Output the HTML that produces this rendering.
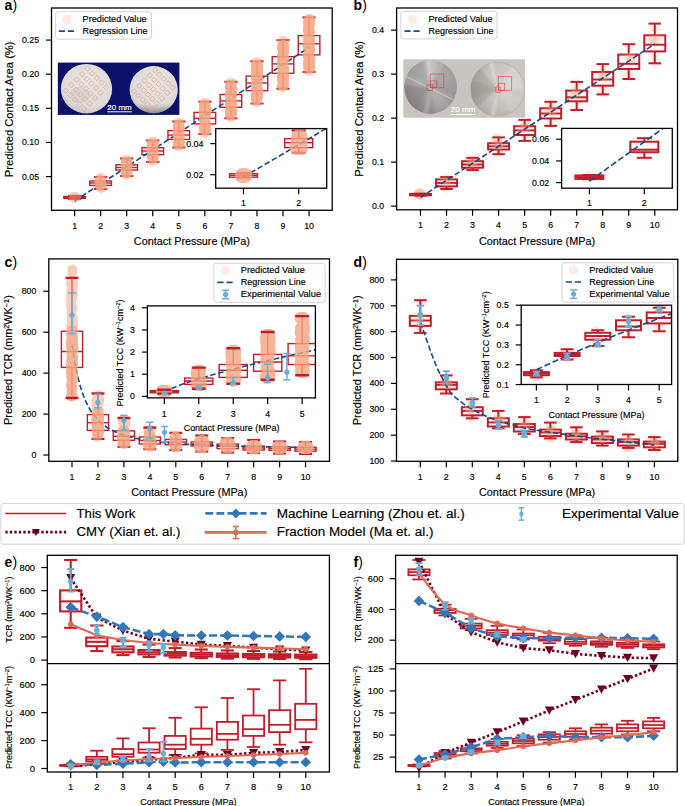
<!DOCTYPE html>
<html><head><meta charset="utf-8"><style>
html,body{margin:0;padding:0;background:#fff;}
svg{display:block;font-family:"Liberation Sans",sans-serif;}
</style></head><body>
<svg width="685" height="806" viewBox="0 0 685 806">
<rect width="685" height="806" fill="#fff"/>
<defs><filter id="soft" x="-20%" y="-20%" width="140%" height="140%"><feGaussianBlur stdDeviation="0.6"/></filter></defs>
<text x="4.6" y="9.8" font-size="14" font-weight="bold" fill="#000">a<tspan font-weight="normal">)</tspan></text>
<text x="353.6" y="9.8" font-size="14" font-weight="bold" fill="#000">b<tspan font-weight="normal">)</tspan></text>
<text x="4.6" y="266.6" font-size="14" font-weight="bold" fill="#000">c<tspan font-weight="normal">)</tspan></text>
<text x="353.6" y="266.6" font-size="14" font-weight="bold" fill="#000">d<tspan font-weight="normal">)</tspan></text>
<text x="4.6" y="566.6" font-size="14" font-weight="bold" fill="#000">e<tspan font-weight="normal">)</tspan></text>
<text x="353.6" y="566.6" font-size="14" font-weight="bold" fill="#000">f<tspan font-weight="normal">)</tspan></text>
<rect x="51.5" y="8" width="280.7" height="202.3" fill="#fff"/>
<line x1="74.6" y1="195.9" x2="74.6" y2="196.5" stroke="#c21d2b" stroke-width="1.4" stroke-linecap="butt"/>
<line x1="74.6" y1="198.3" x2="74.6" y2="198.9" stroke="#c21d2b" stroke-width="1.4" stroke-linecap="butt"/>
<rect x="63.8" y="196.5" width="21.6" height="1.8" fill="#fff" stroke="#c21d2b" stroke-width="1.4"/>
<line x1="63.8" y1="197.4" x2="85.4" y2="197.4" stroke="#c21d2b" stroke-width="1.4" stroke-linecap="butt"/>
<line x1="68" y1="195.9" x2="81.2" y2="195.9" stroke="#c21d2b" stroke-width="2" stroke-linecap="butt"/>
<line x1="68" y1="198.9" x2="81.2" y2="198.9" stroke="#c21d2b" stroke-width="2" stroke-linecap="butt"/>
<line x1="100.65" y1="177" x2="100.65" y2="181" stroke="#c21d2b" stroke-width="1.4" stroke-linecap="butt"/>
<line x1="100.65" y1="185.4" x2="100.65" y2="189" stroke="#c21d2b" stroke-width="1.4" stroke-linecap="butt"/>
<rect x="89.85" y="181" width="21.6" height="4.4" fill="#fff" stroke="#c21d2b" stroke-width="1.4"/>
<line x1="89.85" y1="183" x2="111.45" y2="183" stroke="#c21d2b" stroke-width="1.4" stroke-linecap="butt"/>
<line x1="94.05" y1="177" x2="107.25" y2="177" stroke="#c21d2b" stroke-width="2" stroke-linecap="butt"/>
<line x1="94.05" y1="189" x2="107.25" y2="189" stroke="#c21d2b" stroke-width="2" stroke-linecap="butt"/>
<line x1="126.7" y1="158.5" x2="126.7" y2="164.8" stroke="#c21d2b" stroke-width="1.4" stroke-linecap="butt"/>
<line x1="126.7" y1="170" x2="126.7" y2="176" stroke="#c21d2b" stroke-width="1.4" stroke-linecap="butt"/>
<rect x="115.9" y="164.8" width="21.6" height="5.2" fill="#fff" stroke="#c21d2b" stroke-width="1.4"/>
<line x1="115.9" y1="167.5" x2="137.5" y2="167.5" stroke="#c21d2b" stroke-width="1.4" stroke-linecap="butt"/>
<line x1="120.1" y1="158.5" x2="133.3" y2="158.5" stroke="#c21d2b" stroke-width="2" stroke-linecap="butt"/>
<line x1="120.1" y1="176" x2="133.3" y2="176" stroke="#c21d2b" stroke-width="2" stroke-linecap="butt"/>
<line x1="152.75" y1="140.5" x2="152.75" y2="147.7" stroke="#c21d2b" stroke-width="1.4" stroke-linecap="butt"/>
<line x1="152.75" y1="154.7" x2="152.75" y2="162" stroke="#c21d2b" stroke-width="1.4" stroke-linecap="butt"/>
<rect x="141.95" y="147.7" width="21.6" height="7" fill="#fff" stroke="#c21d2b" stroke-width="1.4"/>
<line x1="141.95" y1="151" x2="163.55" y2="151" stroke="#c21d2b" stroke-width="1.4" stroke-linecap="butt"/>
<line x1="146.15" y1="140.5" x2="159.35" y2="140.5" stroke="#c21d2b" stroke-width="2" stroke-linecap="butt"/>
<line x1="146.15" y1="162" x2="159.35" y2="162" stroke="#c21d2b" stroke-width="2" stroke-linecap="butt"/>
<line x1="178.8" y1="121.5" x2="178.8" y2="130.7" stroke="#c21d2b" stroke-width="1.4" stroke-linecap="butt"/>
<line x1="178.8" y1="139.4" x2="178.8" y2="147.5" stroke="#c21d2b" stroke-width="1.4" stroke-linecap="butt"/>
<rect x="168" y="130.7" width="21.6" height="8.7" fill="#fff" stroke="#c21d2b" stroke-width="1.4"/>
<line x1="168" y1="135" x2="189.6" y2="135" stroke="#c21d2b" stroke-width="1.4" stroke-linecap="butt"/>
<line x1="172.2" y1="121.5" x2="185.4" y2="121.5" stroke="#c21d2b" stroke-width="2" stroke-linecap="butt"/>
<line x1="172.2" y1="147.5" x2="185.4" y2="147.5" stroke="#c21d2b" stroke-width="2" stroke-linecap="butt"/>
<line x1="204.85" y1="101.7" x2="204.85" y2="112.4" stroke="#c21d2b" stroke-width="1.4" stroke-linecap="butt"/>
<line x1="204.85" y1="123.9" x2="204.85" y2="134" stroke="#c21d2b" stroke-width="1.4" stroke-linecap="butt"/>
<rect x="194.05" y="112.4" width="21.6" height="11.5" fill="#fff" stroke="#c21d2b" stroke-width="1.4"/>
<line x1="194.05" y1="118.3" x2="215.65" y2="118.3" stroke="#c21d2b" stroke-width="1.4" stroke-linecap="butt"/>
<line x1="198.25" y1="101.7" x2="211.45" y2="101.7" stroke="#c21d2b" stroke-width="2" stroke-linecap="butt"/>
<line x1="198.25" y1="134" x2="211.45" y2="134" stroke="#c21d2b" stroke-width="2" stroke-linecap="butt"/>
<line x1="230.9" y1="81.8" x2="230.9" y2="94.5" stroke="#c21d2b" stroke-width="1.4" stroke-linecap="butt"/>
<line x1="230.9" y1="107.3" x2="230.9" y2="118.3" stroke="#c21d2b" stroke-width="1.4" stroke-linecap="butt"/>
<rect x="220.1" y="94.5" width="21.6" height="12.8" fill="#fff" stroke="#c21d2b" stroke-width="1.4"/>
<line x1="220.1" y1="100.9" x2="241.7" y2="100.9" stroke="#c21d2b" stroke-width="1.4" stroke-linecap="butt"/>
<line x1="224.3" y1="81.8" x2="237.5" y2="81.8" stroke="#c21d2b" stroke-width="2" stroke-linecap="butt"/>
<line x1="224.3" y1="118.3" x2="237.5" y2="118.3" stroke="#c21d2b" stroke-width="2" stroke-linecap="butt"/>
<line x1="256.95" y1="61.3" x2="256.95" y2="76.1" stroke="#c21d2b" stroke-width="1.4" stroke-linecap="butt"/>
<line x1="256.95" y1="90.7" x2="256.95" y2="103.5" stroke="#c21d2b" stroke-width="1.4" stroke-linecap="butt"/>
<rect x="246.15" y="76.1" width="21.6" height="14.6" fill="#fff" stroke="#c21d2b" stroke-width="1.4"/>
<line x1="246.15" y1="83" x2="267.75" y2="83" stroke="#c21d2b" stroke-width="1.4" stroke-linecap="butt"/>
<line x1="250.35" y1="61.3" x2="263.55" y2="61.3" stroke="#c21d2b" stroke-width="2" stroke-linecap="butt"/>
<line x1="250.35" y1="103.5" x2="263.55" y2="103.5" stroke="#c21d2b" stroke-width="2" stroke-linecap="butt"/>
<line x1="283" y1="40.1" x2="283" y2="56.7" stroke="#c21d2b" stroke-width="1.4" stroke-linecap="butt"/>
<line x1="283" y1="73.3" x2="283" y2="88.7" stroke="#c21d2b" stroke-width="1.4" stroke-linecap="butt"/>
<rect x="272.2" y="56.7" width="21.6" height="16.6" fill="#fff" stroke="#c21d2b" stroke-width="1.4"/>
<line x1="272.2" y1="63.9" x2="293.8" y2="63.9" stroke="#c21d2b" stroke-width="1.4" stroke-linecap="butt"/>
<line x1="276.4" y1="40.1" x2="289.6" y2="40.1" stroke="#c21d2b" stroke-width="2" stroke-linecap="butt"/>
<line x1="276.4" y1="88.7" x2="289.6" y2="88.7" stroke="#c21d2b" stroke-width="2" stroke-linecap="butt"/>
<line x1="309.05" y1="17.4" x2="309.05" y2="35.6" stroke="#c21d2b" stroke-width="1.4" stroke-linecap="butt"/>
<line x1="309.05" y1="54.9" x2="309.05" y2="72" stroke="#c21d2b" stroke-width="1.4" stroke-linecap="butt"/>
<rect x="298.25" y="35.6" width="21.6" height="19.3" fill="#fff" stroke="#c21d2b" stroke-width="1.4"/>
<line x1="298.25" y1="43.8" x2="319.85" y2="43.8" stroke="#c21d2b" stroke-width="1.4" stroke-linecap="butt"/>
<line x1="302.45" y1="17.4" x2="315.65" y2="17.4" stroke="#c21d2b" stroke-width="2" stroke-linecap="butt"/>
<line x1="302.45" y1="72" x2="315.65" y2="72" stroke="#c21d2b" stroke-width="2" stroke-linecap="butt"/>
<line x1="74.6" y1="201" x2="309.05" y2="47.5" stroke="#174a8b" stroke-width="1.6" stroke-linecap="butt" stroke-dasharray="5.6,2.6"/>
<g opacity="0.500" filter="url(#soft)">
<circle cx="74.87" cy="197.3" r="5.1" fill="#f4a582"/>
<circle cx="74.36" cy="197.3" r="5.1" fill="#f4a582"/>
<circle cx="73.77" cy="197.3" r="5.1" fill="#f4a582"/>
<circle cx="73.86" cy="197.3" r="5.1" fill="#f4a582"/>
<circle cx="73.92" cy="197.3" r="5.1" fill="#f4a582"/>
<circle cx="75.41" cy="197.3" r="5.1" fill="#f4a582"/>
<circle cx="75.46" cy="197.3" r="5.1" fill="#f4a582"/>
<circle cx="74.22" cy="197.3" r="5.1" fill="#f4a582"/>
<circle cx="74.26" cy="197.3" r="5.1" fill="#f4a582"/>
<circle cx="74.75" cy="197.3" r="5.1" fill="#f4a582"/>
<circle cx="74.69" cy="197.3" r="5.1" fill="#f4a582"/>
<circle cx="74.07" cy="197.3" r="5.1" fill="#f4a582"/>
<circle cx="74.27" cy="197.3" r="5.1" fill="#f4a582"/>
<circle cx="74.24" cy="197.3" r="5.1" fill="#f4a582"/>
<circle cx="74.14" cy="197.3" r="5.1" fill="#f4a582"/>
<circle cx="75.28" cy="197.3" r="5.1" fill="#f4a582"/>
<circle cx="75.46" cy="197.3" r="5.1" fill="#f4a582"/>
<circle cx="75.06" cy="197.3" r="5.1" fill="#f4a582"/>
<circle cx="73.77" cy="197.3" r="5.1" fill="#f4a582"/>
<circle cx="74.73" cy="197.3" r="5.1" fill="#f4a582"/>
<circle cx="74.95" cy="197.3" r="5.1" fill="#f4a582"/>
<circle cx="74.52" cy="197.3" r="5.1" fill="#f4a582"/>
<circle cx="74.55" cy="197.3" r="5.1" fill="#f4a582"/>
<circle cx="74.96" cy="197.3" r="5.1" fill="#f4a582"/>
<circle cx="75.18" cy="197.3" r="5.1" fill="#f4a582"/>
</g>
<g opacity="0.780" filter="url(#soft)">
</g>
<g opacity="0.500" filter="url(#soft)">
<circle cx="100.95" cy="181.63" r="5.1" fill="#f4a582"/>
<circle cx="100.05" cy="182.54" r="5.1" fill="#f4a582"/>
<circle cx="101.13" cy="178.6" r="5.1" fill="#f4a582"/>
<circle cx="100.45" cy="179.97" r="5.1" fill="#f4a582"/>
<circle cx="100.56" cy="178.6" r="5.1" fill="#f4a582"/>
<circle cx="101.22" cy="187.4" r="5.1" fill="#f4a582"/>
<circle cx="100.5" cy="180.34" r="5.1" fill="#f4a582"/>
<circle cx="101.47" cy="187.4" r="5.1" fill="#f4a582"/>
<circle cx="100.17" cy="179.11" r="5.1" fill="#f4a582"/>
<circle cx="100.81" cy="182.82" r="5.1" fill="#f4a582"/>
<circle cx="100.5" cy="178.6" r="5.1" fill="#f4a582"/>
<circle cx="101.47" cy="183.8" r="5.1" fill="#f4a582"/>
<circle cx="100.86" cy="183.19" r="5.1" fill="#f4a582"/>
<circle cx="101.37" cy="178.6" r="5.1" fill="#f4a582"/>
<circle cx="101.19" cy="187.4" r="5.1" fill="#f4a582"/>
<circle cx="99.94" cy="181.79" r="5.1" fill="#f4a582"/>
<circle cx="99.87" cy="178.6" r="5.1" fill="#f4a582"/>
<circle cx="100.36" cy="178.95" r="5.1" fill="#f4a582"/>
<circle cx="100.02" cy="178.6" r="5.1" fill="#f4a582"/>
<circle cx="99.8" cy="181.36" r="5.1" fill="#f4a582"/>
<circle cx="100.02" cy="184.37" r="5.1" fill="#f4a582"/>
<circle cx="100.41" cy="181.17" r="5.1" fill="#f4a582"/>
<circle cx="101.54" cy="187.19" r="5.1" fill="#f4a582"/>
<circle cx="99.9" cy="182.81" r="5.1" fill="#f4a582"/>
<circle cx="100.23" cy="181.11" r="5.1" fill="#f4a582"/>
<circle cx="99.79" cy="178.94" r="5.1" fill="#f4a582"/>
<circle cx="100.01" cy="183.54" r="5.1" fill="#f4a582"/>
<circle cx="100.7" cy="178.6" r="5.1" fill="#f4a582"/>
<circle cx="101" cy="187.4" r="5.1" fill="#f4a582"/>
<circle cx="100.05" cy="181.4" r="5.1" fill="#f4a582"/>
<circle cx="101.15" cy="183.39" r="5.1" fill="#f4a582"/>
<circle cx="101.21" cy="179.68" r="5.1" fill="#f4a582"/>
<circle cx="101.2" cy="187.4" r="5.1" fill="#f4a582"/>
<circle cx="100.16" cy="185.88" r="5.1" fill="#f4a582"/>
</g>
<g opacity="0.780" filter="url(#soft)">
<circle cx="100.95" cy="181.63" r="5.1" fill="#f4a582"/>
<circle cx="100.05" cy="182.54" r="5.1" fill="#f4a582"/>
<circle cx="100.5" cy="180.34" r="5.1" fill="#f4a582"/>
<circle cx="100.81" cy="182.82" r="5.1" fill="#f4a582"/>
<circle cx="101.47" cy="183.8" r="5.1" fill="#f4a582"/>
<circle cx="100.86" cy="183.19" r="5.1" fill="#f4a582"/>
<circle cx="99.94" cy="181.79" r="5.1" fill="#f4a582"/>
<circle cx="99.8" cy="181.36" r="5.1" fill="#f4a582"/>
<circle cx="100.02" cy="184.37" r="5.1" fill="#f4a582"/>
<circle cx="100.41" cy="181.17" r="5.1" fill="#f4a582"/>
<circle cx="99.9" cy="182.81" r="5.1" fill="#f4a582"/>
<circle cx="100.23" cy="181.11" r="5.1" fill="#f4a582"/>
<circle cx="100.01" cy="183.54" r="5.1" fill="#f4a582"/>
<circle cx="100.05" cy="181.4" r="5.1" fill="#f4a582"/>
<circle cx="101.15" cy="183.39" r="5.1" fill="#f4a582"/>
<circle cx="100.16" cy="185.88" r="5.1" fill="#f4a582"/>
</g>
<g opacity="0.500" filter="url(#soft)">
<circle cx="125.85" cy="164.72" r="5.1" fill="#f4a582"/>
<circle cx="126.27" cy="163.39" r="5.1" fill="#f4a582"/>
<circle cx="126.61" cy="174.4" r="5.1" fill="#f4a582"/>
<circle cx="127.52" cy="174.4" r="5.1" fill="#f4a582"/>
<circle cx="126.21" cy="162.36" r="5.1" fill="#f4a582"/>
<circle cx="126.92" cy="162.08" r="5.1" fill="#f4a582"/>
<circle cx="126.66" cy="174.4" r="5.1" fill="#f4a582"/>
<circle cx="125.95" cy="172.49" r="5.1" fill="#f4a582"/>
<circle cx="127.21" cy="174.4" r="5.1" fill="#f4a582"/>
<circle cx="126.12" cy="166.87" r="5.1" fill="#f4a582"/>
<circle cx="127.24" cy="164.32" r="5.1" fill="#f4a582"/>
<circle cx="126.52" cy="164.7" r="5.1" fill="#f4a582"/>
<circle cx="126.11" cy="172.76" r="5.1" fill="#f4a582"/>
<circle cx="127.43" cy="161.15" r="5.1" fill="#f4a582"/>
<circle cx="127.29" cy="161.06" r="5.1" fill="#f4a582"/>
<circle cx="126.43" cy="171.1" r="5.1" fill="#f4a582"/>
<circle cx="125.83" cy="160.79" r="5.1" fill="#f4a582"/>
<circle cx="126.75" cy="170.92" r="5.1" fill="#f4a582"/>
<circle cx="127.37" cy="165.63" r="5.1" fill="#f4a582"/>
<circle cx="126.25" cy="162.19" r="5.1" fill="#f4a582"/>
<circle cx="126.86" cy="162.71" r="5.1" fill="#f4a582"/>
<circle cx="126.04" cy="165.83" r="5.1" fill="#f4a582"/>
<circle cx="126.62" cy="163.67" r="5.1" fill="#f4a582"/>
<circle cx="126.56" cy="174.33" r="5.1" fill="#f4a582"/>
<circle cx="126.76" cy="167.29" r="5.1" fill="#f4a582"/>
<circle cx="126.59" cy="160.1" r="5.1" fill="#f4a582"/>
<circle cx="127.24" cy="160.1" r="5.1" fill="#f4a582"/>
<circle cx="127.11" cy="166.79" r="5.1" fill="#f4a582"/>
<circle cx="126.73" cy="164.2" r="5.1" fill="#f4a582"/>
<circle cx="125.99" cy="172.22" r="5.1" fill="#f4a582"/>
<circle cx="126.3" cy="162.85" r="5.1" fill="#f4a582"/>
<circle cx="126.81" cy="167.38" r="5.1" fill="#f4a582"/>
<circle cx="126.6" cy="174.4" r="5.1" fill="#f4a582"/>
<circle cx="126.72" cy="167.35" r="5.1" fill="#f4a582"/>
<circle cx="126.76" cy="166.42" r="5.1" fill="#f4a582"/>
<circle cx="127.06" cy="174.4" r="5.1" fill="#f4a582"/>
<circle cx="126.27" cy="174.4" r="5.1" fill="#f4a582"/>
<circle cx="127.31" cy="174.4" r="5.1" fill="#f4a582"/>
<circle cx="126.6" cy="160.63" r="5.1" fill="#f4a582"/>
<circle cx="125.93" cy="162.71" r="5.1" fill="#f4a582"/>
<circle cx="127.41" cy="172.22" r="5.1" fill="#f4a582"/>
<circle cx="126.99" cy="171.03" r="5.1" fill="#f4a582"/>
<circle cx="127.54" cy="173.95" r="5.1" fill="#f4a582"/>
</g>
<g opacity="0.780" filter="url(#soft)">
<circle cx="125.85" cy="164.72" r="5.1" fill="#f4a582"/>
<circle cx="126.27" cy="163.39" r="5.1" fill="#f4a582"/>
<circle cx="126.21" cy="162.36" r="5.1" fill="#f4a582"/>
<circle cx="126.92" cy="162.08" r="5.1" fill="#f4a582"/>
<circle cx="125.95" cy="172.49" r="5.1" fill="#f4a582"/>
<circle cx="126.12" cy="166.87" r="5.1" fill="#f4a582"/>
<circle cx="127.24" cy="164.32" r="5.1" fill="#f4a582"/>
<circle cx="126.52" cy="164.7" r="5.1" fill="#f4a582"/>
<circle cx="126.11" cy="172.76" r="5.1" fill="#f4a582"/>
<circle cx="126.43" cy="171.1" r="5.1" fill="#f4a582"/>
<circle cx="126.75" cy="170.92" r="5.1" fill="#f4a582"/>
<circle cx="127.37" cy="165.63" r="5.1" fill="#f4a582"/>
<circle cx="126.25" cy="162.19" r="5.1" fill="#f4a582"/>
<circle cx="126.86" cy="162.71" r="5.1" fill="#f4a582"/>
<circle cx="126.04" cy="165.83" r="5.1" fill="#f4a582"/>
<circle cx="126.62" cy="163.67" r="5.1" fill="#f4a582"/>
<circle cx="126.76" cy="167.29" r="5.1" fill="#f4a582"/>
<circle cx="127.11" cy="166.79" r="5.1" fill="#f4a582"/>
<circle cx="126.73" cy="164.2" r="5.1" fill="#f4a582"/>
<circle cx="125.99" cy="172.22" r="5.1" fill="#f4a582"/>
<circle cx="126.3" cy="162.85" r="5.1" fill="#f4a582"/>
<circle cx="126.81" cy="167.38" r="5.1" fill="#f4a582"/>
<circle cx="126.72" cy="167.35" r="5.1" fill="#f4a582"/>
<circle cx="126.76" cy="166.42" r="5.1" fill="#f4a582"/>
<circle cx="125.93" cy="162.71" r="5.1" fill="#f4a582"/>
<circle cx="127.41" cy="172.22" r="5.1" fill="#f4a582"/>
<circle cx="126.99" cy="171.03" r="5.1" fill="#f4a582"/>
</g>
<g opacity="0.500" filter="url(#soft)">
<circle cx="152.57" cy="160.4" r="5.1" fill="#f4a582"/>
<circle cx="153.35" cy="160.4" r="5.1" fill="#f4a582"/>
<circle cx="152.78" cy="149.78" r="5.1" fill="#f4a582"/>
<circle cx="152.42" cy="144.71" r="5.1" fill="#f4a582"/>
<circle cx="152.85" cy="142.1" r="5.1" fill="#f4a582"/>
<circle cx="152.45" cy="142.1" r="5.1" fill="#f4a582"/>
<circle cx="151.97" cy="151.51" r="5.1" fill="#f4a582"/>
<circle cx="153.6" cy="159.47" r="5.1" fill="#f4a582"/>
<circle cx="151.92" cy="146.21" r="5.1" fill="#f4a582"/>
<circle cx="152.08" cy="146.31" r="5.1" fill="#f4a582"/>
<circle cx="153.32" cy="160.1" r="5.1" fill="#f4a582"/>
<circle cx="153.5" cy="143.71" r="5.1" fill="#f4a582"/>
<circle cx="152.01" cy="155.56" r="5.1" fill="#f4a582"/>
<circle cx="152.62" cy="155.3" r="5.1" fill="#f4a582"/>
<circle cx="152.99" cy="160.4" r="5.1" fill="#f4a582"/>
<circle cx="153.39" cy="142.3" r="5.1" fill="#f4a582"/>
<circle cx="152.67" cy="159.05" r="5.1" fill="#f4a582"/>
<circle cx="153.52" cy="152.39" r="5.1" fill="#f4a582"/>
<circle cx="152.8" cy="143.28" r="5.1" fill="#f4a582"/>
<circle cx="152.14" cy="142.85" r="5.1" fill="#f4a582"/>
<circle cx="152.41" cy="144.84" r="5.1" fill="#f4a582"/>
<circle cx="152.37" cy="156.83" r="5.1" fill="#f4a582"/>
<circle cx="152.47" cy="144.32" r="5.1" fill="#f4a582"/>
<circle cx="151.88" cy="145.88" r="5.1" fill="#f4a582"/>
<circle cx="152.19" cy="152.35" r="5.1" fill="#f4a582"/>
<circle cx="152.04" cy="160.4" r="5.1" fill="#f4a582"/>
<circle cx="152.74" cy="149.79" r="5.1" fill="#f4a582"/>
<circle cx="152.76" cy="148.95" r="5.1" fill="#f4a582"/>
<circle cx="152.47" cy="160.4" r="5.1" fill="#f4a582"/>
<circle cx="152.99" cy="155.69" r="5.1" fill="#f4a582"/>
<circle cx="151.95" cy="147.97" r="5.1" fill="#f4a582"/>
<circle cx="153.18" cy="142.1" r="5.1" fill="#f4a582"/>
<circle cx="152" cy="144.01" r="5.1" fill="#f4a582"/>
<circle cx="153.06" cy="159.22" r="5.1" fill="#f4a582"/>
<circle cx="152.38" cy="145.71" r="5.1" fill="#f4a582"/>
<circle cx="152.65" cy="143.89" r="5.1" fill="#f4a582"/>
<circle cx="153.6" cy="160.4" r="5.1" fill="#f4a582"/>
<circle cx="153.59" cy="145.76" r="5.1" fill="#f4a582"/>
<circle cx="151.85" cy="148.17" r="5.1" fill="#f4a582"/>
<circle cx="152.75" cy="150.7" r="5.1" fill="#f4a582"/>
<circle cx="151.86" cy="151.35" r="5.1" fill="#f4a582"/>
<circle cx="152.57" cy="142.43" r="5.1" fill="#f4a582"/>
<circle cx="152.4" cy="142.1" r="5.1" fill="#f4a582"/>
<circle cx="152.8" cy="153.09" r="5.1" fill="#f4a582"/>
<circle cx="153.14" cy="154.64" r="5.1" fill="#f4a582"/>
<circle cx="152.44" cy="148.87" r="5.1" fill="#f4a582"/>
<circle cx="153.15" cy="142.1" r="5.1" fill="#f4a582"/>
<circle cx="153.35" cy="142.1" r="5.1" fill="#f4a582"/>
<circle cx="153.17" cy="153.99" r="5.1" fill="#f4a582"/>
<circle cx="152.79" cy="143.5" r="5.1" fill="#f4a582"/>
<circle cx="153.3" cy="158.45" r="5.1" fill="#f4a582"/>
<circle cx="153.46" cy="153.06" r="5.1" fill="#f4a582"/>
</g>
<g opacity="0.780" filter="url(#soft)">
<circle cx="152.78" cy="149.78" r="5.1" fill="#f4a582"/>
<circle cx="152.42" cy="144.71" r="5.1" fill="#f4a582"/>
<circle cx="151.97" cy="151.51" r="5.1" fill="#f4a582"/>
<circle cx="151.92" cy="146.21" r="5.1" fill="#f4a582"/>
<circle cx="152.08" cy="146.31" r="5.1" fill="#f4a582"/>
<circle cx="153.5" cy="143.71" r="5.1" fill="#f4a582"/>
<circle cx="152.01" cy="155.56" r="5.1" fill="#f4a582"/>
<circle cx="152.62" cy="155.3" r="5.1" fill="#f4a582"/>
<circle cx="153.52" cy="152.39" r="5.1" fill="#f4a582"/>
<circle cx="152.41" cy="144.84" r="5.1" fill="#f4a582"/>
<circle cx="152.37" cy="156.83" r="5.1" fill="#f4a582"/>
<circle cx="152.47" cy="144.32" r="5.1" fill="#f4a582"/>
<circle cx="151.88" cy="145.88" r="5.1" fill="#f4a582"/>
<circle cx="152.19" cy="152.35" r="5.1" fill="#f4a582"/>
<circle cx="152.74" cy="149.79" r="5.1" fill="#f4a582"/>
<circle cx="152.76" cy="148.95" r="5.1" fill="#f4a582"/>
<circle cx="152.99" cy="155.69" r="5.1" fill="#f4a582"/>
<circle cx="151.95" cy="147.97" r="5.1" fill="#f4a582"/>
<circle cx="152" cy="144.01" r="5.1" fill="#f4a582"/>
<circle cx="152.38" cy="145.71" r="5.1" fill="#f4a582"/>
<circle cx="152.65" cy="143.89" r="5.1" fill="#f4a582"/>
<circle cx="153.59" cy="145.76" r="5.1" fill="#f4a582"/>
<circle cx="151.85" cy="148.17" r="5.1" fill="#f4a582"/>
<circle cx="152.75" cy="150.7" r="5.1" fill="#f4a582"/>
<circle cx="151.86" cy="151.35" r="5.1" fill="#f4a582"/>
<circle cx="152.8" cy="153.09" r="5.1" fill="#f4a582"/>
<circle cx="153.14" cy="154.64" r="5.1" fill="#f4a582"/>
<circle cx="152.44" cy="148.87" r="5.1" fill="#f4a582"/>
<circle cx="153.17" cy="153.99" r="5.1" fill="#f4a582"/>
<circle cx="153.3" cy="158.45" r="5.1" fill="#f4a582"/>
<circle cx="153.46" cy="153.06" r="5.1" fill="#f4a582"/>
</g>
<g opacity="0.500" filter="url(#soft)">
<circle cx="178.31" cy="139.53" r="5.1" fill="#f4a582"/>
<circle cx="178.55" cy="124.96" r="5.1" fill="#f4a582"/>
<circle cx="178.91" cy="143.23" r="5.1" fill="#f4a582"/>
<circle cx="179.13" cy="137.78" r="5.1" fill="#f4a582"/>
<circle cx="179.34" cy="123.1" r="5.1" fill="#f4a582"/>
<circle cx="178.86" cy="134.58" r="5.1" fill="#f4a582"/>
<circle cx="179.23" cy="123.22" r="5.1" fill="#f4a582"/>
<circle cx="178.38" cy="123.44" r="5.1" fill="#f4a582"/>
<circle cx="179.23" cy="126.84" r="5.1" fill="#f4a582"/>
<circle cx="178.59" cy="134.3" r="5.1" fill="#f4a582"/>
<circle cx="179.28" cy="139.28" r="5.1" fill="#f4a582"/>
<circle cx="178.04" cy="138.21" r="5.1" fill="#f4a582"/>
<circle cx="179.24" cy="128.1" r="5.1" fill="#f4a582"/>
<circle cx="177.92" cy="136.26" r="5.1" fill="#f4a582"/>
<circle cx="179.11" cy="128.49" r="5.1" fill="#f4a582"/>
<circle cx="178.42" cy="139.07" r="5.1" fill="#f4a582"/>
<circle cx="178.74" cy="133.58" r="5.1" fill="#f4a582"/>
<circle cx="178.26" cy="144.74" r="5.1" fill="#f4a582"/>
<circle cx="177.93" cy="145.9" r="5.1" fill="#f4a582"/>
<circle cx="179.64" cy="142.82" r="5.1" fill="#f4a582"/>
<circle cx="178.28" cy="128.49" r="5.1" fill="#f4a582"/>
<circle cx="178.95" cy="124.95" r="5.1" fill="#f4a582"/>
<circle cx="179.61" cy="135.13" r="5.1" fill="#f4a582"/>
<circle cx="178.82" cy="142.83" r="5.1" fill="#f4a582"/>
<circle cx="178.32" cy="139.79" r="5.1" fill="#f4a582"/>
<circle cx="177.94" cy="134.14" r="5.1" fill="#f4a582"/>
<circle cx="178.71" cy="134.28" r="5.1" fill="#f4a582"/>
<circle cx="178.52" cy="125.16" r="5.1" fill="#f4a582"/>
<circle cx="177.9" cy="143.35" r="5.1" fill="#f4a582"/>
<circle cx="178.12" cy="143.32" r="5.1" fill="#f4a582"/>
<circle cx="179.52" cy="141.53" r="5.1" fill="#f4a582"/>
<circle cx="178.61" cy="131.18" r="5.1" fill="#f4a582"/>
<circle cx="178.55" cy="137.44" r="5.1" fill="#f4a582"/>
<circle cx="177.99" cy="128.65" r="5.1" fill="#f4a582"/>
<circle cx="178.41" cy="143.2" r="5.1" fill="#f4a582"/>
<circle cx="178.38" cy="126.23" r="5.1" fill="#f4a582"/>
<circle cx="178.57" cy="126.44" r="5.1" fill="#f4a582"/>
<circle cx="179.36" cy="145.9" r="5.1" fill="#f4a582"/>
<circle cx="179.59" cy="145.25" r="5.1" fill="#f4a582"/>
<circle cx="177.99" cy="140.21" r="5.1" fill="#f4a582"/>
<circle cx="179.25" cy="133.22" r="5.1" fill="#f4a582"/>
<circle cx="177.99" cy="128.94" r="5.1" fill="#f4a582"/>
<circle cx="178.75" cy="123.1" r="5.1" fill="#f4a582"/>
<circle cx="179.23" cy="129.24" r="5.1" fill="#f4a582"/>
<circle cx="179.08" cy="126.59" r="5.1" fill="#f4a582"/>
<circle cx="178.61" cy="135.99" r="5.1" fill="#f4a582"/>
<circle cx="178.27" cy="125.7" r="5.1" fill="#f4a582"/>
<circle cx="178.3" cy="134.4" r="5.1" fill="#f4a582"/>
<circle cx="178.71" cy="145.9" r="5.1" fill="#f4a582"/>
<circle cx="178.06" cy="126.5" r="5.1" fill="#f4a582"/>
<circle cx="178.33" cy="123.87" r="5.1" fill="#f4a582"/>
<circle cx="179.5" cy="136.31" r="5.1" fill="#f4a582"/>
<circle cx="178.64" cy="132.23" r="5.1" fill="#f4a582"/>
<circle cx="178.51" cy="131.3" r="5.1" fill="#f4a582"/>
<circle cx="179.64" cy="128.72" r="5.1" fill="#f4a582"/>
<circle cx="179.03" cy="134.59" r="5.1" fill="#f4a582"/>
<circle cx="178.39" cy="127.12" r="5.1" fill="#f4a582"/>
<circle cx="178.7" cy="131.89" r="5.1" fill="#f4a582"/>
<circle cx="179.47" cy="145.9" r="5.1" fill="#f4a582"/>
<circle cx="179.18" cy="123.1" r="5.1" fill="#f4a582"/>
<circle cx="178.96" cy="133.8" r="5.1" fill="#f4a582"/>
</g>
<g opacity="0.780" filter="url(#soft)">
<circle cx="178.31" cy="139.53" r="5.1" fill="#f4a582"/>
<circle cx="178.55" cy="124.96" r="5.1" fill="#f4a582"/>
<circle cx="178.91" cy="143.23" r="5.1" fill="#f4a582"/>
<circle cx="179.13" cy="137.78" r="5.1" fill="#f4a582"/>
<circle cx="178.86" cy="134.58" r="5.1" fill="#f4a582"/>
<circle cx="179.23" cy="126.84" r="5.1" fill="#f4a582"/>
<circle cx="178.59" cy="134.3" r="5.1" fill="#f4a582"/>
<circle cx="179.28" cy="139.28" r="5.1" fill="#f4a582"/>
<circle cx="178.04" cy="138.21" r="5.1" fill="#f4a582"/>
<circle cx="179.24" cy="128.1" r="5.1" fill="#f4a582"/>
<circle cx="177.92" cy="136.26" r="5.1" fill="#f4a582"/>
<circle cx="179.11" cy="128.49" r="5.1" fill="#f4a582"/>
<circle cx="178.42" cy="139.07" r="5.1" fill="#f4a582"/>
<circle cx="178.74" cy="133.58" r="5.1" fill="#f4a582"/>
<circle cx="179.64" cy="142.82" r="5.1" fill="#f4a582"/>
<circle cx="178.28" cy="128.49" r="5.1" fill="#f4a582"/>
<circle cx="178.95" cy="124.95" r="5.1" fill="#f4a582"/>
<circle cx="179.61" cy="135.13" r="5.1" fill="#f4a582"/>
<circle cx="178.82" cy="142.83" r="5.1" fill="#f4a582"/>
<circle cx="178.32" cy="139.79" r="5.1" fill="#f4a582"/>
<circle cx="177.94" cy="134.14" r="5.1" fill="#f4a582"/>
<circle cx="178.71" cy="134.28" r="5.1" fill="#f4a582"/>
<circle cx="178.52" cy="125.16" r="5.1" fill="#f4a582"/>
<circle cx="177.9" cy="143.35" r="5.1" fill="#f4a582"/>
<circle cx="178.12" cy="143.32" r="5.1" fill="#f4a582"/>
<circle cx="179.52" cy="141.53" r="5.1" fill="#f4a582"/>
<circle cx="178.61" cy="131.18" r="5.1" fill="#f4a582"/>
<circle cx="178.55" cy="137.44" r="5.1" fill="#f4a582"/>
<circle cx="177.99" cy="128.65" r="5.1" fill="#f4a582"/>
<circle cx="178.41" cy="143.2" r="5.1" fill="#f4a582"/>
<circle cx="178.38" cy="126.23" r="5.1" fill="#f4a582"/>
<circle cx="178.57" cy="126.44" r="5.1" fill="#f4a582"/>
<circle cx="177.99" cy="140.21" r="5.1" fill="#f4a582"/>
<circle cx="179.25" cy="133.22" r="5.1" fill="#f4a582"/>
<circle cx="177.99" cy="128.94" r="5.1" fill="#f4a582"/>
<circle cx="179.23" cy="129.24" r="5.1" fill="#f4a582"/>
<circle cx="179.08" cy="126.59" r="5.1" fill="#f4a582"/>
<circle cx="178.61" cy="135.99" r="5.1" fill="#f4a582"/>
<circle cx="178.27" cy="125.7" r="5.1" fill="#f4a582"/>
<circle cx="178.3" cy="134.4" r="5.1" fill="#f4a582"/>
<circle cx="178.06" cy="126.5" r="5.1" fill="#f4a582"/>
<circle cx="179.5" cy="136.31" r="5.1" fill="#f4a582"/>
<circle cx="178.64" cy="132.23" r="5.1" fill="#f4a582"/>
<circle cx="178.51" cy="131.3" r="5.1" fill="#f4a582"/>
<circle cx="179.64" cy="128.72" r="5.1" fill="#f4a582"/>
<circle cx="179.03" cy="134.59" r="5.1" fill="#f4a582"/>
<circle cx="178.39" cy="127.12" r="5.1" fill="#f4a582"/>
<circle cx="178.7" cy="131.89" r="5.1" fill="#f4a582"/>
<circle cx="178.96" cy="133.8" r="5.1" fill="#f4a582"/>
</g>
<g opacity="0.500" filter="url(#soft)">
<circle cx="205.62" cy="114.35" r="5.1" fill="#f4a582"/>
<circle cx="205.7" cy="129.33" r="5.1" fill="#f4a582"/>
<circle cx="204.23" cy="105.22" r="5.1" fill="#f4a582"/>
<circle cx="205.64" cy="123.73" r="5.1" fill="#f4a582"/>
<circle cx="205.33" cy="122.61" r="5.1" fill="#f4a582"/>
<circle cx="204.02" cy="119.51" r="5.1" fill="#f4a582"/>
<circle cx="205.61" cy="109.21" r="5.1" fill="#f4a582"/>
<circle cx="204.18" cy="111.51" r="5.1" fill="#f4a582"/>
<circle cx="205.21" cy="122.25" r="5.1" fill="#f4a582"/>
<circle cx="204.89" cy="103.97" r="5.1" fill="#f4a582"/>
<circle cx="204.35" cy="114.24" r="5.1" fill="#f4a582"/>
<circle cx="204.49" cy="103.3" r="5.1" fill="#f4a582"/>
<circle cx="205.11" cy="132.4" r="5.1" fill="#f4a582"/>
<circle cx="204.37" cy="117.05" r="5.1" fill="#f4a582"/>
<circle cx="205.22" cy="132.4" r="5.1" fill="#f4a582"/>
<circle cx="204.85" cy="103.3" r="5.1" fill="#f4a582"/>
<circle cx="204.41" cy="115.27" r="5.1" fill="#f4a582"/>
<circle cx="204.36" cy="131.58" r="5.1" fill="#f4a582"/>
<circle cx="204.71" cy="112.62" r="5.1" fill="#f4a582"/>
<circle cx="205.38" cy="108.1" r="5.1" fill="#f4a582"/>
<circle cx="204.32" cy="118.01" r="5.1" fill="#f4a582"/>
<circle cx="205.43" cy="110.45" r="5.1" fill="#f4a582"/>
<circle cx="205.32" cy="108.85" r="5.1" fill="#f4a582"/>
<circle cx="204.84" cy="132.4" r="5.1" fill="#f4a582"/>
<circle cx="204.7" cy="108.91" r="5.1" fill="#f4a582"/>
<circle cx="204.21" cy="132.34" r="5.1" fill="#f4a582"/>
<circle cx="205.7" cy="108.58" r="5.1" fill="#f4a582"/>
<circle cx="204.06" cy="103.37" r="5.1" fill="#f4a582"/>
<circle cx="205.54" cy="130.71" r="5.1" fill="#f4a582"/>
<circle cx="205.63" cy="132.4" r="5.1" fill="#f4a582"/>
<circle cx="205.63" cy="107.69" r="5.1" fill="#f4a582"/>
<circle cx="205.15" cy="103.3" r="5.1" fill="#f4a582"/>
<circle cx="204.55" cy="113.78" r="5.1" fill="#f4a582"/>
<circle cx="204.45" cy="103.3" r="5.1" fill="#f4a582"/>
<circle cx="204.17" cy="132.4" r="5.1" fill="#f4a582"/>
<circle cx="204.59" cy="106.35" r="5.1" fill="#f4a582"/>
<circle cx="204.73" cy="128.25" r="5.1" fill="#f4a582"/>
<circle cx="204.62" cy="116.99" r="5.1" fill="#f4a582"/>
<circle cx="204.61" cy="105.79" r="5.1" fill="#f4a582"/>
<circle cx="204.69" cy="103.3" r="5.1" fill="#f4a582"/>
<circle cx="204.02" cy="126.46" r="5.1" fill="#f4a582"/>
<circle cx="205.61" cy="103.72" r="5.1" fill="#f4a582"/>
<circle cx="205.57" cy="125.84" r="5.1" fill="#f4a582"/>
<circle cx="205.67" cy="110.5" r="5.1" fill="#f4a582"/>
<circle cx="205.24" cy="110.17" r="5.1" fill="#f4a582"/>
<circle cx="203.96" cy="110.6" r="5.1" fill="#f4a582"/>
<circle cx="205.09" cy="131.3" r="5.1" fill="#f4a582"/>
<circle cx="204.37" cy="103.3" r="5.1" fill="#f4a582"/>
<circle cx="205.67" cy="132.4" r="5.1" fill="#f4a582"/>
<circle cx="204.72" cy="109.81" r="5.1" fill="#f4a582"/>
<circle cx="204.28" cy="131.68" r="5.1" fill="#f4a582"/>
<circle cx="205.43" cy="125.55" r="5.1" fill="#f4a582"/>
<circle cx="204.54" cy="121.31" r="5.1" fill="#f4a582"/>
<circle cx="205.36" cy="113.39" r="5.1" fill="#f4a582"/>
<circle cx="205.31" cy="108.07" r="5.1" fill="#f4a582"/>
<circle cx="204.01" cy="103.79" r="5.1" fill="#f4a582"/>
<circle cx="205.71" cy="112.22" r="5.1" fill="#f4a582"/>
<circle cx="204.43" cy="132.4" r="5.1" fill="#f4a582"/>
<circle cx="204.85" cy="104.81" r="5.1" fill="#f4a582"/>
<circle cx="204.37" cy="116.14" r="5.1" fill="#f4a582"/>
<circle cx="205.16" cy="121.74" r="5.1" fill="#f4a582"/>
<circle cx="205.15" cy="129.06" r="5.1" fill="#f4a582"/>
<circle cx="204.48" cy="128.86" r="5.1" fill="#f4a582"/>
<circle cx="205.28" cy="113.75" r="5.1" fill="#f4a582"/>
<circle cx="204.39" cy="109.69" r="5.1" fill="#f4a582"/>
<circle cx="204.99" cy="130.26" r="5.1" fill="#f4a582"/>
<circle cx="205.74" cy="114.49" r="5.1" fill="#f4a582"/>
<circle cx="205.41" cy="109.17" r="5.1" fill="#f4a582"/>
<circle cx="204.13" cy="132.4" r="5.1" fill="#f4a582"/>
<circle cx="205.46" cy="128.16" r="5.1" fill="#f4a582"/>
</g>
<g opacity="0.780" filter="url(#soft)">
<circle cx="205.62" cy="114.35" r="5.1" fill="#f4a582"/>
<circle cx="205.7" cy="129.33" r="5.1" fill="#f4a582"/>
<circle cx="204.23" cy="105.22" r="5.1" fill="#f4a582"/>
<circle cx="205.64" cy="123.73" r="5.1" fill="#f4a582"/>
<circle cx="205.33" cy="122.61" r="5.1" fill="#f4a582"/>
<circle cx="204.02" cy="119.51" r="5.1" fill="#f4a582"/>
<circle cx="205.61" cy="109.21" r="5.1" fill="#f4a582"/>
<circle cx="204.18" cy="111.51" r="5.1" fill="#f4a582"/>
<circle cx="205.21" cy="122.25" r="5.1" fill="#f4a582"/>
<circle cx="204.35" cy="114.24" r="5.1" fill="#f4a582"/>
<circle cx="204.37" cy="117.05" r="5.1" fill="#f4a582"/>
<circle cx="204.41" cy="115.27" r="5.1" fill="#f4a582"/>
<circle cx="204.71" cy="112.62" r="5.1" fill="#f4a582"/>
<circle cx="205.38" cy="108.1" r="5.1" fill="#f4a582"/>
<circle cx="204.32" cy="118.01" r="5.1" fill="#f4a582"/>
<circle cx="205.43" cy="110.45" r="5.1" fill="#f4a582"/>
<circle cx="205.32" cy="108.85" r="5.1" fill="#f4a582"/>
<circle cx="204.7" cy="108.91" r="5.1" fill="#f4a582"/>
<circle cx="205.7" cy="108.58" r="5.1" fill="#f4a582"/>
<circle cx="205.54" cy="130.71" r="5.1" fill="#f4a582"/>
<circle cx="205.63" cy="107.69" r="5.1" fill="#f4a582"/>
<circle cx="204.55" cy="113.78" r="5.1" fill="#f4a582"/>
<circle cx="204.59" cy="106.35" r="5.1" fill="#f4a582"/>
<circle cx="204.73" cy="128.25" r="5.1" fill="#f4a582"/>
<circle cx="204.62" cy="116.99" r="5.1" fill="#f4a582"/>
<circle cx="204.61" cy="105.79" r="5.1" fill="#f4a582"/>
<circle cx="204.02" cy="126.46" r="5.1" fill="#f4a582"/>
<circle cx="205.57" cy="125.84" r="5.1" fill="#f4a582"/>
<circle cx="205.67" cy="110.5" r="5.1" fill="#f4a582"/>
<circle cx="205.24" cy="110.17" r="5.1" fill="#f4a582"/>
<circle cx="203.96" cy="110.6" r="5.1" fill="#f4a582"/>
<circle cx="204.72" cy="109.81" r="5.1" fill="#f4a582"/>
<circle cx="205.43" cy="125.55" r="5.1" fill="#f4a582"/>
<circle cx="204.54" cy="121.31" r="5.1" fill="#f4a582"/>
<circle cx="205.36" cy="113.39" r="5.1" fill="#f4a582"/>
<circle cx="205.31" cy="108.07" r="5.1" fill="#f4a582"/>
<circle cx="205.71" cy="112.22" r="5.1" fill="#f4a582"/>
<circle cx="204.85" cy="104.81" r="5.1" fill="#f4a582"/>
<circle cx="204.37" cy="116.14" r="5.1" fill="#f4a582"/>
<circle cx="205.16" cy="121.74" r="5.1" fill="#f4a582"/>
<circle cx="205.15" cy="129.06" r="5.1" fill="#f4a582"/>
<circle cx="204.48" cy="128.86" r="5.1" fill="#f4a582"/>
<circle cx="205.28" cy="113.75" r="5.1" fill="#f4a582"/>
<circle cx="204.39" cy="109.69" r="5.1" fill="#f4a582"/>
<circle cx="204.99" cy="130.26" r="5.1" fill="#f4a582"/>
<circle cx="205.74" cy="114.49" r="5.1" fill="#f4a582"/>
<circle cx="205.41" cy="109.17" r="5.1" fill="#f4a582"/>
<circle cx="205.46" cy="128.16" r="5.1" fill="#f4a582"/>
</g>
<g opacity="0.500" filter="url(#soft)">
<circle cx="230.53" cy="83.4" r="5.1" fill="#f4a582"/>
<circle cx="231.75" cy="88.72" r="5.1" fill="#f4a582"/>
<circle cx="230.67" cy="115.75" r="5.1" fill="#f4a582"/>
<circle cx="230.47" cy="98.19" r="5.1" fill="#f4a582"/>
<circle cx="230.19" cy="116.32" r="5.1" fill="#f4a582"/>
<circle cx="230.39" cy="104.43" r="5.1" fill="#f4a582"/>
<circle cx="230.37" cy="86.96" r="5.1" fill="#f4a582"/>
<circle cx="231.17" cy="103.68" r="5.1" fill="#f4a582"/>
<circle cx="230.59" cy="83.4" r="5.1" fill="#f4a582"/>
<circle cx="230.56" cy="88.56" r="5.1" fill="#f4a582"/>
<circle cx="230.99" cy="110.83" r="5.1" fill="#f4a582"/>
<circle cx="230.71" cy="85.5" r="5.1" fill="#f4a582"/>
<circle cx="230.16" cy="105.13" r="5.1" fill="#f4a582"/>
<circle cx="230.74" cy="107.18" r="5.1" fill="#f4a582"/>
<circle cx="231.72" cy="93.03" r="5.1" fill="#f4a582"/>
<circle cx="230.64" cy="102.48" r="5.1" fill="#f4a582"/>
<circle cx="231.79" cy="113.34" r="5.1" fill="#f4a582"/>
<circle cx="231.31" cy="89" r="5.1" fill="#f4a582"/>
<circle cx="231.62" cy="83.4" r="5.1" fill="#f4a582"/>
<circle cx="230.73" cy="111.74" r="5.1" fill="#f4a582"/>
<circle cx="230.29" cy="98.62" r="5.1" fill="#f4a582"/>
<circle cx="231.15" cy="101.93" r="5.1" fill="#f4a582"/>
<circle cx="231.12" cy="83.4" r="5.1" fill="#f4a582"/>
<circle cx="230.26" cy="100.21" r="5.1" fill="#f4a582"/>
<circle cx="231.67" cy="100.82" r="5.1" fill="#f4a582"/>
<circle cx="231.45" cy="99.7" r="5.1" fill="#f4a582"/>
<circle cx="230.23" cy="86.88" r="5.1" fill="#f4a582"/>
<circle cx="230.87" cy="116.7" r="5.1" fill="#f4a582"/>
<circle cx="230.7" cy="115.61" r="5.1" fill="#f4a582"/>
<circle cx="231.48" cy="105.28" r="5.1" fill="#f4a582"/>
<circle cx="230.4" cy="110.48" r="5.1" fill="#f4a582"/>
<circle cx="231.49" cy="112.69" r="5.1" fill="#f4a582"/>
<circle cx="230.72" cy="89.76" r="5.1" fill="#f4a582"/>
<circle cx="230.22" cy="95.8" r="5.1" fill="#f4a582"/>
<circle cx="231.62" cy="108.26" r="5.1" fill="#f4a582"/>
<circle cx="231.36" cy="102.33" r="5.1" fill="#f4a582"/>
<circle cx="230.21" cy="112.39" r="5.1" fill="#f4a582"/>
<circle cx="231.13" cy="101.88" r="5.1" fill="#f4a582"/>
<circle cx="231.05" cy="97.13" r="5.1" fill="#f4a582"/>
<circle cx="230.8" cy="105.85" r="5.1" fill="#f4a582"/>
<circle cx="231.11" cy="83.4" r="5.1" fill="#f4a582"/>
<circle cx="231.37" cy="90.39" r="5.1" fill="#f4a582"/>
<circle cx="230.32" cy="98.53" r="5.1" fill="#f4a582"/>
<circle cx="230.23" cy="85.71" r="5.1" fill="#f4a582"/>
<circle cx="230.8" cy="85.15" r="5.1" fill="#f4a582"/>
<circle cx="231.15" cy="83.4" r="5.1" fill="#f4a582"/>
<circle cx="231.4" cy="108.57" r="5.1" fill="#f4a582"/>
<circle cx="230.91" cy="83.78" r="5.1" fill="#f4a582"/>
<circle cx="230.25" cy="116.51" r="5.1" fill="#f4a582"/>
<circle cx="231.32" cy="116.7" r="5.1" fill="#f4a582"/>
<circle cx="231.77" cy="88.87" r="5.1" fill="#f4a582"/>
<circle cx="231.65" cy="116.7" r="5.1" fill="#f4a582"/>
<circle cx="231.68" cy="110.58" r="5.1" fill="#f4a582"/>
<circle cx="231.36" cy="94.61" r="5.1" fill="#f4a582"/>
<circle cx="230.49" cy="114.52" r="5.1" fill="#f4a582"/>
<circle cx="230.9" cy="87.04" r="5.1" fill="#f4a582"/>
<circle cx="230.47" cy="87.36" r="5.1" fill="#f4a582"/>
<circle cx="230.07" cy="93.45" r="5.1" fill="#f4a582"/>
<circle cx="231.69" cy="87.68" r="5.1" fill="#f4a582"/>
<circle cx="230.3" cy="114.48" r="5.1" fill="#f4a582"/>
<circle cx="230.96" cy="86" r="5.1" fill="#f4a582"/>
<circle cx="231.57" cy="94.93" r="5.1" fill="#f4a582"/>
<circle cx="231.59" cy="102.97" r="5.1" fill="#f4a582"/>
<circle cx="231.13" cy="116.7" r="5.1" fill="#f4a582"/>
<circle cx="230.48" cy="110.91" r="5.1" fill="#f4a582"/>
<circle cx="230.65" cy="103.42" r="5.1" fill="#f4a582"/>
<circle cx="230.32" cy="97.94" r="5.1" fill="#f4a582"/>
<circle cx="231.48" cy="83.56" r="5.1" fill="#f4a582"/>
<circle cx="231.77" cy="105.13" r="5.1" fill="#f4a582"/>
<circle cx="230.56" cy="106.02" r="5.1" fill="#f4a582"/>
<circle cx="230.27" cy="83.4" r="5.1" fill="#f4a582"/>
<circle cx="230.92" cy="97.58" r="5.1" fill="#f4a582"/>
<circle cx="230.41" cy="86.62" r="5.1" fill="#f4a582"/>
<circle cx="230" cy="83.4" r="5.1" fill="#f4a582"/>
<circle cx="230.64" cy="85.68" r="5.1" fill="#f4a582"/>
<circle cx="231.06" cy="103.1" r="5.1" fill="#f4a582"/>
<circle cx="230.85" cy="104.57" r="5.1" fill="#f4a582"/>
<circle cx="230.44" cy="115.99" r="5.1" fill="#f4a582"/>
<circle cx="231.15" cy="85.3" r="5.1" fill="#f4a582"/>
</g>
<g opacity="0.780" filter="url(#soft)">
<circle cx="231.75" cy="88.72" r="5.1" fill="#f4a582"/>
<circle cx="230.47" cy="98.19" r="5.1" fill="#f4a582"/>
<circle cx="230.39" cy="104.43" r="5.1" fill="#f4a582"/>
<circle cx="230.37" cy="86.96" r="5.1" fill="#f4a582"/>
<circle cx="231.17" cy="103.68" r="5.1" fill="#f4a582"/>
<circle cx="230.56" cy="88.56" r="5.1" fill="#f4a582"/>
<circle cx="230.99" cy="110.83" r="5.1" fill="#f4a582"/>
<circle cx="230.71" cy="85.5" r="5.1" fill="#f4a582"/>
<circle cx="230.16" cy="105.13" r="5.1" fill="#f4a582"/>
<circle cx="230.74" cy="107.18" r="5.1" fill="#f4a582"/>
<circle cx="231.72" cy="93.03" r="5.1" fill="#f4a582"/>
<circle cx="230.64" cy="102.48" r="5.1" fill="#f4a582"/>
<circle cx="231.79" cy="113.34" r="5.1" fill="#f4a582"/>
<circle cx="231.31" cy="89" r="5.1" fill="#f4a582"/>
<circle cx="230.73" cy="111.74" r="5.1" fill="#f4a582"/>
<circle cx="230.29" cy="98.62" r="5.1" fill="#f4a582"/>
<circle cx="231.15" cy="101.93" r="5.1" fill="#f4a582"/>
<circle cx="230.26" cy="100.21" r="5.1" fill="#f4a582"/>
<circle cx="231.67" cy="100.82" r="5.1" fill="#f4a582"/>
<circle cx="231.45" cy="99.7" r="5.1" fill="#f4a582"/>
<circle cx="230.23" cy="86.88" r="5.1" fill="#f4a582"/>
<circle cx="231.48" cy="105.28" r="5.1" fill="#f4a582"/>
<circle cx="230.4" cy="110.48" r="5.1" fill="#f4a582"/>
<circle cx="231.49" cy="112.69" r="5.1" fill="#f4a582"/>
<circle cx="230.72" cy="89.76" r="5.1" fill="#f4a582"/>
<circle cx="230.22" cy="95.8" r="5.1" fill="#f4a582"/>
<circle cx="231.62" cy="108.26" r="5.1" fill="#f4a582"/>
<circle cx="231.36" cy="102.33" r="5.1" fill="#f4a582"/>
<circle cx="230.21" cy="112.39" r="5.1" fill="#f4a582"/>
<circle cx="231.13" cy="101.88" r="5.1" fill="#f4a582"/>
<circle cx="231.05" cy="97.13" r="5.1" fill="#f4a582"/>
<circle cx="230.8" cy="105.85" r="5.1" fill="#f4a582"/>
<circle cx="231.37" cy="90.39" r="5.1" fill="#f4a582"/>
<circle cx="230.32" cy="98.53" r="5.1" fill="#f4a582"/>
<circle cx="230.23" cy="85.71" r="5.1" fill="#f4a582"/>
<circle cx="230.8" cy="85.15" r="5.1" fill="#f4a582"/>
<circle cx="231.4" cy="108.57" r="5.1" fill="#f4a582"/>
<circle cx="231.77" cy="88.87" r="5.1" fill="#f4a582"/>
<circle cx="231.68" cy="110.58" r="5.1" fill="#f4a582"/>
<circle cx="231.36" cy="94.61" r="5.1" fill="#f4a582"/>
<circle cx="230.49" cy="114.52" r="5.1" fill="#f4a582"/>
<circle cx="230.9" cy="87.04" r="5.1" fill="#f4a582"/>
<circle cx="230.47" cy="87.36" r="5.1" fill="#f4a582"/>
<circle cx="230.07" cy="93.45" r="5.1" fill="#f4a582"/>
<circle cx="231.69" cy="87.68" r="5.1" fill="#f4a582"/>
<circle cx="230.3" cy="114.48" r="5.1" fill="#f4a582"/>
<circle cx="230.96" cy="86" r="5.1" fill="#f4a582"/>
<circle cx="231.57" cy="94.93" r="5.1" fill="#f4a582"/>
<circle cx="231.59" cy="102.97" r="5.1" fill="#f4a582"/>
<circle cx="230.48" cy="110.91" r="5.1" fill="#f4a582"/>
<circle cx="230.65" cy="103.42" r="5.1" fill="#f4a582"/>
<circle cx="230.32" cy="97.94" r="5.1" fill="#f4a582"/>
<circle cx="231.77" cy="105.13" r="5.1" fill="#f4a582"/>
<circle cx="230.56" cy="106.02" r="5.1" fill="#f4a582"/>
<circle cx="230.92" cy="97.58" r="5.1" fill="#f4a582"/>
<circle cx="230.41" cy="86.62" r="5.1" fill="#f4a582"/>
<circle cx="230.64" cy="85.68" r="5.1" fill="#f4a582"/>
<circle cx="231.06" cy="103.1" r="5.1" fill="#f4a582"/>
<circle cx="230.85" cy="104.57" r="5.1" fill="#f4a582"/>
<circle cx="231.15" cy="85.3" r="5.1" fill="#f4a582"/>
</g>
<g opacity="0.500" filter="url(#soft)">
<circle cx="256.77" cy="94.31" r="5.1" fill="#f4a582"/>
<circle cx="257.21" cy="62.9" r="5.1" fill="#f4a582"/>
<circle cx="257.21" cy="76.08" r="5.1" fill="#f4a582"/>
<circle cx="257.37" cy="100.85" r="5.1" fill="#f4a582"/>
<circle cx="256.13" cy="99.43" r="5.1" fill="#f4a582"/>
<circle cx="256.48" cy="78.43" r="5.1" fill="#f4a582"/>
<circle cx="256.07" cy="94.17" r="5.1" fill="#f4a582"/>
<circle cx="256.31" cy="101.01" r="5.1" fill="#f4a582"/>
<circle cx="256.96" cy="86.96" r="5.1" fill="#f4a582"/>
<circle cx="256.36" cy="95.62" r="5.1" fill="#f4a582"/>
<circle cx="256.14" cy="73.97" r="5.1" fill="#f4a582"/>
<circle cx="257.34" cy="94.34" r="5.1" fill="#f4a582"/>
<circle cx="257.39" cy="96.94" r="5.1" fill="#f4a582"/>
<circle cx="256.86" cy="92.6" r="5.1" fill="#f4a582"/>
<circle cx="256.47" cy="65.74" r="5.1" fill="#f4a582"/>
<circle cx="257.4" cy="75.46" r="5.1" fill="#f4a582"/>
<circle cx="257.33" cy="96.97" r="5.1" fill="#f4a582"/>
<circle cx="256.83" cy="84.67" r="5.1" fill="#f4a582"/>
<circle cx="256.53" cy="83.38" r="5.1" fill="#f4a582"/>
<circle cx="256.44" cy="101.9" r="5.1" fill="#f4a582"/>
<circle cx="256.52" cy="62.9" r="5.1" fill="#f4a582"/>
<circle cx="257.75" cy="92.69" r="5.1" fill="#f4a582"/>
<circle cx="257.63" cy="75.09" r="5.1" fill="#f4a582"/>
<circle cx="257.68" cy="71.39" r="5.1" fill="#f4a582"/>
<circle cx="257.25" cy="90.54" r="5.1" fill="#f4a582"/>
<circle cx="257.56" cy="80.9" r="5.1" fill="#f4a582"/>
<circle cx="256.84" cy="97.49" r="5.1" fill="#f4a582"/>
<circle cx="256.6" cy="85.37" r="5.1" fill="#f4a582"/>
<circle cx="256.19" cy="87.57" r="5.1" fill="#f4a582"/>
<circle cx="256.1" cy="64.91" r="5.1" fill="#f4a582"/>
<circle cx="256.67" cy="100.5" r="5.1" fill="#f4a582"/>
<circle cx="256.12" cy="62.9" r="5.1" fill="#f4a582"/>
<circle cx="257.3" cy="88.05" r="5.1" fill="#f4a582"/>
<circle cx="257.11" cy="64.08" r="5.1" fill="#f4a582"/>
<circle cx="257.53" cy="95.8" r="5.1" fill="#f4a582"/>
<circle cx="257.61" cy="64.08" r="5.1" fill="#f4a582"/>
<circle cx="256.24" cy="101.9" r="5.1" fill="#f4a582"/>
<circle cx="256.11" cy="66.03" r="5.1" fill="#f4a582"/>
<circle cx="257.19" cy="95.57" r="5.1" fill="#f4a582"/>
<circle cx="256.57" cy="87.95" r="5.1" fill="#f4a582"/>
<circle cx="257.41" cy="65.43" r="5.1" fill="#f4a582"/>
<circle cx="256.81" cy="74.77" r="5.1" fill="#f4a582"/>
<circle cx="256.56" cy="72.13" r="5.1" fill="#f4a582"/>
<circle cx="256.63" cy="76.83" r="5.1" fill="#f4a582"/>
<circle cx="257.58" cy="82.58" r="5.1" fill="#f4a582"/>
<circle cx="256.79" cy="62.9" r="5.1" fill="#f4a582"/>
<circle cx="256.67" cy="93.92" r="5.1" fill="#f4a582"/>
<circle cx="256.44" cy="84" r="5.1" fill="#f4a582"/>
<circle cx="257.53" cy="65.14" r="5.1" fill="#f4a582"/>
<circle cx="256.41" cy="62.9" r="5.1" fill="#f4a582"/>
<circle cx="256.06" cy="101.9" r="5.1" fill="#f4a582"/>
<circle cx="257.48" cy="82.04" r="5.1" fill="#f4a582"/>
<circle cx="256.67" cy="82.17" r="5.1" fill="#f4a582"/>
<circle cx="257.75" cy="72.3" r="5.1" fill="#f4a582"/>
<circle cx="257.31" cy="70.36" r="5.1" fill="#f4a582"/>
<circle cx="257.2" cy="65.94" r="5.1" fill="#f4a582"/>
<circle cx="257.3" cy="94.55" r="5.1" fill="#f4a582"/>
<circle cx="256.69" cy="87.8" r="5.1" fill="#f4a582"/>
<circle cx="257.65" cy="77.95" r="5.1" fill="#f4a582"/>
<circle cx="256.1" cy="98.79" r="5.1" fill="#f4a582"/>
<circle cx="257.67" cy="72.41" r="5.1" fill="#f4a582"/>
<circle cx="257.64" cy="77.31" r="5.1" fill="#f4a582"/>
<circle cx="257.01" cy="80.75" r="5.1" fill="#f4a582"/>
<circle cx="257.21" cy="93.08" r="5.1" fill="#f4a582"/>
<circle cx="256.33" cy="75.09" r="5.1" fill="#f4a582"/>
<circle cx="257.39" cy="89.24" r="5.1" fill="#f4a582"/>
<circle cx="257.44" cy="79.82" r="5.1" fill="#f4a582"/>
<circle cx="256.88" cy="66.62" r="5.1" fill="#f4a582"/>
<circle cx="256.39" cy="71.34" r="5.1" fill="#f4a582"/>
<circle cx="257.57" cy="90.97" r="5.1" fill="#f4a582"/>
<circle cx="256.5" cy="67.88" r="5.1" fill="#f4a582"/>
<circle cx="256.34" cy="83.34" r="5.1" fill="#f4a582"/>
<circle cx="257.81" cy="69.29" r="5.1" fill="#f4a582"/>
<circle cx="257.78" cy="65.6" r="5.1" fill="#f4a582"/>
<circle cx="257.82" cy="77.51" r="5.1" fill="#f4a582"/>
<circle cx="256.83" cy="92.24" r="5.1" fill="#f4a582"/>
<circle cx="256.24" cy="88.22" r="5.1" fill="#f4a582"/>
<circle cx="256.11" cy="77.69" r="5.1" fill="#f4a582"/>
<circle cx="257.3" cy="94.68" r="5.1" fill="#f4a582"/>
<circle cx="256.88" cy="87.99" r="5.1" fill="#f4a582"/>
<circle cx="256.78" cy="86.78" r="5.1" fill="#f4a582"/>
<circle cx="256.82" cy="99.62" r="5.1" fill="#f4a582"/>
<circle cx="256.81" cy="92.91" r="5.1" fill="#f4a582"/>
<circle cx="257.63" cy="91.78" r="5.1" fill="#f4a582"/>
<circle cx="257.58" cy="90.84" r="5.1" fill="#f4a582"/>
<circle cx="256.87" cy="88.37" r="5.1" fill="#f4a582"/>
<circle cx="256.23" cy="87.81" r="5.1" fill="#f4a582"/>
<circle cx="257.33" cy="94.32" r="5.1" fill="#f4a582"/>
</g>
<g opacity="0.780" filter="url(#soft)">
<circle cx="256.77" cy="94.31" r="5.1" fill="#f4a582"/>
<circle cx="257.21" cy="76.08" r="5.1" fill="#f4a582"/>
<circle cx="256.13" cy="99.43" r="5.1" fill="#f4a582"/>
<circle cx="256.48" cy="78.43" r="5.1" fill="#f4a582"/>
<circle cx="256.07" cy="94.17" r="5.1" fill="#f4a582"/>
<circle cx="256.96" cy="86.96" r="5.1" fill="#f4a582"/>
<circle cx="256.36" cy="95.62" r="5.1" fill="#f4a582"/>
<circle cx="256.14" cy="73.97" r="5.1" fill="#f4a582"/>
<circle cx="257.34" cy="94.34" r="5.1" fill="#f4a582"/>
<circle cx="257.39" cy="96.94" r="5.1" fill="#f4a582"/>
<circle cx="256.86" cy="92.6" r="5.1" fill="#f4a582"/>
<circle cx="256.47" cy="65.74" r="5.1" fill="#f4a582"/>
<circle cx="257.4" cy="75.46" r="5.1" fill="#f4a582"/>
<circle cx="257.33" cy="96.97" r="5.1" fill="#f4a582"/>
<circle cx="256.83" cy="84.67" r="5.1" fill="#f4a582"/>
<circle cx="256.53" cy="83.38" r="5.1" fill="#f4a582"/>
<circle cx="257.75" cy="92.69" r="5.1" fill="#f4a582"/>
<circle cx="257.63" cy="75.09" r="5.1" fill="#f4a582"/>
<circle cx="257.68" cy="71.39" r="5.1" fill="#f4a582"/>
<circle cx="257.25" cy="90.54" r="5.1" fill="#f4a582"/>
<circle cx="257.56" cy="80.9" r="5.1" fill="#f4a582"/>
<circle cx="256.84" cy="97.49" r="5.1" fill="#f4a582"/>
<circle cx="256.6" cy="85.37" r="5.1" fill="#f4a582"/>
<circle cx="256.19" cy="87.57" r="5.1" fill="#f4a582"/>
<circle cx="256.1" cy="64.91" r="5.1" fill="#f4a582"/>
<circle cx="257.3" cy="88.05" r="5.1" fill="#f4a582"/>
<circle cx="257.53" cy="95.8" r="5.1" fill="#f4a582"/>
<circle cx="256.11" cy="66.03" r="5.1" fill="#f4a582"/>
<circle cx="257.19" cy="95.57" r="5.1" fill="#f4a582"/>
<circle cx="256.57" cy="87.95" r="5.1" fill="#f4a582"/>
<circle cx="257.41" cy="65.43" r="5.1" fill="#f4a582"/>
<circle cx="256.81" cy="74.77" r="5.1" fill="#f4a582"/>
<circle cx="256.56" cy="72.13" r="5.1" fill="#f4a582"/>
<circle cx="256.63" cy="76.83" r="5.1" fill="#f4a582"/>
<circle cx="257.58" cy="82.58" r="5.1" fill="#f4a582"/>
<circle cx="256.67" cy="93.92" r="5.1" fill="#f4a582"/>
<circle cx="256.44" cy="84" r="5.1" fill="#f4a582"/>
<circle cx="257.53" cy="65.14" r="5.1" fill="#f4a582"/>
<circle cx="257.48" cy="82.04" r="5.1" fill="#f4a582"/>
<circle cx="256.67" cy="82.17" r="5.1" fill="#f4a582"/>
<circle cx="257.75" cy="72.3" r="5.1" fill="#f4a582"/>
<circle cx="257.31" cy="70.36" r="5.1" fill="#f4a582"/>
<circle cx="257.2" cy="65.94" r="5.1" fill="#f4a582"/>
<circle cx="257.3" cy="94.55" r="5.1" fill="#f4a582"/>
<circle cx="256.69" cy="87.8" r="5.1" fill="#f4a582"/>
<circle cx="257.65" cy="77.95" r="5.1" fill="#f4a582"/>
<circle cx="256.1" cy="98.79" r="5.1" fill="#f4a582"/>
<circle cx="257.67" cy="72.41" r="5.1" fill="#f4a582"/>
<circle cx="257.64" cy="77.31" r="5.1" fill="#f4a582"/>
<circle cx="257.01" cy="80.75" r="5.1" fill="#f4a582"/>
<circle cx="257.21" cy="93.08" r="5.1" fill="#f4a582"/>
<circle cx="256.33" cy="75.09" r="5.1" fill="#f4a582"/>
<circle cx="257.39" cy="89.24" r="5.1" fill="#f4a582"/>
<circle cx="257.44" cy="79.82" r="5.1" fill="#f4a582"/>
<circle cx="256.88" cy="66.62" r="5.1" fill="#f4a582"/>
<circle cx="256.39" cy="71.34" r="5.1" fill="#f4a582"/>
<circle cx="257.57" cy="90.97" r="5.1" fill="#f4a582"/>
<circle cx="256.5" cy="67.88" r="5.1" fill="#f4a582"/>
<circle cx="256.34" cy="83.34" r="5.1" fill="#f4a582"/>
<circle cx="257.81" cy="69.29" r="5.1" fill="#f4a582"/>
<circle cx="257.78" cy="65.6" r="5.1" fill="#f4a582"/>
<circle cx="257.82" cy="77.51" r="5.1" fill="#f4a582"/>
<circle cx="256.83" cy="92.24" r="5.1" fill="#f4a582"/>
<circle cx="256.24" cy="88.22" r="5.1" fill="#f4a582"/>
<circle cx="256.11" cy="77.69" r="5.1" fill="#f4a582"/>
<circle cx="257.3" cy="94.68" r="5.1" fill="#f4a582"/>
<circle cx="256.88" cy="87.99" r="5.1" fill="#f4a582"/>
<circle cx="256.78" cy="86.78" r="5.1" fill="#f4a582"/>
<circle cx="256.82" cy="99.62" r="5.1" fill="#f4a582"/>
<circle cx="256.81" cy="92.91" r="5.1" fill="#f4a582"/>
<circle cx="257.63" cy="91.78" r="5.1" fill="#f4a582"/>
<circle cx="257.58" cy="90.84" r="5.1" fill="#f4a582"/>
<circle cx="256.87" cy="88.37" r="5.1" fill="#f4a582"/>
<circle cx="256.23" cy="87.81" r="5.1" fill="#f4a582"/>
<circle cx="257.33" cy="94.32" r="5.1" fill="#f4a582"/>
</g>
<g opacity="0.500" filter="url(#soft)">
<circle cx="282.86" cy="52.25" r="5.1" fill="#f4a582"/>
<circle cx="282.84" cy="70.31" r="5.1" fill="#f4a582"/>
<circle cx="282.43" cy="85.31" r="5.1" fill="#f4a582"/>
<circle cx="282.8" cy="77.92" r="5.1" fill="#f4a582"/>
<circle cx="282.17" cy="87.1" r="5.1" fill="#f4a582"/>
<circle cx="283.51" cy="47.92" r="5.1" fill="#f4a582"/>
<circle cx="282.28" cy="65.47" r="5.1" fill="#f4a582"/>
<circle cx="283.39" cy="66.39" r="5.1" fill="#f4a582"/>
<circle cx="283.59" cy="71.17" r="5.1" fill="#f4a582"/>
<circle cx="283.81" cy="60.04" r="5.1" fill="#f4a582"/>
<circle cx="282.81" cy="73.36" r="5.1" fill="#f4a582"/>
<circle cx="283.87" cy="46.05" r="5.1" fill="#f4a582"/>
<circle cx="282.59" cy="42.85" r="5.1" fill="#f4a582"/>
<circle cx="282.85" cy="41.7" r="5.1" fill="#f4a582"/>
<circle cx="282.73" cy="74.04" r="5.1" fill="#f4a582"/>
<circle cx="283.43" cy="51.01" r="5.1" fill="#f4a582"/>
<circle cx="282.49" cy="65.91" r="5.1" fill="#f4a582"/>
<circle cx="282.48" cy="59.15" r="5.1" fill="#f4a582"/>
<circle cx="283.56" cy="77.84" r="5.1" fill="#f4a582"/>
<circle cx="283.11" cy="62.9" r="5.1" fill="#f4a582"/>
<circle cx="282.74" cy="86.94" r="5.1" fill="#f4a582"/>
<circle cx="283.57" cy="79.89" r="5.1" fill="#f4a582"/>
<circle cx="283.09" cy="54.41" r="5.1" fill="#f4a582"/>
<circle cx="282.74" cy="80.62" r="5.1" fill="#f4a582"/>
<circle cx="282.78" cy="53.1" r="5.1" fill="#f4a582"/>
<circle cx="282.43" cy="60.81" r="5.1" fill="#f4a582"/>
<circle cx="282.61" cy="75.18" r="5.1" fill="#f4a582"/>
<circle cx="282.96" cy="54.77" r="5.1" fill="#f4a582"/>
<circle cx="283.29" cy="71.07" r="5.1" fill="#f4a582"/>
<circle cx="283.64" cy="85.24" r="5.1" fill="#f4a582"/>
<circle cx="283.73" cy="80.34" r="5.1" fill="#f4a582"/>
<circle cx="283.6" cy="46.92" r="5.1" fill="#f4a582"/>
<circle cx="282.12" cy="41.7" r="5.1" fill="#f4a582"/>
<circle cx="282.55" cy="73.07" r="5.1" fill="#f4a582"/>
<circle cx="282.52" cy="47.04" r="5.1" fill="#f4a582"/>
<circle cx="282.37" cy="56.94" r="5.1" fill="#f4a582"/>
<circle cx="282.4" cy="80.62" r="5.1" fill="#f4a582"/>
<circle cx="283.51" cy="69.67" r="5.1" fill="#f4a582"/>
<circle cx="283.52" cy="83.54" r="5.1" fill="#f4a582"/>
<circle cx="283.35" cy="49.69" r="5.1" fill="#f4a582"/>
<circle cx="282.89" cy="76.16" r="5.1" fill="#f4a582"/>
<circle cx="282.58" cy="67.08" r="5.1" fill="#f4a582"/>
<circle cx="282.99" cy="46.87" r="5.1" fill="#f4a582"/>
<circle cx="282.36" cy="62.8" r="5.1" fill="#f4a582"/>
<circle cx="283.07" cy="64.31" r="5.1" fill="#f4a582"/>
<circle cx="283.61" cy="41.7" r="5.1" fill="#f4a582"/>
<circle cx="283.3" cy="67.44" r="5.1" fill="#f4a582"/>
<circle cx="282.85" cy="58.32" r="5.1" fill="#f4a582"/>
<circle cx="283.25" cy="41.7" r="5.1" fill="#f4a582"/>
<circle cx="283.2" cy="41.7" r="5.1" fill="#f4a582"/>
<circle cx="282.69" cy="85.37" r="5.1" fill="#f4a582"/>
<circle cx="282.97" cy="64.99" r="5.1" fill="#f4a582"/>
<circle cx="283.39" cy="41.75" r="5.1" fill="#f4a582"/>
<circle cx="283.65" cy="56.56" r="5.1" fill="#f4a582"/>
<circle cx="283.05" cy="63.16" r="5.1" fill="#f4a582"/>
<circle cx="282.88" cy="50.34" r="5.1" fill="#f4a582"/>
<circle cx="283.59" cy="67.03" r="5.1" fill="#f4a582"/>
<circle cx="282.83" cy="80.33" r="5.1" fill="#f4a582"/>
<circle cx="283.01" cy="53.3" r="5.1" fill="#f4a582"/>
<circle cx="283.53" cy="72.99" r="5.1" fill="#f4a582"/>
<circle cx="282.64" cy="55.51" r="5.1" fill="#f4a582"/>
<circle cx="283.51" cy="70.95" r="5.1" fill="#f4a582"/>
<circle cx="283.69" cy="75.22" r="5.1" fill="#f4a582"/>
<circle cx="282.64" cy="42.52" r="5.1" fill="#f4a582"/>
<circle cx="283.76" cy="49.33" r="5.1" fill="#f4a582"/>
<circle cx="283.52" cy="72.08" r="5.1" fill="#f4a582"/>
<circle cx="283.21" cy="70.61" r="5.1" fill="#f4a582"/>
<circle cx="283.17" cy="73.95" r="5.1" fill="#f4a582"/>
<circle cx="283.3" cy="50.43" r="5.1" fill="#f4a582"/>
<circle cx="282.28" cy="77.17" r="5.1" fill="#f4a582"/>
<circle cx="283.49" cy="41.9" r="5.1" fill="#f4a582"/>
<circle cx="282.76" cy="73.06" r="5.1" fill="#f4a582"/>
<circle cx="283.11" cy="78.33" r="5.1" fill="#f4a582"/>
<circle cx="282.86" cy="54.78" r="5.1" fill="#f4a582"/>
<circle cx="283.26" cy="61.03" r="5.1" fill="#f4a582"/>
<circle cx="283.12" cy="41.7" r="5.1" fill="#f4a582"/>
<circle cx="283.56" cy="45.88" r="5.1" fill="#f4a582"/>
<circle cx="282.9" cy="84.75" r="5.1" fill="#f4a582"/>
<circle cx="283.17" cy="58.92" r="5.1" fill="#f4a582"/>
<circle cx="282.96" cy="87.1" r="5.1" fill="#f4a582"/>
<circle cx="283.26" cy="45.06" r="5.1" fill="#f4a582"/>
<circle cx="282.13" cy="47.48" r="5.1" fill="#f4a582"/>
<circle cx="282.32" cy="73.33" r="5.1" fill="#f4a582"/>
<circle cx="283.67" cy="41.7" r="5.1" fill="#f4a582"/>
<circle cx="283.39" cy="41.7" r="5.1" fill="#f4a582"/>
<circle cx="282.44" cy="75.75" r="5.1" fill="#f4a582"/>
<circle cx="283.38" cy="77.72" r="5.1" fill="#f4a582"/>
<circle cx="282.25" cy="75.56" r="5.1" fill="#f4a582"/>
<circle cx="282.93" cy="74.57" r="5.1" fill="#f4a582"/>
<circle cx="283.84" cy="50.73" r="5.1" fill="#f4a582"/>
<circle cx="282.13" cy="41.7" r="5.1" fill="#f4a582"/>
<circle cx="282.24" cy="79.82" r="5.1" fill="#f4a582"/>
<circle cx="282.4" cy="75.55" r="5.1" fill="#f4a582"/>
<circle cx="282.21" cy="63.74" r="5.1" fill="#f4a582"/>
<circle cx="282.89" cy="68.04" r="5.1" fill="#f4a582"/>
<circle cx="283.54" cy="47.14" r="5.1" fill="#f4a582"/>
<circle cx="283.23" cy="71.44" r="5.1" fill="#f4a582"/>
</g>
<g opacity="0.780" filter="url(#soft)">
<circle cx="282.86" cy="52.25" r="5.1" fill="#f4a582"/>
<circle cx="282.84" cy="70.31" r="5.1" fill="#f4a582"/>
<circle cx="282.43" cy="85.31" r="5.1" fill="#f4a582"/>
<circle cx="282.8" cy="77.92" r="5.1" fill="#f4a582"/>
<circle cx="283.51" cy="47.92" r="5.1" fill="#f4a582"/>
<circle cx="282.28" cy="65.47" r="5.1" fill="#f4a582"/>
<circle cx="283.39" cy="66.39" r="5.1" fill="#f4a582"/>
<circle cx="283.59" cy="71.17" r="5.1" fill="#f4a582"/>
<circle cx="283.81" cy="60.04" r="5.1" fill="#f4a582"/>
<circle cx="282.81" cy="73.36" r="5.1" fill="#f4a582"/>
<circle cx="283.87" cy="46.05" r="5.1" fill="#f4a582"/>
<circle cx="282.73" cy="74.04" r="5.1" fill="#f4a582"/>
<circle cx="283.43" cy="51.01" r="5.1" fill="#f4a582"/>
<circle cx="282.49" cy="65.91" r="5.1" fill="#f4a582"/>
<circle cx="282.48" cy="59.15" r="5.1" fill="#f4a582"/>
<circle cx="283.56" cy="77.84" r="5.1" fill="#f4a582"/>
<circle cx="283.11" cy="62.9" r="5.1" fill="#f4a582"/>
<circle cx="283.57" cy="79.89" r="5.1" fill="#f4a582"/>
<circle cx="283.09" cy="54.41" r="5.1" fill="#f4a582"/>
<circle cx="282.74" cy="80.62" r="5.1" fill="#f4a582"/>
<circle cx="282.78" cy="53.1" r="5.1" fill="#f4a582"/>
<circle cx="282.43" cy="60.81" r="5.1" fill="#f4a582"/>
<circle cx="282.61" cy="75.18" r="5.1" fill="#f4a582"/>
<circle cx="282.96" cy="54.77" r="5.1" fill="#f4a582"/>
<circle cx="283.29" cy="71.07" r="5.1" fill="#f4a582"/>
<circle cx="283.64" cy="85.24" r="5.1" fill="#f4a582"/>
<circle cx="283.73" cy="80.34" r="5.1" fill="#f4a582"/>
<circle cx="283.6" cy="46.92" r="5.1" fill="#f4a582"/>
<circle cx="282.55" cy="73.07" r="5.1" fill="#f4a582"/>
<circle cx="282.52" cy="47.04" r="5.1" fill="#f4a582"/>
<circle cx="282.37" cy="56.94" r="5.1" fill="#f4a582"/>
<circle cx="282.4" cy="80.62" r="5.1" fill="#f4a582"/>
<circle cx="283.51" cy="69.67" r="5.1" fill="#f4a582"/>
<circle cx="283.52" cy="83.54" r="5.1" fill="#f4a582"/>
<circle cx="283.35" cy="49.69" r="5.1" fill="#f4a582"/>
<circle cx="282.89" cy="76.16" r="5.1" fill="#f4a582"/>
<circle cx="282.58" cy="67.08" r="5.1" fill="#f4a582"/>
<circle cx="282.99" cy="46.87" r="5.1" fill="#f4a582"/>
<circle cx="282.36" cy="62.8" r="5.1" fill="#f4a582"/>
<circle cx="283.07" cy="64.31" r="5.1" fill="#f4a582"/>
<circle cx="283.3" cy="67.44" r="5.1" fill="#f4a582"/>
<circle cx="282.85" cy="58.32" r="5.1" fill="#f4a582"/>
<circle cx="282.69" cy="85.37" r="5.1" fill="#f4a582"/>
<circle cx="282.97" cy="64.99" r="5.1" fill="#f4a582"/>
<circle cx="283.65" cy="56.56" r="5.1" fill="#f4a582"/>
<circle cx="283.05" cy="63.16" r="5.1" fill="#f4a582"/>
<circle cx="282.88" cy="50.34" r="5.1" fill="#f4a582"/>
<circle cx="283.59" cy="67.03" r="5.1" fill="#f4a582"/>
<circle cx="282.83" cy="80.33" r="5.1" fill="#f4a582"/>
<circle cx="283.01" cy="53.3" r="5.1" fill="#f4a582"/>
<circle cx="283.53" cy="72.99" r="5.1" fill="#f4a582"/>
<circle cx="282.64" cy="55.51" r="5.1" fill="#f4a582"/>
<circle cx="283.51" cy="70.95" r="5.1" fill="#f4a582"/>
<circle cx="283.69" cy="75.22" r="5.1" fill="#f4a582"/>
<circle cx="283.76" cy="49.33" r="5.1" fill="#f4a582"/>
<circle cx="283.52" cy="72.08" r="5.1" fill="#f4a582"/>
<circle cx="283.21" cy="70.61" r="5.1" fill="#f4a582"/>
<circle cx="283.17" cy="73.95" r="5.1" fill="#f4a582"/>
<circle cx="283.3" cy="50.43" r="5.1" fill="#f4a582"/>
<circle cx="282.28" cy="77.17" r="5.1" fill="#f4a582"/>
<circle cx="282.76" cy="73.06" r="5.1" fill="#f4a582"/>
<circle cx="283.11" cy="78.33" r="5.1" fill="#f4a582"/>
<circle cx="282.86" cy="54.78" r="5.1" fill="#f4a582"/>
<circle cx="283.26" cy="61.03" r="5.1" fill="#f4a582"/>
<circle cx="283.56" cy="45.88" r="5.1" fill="#f4a582"/>
<circle cx="282.9" cy="84.75" r="5.1" fill="#f4a582"/>
<circle cx="283.17" cy="58.92" r="5.1" fill="#f4a582"/>
<circle cx="283.26" cy="45.06" r="5.1" fill="#f4a582"/>
<circle cx="282.13" cy="47.48" r="5.1" fill="#f4a582"/>
<circle cx="282.32" cy="73.33" r="5.1" fill="#f4a582"/>
<circle cx="282.44" cy="75.75" r="5.1" fill="#f4a582"/>
<circle cx="283.38" cy="77.72" r="5.1" fill="#f4a582"/>
<circle cx="282.25" cy="75.56" r="5.1" fill="#f4a582"/>
<circle cx="282.93" cy="74.57" r="5.1" fill="#f4a582"/>
<circle cx="283.84" cy="50.73" r="5.1" fill="#f4a582"/>
<circle cx="282.24" cy="79.82" r="5.1" fill="#f4a582"/>
<circle cx="282.4" cy="75.55" r="5.1" fill="#f4a582"/>
<circle cx="282.21" cy="63.74" r="5.1" fill="#f4a582"/>
<circle cx="282.89" cy="68.04" r="5.1" fill="#f4a582"/>
<circle cx="283.54" cy="47.14" r="5.1" fill="#f4a582"/>
<circle cx="283.23" cy="71.44" r="5.1" fill="#f4a582"/>
</g>
<g opacity="0.500" filter="url(#soft)">
<circle cx="309.57" cy="38.46" r="5.1" fill="#f4a582"/>
<circle cx="309.17" cy="62.23" r="5.1" fill="#f4a582"/>
<circle cx="309.9" cy="20.71" r="5.1" fill="#f4a582"/>
<circle cx="308.75" cy="62.58" r="5.1" fill="#f4a582"/>
<circle cx="309.65" cy="70.4" r="5.1" fill="#f4a582"/>
<circle cx="308.92" cy="34.25" r="5.1" fill="#f4a582"/>
<circle cx="309.38" cy="37.97" r="5.1" fill="#f4a582"/>
<circle cx="309.6" cy="66.33" r="5.1" fill="#f4a582"/>
<circle cx="308.62" cy="19" r="5.1" fill="#f4a582"/>
<circle cx="309.62" cy="49.43" r="5.1" fill="#f4a582"/>
<circle cx="309.65" cy="19.71" r="5.1" fill="#f4a582"/>
<circle cx="309.18" cy="64.75" r="5.1" fill="#f4a582"/>
<circle cx="309.6" cy="63.87" r="5.1" fill="#f4a582"/>
<circle cx="308.77" cy="67.29" r="5.1" fill="#f4a582"/>
<circle cx="309.59" cy="47.63" r="5.1" fill="#f4a582"/>
<circle cx="309.83" cy="58.36" r="5.1" fill="#f4a582"/>
<circle cx="309.37" cy="50.54" r="5.1" fill="#f4a582"/>
<circle cx="308.61" cy="28.68" r="5.1" fill="#f4a582"/>
<circle cx="308.98" cy="60.62" r="5.1" fill="#f4a582"/>
<circle cx="309.54" cy="61.44" r="5.1" fill="#f4a582"/>
<circle cx="309.76" cy="49.05" r="5.1" fill="#f4a582"/>
<circle cx="309.01" cy="45.89" r="5.1" fill="#f4a582"/>
<circle cx="308.5" cy="27.73" r="5.1" fill="#f4a582"/>
<circle cx="308.8" cy="55.68" r="5.1" fill="#f4a582"/>
<circle cx="309.08" cy="39.38" r="5.1" fill="#f4a582"/>
<circle cx="309.94" cy="19.83" r="5.1" fill="#f4a582"/>
<circle cx="309.29" cy="23.19" r="5.1" fill="#f4a582"/>
<circle cx="309.22" cy="25.93" r="5.1" fill="#f4a582"/>
<circle cx="308.19" cy="45.76" r="5.1" fill="#f4a582"/>
<circle cx="309.71" cy="70.4" r="5.1" fill="#f4a582"/>
<circle cx="308.62" cy="48.37" r="5.1" fill="#f4a582"/>
<circle cx="309.85" cy="40.66" r="5.1" fill="#f4a582"/>
<circle cx="309.88" cy="62.11" r="5.1" fill="#f4a582"/>
<circle cx="308.51" cy="19.47" r="5.1" fill="#f4a582"/>
<circle cx="308.24" cy="21.97" r="5.1" fill="#f4a582"/>
<circle cx="308.97" cy="64.94" r="5.1" fill="#f4a582"/>
<circle cx="308.27" cy="69.95" r="5.1" fill="#f4a582"/>
<circle cx="308.37" cy="39.1" r="5.1" fill="#f4a582"/>
<circle cx="309.17" cy="29.74" r="5.1" fill="#f4a582"/>
<circle cx="309.36" cy="69.62" r="5.1" fill="#f4a582"/>
<circle cx="308.44" cy="41.88" r="5.1" fill="#f4a582"/>
<circle cx="308.55" cy="70.4" r="5.1" fill="#f4a582"/>
<circle cx="308.78" cy="31.37" r="5.1" fill="#f4a582"/>
<circle cx="309.66" cy="69.62" r="5.1" fill="#f4a582"/>
<circle cx="309.43" cy="60.34" r="5.1" fill="#f4a582"/>
<circle cx="308.25" cy="70.4" r="5.1" fill="#f4a582"/>
<circle cx="309.84" cy="58.62" r="5.1" fill="#f4a582"/>
<circle cx="309.21" cy="33.71" r="5.1" fill="#f4a582"/>
<circle cx="308.73" cy="23.16" r="5.1" fill="#f4a582"/>
<circle cx="309.02" cy="24.18" r="5.1" fill="#f4a582"/>
<circle cx="308.41" cy="30.42" r="5.1" fill="#f4a582"/>
<circle cx="309.44" cy="19" r="5.1" fill="#f4a582"/>
<circle cx="309.82" cy="19.37" r="5.1" fill="#f4a582"/>
<circle cx="309.71" cy="68.4" r="5.1" fill="#f4a582"/>
<circle cx="308.96" cy="25.03" r="5.1" fill="#f4a582"/>
<circle cx="309.67" cy="68.11" r="5.1" fill="#f4a582"/>
<circle cx="308.76" cy="42.1" r="5.1" fill="#f4a582"/>
<circle cx="309.28" cy="43.47" r="5.1" fill="#f4a582"/>
<circle cx="308.25" cy="29.5" r="5.1" fill="#f4a582"/>
<circle cx="308.41" cy="47.61" r="5.1" fill="#f4a582"/>
<circle cx="308.89" cy="31.95" r="5.1" fill="#f4a582"/>
<circle cx="309.66" cy="32.2" r="5.1" fill="#f4a582"/>
<circle cx="309.03" cy="26.56" r="5.1" fill="#f4a582"/>
<circle cx="308.36" cy="66.71" r="5.1" fill="#f4a582"/>
<circle cx="309.76" cy="19" r="5.1" fill="#f4a582"/>
<circle cx="309.01" cy="28.93" r="5.1" fill="#f4a582"/>
<circle cx="308.51" cy="31.48" r="5.1" fill="#f4a582"/>
<circle cx="309.95" cy="70.4" r="5.1" fill="#f4a582"/>
<circle cx="308.67" cy="19.91" r="5.1" fill="#f4a582"/>
<circle cx="309.46" cy="20.54" r="5.1" fill="#f4a582"/>
<circle cx="308.18" cy="70.4" r="5.1" fill="#f4a582"/>
<circle cx="308.4" cy="36.01" r="5.1" fill="#f4a582"/>
<circle cx="309.1" cy="62.84" r="5.1" fill="#f4a582"/>
<circle cx="309.79" cy="41.16" r="5.1" fill="#f4a582"/>
<circle cx="308.4" cy="48.6" r="5.1" fill="#f4a582"/>
<circle cx="309.43" cy="59.47" r="5.1" fill="#f4a582"/>
<circle cx="308.31" cy="21.73" r="5.1" fill="#f4a582"/>
<circle cx="308.64" cy="44.45" r="5.1" fill="#f4a582"/>
<circle cx="309.42" cy="50.84" r="5.1" fill="#f4a582"/>
<circle cx="308.51" cy="49.23" r="5.1" fill="#f4a582"/>
<circle cx="308.88" cy="57.41" r="5.1" fill="#f4a582"/>
<circle cx="309.61" cy="20.42" r="5.1" fill="#f4a582"/>
<circle cx="309.71" cy="63.37" r="5.1" fill="#f4a582"/>
<circle cx="309.79" cy="19" r="5.1" fill="#f4a582"/>
<circle cx="308.63" cy="65.01" r="5.1" fill="#f4a582"/>
<circle cx="308.81" cy="62.81" r="5.1" fill="#f4a582"/>
<circle cx="309.22" cy="37.67" r="5.1" fill="#f4a582"/>
<circle cx="308.95" cy="45.78" r="5.1" fill="#f4a582"/>
<circle cx="309.44" cy="23.99" r="5.1" fill="#f4a582"/>
<circle cx="308.73" cy="64.65" r="5.1" fill="#f4a582"/>
<circle cx="309.5" cy="38.22" r="5.1" fill="#f4a582"/>
<circle cx="309.87" cy="65.06" r="5.1" fill="#f4a582"/>
<circle cx="309.1" cy="45.43" r="5.1" fill="#f4a582"/>
<circle cx="309.89" cy="19" r="5.1" fill="#f4a582"/>
<circle cx="308.33" cy="27.36" r="5.1" fill="#f4a582"/>
<circle cx="308.2" cy="62.02" r="5.1" fill="#f4a582"/>
<circle cx="308.5" cy="55.56" r="5.1" fill="#f4a582"/>
<circle cx="309.19" cy="50.13" r="5.1" fill="#f4a582"/>
<circle cx="308.34" cy="55.76" r="5.1" fill="#f4a582"/>
<circle cx="308.23" cy="56.55" r="5.1" fill="#f4a582"/>
<circle cx="309.05" cy="44.35" r="5.1" fill="#f4a582"/>
<circle cx="308.88" cy="24.06" r="5.1" fill="#f4a582"/>
<circle cx="309.7" cy="49.71" r="5.1" fill="#f4a582"/>
<circle cx="309.49" cy="48.68" r="5.1" fill="#f4a582"/>
<circle cx="309.84" cy="62.5" r="5.1" fill="#f4a582"/>
<circle cx="309.66" cy="40.36" r="5.1" fill="#f4a582"/>
</g>
<g opacity="0.780" filter="url(#soft)">
<circle cx="309.57" cy="38.46" r="5.1" fill="#f4a582"/>
<circle cx="309.17" cy="62.23" r="5.1" fill="#f4a582"/>
<circle cx="309.9" cy="20.71" r="5.1" fill="#f4a582"/>
<circle cx="308.75" cy="62.58" r="5.1" fill="#f4a582"/>
<circle cx="308.92" cy="34.25" r="5.1" fill="#f4a582"/>
<circle cx="309.38" cy="37.97" r="5.1" fill="#f4a582"/>
<circle cx="309.6" cy="66.33" r="5.1" fill="#f4a582"/>
<circle cx="309.62" cy="49.43" r="5.1" fill="#f4a582"/>
<circle cx="309.18" cy="64.75" r="5.1" fill="#f4a582"/>
<circle cx="309.6" cy="63.87" r="5.1" fill="#f4a582"/>
<circle cx="308.77" cy="67.29" r="5.1" fill="#f4a582"/>
<circle cx="309.59" cy="47.63" r="5.1" fill="#f4a582"/>
<circle cx="309.83" cy="58.36" r="5.1" fill="#f4a582"/>
<circle cx="309.37" cy="50.54" r="5.1" fill="#f4a582"/>
<circle cx="308.61" cy="28.68" r="5.1" fill="#f4a582"/>
<circle cx="308.98" cy="60.62" r="5.1" fill="#f4a582"/>
<circle cx="309.54" cy="61.44" r="5.1" fill="#f4a582"/>
<circle cx="309.76" cy="49.05" r="5.1" fill="#f4a582"/>
<circle cx="309.01" cy="45.89" r="5.1" fill="#f4a582"/>
<circle cx="308.5" cy="27.73" r="5.1" fill="#f4a582"/>
<circle cx="308.8" cy="55.68" r="5.1" fill="#f4a582"/>
<circle cx="309.08" cy="39.38" r="5.1" fill="#f4a582"/>
<circle cx="309.29" cy="23.19" r="5.1" fill="#f4a582"/>
<circle cx="309.22" cy="25.93" r="5.1" fill="#f4a582"/>
<circle cx="308.19" cy="45.76" r="5.1" fill="#f4a582"/>
<circle cx="308.62" cy="48.37" r="5.1" fill="#f4a582"/>
<circle cx="309.85" cy="40.66" r="5.1" fill="#f4a582"/>
<circle cx="309.88" cy="62.11" r="5.1" fill="#f4a582"/>
<circle cx="308.24" cy="21.97" r="5.1" fill="#f4a582"/>
<circle cx="308.97" cy="64.94" r="5.1" fill="#f4a582"/>
<circle cx="308.37" cy="39.1" r="5.1" fill="#f4a582"/>
<circle cx="309.17" cy="29.74" r="5.1" fill="#f4a582"/>
<circle cx="308.44" cy="41.88" r="5.1" fill="#f4a582"/>
<circle cx="308.78" cy="31.37" r="5.1" fill="#f4a582"/>
<circle cx="309.43" cy="60.34" r="5.1" fill="#f4a582"/>
<circle cx="309.84" cy="58.62" r="5.1" fill="#f4a582"/>
<circle cx="309.21" cy="33.71" r="5.1" fill="#f4a582"/>
<circle cx="308.73" cy="23.16" r="5.1" fill="#f4a582"/>
<circle cx="309.02" cy="24.18" r="5.1" fill="#f4a582"/>
<circle cx="308.41" cy="30.42" r="5.1" fill="#f4a582"/>
<circle cx="309.71" cy="68.4" r="5.1" fill="#f4a582"/>
<circle cx="308.96" cy="25.03" r="5.1" fill="#f4a582"/>
<circle cx="309.67" cy="68.11" r="5.1" fill="#f4a582"/>
<circle cx="308.76" cy="42.1" r="5.1" fill="#f4a582"/>
<circle cx="309.28" cy="43.47" r="5.1" fill="#f4a582"/>
<circle cx="308.25" cy="29.5" r="5.1" fill="#f4a582"/>
<circle cx="308.41" cy="47.61" r="5.1" fill="#f4a582"/>
<circle cx="308.89" cy="31.95" r="5.1" fill="#f4a582"/>
<circle cx="309.66" cy="32.2" r="5.1" fill="#f4a582"/>
<circle cx="309.03" cy="26.56" r="5.1" fill="#f4a582"/>
<circle cx="308.36" cy="66.71" r="5.1" fill="#f4a582"/>
<circle cx="309.01" cy="28.93" r="5.1" fill="#f4a582"/>
<circle cx="308.51" cy="31.48" r="5.1" fill="#f4a582"/>
<circle cx="309.46" cy="20.54" r="5.1" fill="#f4a582"/>
<circle cx="308.4" cy="36.01" r="5.1" fill="#f4a582"/>
<circle cx="309.1" cy="62.84" r="5.1" fill="#f4a582"/>
<circle cx="309.79" cy="41.16" r="5.1" fill="#f4a582"/>
<circle cx="308.4" cy="48.6" r="5.1" fill="#f4a582"/>
<circle cx="309.43" cy="59.47" r="5.1" fill="#f4a582"/>
<circle cx="308.31" cy="21.73" r="5.1" fill="#f4a582"/>
<circle cx="308.64" cy="44.45" r="5.1" fill="#f4a582"/>
<circle cx="309.42" cy="50.84" r="5.1" fill="#f4a582"/>
<circle cx="308.51" cy="49.23" r="5.1" fill="#f4a582"/>
<circle cx="308.88" cy="57.41" r="5.1" fill="#f4a582"/>
<circle cx="309.61" cy="20.42" r="5.1" fill="#f4a582"/>
<circle cx="309.71" cy="63.37" r="5.1" fill="#f4a582"/>
<circle cx="308.63" cy="65.01" r="5.1" fill="#f4a582"/>
<circle cx="308.81" cy="62.81" r="5.1" fill="#f4a582"/>
<circle cx="309.22" cy="37.67" r="5.1" fill="#f4a582"/>
<circle cx="308.95" cy="45.78" r="5.1" fill="#f4a582"/>
<circle cx="309.44" cy="23.99" r="5.1" fill="#f4a582"/>
<circle cx="308.73" cy="64.65" r="5.1" fill="#f4a582"/>
<circle cx="309.5" cy="38.22" r="5.1" fill="#f4a582"/>
<circle cx="309.87" cy="65.06" r="5.1" fill="#f4a582"/>
<circle cx="309.1" cy="45.43" r="5.1" fill="#f4a582"/>
<circle cx="308.33" cy="27.36" r="5.1" fill="#f4a582"/>
<circle cx="308.2" cy="62.02" r="5.1" fill="#f4a582"/>
<circle cx="308.5" cy="55.56" r="5.1" fill="#f4a582"/>
<circle cx="309.19" cy="50.13" r="5.1" fill="#f4a582"/>
<circle cx="308.34" cy="55.76" r="5.1" fill="#f4a582"/>
<circle cx="308.23" cy="56.55" r="5.1" fill="#f4a582"/>
<circle cx="309.05" cy="44.35" r="5.1" fill="#f4a582"/>
<circle cx="308.88" cy="24.06" r="5.1" fill="#f4a582"/>
<circle cx="309.7" cy="49.71" r="5.1" fill="#f4a582"/>
<circle cx="309.49" cy="48.68" r="5.1" fill="#f4a582"/>
<circle cx="309.84" cy="62.5" r="5.1" fill="#f4a582"/>
<circle cx="309.66" cy="40.36" r="5.1" fill="#f4a582"/>
</g>
<rect x="57.8" y="62.6" width="121.6" height="52.3" fill="#0d1268"/>
<defs><radialGradient id="dk" cx="0.55" cy="0.35" r="0.8"><stop offset="0" stop-color="#e6e5e2"/><stop offset="0.65" stop-color="#dddbd8"/><stop offset="1" stop-color="#b8b6b4"/></radialGradient><linearGradient id="dkb" x1="0" y1="0" x2="0" y2="1"><stop offset="0" stop-color="#000" stop-opacity="0"/><stop offset="0.8" stop-color="#000" stop-opacity="0"/><stop offset="1" stop-color="#223" stop-opacity="0.35"/></linearGradient></defs>
<ellipse cx="86.5" cy="88.7" rx="25.6" ry="24.8" fill="url(#dk)"/>
<ellipse cx="153.7" cy="89.7" rx="24.1" ry="23.6" fill="url(#dk)"/>
<ellipse cx="153.7" cy="89.7" rx="24.1" ry="23.6" fill="url(#dkb)"/>
<ellipse cx="80" cy="95" rx="10" ry="8" fill="#8a8a90" fill-opacity="0.12"/>
<rect x="85.75" y="66.86" width="3.8" height="3.8" fill="none" stroke="#f0a496" stroke-width="0.8" transform="rotate(45 87.65 68.76)"/>
<rect x="80.28" y="72.33" width="3.8" height="3.8" fill="none" stroke="#f0a496" stroke-width="0.8" transform="rotate(45 82.18 74.23)"/>
<rect x="74.81" y="77.8" width="3.8" height="3.8" fill="none" stroke="#f0a496" stroke-width="0.8" transform="rotate(45 76.71 79.7)"/>
<rect x="69.34" y="83.27" width="3.8" height="3.8" fill="none" stroke="#f0a496" stroke-width="0.8" transform="rotate(45 71.24 85.17)"/>
<rect x="63.87" y="88.74" width="3.8" height="3.8" fill="none" stroke="#f0a496" stroke-width="0.8" transform="rotate(45 65.77 90.64)"/>
<rect x="90.35" y="71.46" width="3.8" height="3.8" fill="none" stroke="#f0a496" stroke-width="0.8" transform="rotate(45 92.25 73.36)"/>
<rect x="84.88" y="76.93" width="3.8" height="3.8" fill="none" stroke="#f0a496" stroke-width="0.8" transform="rotate(45 86.78 78.83)"/>
<rect x="79.41" y="82.4" width="3.8" height="3.8" fill="none" stroke="#f0a496" stroke-width="0.8" transform="rotate(45 81.31 84.3)"/>
<rect x="73.94" y="87.87" width="3.8" height="3.8" fill="none" stroke="#f0a496" stroke-width="0.8" transform="rotate(45 75.84 89.77)"/>
<rect x="68.47" y="93.34" width="3.8" height="3.8" fill="none" stroke="#f0a496" stroke-width="0.8" transform="rotate(45 70.37 95.24)"/>
<rect x="94.95" y="76.06" width="3.8" height="3.8" fill="none" stroke="#f0a496" stroke-width="0.8" transform="rotate(45 96.85 77.96)"/>
<rect x="89.48" y="81.53" width="3.8" height="3.8" fill="none" stroke="#f0a496" stroke-width="0.8" transform="rotate(45 91.38 83.43)"/>
<rect x="84.01" y="87" width="3.8" height="3.8" fill="none" stroke="#f0a496" stroke-width="0.8" transform="rotate(45 85.91 88.9)"/>
<rect x="78.54" y="92.47" width="3.8" height="3.8" fill="none" stroke="#f0a496" stroke-width="0.8" transform="rotate(45 80.44 94.37)"/>
<rect x="73.07" y="97.94" width="3.8" height="3.8" fill="none" stroke="#f0a496" stroke-width="0.8" transform="rotate(45 74.97 99.84)"/>
<rect x="99.55" y="80.66" width="3.8" height="3.8" fill="none" stroke="#f0a496" stroke-width="0.8" transform="rotate(45 101.45 82.56)"/>
<rect x="94.08" y="86.13" width="3.8" height="3.8" fill="none" stroke="#f0a496" stroke-width="0.8" transform="rotate(45 95.98 88.03)"/>
<rect x="88.61" y="91.6" width="3.8" height="3.8" fill="none" stroke="#f0a496" stroke-width="0.8" transform="rotate(45 90.51 93.5)"/>
<rect x="83.14" y="97.07" width="3.8" height="3.8" fill="none" stroke="#f0a496" stroke-width="0.8" transform="rotate(45 85.04 98.97)"/>
<rect x="77.67" y="102.54" width="3.8" height="3.8" fill="none" stroke="#f0a496" stroke-width="0.8" transform="rotate(45 79.57 104.44)"/>
<rect x="104.15" y="85.26" width="3.8" height="3.8" fill="none" stroke="#f0a496" stroke-width="0.8" transform="rotate(45 106.05 87.16)"/>
<rect x="98.68" y="90.73" width="3.8" height="3.8" fill="none" stroke="#f0a496" stroke-width="0.8" transform="rotate(45 100.58 92.63)"/>
<rect x="93.21" y="96.2" width="3.8" height="3.8" fill="none" stroke="#f0a496" stroke-width="0.8" transform="rotate(45 95.11 98.1)"/>
<rect x="87.74" y="101.67" width="3.8" height="3.8" fill="none" stroke="#f0a496" stroke-width="0.8" transform="rotate(45 89.64 103.57)"/>
<rect x="82.27" y="107.14" width="3.8" height="3.8" fill="none" stroke="#f0a496" stroke-width="0.8" transform="rotate(45 84.17 109.04)"/>
<rect x="153.1" y="68.2" width="3.8" height="3.8" fill="none" stroke="#f0a496" stroke-width="0.8" transform="rotate(45 155 70.1)"/>
<rect x="147.85" y="73.45" width="3.8" height="3.8" fill="none" stroke="#f0a496" stroke-width="0.8" transform="rotate(45 149.75 75.35)"/>
<rect x="142.6" y="78.7" width="3.8" height="3.8" fill="none" stroke="#f0a496" stroke-width="0.8" transform="rotate(45 144.5 80.6)"/>
<rect x="137.35" y="83.95" width="3.8" height="3.8" fill="none" stroke="#f0a496" stroke-width="0.8" transform="rotate(45 139.25 85.85)"/>
<rect x="132.1" y="89.2" width="3.8" height="3.8" fill="none" stroke="#f0a496" stroke-width="0.8" transform="rotate(45 134 91.1)"/>
<rect x="157.48" y="72.58" width="3.8" height="3.8" fill="none" stroke="#f0a496" stroke-width="0.8" transform="rotate(45 159.38 74.48)"/>
<rect x="152.23" y="77.83" width="3.8" height="3.8" fill="none" stroke="#f0a496" stroke-width="0.8" transform="rotate(45 154.13 79.73)"/>
<rect x="146.98" y="83.08" width="3.8" height="3.8" fill="none" stroke="#f0a496" stroke-width="0.8" transform="rotate(45 148.88 84.98)"/>
<rect x="141.73" y="88.33" width="3.8" height="3.8" fill="none" stroke="#f0a496" stroke-width="0.8" transform="rotate(45 143.63 90.23)"/>
<rect x="136.48" y="93.58" width="3.8" height="3.8" fill="none" stroke="#f0a496" stroke-width="0.8" transform="rotate(45 138.38 95.48)"/>
<rect x="161.86" y="76.96" width="3.8" height="3.8" fill="none" stroke="#f0a496" stroke-width="0.8" transform="rotate(45 163.76 78.86)"/>
<rect x="156.61" y="82.21" width="3.8" height="3.8" fill="none" stroke="#f0a496" stroke-width="0.8" transform="rotate(45 158.51 84.11)"/>
<rect x="151.36" y="87.46" width="3.8" height="3.8" fill="none" stroke="#f0a496" stroke-width="0.8" transform="rotate(45 153.26 89.36)"/>
<rect x="146.11" y="92.71" width="3.8" height="3.8" fill="none" stroke="#f0a496" stroke-width="0.8" transform="rotate(45 148.01 94.61)"/>
<rect x="140.86" y="97.96" width="3.8" height="3.8" fill="none" stroke="#f0a496" stroke-width="0.8" transform="rotate(45 142.76 99.86)"/>
<rect x="166.24" y="81.34" width="3.8" height="3.8" fill="none" stroke="#f0a496" stroke-width="0.8" transform="rotate(45 168.14 83.24)"/>
<rect x="160.99" y="86.59" width="3.8" height="3.8" fill="none" stroke="#f0a496" stroke-width="0.8" transform="rotate(45 162.89 88.49)"/>
<rect x="155.74" y="91.84" width="3.8" height="3.8" fill="none" stroke="#f0a496" stroke-width="0.8" transform="rotate(45 157.64 93.74)"/>
<rect x="150.49" y="97.09" width="3.8" height="3.8" fill="none" stroke="#f0a496" stroke-width="0.8" transform="rotate(45 152.39 98.99)"/>
<rect x="145.24" y="102.34" width="3.8" height="3.8" fill="none" stroke="#f0a496" stroke-width="0.8" transform="rotate(45 147.14 104.24)"/>
<rect x="170.62" y="85.72" width="3.8" height="3.8" fill="none" stroke="#f0a496" stroke-width="0.8" transform="rotate(45 172.52 87.62)"/>
<rect x="165.37" y="90.97" width="3.8" height="3.8" fill="none" stroke="#f0a496" stroke-width="0.8" transform="rotate(45 167.27 92.87)"/>
<rect x="160.12" y="96.22" width="3.8" height="3.8" fill="none" stroke="#f0a496" stroke-width="0.8" transform="rotate(45 162.02 98.12)"/>
<rect x="154.87" y="101.47" width="3.8" height="3.8" fill="none" stroke="#f0a496" stroke-width="0.8" transform="rotate(45 156.77 103.37)"/>
<rect x="149.62" y="106.72" width="3.8" height="3.8" fill="none" stroke="#f0a496" stroke-width="0.8" transform="rotate(45 151.52 108.62)"/>
<text x="119.5" y="110.2" font-size="7.6" text-anchor="middle" fill="#fff" textLength="24.5" lengthAdjust="spacingAndGlyphs" stroke="#fff" stroke-width="0.15">20 mm</text>
<line x1="107.3" y1="111.8" x2="131.8" y2="111.8" stroke="#fff" stroke-width="1" stroke-linecap="butt"/>
<rect x="215.7" y="128.6" width="111" height="59.6" fill="#fff"/>
<line x1="243.5" y1="173.2" x2="243.5" y2="173.7" stroke="#c21d2b" stroke-width="1.4" stroke-linecap="butt"/>
<line x1="243.5" y1="177.2" x2="243.5" y2="177.6" stroke="#c21d2b" stroke-width="1.4" stroke-linecap="butt"/>
<rect x="229.5" y="173.7" width="28" height="3.5" fill="#fff" stroke="#c21d2b" stroke-width="1.4"/>
<line x1="229.5" y1="175.4" x2="257.5" y2="175.4" stroke="#c21d2b" stroke-width="1.4" stroke-linecap="butt"/>
<line x1="298.7" y1="130.5" x2="298.7" y2="138.7" stroke="#c21d2b" stroke-width="1.4" stroke-linecap="butt"/>
<line x1="298.7" y1="147.6" x2="298.7" y2="152.7" stroke="#c21d2b" stroke-width="1.4" stroke-linecap="butt"/>
<rect x="284.7" y="138.7" width="28" height="8.9" fill="#fff" stroke="#c21d2b" stroke-width="1.4"/>
<line x1="284.7" y1="142.7" x2="312.7" y2="142.7" stroke="#c21d2b" stroke-width="1.4" stroke-linecap="butt"/>
<svg x="215.7" y="128.6" width="111" height="59.6" overflow="hidden">
<line x1="27.8" y1="48.4" x2="114.3" y2="-2.3" stroke="#174a8b" stroke-width="1.6" stroke-linecap="butt" stroke-dasharray="5.6,2.6"/>
</svg>
<line x1="236.5" y1="173.2" x2="250.5" y2="173.2" stroke="#c21d2b" stroke-width="2" stroke-linecap="butt"/>
<line x1="236.5" y1="177.6" x2="250.5" y2="177.6" stroke="#c21d2b" stroke-width="2" stroke-linecap="butt"/>
<line x1="291.7" y1="130.5" x2="305.7" y2="130.5" stroke="#c21d2b" stroke-width="2.2" stroke-linecap="butt"/>
<line x1="291.7" y1="152.7" x2="305.7" y2="152.7" stroke="#c21d2b" stroke-width="2.2" stroke-linecap="butt"/>
<g opacity="0.800" filter="url(#soft)">
<circle cx="245.79" cy="175.08" r="6.2" fill="#f4a582"/>
<circle cx="242.15" cy="176.3" r="6.2" fill="#f4a582"/>
<circle cx="246" cy="175.22" r="6.2" fill="#f4a582"/>
<circle cx="245.14" cy="176.3" r="6.2" fill="#f4a582"/>
<circle cx="243.59" cy="176.3" r="6.2" fill="#f4a582"/>
<circle cx="242.2" cy="176.3" r="6.2" fill="#f4a582"/>
<circle cx="242.8" cy="175.91" r="6.2" fill="#f4a582"/>
<circle cx="243.15" cy="174.7" r="6.2" fill="#f4a582"/>
<circle cx="241.62" cy="174.7" r="6.2" fill="#f4a582"/>
<circle cx="245.77" cy="176.3" r="6.2" fill="#f4a582"/>
<circle cx="245.5" cy="174.7" r="6.2" fill="#f4a582"/>
<circle cx="244.24" cy="176.3" r="6.2" fill="#f4a582"/>
<circle cx="242.32" cy="176.07" r="6.2" fill="#f4a582"/>
<circle cx="244.13" cy="176.3" r="6.2" fill="#f4a582"/>
<circle cx="243.16" cy="175.52" r="6.2" fill="#f4a582"/>
<circle cx="242.49" cy="176.3" r="6.2" fill="#f4a582"/>
<circle cx="243.99" cy="174.7" r="6.2" fill="#f4a582"/>
<circle cx="242.3" cy="176.3" r="6.2" fill="#f4a582"/>
<circle cx="241.67" cy="175.57" r="6.2" fill="#f4a582"/>
<circle cx="242.43" cy="174.7" r="6.2" fill="#f4a582"/>
<circle cx="242.17" cy="174.71" r="6.2" fill="#f4a582"/>
<circle cx="245.27" cy="175.61" r="6.2" fill="#f4a582"/>
<circle cx="244.28" cy="174.7" r="6.2" fill="#f4a582"/>
<circle cx="243.3" cy="176.19" r="6.2" fill="#f4a582"/>
<circle cx="243.34" cy="175.84" r="6.2" fill="#f4a582"/>
<circle cx="242.05" cy="174.7" r="6.2" fill="#f4a582"/>
<circle cx="243.95" cy="175.04" r="6.2" fill="#f4a582"/>
<circle cx="245.38" cy="174.93" r="6.2" fill="#f4a582"/>
<circle cx="243.46" cy="175.65" r="6.2" fill="#f4a582"/>
<circle cx="242.44" cy="176.3" r="6.2" fill="#f4a582"/>
<circle cx="241.25" cy="176.3" r="6.2" fill="#f4a582"/>
<circle cx="241.22" cy="176.3" r="6.2" fill="#f4a582"/>
<circle cx="244.72" cy="175.24" r="6.2" fill="#f4a582"/>
<circle cx="245.89" cy="174.7" r="6.2" fill="#f4a582"/>
<circle cx="242.65" cy="174.7" r="6.2" fill="#f4a582"/>
<circle cx="244.1" cy="176.06" r="6.2" fill="#f4a582"/>
<circle cx="243.59" cy="176.3" r="6.2" fill="#f4a582"/>
<circle cx="244.85" cy="174.7" r="6.2" fill="#f4a582"/>
<circle cx="244.58" cy="176.3" r="6.2" fill="#f4a582"/>
<circle cx="245.43" cy="176.3" r="6.2" fill="#f4a582"/>
</g>
<g opacity="0.800" filter="url(#soft)">
<circle cx="299.18" cy="145.51" r="6.2" fill="#f4a582"/>
<circle cx="299.1" cy="147.27" r="6.2" fill="#f4a582"/>
<circle cx="300.79" cy="145.67" r="6.2" fill="#f4a582"/>
<circle cx="298.43" cy="136" r="6.2" fill="#f4a582"/>
<circle cx="297.54" cy="145.14" r="6.2" fill="#f4a582"/>
<circle cx="298.05" cy="143.64" r="6.2" fill="#f4a582"/>
<circle cx="300.66" cy="145.7" r="6.2" fill="#f4a582"/>
<circle cx="296.93" cy="142.65" r="6.2" fill="#f4a582"/>
<circle cx="299.12" cy="139.99" r="6.2" fill="#f4a582"/>
<circle cx="301.05" cy="136" r="6.2" fill="#f4a582"/>
<circle cx="300.59" cy="146.21" r="6.2" fill="#f4a582"/>
<circle cx="298.29" cy="148.64" r="6.2" fill="#f4a582"/>
<circle cx="296.17" cy="147.65" r="6.2" fill="#f4a582"/>
<circle cx="301.05" cy="136" r="6.2" fill="#f4a582"/>
<circle cx="301.49" cy="148.8" r="6.2" fill="#f4a582"/>
<circle cx="299.74" cy="143.3" r="6.2" fill="#f4a582"/>
<circle cx="299.23" cy="141.88" r="6.2" fill="#f4a582"/>
<circle cx="299.69" cy="147.14" r="6.2" fill="#f4a582"/>
<circle cx="298" cy="139.58" r="6.2" fill="#f4a582"/>
<circle cx="299.11" cy="143.7" r="6.2" fill="#f4a582"/>
<circle cx="298.63" cy="148.8" r="6.2" fill="#f4a582"/>
<circle cx="301.48" cy="144.26" r="6.2" fill="#f4a582"/>
<circle cx="300.47" cy="143.42" r="6.2" fill="#f4a582"/>
<circle cx="301.38" cy="141.53" r="6.2" fill="#f4a582"/>
<circle cx="296.52" cy="148.8" r="6.2" fill="#f4a582"/>
<circle cx="300.5" cy="148.8" r="6.2" fill="#f4a582"/>
<circle cx="298.26" cy="148.8" r="6.2" fill="#f4a582"/>
<circle cx="298.76" cy="141.28" r="6.2" fill="#f4a582"/>
<circle cx="296.92" cy="140.37" r="6.2" fill="#f4a582"/>
<circle cx="297.88" cy="136" r="6.2" fill="#f4a582"/>
<circle cx="296.14" cy="145.84" r="6.2" fill="#f4a582"/>
<circle cx="297.62" cy="145.71" r="6.2" fill="#f4a582"/>
<circle cx="297.6" cy="136" r="6.2" fill="#f4a582"/>
<circle cx="299.64" cy="148.8" r="6.2" fill="#f4a582"/>
<circle cx="299" cy="143.13" r="6.2" fill="#f4a582"/>
<circle cx="298.88" cy="144.46" r="6.2" fill="#f4a582"/>
<circle cx="298.2" cy="144.28" r="6.2" fill="#f4a582"/>
<circle cx="300.15" cy="140.1" r="6.2" fill="#f4a582"/>
<circle cx="296.86" cy="139.59" r="6.2" fill="#f4a582"/>
<circle cx="299.33" cy="146.03" r="6.2" fill="#f4a582"/>
<circle cx="295.97" cy="147.92" r="6.2" fill="#f4a582"/>
<circle cx="299.91" cy="148.8" r="6.2" fill="#f4a582"/>
<circle cx="297.39" cy="140.21" r="6.2" fill="#f4a582"/>
<circle cx="299.16" cy="146.74" r="6.2" fill="#f4a582"/>
<circle cx="298.06" cy="142.7" r="6.2" fill="#f4a582"/>
<circle cx="299.16" cy="146.63" r="6.2" fill="#f4a582"/>
<circle cx="299.37" cy="148.8" r="6.2" fill="#f4a582"/>
<circle cx="301.11" cy="139.09" r="6.2" fill="#f4a582"/>
<circle cx="300.93" cy="148.8" r="6.2" fill="#f4a582"/>
<circle cx="299.27" cy="148.8" r="6.2" fill="#f4a582"/>
<circle cx="301.22" cy="148.8" r="6.2" fill="#f4a582"/>
<circle cx="299.92" cy="142.17" r="6.2" fill="#f4a582"/>
<circle cx="300.8" cy="141.45" r="6.2" fill="#f4a582"/>
<circle cx="297.26" cy="145.76" r="6.2" fill="#f4a582"/>
<circle cx="296.94" cy="141.89" r="6.2" fill="#f4a582"/>
</g>
<rect x="215.7" y="128.6" width="111" height="59.6" fill="none" stroke="#000" stroke-width="1.3"/>
<line x1="210.2" y1="174.7" x2="215.7" y2="174.7" stroke="#000" stroke-width="1.2" stroke-linecap="butt"/>
<text x="203.3" y="177.65" font-size="8.2" text-anchor="end" fill="#000" textLength="17.15" lengthAdjust="spacingAndGlyphs" stroke="#000" stroke-width="0.15">0.02</text>
<line x1="210.2" y1="143.6" x2="215.7" y2="143.6" stroke="#000" stroke-width="1.2" stroke-linecap="butt"/>
<text x="203.3" y="146.55" font-size="8.2" text-anchor="end" fill="#000" textLength="17.15" lengthAdjust="spacingAndGlyphs" stroke="#000" stroke-width="0.15">0.04</text>
<line x1="243.5" y1="188.2" x2="243.5" y2="194.2" stroke="#000" stroke-width="1.2" stroke-linecap="butt"/>
<text x="243.5" y="206.1" font-size="8.2" text-anchor="middle" fill="#000" textLength="4.9" lengthAdjust="spacingAndGlyphs" stroke="#000" stroke-width="0.15">1</text>
<line x1="298.7" y1="188.2" x2="298.7" y2="194.2" stroke="#000" stroke-width="1.2" stroke-linecap="butt"/>
<text x="298.7" y="206.1" font-size="8.2" text-anchor="middle" fill="#000" textLength="4.9" lengthAdjust="spacingAndGlyphs" stroke="#000" stroke-width="0.15">2</text>
<rect x="55.6" y="11.7" width="95.9" height="27.5" fill="#fff" stroke="#d3d3d3" stroke-width="1" fill-opacity="0.85" rx="2.5"/>
<circle cx="67.2" cy="19.5" r="4.8" fill="#f4a582" fill-opacity="0.22"/>
<line x1="58.8" y1="31.1" x2="74.1" y2="31.1" stroke="#174a8b" stroke-width="1.7" stroke-linecap="butt" stroke-dasharray="6.2,2.9"/>
<text x="82.6" y="21.9" font-size="8.25" text-anchor="start" fill="#000" textLength="64.01" lengthAdjust="spacingAndGlyphs" stroke="#000" stroke-width="0.15">Predicted Value</text>
<text x="82.6" y="33.9" font-size="8.25" text-anchor="start" fill="#000" textLength="64.94" lengthAdjust="spacingAndGlyphs" stroke="#000" stroke-width="0.15">Regression Line</text>
<rect x="51.5" y="8" width="280.7" height="202.3" fill="none" stroke="#000" stroke-width="1.3"/>
<line x1="46" y1="176.59" x2="51.5" y2="176.59" stroke="#000" stroke-width="1.2" stroke-linecap="butt"/>
<text x="39.1" y="179.54" font-size="8.2" text-anchor="end" fill="#000" textLength="17.15" lengthAdjust="spacingAndGlyphs" stroke="#000" stroke-width="0.15">0.05</text>
<line x1="46" y1="142.46" x2="51.5" y2="142.46" stroke="#000" stroke-width="1.2" stroke-linecap="butt"/>
<text x="39.1" y="145.41" font-size="8.2" text-anchor="end" fill="#000" textLength="17.15" lengthAdjust="spacingAndGlyphs" stroke="#000" stroke-width="0.15">0.10</text>
<line x1="46" y1="108.33" x2="51.5" y2="108.33" stroke="#000" stroke-width="1.2" stroke-linecap="butt"/>
<text x="39.1" y="111.28" font-size="8.2" text-anchor="end" fill="#000" textLength="17.15" lengthAdjust="spacingAndGlyphs" stroke="#000" stroke-width="0.15">0.15</text>
<line x1="46" y1="74.2" x2="51.5" y2="74.2" stroke="#000" stroke-width="1.2" stroke-linecap="butt"/>
<text x="39.1" y="77.15" font-size="8.2" text-anchor="end" fill="#000" textLength="17.15" lengthAdjust="spacingAndGlyphs" stroke="#000" stroke-width="0.15">0.20</text>
<line x1="46" y1="40.07" x2="51.5" y2="40.07" stroke="#000" stroke-width="1.2" stroke-linecap="butt"/>
<text x="39.1" y="43.02" font-size="8.2" text-anchor="end" fill="#000" textLength="17.15" lengthAdjust="spacingAndGlyphs" stroke="#000" stroke-width="0.15">0.25</text>
<line x1="74.6" y1="210.3" x2="74.6" y2="216.3" stroke="#000" stroke-width="1.2" stroke-linecap="butt"/>
<text x="74.6" y="228.5" font-size="8.2" text-anchor="middle" fill="#000" textLength="4.9" lengthAdjust="spacingAndGlyphs" stroke="#000" stroke-width="0.15">1</text>
<line x1="100.65" y1="210.3" x2="100.65" y2="216.3" stroke="#000" stroke-width="1.2" stroke-linecap="butt"/>
<text x="100.65" y="228.5" font-size="8.2" text-anchor="middle" fill="#000" textLength="4.9" lengthAdjust="spacingAndGlyphs" stroke="#000" stroke-width="0.15">2</text>
<line x1="126.7" y1="210.3" x2="126.7" y2="216.3" stroke="#000" stroke-width="1.2" stroke-linecap="butt"/>
<text x="126.7" y="228.5" font-size="8.2" text-anchor="middle" fill="#000" textLength="4.9" lengthAdjust="spacingAndGlyphs" stroke="#000" stroke-width="0.15">3</text>
<line x1="152.75" y1="210.3" x2="152.75" y2="216.3" stroke="#000" stroke-width="1.2" stroke-linecap="butt"/>
<text x="152.75" y="228.5" font-size="8.2" text-anchor="middle" fill="#000" textLength="4.9" lengthAdjust="spacingAndGlyphs" stroke="#000" stroke-width="0.15">4</text>
<line x1="178.8" y1="210.3" x2="178.8" y2="216.3" stroke="#000" stroke-width="1.2" stroke-linecap="butt"/>
<text x="178.8" y="228.5" font-size="8.2" text-anchor="middle" fill="#000" textLength="4.9" lengthAdjust="spacingAndGlyphs" stroke="#000" stroke-width="0.15">5</text>
<line x1="204.85" y1="210.3" x2="204.85" y2="216.3" stroke="#000" stroke-width="1.2" stroke-linecap="butt"/>
<text x="204.85" y="228.5" font-size="8.2" text-anchor="middle" fill="#000" textLength="4.9" lengthAdjust="spacingAndGlyphs" stroke="#000" stroke-width="0.15">6</text>
<line x1="230.9" y1="210.3" x2="230.9" y2="216.3" stroke="#000" stroke-width="1.2" stroke-linecap="butt"/>
<text x="230.9" y="228.5" font-size="8.2" text-anchor="middle" fill="#000" textLength="4.9" lengthAdjust="spacingAndGlyphs" stroke="#000" stroke-width="0.15">7</text>
<line x1="256.95" y1="210.3" x2="256.95" y2="216.3" stroke="#000" stroke-width="1.2" stroke-linecap="butt"/>
<text x="256.95" y="228.5" font-size="8.2" text-anchor="middle" fill="#000" textLength="4.9" lengthAdjust="spacingAndGlyphs" stroke="#000" stroke-width="0.15">8</text>
<line x1="283" y1="210.3" x2="283" y2="216.3" stroke="#000" stroke-width="1.2" stroke-linecap="butt"/>
<text x="283" y="228.5" font-size="8.2" text-anchor="middle" fill="#000" textLength="4.9" lengthAdjust="spacingAndGlyphs" stroke="#000" stroke-width="0.15">9</text>
<line x1="309.05" y1="210.3" x2="309.05" y2="216.3" stroke="#000" stroke-width="1.2" stroke-linecap="butt"/>
<text x="309.05" y="228.5" font-size="8.2" text-anchor="middle" fill="#000" textLength="9.8" lengthAdjust="spacingAndGlyphs" stroke="#000" stroke-width="0.15">10</text>
<text x="13.3" y="109.3" font-size="10" text-anchor="middle" fill="#000" textLength="135.71" lengthAdjust="spacingAndGlyphs" transform="rotate(-90 13.3 109.3)" stroke="#000" stroke-width="0.15">Predicted Contact Area (%)</text>
<text x="191.9" y="244.6" font-size="10" text-anchor="middle" fill="#000" textLength="116.11" lengthAdjust="spacingAndGlyphs" stroke="#000" stroke-width="0.15">Contact Pressure (MPa)</text>
<rect x="396.6" y="8" width="280.9" height="201.8" fill="#fff"/>
<circle cx="420.81" cy="194" r="5.5" fill="#f4a582" fill-opacity="0.100"/>
<circle cx="419.93" cy="194" r="5.5" fill="#f4a582" fill-opacity="0.100"/>
<circle cx="418.62" cy="194" r="5.5" fill="#f4a582" fill-opacity="0.100"/>
<circle cx="419.22" cy="194" r="5.5" fill="#f4a582" fill-opacity="0.100"/>
<circle cx="419.19" cy="194" r="5.5" fill="#f4a582" fill-opacity="0.100"/>
<circle cx="419.71" cy="194" r="5.5" fill="#f4a582" fill-opacity="0.100"/>
<circle cx="418.46" cy="194" r="5.5" fill="#f4a582" fill-opacity="0.100"/>
<circle cx="418.64" cy="194" r="5.5" fill="#f4a582" fill-opacity="0.100"/>
<circle cx="422.02" cy="194" r="5.5" fill="#f4a582" fill-opacity="0.100"/>
<circle cx="421.61" cy="194" r="5.5" fill="#f4a582" fill-opacity="0.100"/>
<circle cx="445.07" cy="186.11" r="5.5" fill="#f4a582" fill-opacity="0.100"/>
<circle cx="445.17" cy="187.5" r="5.5" fill="#f4a582" fill-opacity="0.100"/>
<circle cx="447.56" cy="180.32" r="5.5" fill="#f4a582" fill-opacity="0.100"/>
<circle cx="446.97" cy="185.7" r="5.5" fill="#f4a582" fill-opacity="0.100"/>
<circle cx="447.07" cy="181.12" r="5.5" fill="#f4a582" fill-opacity="0.100"/>
<circle cx="444.64" cy="185.51" r="5.5" fill="#f4a582" fill-opacity="0.100"/>
<circle cx="445.38" cy="183.2" r="5.5" fill="#f4a582" fill-opacity="0.100"/>
<circle cx="447.32" cy="187.4" r="5.5" fill="#f4a582" fill-opacity="0.100"/>
<circle cx="445.98" cy="178.5" r="5.5" fill="#f4a582" fill-opacity="0.100"/>
<circle cx="448.29" cy="180.64" r="5.5" fill="#f4a582" fill-opacity="0.100"/>
<circle cx="470.6" cy="165.51" r="5.5" fill="#f4a582" fill-opacity="0.100"/>
<circle cx="472.56" cy="159.4" r="5.5" fill="#f4a582" fill-opacity="0.100"/>
<circle cx="471.62" cy="161.63" r="5.5" fill="#f4a582" fill-opacity="0.100"/>
<circle cx="473.64" cy="162.02" r="5.5" fill="#f4a582" fill-opacity="0.100"/>
<circle cx="474.6" cy="163.82" r="5.5" fill="#f4a582" fill-opacity="0.100"/>
<circle cx="474.37" cy="168.6" r="5.5" fill="#f4a582" fill-opacity="0.100"/>
<circle cx="470.21" cy="163" r="5.5" fill="#f4a582" fill-opacity="0.100"/>
<circle cx="471.82" cy="160.09" r="5.5" fill="#f4a582" fill-opacity="0.100"/>
<circle cx="473.56" cy="165.48" r="5.5" fill="#f4a582" fill-opacity="0.100"/>
<circle cx="471.82" cy="166.7" r="5.5" fill="#f4a582" fill-opacity="0.100"/>
<circle cx="496.67" cy="138.9" r="5.5" fill="#f4a582" fill-opacity="0.100"/>
<circle cx="499.65" cy="152.7" r="5.5" fill="#f4a582" fill-opacity="0.100"/>
<circle cx="496.9" cy="143.45" r="5.5" fill="#f4a582" fill-opacity="0.100"/>
<circle cx="497.99" cy="145.11" r="5.5" fill="#f4a582" fill-opacity="0.100"/>
<circle cx="499.28" cy="145.16" r="5.5" fill="#f4a582" fill-opacity="0.100"/>
<circle cx="498.94" cy="148.49" r="5.5" fill="#f4a582" fill-opacity="0.100"/>
<circle cx="498.26" cy="138.9" r="5.5" fill="#f4a582" fill-opacity="0.100"/>
<circle cx="496.09" cy="139.42" r="5.5" fill="#f4a582" fill-opacity="0.100"/>
<circle cx="497.52" cy="152.7" r="5.5" fill="#f4a582" fill-opacity="0.100"/>
<circle cx="499.13" cy="148.58" r="5.5" fill="#f4a582" fill-opacity="0.100"/>
<circle cx="522.68" cy="128.35" r="5.5" fill="#f4a582" fill-opacity="0.100"/>
<circle cx="526.69" cy="136.24" r="5.5" fill="#f4a582" fill-opacity="0.100"/>
<circle cx="525.59" cy="121.4" r="5.5" fill="#f4a582" fill-opacity="0.100"/>
<circle cx="526.26" cy="132.78" r="5.5" fill="#f4a582" fill-opacity="0.100"/>
<circle cx="526.85" cy="126.99" r="5.5" fill="#f4a582" fill-opacity="0.100"/>
<circle cx="525.58" cy="134.39" r="5.5" fill="#f4a582" fill-opacity="0.100"/>
<circle cx="525.26" cy="125.13" r="5.5" fill="#f4a582" fill-opacity="0.100"/>
<circle cx="525.61" cy="126.68" r="5.5" fill="#f4a582" fill-opacity="0.100"/>
<circle cx="526.76" cy="130.7" r="5.5" fill="#f4a582" fill-opacity="0.100"/>
<circle cx="522.34" cy="132.9" r="5.5" fill="#f4a582" fill-opacity="0.100"/>
<circle cx="549.46" cy="107.04" r="5.5" fill="#f4a582" fill-opacity="0.100"/>
<circle cx="551.34" cy="118.19" r="5.5" fill="#f4a582" fill-opacity="0.100"/>
<circle cx="548.45" cy="110.85" r="5.5" fill="#f4a582" fill-opacity="0.100"/>
<circle cx="549.16" cy="112.5" r="5.5" fill="#f4a582" fill-opacity="0.100"/>
<circle cx="551.68" cy="109.69" r="5.5" fill="#f4a582" fill-opacity="0.100"/>
<circle cx="549.36" cy="103.35" r="5.5" fill="#f4a582" fill-opacity="0.100"/>
<circle cx="552.83" cy="112.84" r="5.5" fill="#f4a582" fill-opacity="0.100"/>
<circle cx="552.57" cy="111.35" r="5.5" fill="#f4a582" fill-opacity="0.100"/>
<circle cx="549.82" cy="114.05" r="5.5" fill="#f4a582" fill-opacity="0.100"/>
<circle cx="551.95" cy="122.56" r="5.5" fill="#f4a582" fill-opacity="0.100"/>
<circle cx="577.17" cy="97.73" r="5.5" fill="#f4a582" fill-opacity="0.100"/>
<circle cx="578.34" cy="98.8" r="5.5" fill="#f4a582" fill-opacity="0.100"/>
<circle cx="575.98" cy="93.7" r="5.5" fill="#f4a582" fill-opacity="0.100"/>
<circle cx="575.58" cy="91.25" r="5.5" fill="#f4a582" fill-opacity="0.100"/>
<circle cx="576.42" cy="98.11" r="5.5" fill="#f4a582" fill-opacity="0.100"/>
<circle cx="576.52" cy="94.07" r="5.5" fill="#f4a582" fill-opacity="0.100"/>
<circle cx="574.54" cy="92.4" r="5.5" fill="#f4a582" fill-opacity="0.100"/>
<circle cx="577.93" cy="101.22" r="5.5" fill="#f4a582" fill-opacity="0.100"/>
<circle cx="579.08" cy="98.27" r="5.5" fill="#f4a582" fill-opacity="0.100"/>
<circle cx="576.62" cy="83.4" r="5.5" fill="#f4a582" fill-opacity="0.100"/>
<circle cx="602.93" cy="74.6" r="5.5" fill="#f4a582" fill-opacity="0.100"/>
<circle cx="603.43" cy="84.6" r="5.5" fill="#f4a582" fill-opacity="0.100"/>
<circle cx="603.47" cy="71.49" r="5.5" fill="#f4a582" fill-opacity="0.100"/>
<circle cx="600.9" cy="75.37" r="5.5" fill="#f4a582" fill-opacity="0.100"/>
<circle cx="604.41" cy="82.61" r="5.5" fill="#f4a582" fill-opacity="0.100"/>
<circle cx="603.4" cy="74.54" r="5.5" fill="#f4a582" fill-opacity="0.100"/>
<circle cx="601.05" cy="92.9" r="5.5" fill="#f4a582" fill-opacity="0.100"/>
<circle cx="603.92" cy="92.9" r="5.5" fill="#f4a582" fill-opacity="0.100"/>
<circle cx="604.34" cy="74.53" r="5.5" fill="#f4a582" fill-opacity="0.100"/>
<circle cx="602.97" cy="77.05" r="5.5" fill="#f4a582" fill-opacity="0.100"/>
<circle cx="627.44" cy="66.57" r="5.5" fill="#f4a582" fill-opacity="0.100"/>
<circle cx="629.38" cy="62.76" r="5.5" fill="#f4a582" fill-opacity="0.100"/>
<circle cx="630.77" cy="76.06" r="5.5" fill="#f4a582" fill-opacity="0.100"/>
<circle cx="628.74" cy="73.94" r="5.5" fill="#f4a582" fill-opacity="0.100"/>
<circle cx="629.15" cy="58.91" r="5.5" fill="#f4a582" fill-opacity="0.100"/>
<circle cx="627.06" cy="64.51" r="5.5" fill="#f4a582" fill-opacity="0.100"/>
<circle cx="626.69" cy="68.57" r="5.5" fill="#f4a582" fill-opacity="0.100"/>
<circle cx="627.19" cy="60.93" r="5.5" fill="#f4a582" fill-opacity="0.100"/>
<circle cx="630.44" cy="45.7" r="5.5" fill="#f4a582" fill-opacity="0.100"/>
<circle cx="628.37" cy="76.87" r="5.5" fill="#f4a582" fill-opacity="0.100"/>
<circle cx="654.84" cy="45.95" r="5.5" fill="#f4a582" fill-opacity="0.100"/>
<circle cx="654.46" cy="40.75" r="5.5" fill="#f4a582" fill-opacity="0.100"/>
<circle cx="656.79" cy="33.27" r="5.5" fill="#f4a582" fill-opacity="0.100"/>
<circle cx="654.49" cy="40.06" r="5.5" fill="#f4a582" fill-opacity="0.100"/>
<circle cx="653.25" cy="27.67" r="5.5" fill="#f4a582" fill-opacity="0.100"/>
<circle cx="654.57" cy="40.51" r="5.5" fill="#f4a582" fill-opacity="0.100"/>
<circle cx="656.6" cy="61.8" r="5.5" fill="#f4a582" fill-opacity="0.100"/>
<circle cx="655.37" cy="61.8" r="5.5" fill="#f4a582" fill-opacity="0.100"/>
<circle cx="655.65" cy="52.11" r="5.5" fill="#f4a582" fill-opacity="0.100"/>
<circle cx="655.13" cy="27.08" r="5.5" fill="#f4a582" fill-opacity="0.100"/>
<line x1="420.5" y1="193.7" x2="420.5" y2="193.9" stroke="#c21d2b" stroke-width="2" stroke-linecap="butt"/>
<line x1="420.5" y1="195.3" x2="420.5" y2="195.5" stroke="#c21d2b" stroke-width="2" stroke-linecap="butt"/>
<line x1="414.2" y1="193.7" x2="426.8" y2="193.7" stroke="#c21d2b" stroke-width="2" stroke-linecap="butt"/>
<line x1="414.2" y1="195.5" x2="426.8" y2="195.5" stroke="#c21d2b" stroke-width="2" stroke-linecap="butt"/>
<rect x="410" y="193.9" width="21" height="1.4" fill="#fff" stroke="#c21d2b" stroke-width="2" fill-opacity="0.7"/>
<line x1="410" y1="194.6" x2="431" y2="194.6" stroke="#c21d2b" stroke-width="2" stroke-linecap="butt"/>
<line x1="446.53" y1="177" x2="446.53" y2="179.4" stroke="#c21d2b" stroke-width="2" stroke-linecap="butt"/>
<line x1="446.53" y1="186.4" x2="446.53" y2="189" stroke="#c21d2b" stroke-width="2" stroke-linecap="butt"/>
<line x1="440.23" y1="177" x2="452.83" y2="177" stroke="#c21d2b" stroke-width="2" stroke-linecap="butt"/>
<line x1="440.23" y1="189" x2="452.83" y2="189" stroke="#c21d2b" stroke-width="2" stroke-linecap="butt"/>
<rect x="436.03" y="179.4" width="21" height="7" fill="#fff" stroke="#c21d2b" stroke-width="2" fill-opacity="0.7"/>
<line x1="436.03" y1="182.9" x2="457.03" y2="182.9" stroke="#c21d2b" stroke-width="2" stroke-linecap="butt"/>
<line x1="472.56" y1="157.9" x2="472.56" y2="161.2" stroke="#c21d2b" stroke-width="2" stroke-linecap="butt"/>
<line x1="472.56" y1="167.7" x2="472.56" y2="170.1" stroke="#c21d2b" stroke-width="2" stroke-linecap="butt"/>
<line x1="466.26" y1="157.9" x2="478.86" y2="157.9" stroke="#c21d2b" stroke-width="2" stroke-linecap="butt"/>
<line x1="466.26" y1="170.1" x2="478.86" y2="170.1" stroke="#c21d2b" stroke-width="2" stroke-linecap="butt"/>
<rect x="462.06" y="161.2" width="21" height="6.5" fill="#fff" stroke="#c21d2b" stroke-width="2" fill-opacity="0.7"/>
<line x1="462.06" y1="164.5" x2="483.06" y2="164.5" stroke="#c21d2b" stroke-width="2" stroke-linecap="butt"/>
<line x1="498.59" y1="137.4" x2="498.59" y2="143.2" stroke="#c21d2b" stroke-width="2" stroke-linecap="butt"/>
<line x1="498.59" y1="149.5" x2="498.59" y2="154.2" stroke="#c21d2b" stroke-width="2" stroke-linecap="butt"/>
<line x1="492.29" y1="137.4" x2="504.89" y2="137.4" stroke="#c21d2b" stroke-width="2" stroke-linecap="butt"/>
<line x1="492.29" y1="154.2" x2="504.89" y2="154.2" stroke="#c21d2b" stroke-width="2" stroke-linecap="butt"/>
<rect x="488.09" y="143.2" width="21" height="6.3" fill="#fff" stroke="#c21d2b" stroke-width="2" fill-opacity="0.7"/>
<line x1="488.09" y1="146.3" x2="509.09" y2="146.3" stroke="#c21d2b" stroke-width="2" stroke-linecap="butt"/>
<line x1="524.62" y1="119.9" x2="524.62" y2="126.2" stroke="#c21d2b" stroke-width="2" stroke-linecap="butt"/>
<line x1="524.62" y1="135" x2="524.62" y2="140.9" stroke="#c21d2b" stroke-width="2" stroke-linecap="butt"/>
<line x1="518.32" y1="119.9" x2="530.92" y2="119.9" stroke="#c21d2b" stroke-width="2" stroke-linecap="butt"/>
<line x1="518.32" y1="140.9" x2="530.92" y2="140.9" stroke="#c21d2b" stroke-width="2" stroke-linecap="butt"/>
<rect x="514.12" y="126.2" width="21" height="8.8" fill="#fff" stroke="#c21d2b" stroke-width="2" fill-opacity="0.7"/>
<line x1="514.12" y1="130.4" x2="535.12" y2="130.4" stroke="#c21d2b" stroke-width="2" stroke-linecap="butt"/>
<line x1="550.65" y1="101.8" x2="550.65" y2="108.3" stroke="#c21d2b" stroke-width="2" stroke-linecap="butt"/>
<line x1="550.65" y1="118.5" x2="550.65" y2="125.9" stroke="#c21d2b" stroke-width="2" stroke-linecap="butt"/>
<line x1="544.35" y1="101.8" x2="556.95" y2="101.8" stroke="#c21d2b" stroke-width="2" stroke-linecap="butt"/>
<line x1="544.35" y1="125.9" x2="556.95" y2="125.9" stroke="#c21d2b" stroke-width="2" stroke-linecap="butt"/>
<rect x="540.15" y="108.3" width="21" height="10.2" fill="#fff" stroke="#c21d2b" stroke-width="2" fill-opacity="0.7"/>
<line x1="540.15" y1="113.5" x2="561.15" y2="113.5" stroke="#c21d2b" stroke-width="2" stroke-linecap="butt"/>
<line x1="576.68" y1="81.9" x2="576.68" y2="90.6" stroke="#c21d2b" stroke-width="2" stroke-linecap="butt"/>
<line x1="576.68" y1="101.3" x2="576.68" y2="110" stroke="#c21d2b" stroke-width="2" stroke-linecap="butt"/>
<line x1="570.38" y1="81.9" x2="582.98" y2="81.9" stroke="#c21d2b" stroke-width="2" stroke-linecap="butt"/>
<line x1="570.38" y1="110" x2="582.98" y2="110" stroke="#c21d2b" stroke-width="2" stroke-linecap="butt"/>
<rect x="566.18" y="90.6" width="21" height="10.7" fill="#fff" stroke="#c21d2b" stroke-width="2" fill-opacity="0.7"/>
<line x1="566.18" y1="97.3" x2="587.18" y2="97.3" stroke="#c21d2b" stroke-width="2" stroke-linecap="butt"/>
<line x1="602.71" y1="64.1" x2="602.71" y2="72" stroke="#c21d2b" stroke-width="2" stroke-linecap="butt"/>
<line x1="602.71" y1="85.7" x2="602.71" y2="94.4" stroke="#c21d2b" stroke-width="2" stroke-linecap="butt"/>
<line x1="596.41" y1="64.1" x2="609.01" y2="64.1" stroke="#c21d2b" stroke-width="2" stroke-linecap="butt"/>
<line x1="596.41" y1="94.4" x2="609.01" y2="94.4" stroke="#c21d2b" stroke-width="2" stroke-linecap="butt"/>
<rect x="592.21" y="72" width="21" height="13.7" fill="#fff" stroke="#c21d2b" stroke-width="2" fill-opacity="0.7"/>
<line x1="592.21" y1="79.5" x2="613.21" y2="79.5" stroke="#c21d2b" stroke-width="2" stroke-linecap="butt"/>
<line x1="628.74" y1="44.2" x2="628.74" y2="54.6" stroke="#c21d2b" stroke-width="2" stroke-linecap="butt"/>
<line x1="628.74" y1="69" x2="628.74" y2="79" stroke="#c21d2b" stroke-width="2" stroke-linecap="butt"/>
<line x1="622.44" y1="44.2" x2="635.04" y2="44.2" stroke="#c21d2b" stroke-width="2" stroke-linecap="butt"/>
<line x1="622.44" y1="79" x2="635.04" y2="79" stroke="#c21d2b" stroke-width="2" stroke-linecap="butt"/>
<rect x="618.24" y="54.6" width="21" height="14.4" fill="#fff" stroke="#c21d2b" stroke-width="2" fill-opacity="0.7"/>
<line x1="618.24" y1="63.8" x2="639.24" y2="63.8" stroke="#c21d2b" stroke-width="2" stroke-linecap="butt"/>
<line x1="654.77" y1="23.6" x2="654.77" y2="35.3" stroke="#c21d2b" stroke-width="2" stroke-linecap="butt"/>
<line x1="654.77" y1="51.4" x2="654.77" y2="63.3" stroke="#c21d2b" stroke-width="2" stroke-linecap="butt"/>
<line x1="648.47" y1="23.6" x2="661.07" y2="23.6" stroke="#c21d2b" stroke-width="2" stroke-linecap="butt"/>
<line x1="648.47" y1="63.3" x2="661.07" y2="63.3" stroke="#c21d2b" stroke-width="2" stroke-linecap="butt"/>
<rect x="644.27" y="35.3" width="21" height="16.1" fill="#fff" stroke="#c21d2b" stroke-width="2" fill-opacity="0.7"/>
<line x1="644.27" y1="44.7" x2="665.27" y2="44.7" stroke="#c21d2b" stroke-width="2" stroke-linecap="butt"/>
<circle cx="446.38" cy="182.54" r="4.5" fill="#f4a582" fill-opacity="0.16"/>
<circle cx="444.92" cy="181.86" r="4.5" fill="#f4a582" fill-opacity="0.16"/>
<circle cx="449.61" cy="181.17" r="4.5" fill="#f4a582" fill-opacity="0.16"/>
<circle cx="444.04" cy="180.46" r="4.5" fill="#f4a582" fill-opacity="0.16"/>
<circle cx="446.11" cy="181.93" r="4.5" fill="#f4a582" fill-opacity="0.16"/>
<circle cx="473.84" cy="162.38" r="4.5" fill="#f4a582" fill-opacity="0.16"/>
<circle cx="473.21" cy="163" r="4.5" fill="#f4a582" fill-opacity="0.16"/>
<circle cx="472.8" cy="163.1" r="4.5" fill="#f4a582" fill-opacity="0.16"/>
<circle cx="471.73" cy="163.41" r="4.5" fill="#f4a582" fill-opacity="0.16"/>
<circle cx="470" cy="162.45" r="4.5" fill="#f4a582" fill-opacity="0.16"/>
<circle cx="498.97" cy="146.02" r="4.5" fill="#f4a582" fill-opacity="0.16"/>
<circle cx="501.49" cy="144.43" r="4.5" fill="#f4a582" fill-opacity="0.16"/>
<circle cx="495.35" cy="144.72" r="4.5" fill="#f4a582" fill-opacity="0.16"/>
<circle cx="496.6" cy="145.29" r="4.5" fill="#f4a582" fill-opacity="0.16"/>
<circle cx="499.02" cy="145.2" r="4.5" fill="#f4a582" fill-opacity="0.16"/>
<circle cx="525.2" cy="127.79" r="4.5" fill="#f4a582" fill-opacity="0.16"/>
<circle cx="524.73" cy="127.49" r="4.5" fill="#f4a582" fill-opacity="0.16"/>
<circle cx="521.26" cy="128.73" r="4.5" fill="#f4a582" fill-opacity="0.16"/>
<circle cx="521.21" cy="128.26" r="4.5" fill="#f4a582" fill-opacity="0.16"/>
<circle cx="527.53" cy="128.34" r="4.5" fill="#f4a582" fill-opacity="0.16"/>
<circle cx="552.37" cy="111.01" r="4.5" fill="#f4a582" fill-opacity="0.16"/>
<circle cx="547.57" cy="111.65" r="4.5" fill="#f4a582" fill-opacity="0.16"/>
<circle cx="552.42" cy="112.37" r="4.5" fill="#f4a582" fill-opacity="0.16"/>
<circle cx="553.29" cy="109.62" r="4.5" fill="#f4a582" fill-opacity="0.16"/>
<circle cx="548.02" cy="110.52" r="4.5" fill="#f4a582" fill-opacity="0.16"/>
<circle cx="577.18" cy="95.3" r="4.5" fill="#f4a582" fill-opacity="0.16"/>
<circle cx="573.77" cy="94.58" r="4.5" fill="#f4a582" fill-opacity="0.16"/>
<circle cx="573.14" cy="94.59" r="4.5" fill="#f4a582" fill-opacity="0.16"/>
<circle cx="575.66" cy="92.51" r="4.5" fill="#f4a582" fill-opacity="0.16"/>
<circle cx="577.43" cy="91.66" r="4.5" fill="#f4a582" fill-opacity="0.16"/>
<circle cx="601.11" cy="73.91" r="4.5" fill="#f4a582" fill-opacity="0.16"/>
<circle cx="602.12" cy="76.01" r="4.5" fill="#f4a582" fill-opacity="0.16"/>
<circle cx="603.68" cy="76.78" r="4.5" fill="#f4a582" fill-opacity="0.16"/>
<circle cx="603.21" cy="76.71" r="4.5" fill="#f4a582" fill-opacity="0.16"/>
<circle cx="605.68" cy="76.9" r="4.5" fill="#f4a582" fill-opacity="0.16"/>
<circle cx="630.7" cy="56.46" r="4.5" fill="#f4a582" fill-opacity="0.16"/>
<circle cx="630.85" cy="57.34" r="4.5" fill="#f4a582" fill-opacity="0.16"/>
<circle cx="631.35" cy="59.07" r="4.5" fill="#f4a582" fill-opacity="0.16"/>
<circle cx="627.72" cy="56.23" r="4.5" fill="#f4a582" fill-opacity="0.16"/>
<circle cx="632.32" cy="59.36" r="4.5" fill="#f4a582" fill-opacity="0.16"/>
<circle cx="651.12" cy="40.05" r="4.5" fill="#f4a582" fill-opacity="0.16"/>
<circle cx="651.57" cy="39.44" r="4.5" fill="#f4a582" fill-opacity="0.16"/>
<circle cx="657.19" cy="39.15" r="4.5" fill="#f4a582" fill-opacity="0.16"/>
<circle cx="658.17" cy="36.89" r="4.5" fill="#f4a582" fill-opacity="0.16"/>
<circle cx="652.81" cy="39.81" r="4.5" fill="#f4a582" fill-opacity="0.16"/>
<line x1="420.5" y1="197.4" x2="654.77" y2="44" stroke="#174a8b" stroke-width="1.6" stroke-linecap="butt" stroke-dasharray="5.6,2.6"/>
<rect x="403.3" y="59.3" width="121.7" height="58.4" fill="#c8c4c0"/>
<defs><radialGradient id="d1" cx="0.68" cy="0.28" r="0.85"><stop offset="0" stop-color="#bcbabc"/><stop offset="0.55" stop-color="#a3a0a1"/><stop offset="1" stop-color="#857f80"/></radialGradient><radialGradient id="d2" cx="0.72" cy="0.4" r="0.85"><stop offset="0" stop-color="#d6d2ce"/><stop offset="0.55" stop-color="#c4c0bc"/><stop offset="1" stop-color="#a29e9b"/></radialGradient></defs>
<ellipse cx="430.6" cy="86.9" rx="26.3" ry="27" fill="url(#d1)"/>
<ellipse cx="497.5" cy="89.2" rx="26.8" ry="27" fill="url(#d2)" stroke="#aaa6a2" stroke-width="0.6"/>
<defs><filter id="bl1" x="-10%" y="-10%" width="120%" height="120%"><feGaussianBlur stdDeviation="1.0"/></filter><clipPath id="cpd1"><ellipse cx="430.6" cy="86.9" rx="26.3" ry="27"/></clipPath><clipPath id="cpd2"><ellipse cx="497.5" cy="89.2" rx="26.8" ry="27"/></clipPath></defs>
<g clip-path="url(#cpd1)"><g filter="url(#bl1)">
<path d="M430.6 86.9L423.35 59.85A28 28 0 0 1 437.85 59.85Z" fill="#e0dee0" fill-opacity="0.35"/>
<path d="M430.6 86.9L426.7 59.17A28 28 0 0 1 430.6 58.9Z" fill="#f0eef0" fill-opacity="0.4"/>
<path d="M430.6 86.9L444.6 62.65A28 28 0 0 1 456.91 77.32Z" fill="#7a7678" fill-opacity="0.25"/>
<path d="M430.6 86.9L456.91 77.32A28 28 0 0 1 456.91 96.48Z" fill="#6e6a6c" fill-opacity="0.2"/>
<path d="M430.6 86.9L428.16 114.79A28 28 0 0 1 423.35 113.95Z" fill="#e0dcdc" fill-opacity="0.3"/>
<path d="M430.6 86.9L416.6 111.15A28 28 0 0 1 402.71 84.46Z" fill="#6a6466" fill-opacity="0.22"/>
<path d="M430.6 86.9L402.71 84.46A28 28 0 0 1 407.66 70.84Z" fill="#dcdadc" fill-opacity="0.15"/>
<path d="M430.6 86.9L452.05 104.9A28 28 0 0 1 435.46 114.47Z" fill="#d8d4d4" fill-opacity="0.15"/>
</g></g>
<line x1="405.7" y1="76.4" x2="453.1" y2="99.6" stroke="#cfcdcd" stroke-width="0.8" stroke-linecap="butt"/>
<g clip-path="url(#cpd2)"><g filter="url(#bl1)">
<path d="M497.5 89.2L476.05 107.2A28 28 0 0 1 479.5 67.75Z" fill="#7c7874" fill-opacity="0.25"/>
<path d="M497.5 89.2L471.19 98.78A28 28 0 0 1 471.19 79.62Z" fill="#6c6864" fill-opacity="0.15"/>
<path d="M497.5 89.2L487.92 62.89A28 28 0 0 1 493.6 61.47Z" fill="#f4f2f0" fill-opacity="0.35"/>
<path d="M497.5 89.2L495.06 117.09A28 28 0 0 1 490.25 116.25Z" fill="#f4f2f0" fill-opacity="0.35"/>
<path d="M497.5 89.2L511.5 64.95A28 28 0 0 1 525.5 89.2Z" fill="#ece8e4" fill-opacity="0.25"/>
<path d="M497.5 89.2L523.81 98.78A28 28 0 0 1 511.5 113.45Z" fill="#e8e4e0" fill-opacity="0.2"/>
</g></g>
<rect x="430.2" y="74" width="13.6" height="13.8" fill="none" stroke="#d03a3e" stroke-width="0.7" stroke-opacity="0.75"/>
<rect x="430.4" y="80.9" width="6.4" height="6.4" fill="none" stroke="#d03a3e" stroke-width="0.7" stroke-opacity="0.75"/>
<rect x="427" y="84.9" width="5.7" height="5.7" fill="none" stroke="#d03a3e" stroke-width="0.7" stroke-opacity="0.75"/>
<rect x="498.2" y="76.7" width="13.5" height="13.6" fill="none" stroke="#d03a3e" stroke-width="0.7" stroke-opacity="0.75"/>
<rect x="498.4" y="83.2" width="6.3" height="7" fill="none" stroke="#d03a3e" stroke-width="0.7" stroke-opacity="0.75"/>
<rect x="495.8" y="87.1" width="4.8" height="5.4" fill="none" stroke="#d03a3e" stroke-width="0.7" stroke-opacity="0.75"/>
<text x="463.1" y="112.2" font-size="7.6" text-anchor="middle" fill="#fff" textLength="24.6" lengthAdjust="spacingAndGlyphs" stroke="#fff" stroke-width="0.15">20 mm</text>
<line x1="450.8" y1="114.4" x2="475.4" y2="114.4" stroke="#fff" stroke-width="1" stroke-linecap="butt"/>
<rect x="561.6" y="128.4" width="110.7" height="59.8" fill="#fff"/>
<circle cx="590.4" cy="176.5" r="5.5" fill="#f4a582" fill-opacity="0.2"/>
<circle cx="586.4" cy="177.5" r="5.5" fill="#f4a582" fill-opacity="0.2"/>
<circle cx="646.3" cy="147" r="5.5" fill="#f4a582" fill-opacity="0.12"/>
<circle cx="646.3" cy="155" r="5.5" fill="#f4a582" fill-opacity="0.12"/>
<line x1="589.4" y1="175" x2="589.4" y2="175.4" stroke="#c21d2b" stroke-width="2" stroke-linecap="butt"/>
<line x1="589.4" y1="178.9" x2="589.4" y2="179.2" stroke="#c21d2b" stroke-width="2" stroke-linecap="butt"/>
<line x1="582.4" y1="175" x2="596.4" y2="175" stroke="#c21d2b" stroke-width="2" stroke-linecap="butt"/>
<line x1="582.4" y1="179.2" x2="596.4" y2="179.2" stroke="#c21d2b" stroke-width="2" stroke-linecap="butt"/>
<rect x="575.4" y="175.4" width="28" height="3.5" fill="#c21d2b" stroke="#c21d2b" stroke-width="2" fill-opacity="0.55"/>
<line x1="575.4" y1="177.1" x2="603.4" y2="177.1" stroke="#c21d2b" stroke-width="2" stroke-linecap="butt"/>
<line x1="644.3" y1="138.2" x2="644.3" y2="141.7" stroke="#c21d2b" stroke-width="2" stroke-linecap="butt"/>
<line x1="644.3" y1="152.2" x2="644.3" y2="157.8" stroke="#c21d2b" stroke-width="2" stroke-linecap="butt"/>
<line x1="636.8" y1="138.2" x2="651.8" y2="138.2" stroke="#c21d2b" stroke-width="2" stroke-linecap="butt"/>
<line x1="636.8" y1="157.8" x2="651.8" y2="157.8" stroke="#c21d2b" stroke-width="2" stroke-linecap="butt"/>
<rect x="630.3" y="141.7" width="28" height="10.5" fill="#fff" stroke="#c21d2b" stroke-width="2" fill-opacity="0.7"/>
<line x1="630.3" y1="149.7" x2="658.3" y2="149.7" stroke="#c21d2b" stroke-width="2" stroke-linecap="butt"/>
<svg x="561.6" y="128.4" width="110.7" height="59.8" overflow="hidden">
<line x1="27.8" y1="52.8" x2="104.4" y2="-2.2" stroke="#174a8b" stroke-width="1.6" stroke-linecap="butt" stroke-dasharray="6.2,2.7"/>
</svg>
<rect x="561.6" y="128.4" width="110.7" height="59.8" fill="none" stroke="#000" stroke-width="1.3"/>
<line x1="556.1" y1="182.6" x2="561.6" y2="182.6" stroke="#000" stroke-width="1.2" stroke-linecap="butt"/>
<text x="549.2" y="185.55" font-size="8.2" text-anchor="end" fill="#000" textLength="17.15" lengthAdjust="spacingAndGlyphs" stroke="#000" stroke-width="0.15">0.02</text>
<line x1="556.1" y1="160.9" x2="561.6" y2="160.9" stroke="#000" stroke-width="1.2" stroke-linecap="butt"/>
<text x="549.2" y="163.85" font-size="8.2" text-anchor="end" fill="#000" textLength="17.15" lengthAdjust="spacingAndGlyphs" stroke="#000" stroke-width="0.15">0.04</text>
<line x1="556.1" y1="139.2" x2="561.6" y2="139.2" stroke="#000" stroke-width="1.2" stroke-linecap="butt"/>
<text x="549.2" y="142.15" font-size="8.2" text-anchor="end" fill="#000" textLength="17.15" lengthAdjust="spacingAndGlyphs" stroke="#000" stroke-width="0.15">0.06</text>
<line x1="589.4" y1="188.2" x2="589.4" y2="194.2" stroke="#000" stroke-width="1.2" stroke-linecap="butt"/>
<text x="589.4" y="206.1" font-size="8.2" text-anchor="middle" fill="#000" textLength="4.9" lengthAdjust="spacingAndGlyphs" stroke="#000" stroke-width="0.15">1</text>
<line x1="644.3" y1="188.2" x2="644.3" y2="194.2" stroke="#000" stroke-width="1.2" stroke-linecap="butt"/>
<text x="644.3" y="206.1" font-size="8.2" text-anchor="middle" fill="#000" textLength="4.9" lengthAdjust="spacingAndGlyphs" stroke="#000" stroke-width="0.15">2</text>
<rect x="400.8" y="11.4" width="96.2" height="27.5" fill="#fff" stroke="#d3d3d3" stroke-width="1" fill-opacity="0.85" rx="2.5"/>
<circle cx="412.7" cy="19.3" r="4.8" fill="#f4a582" fill-opacity="0.22"/>
<line x1="404.4" y1="31.2" x2="419.7" y2="31.2" stroke="#174a8b" stroke-width="1.7" stroke-linecap="butt" stroke-dasharray="6.2,2.9"/>
<text x="428.5" y="21.7" font-size="8.25" text-anchor="start" fill="#000" textLength="64.01" lengthAdjust="spacingAndGlyphs" stroke="#000" stroke-width="0.15">Predicted Value</text>
<text x="428.5" y="33.7" font-size="8.25" text-anchor="start" fill="#000" textLength="64.94" lengthAdjust="spacingAndGlyphs" stroke="#000" stroke-width="0.15">Regression Line</text>
<rect x="396.6" y="8" width="280.9" height="201.8" fill="none" stroke="#000" stroke-width="1.3"/>
<line x1="391.1" y1="206.1" x2="396.6" y2="206.1" stroke="#000" stroke-width="1.2" stroke-linecap="butt"/>
<text x="384.2" y="209.05" font-size="8.2" text-anchor="end" fill="#000" textLength="12.25" lengthAdjust="spacingAndGlyphs" stroke="#000" stroke-width="0.15">0.0</text>
<line x1="391.1" y1="162.1" x2="396.6" y2="162.1" stroke="#000" stroke-width="1.2" stroke-linecap="butt"/>
<text x="384.2" y="165.05" font-size="8.2" text-anchor="end" fill="#000" textLength="12.25" lengthAdjust="spacingAndGlyphs" stroke="#000" stroke-width="0.15">0.1</text>
<line x1="391.1" y1="118.1" x2="396.6" y2="118.1" stroke="#000" stroke-width="1.2" stroke-linecap="butt"/>
<text x="384.2" y="121.05" font-size="8.2" text-anchor="end" fill="#000" textLength="12.25" lengthAdjust="spacingAndGlyphs" stroke="#000" stroke-width="0.15">0.2</text>
<line x1="391.1" y1="74.1" x2="396.6" y2="74.1" stroke="#000" stroke-width="1.2" stroke-linecap="butt"/>
<text x="384.2" y="77.05" font-size="8.2" text-anchor="end" fill="#000" textLength="12.25" lengthAdjust="spacingAndGlyphs" stroke="#000" stroke-width="0.15">0.3</text>
<line x1="391.1" y1="30.1" x2="396.6" y2="30.1" stroke="#000" stroke-width="1.2" stroke-linecap="butt"/>
<text x="384.2" y="33.05" font-size="8.2" text-anchor="end" fill="#000" textLength="12.25" lengthAdjust="spacingAndGlyphs" stroke="#000" stroke-width="0.15">0.4</text>
<line x1="420.5" y1="209.8" x2="420.5" y2="215.8" stroke="#000" stroke-width="1.2" stroke-linecap="butt"/>
<text x="420.5" y="228" font-size="8.2" text-anchor="middle" fill="#000" textLength="4.9" lengthAdjust="spacingAndGlyphs" stroke="#000" stroke-width="0.15">1</text>
<line x1="446.53" y1="209.8" x2="446.53" y2="215.8" stroke="#000" stroke-width="1.2" stroke-linecap="butt"/>
<text x="446.53" y="228" font-size="8.2" text-anchor="middle" fill="#000" textLength="4.9" lengthAdjust="spacingAndGlyphs" stroke="#000" stroke-width="0.15">2</text>
<line x1="472.56" y1="209.8" x2="472.56" y2="215.8" stroke="#000" stroke-width="1.2" stroke-linecap="butt"/>
<text x="472.56" y="228" font-size="8.2" text-anchor="middle" fill="#000" textLength="4.9" lengthAdjust="spacingAndGlyphs" stroke="#000" stroke-width="0.15">3</text>
<line x1="498.59" y1="209.8" x2="498.59" y2="215.8" stroke="#000" stroke-width="1.2" stroke-linecap="butt"/>
<text x="498.59" y="228" font-size="8.2" text-anchor="middle" fill="#000" textLength="4.9" lengthAdjust="spacingAndGlyphs" stroke="#000" stroke-width="0.15">4</text>
<line x1="524.62" y1="209.8" x2="524.62" y2="215.8" stroke="#000" stroke-width="1.2" stroke-linecap="butt"/>
<text x="524.62" y="228" font-size="8.2" text-anchor="middle" fill="#000" textLength="4.9" lengthAdjust="spacingAndGlyphs" stroke="#000" stroke-width="0.15">5</text>
<line x1="550.65" y1="209.8" x2="550.65" y2="215.8" stroke="#000" stroke-width="1.2" stroke-linecap="butt"/>
<text x="550.65" y="228" font-size="8.2" text-anchor="middle" fill="#000" textLength="4.9" lengthAdjust="spacingAndGlyphs" stroke="#000" stroke-width="0.15">6</text>
<line x1="576.68" y1="209.8" x2="576.68" y2="215.8" stroke="#000" stroke-width="1.2" stroke-linecap="butt"/>
<text x="576.68" y="228" font-size="8.2" text-anchor="middle" fill="#000" textLength="4.9" lengthAdjust="spacingAndGlyphs" stroke="#000" stroke-width="0.15">7</text>
<line x1="602.71" y1="209.8" x2="602.71" y2="215.8" stroke="#000" stroke-width="1.2" stroke-linecap="butt"/>
<text x="602.71" y="228" font-size="8.2" text-anchor="middle" fill="#000" textLength="4.9" lengthAdjust="spacingAndGlyphs" stroke="#000" stroke-width="0.15">8</text>
<line x1="628.74" y1="209.8" x2="628.74" y2="215.8" stroke="#000" stroke-width="1.2" stroke-linecap="butt"/>
<text x="628.74" y="228" font-size="8.2" text-anchor="middle" fill="#000" textLength="4.9" lengthAdjust="spacingAndGlyphs" stroke="#000" stroke-width="0.15">9</text>
<line x1="654.77" y1="209.8" x2="654.77" y2="215.8" stroke="#000" stroke-width="1.2" stroke-linecap="butt"/>
<text x="654.77" y="228" font-size="8.2" text-anchor="middle" fill="#000" textLength="9.8" lengthAdjust="spacingAndGlyphs" stroke="#000" stroke-width="0.15">10</text>
<text x="363" y="108.9" font-size="10" text-anchor="middle" fill="#000" textLength="135.71" lengthAdjust="spacingAndGlyphs" transform="rotate(-90 363 108.9)" stroke="#000" stroke-width="0.15">Predicted Contact Area (%)</text>
<text x="537" y="244.6" font-size="10" text-anchor="middle" fill="#000" textLength="116.11" lengthAdjust="spacingAndGlyphs" stroke="#000" stroke-width="0.15">Contact Pressure (MPa)</text>
<rect x="48.8" y="258.9" width="280.7" height="202.4" fill="#fff"/>
<line x1="72" y1="277.9" x2="72" y2="331.2" stroke="#c21d2b" stroke-width="1.4" stroke-linecap="butt"/>
<line x1="72" y1="367.4" x2="72" y2="398" stroke="#c21d2b" stroke-width="1.4" stroke-linecap="butt"/>
<rect x="61.4" y="331.2" width="21.2" height="36.2" fill="#fff" stroke="#c21d2b" stroke-width="1.4"/>
<line x1="61.4" y1="351.5" x2="82.6" y2="351.5" stroke="#c21d2b" stroke-width="1.4" stroke-linecap="butt"/>
<line x1="97.95" y1="393.5" x2="97.95" y2="414.6" stroke="#c21d2b" stroke-width="1.4" stroke-linecap="butt"/>
<line x1="97.95" y1="430.4" x2="97.95" y2="438.9" stroke="#c21d2b" stroke-width="1.4" stroke-linecap="butt"/>
<rect x="87.35" y="414.6" width="21.2" height="15.8" fill="#fff" stroke="#c21d2b" stroke-width="1.4"/>
<line x1="87.35" y1="422.7" x2="108.55" y2="422.7" stroke="#c21d2b" stroke-width="1.4" stroke-linecap="butt"/>
<line x1="91.45" y1="438.9" x2="104.45" y2="438.9" stroke="#c21d2b" stroke-width="2.2" stroke-linecap="butt"/>
<line x1="123.9" y1="418" x2="123.9" y2="430.9" stroke="#c21d2b" stroke-width="1.4" stroke-linecap="butt"/>
<line x1="123.9" y1="440.3" x2="123.9" y2="446.8" stroke="#c21d2b" stroke-width="1.4" stroke-linecap="butt"/>
<rect x="113.3" y="430.9" width="21.2" height="9.4" fill="#fff" stroke="#c21d2b" stroke-width="1.4"/>
<line x1="113.3" y1="436.3" x2="134.5" y2="436.3" stroke="#c21d2b" stroke-width="1.4" stroke-linecap="butt"/>
<line x1="117.4" y1="446.8" x2="130.4" y2="446.8" stroke="#c21d2b" stroke-width="2.2" stroke-linecap="butt"/>
<line x1="149.85" y1="427.6" x2="149.85" y2="437" stroke="#c21d2b" stroke-width="1.4" stroke-linecap="butt"/>
<line x1="149.85" y1="444" x2="149.85" y2="449.1" stroke="#c21d2b" stroke-width="1.4" stroke-linecap="butt"/>
<rect x="139.25" y="437" width="21.2" height="7" fill="#fff" stroke="#c21d2b" stroke-width="1.4"/>
<line x1="139.25" y1="440.5" x2="160.45" y2="440.5" stroke="#c21d2b" stroke-width="1.4" stroke-linecap="butt"/>
<line x1="143.35" y1="449.1" x2="156.35" y2="449.1" stroke="#c21d2b" stroke-width="2.2" stroke-linecap="butt"/>
<line x1="175.8" y1="432.8" x2="175.8" y2="439.4" stroke="#c21d2b" stroke-width="1.4" stroke-linecap="butt"/>
<line x1="175.8" y1="444.7" x2="175.8" y2="450" stroke="#c21d2b" stroke-width="1.4" stroke-linecap="butt"/>
<rect x="165.2" y="439.4" width="21.2" height="5.3" fill="#fff" stroke="#c21d2b" stroke-width="1.4"/>
<line x1="165.2" y1="442" x2="186.4" y2="442" stroke="#c21d2b" stroke-width="1.4" stroke-linecap="butt"/>
<line x1="169.3" y1="450" x2="182.3" y2="450" stroke="#c21d2b" stroke-width="2.2" stroke-linecap="butt"/>
<line x1="169.3" y1="432.8" x2="182.3" y2="432.8" stroke="#c21d2b" stroke-width="2.2" stroke-linecap="butt"/>
<line x1="201.75" y1="435.5" x2="201.75" y2="442" stroke="#c21d2b" stroke-width="1.4" stroke-linecap="butt"/>
<line x1="201.75" y1="446" x2="201.75" y2="451.5" stroke="#c21d2b" stroke-width="1.4" stroke-linecap="butt"/>
<rect x="191.15" y="442" width="21.2" height="4" fill="#fff" stroke="#c21d2b" stroke-width="1.4"/>
<line x1="191.15" y1="444" x2="212.35" y2="444" stroke="#c21d2b" stroke-width="1.4" stroke-linecap="butt"/>
<line x1="195.25" y1="451.5" x2="208.25" y2="451.5" stroke="#c21d2b" stroke-width="2.2" stroke-linecap="butt"/>
<line x1="195.25" y1="435.5" x2="208.25" y2="435.5" stroke="#c21d2b" stroke-width="2.2" stroke-linecap="butt"/>
<line x1="227.7" y1="438.1" x2="227.7" y2="444.1" stroke="#c21d2b" stroke-width="1.4" stroke-linecap="butt"/>
<line x1="227.7" y1="448.6" x2="227.7" y2="452.5" stroke="#c21d2b" stroke-width="1.4" stroke-linecap="butt"/>
<rect x="217.1" y="444.1" width="21.2" height="4.5" fill="#fff" stroke="#c21d2b" stroke-width="1.4"/>
<line x1="217.1" y1="446.3" x2="238.3" y2="446.3" stroke="#c21d2b" stroke-width="1.4" stroke-linecap="butt"/>
<line x1="221.2" y1="452.5" x2="234.2" y2="452.5" stroke="#c21d2b" stroke-width="2.2" stroke-linecap="butt"/>
<line x1="221.2" y1="438.1" x2="234.2" y2="438.1" stroke="#c21d2b" stroke-width="2.2" stroke-linecap="butt"/>
<line x1="253.65" y1="440" x2="253.65" y2="446" stroke="#c21d2b" stroke-width="1.4" stroke-linecap="butt"/>
<line x1="253.65" y1="450" x2="253.65" y2="453" stroke="#c21d2b" stroke-width="1.4" stroke-linecap="butt"/>
<rect x="243.05" y="446" width="21.2" height="4" fill="#fff" stroke="#c21d2b" stroke-width="1.4"/>
<line x1="243.05" y1="448" x2="264.25" y2="448" stroke="#c21d2b" stroke-width="1.4" stroke-linecap="butt"/>
<line x1="247.15" y1="453" x2="260.15" y2="453" stroke="#c21d2b" stroke-width="2.2" stroke-linecap="butt"/>
<line x1="247.15" y1="440" x2="260.15" y2="440" stroke="#c21d2b" stroke-width="2.2" stroke-linecap="butt"/>
<line x1="279.6" y1="441.5" x2="279.6" y2="446.8" stroke="#c21d2b" stroke-width="1.4" stroke-linecap="butt"/>
<line x1="279.6" y1="450.4" x2="279.6" y2="453.5" stroke="#c21d2b" stroke-width="1.4" stroke-linecap="butt"/>
<rect x="269" y="446.8" width="21.2" height="3.6" fill="#fff" stroke="#c21d2b" stroke-width="1.4"/>
<line x1="269" y1="448.6" x2="290.2" y2="448.6" stroke="#c21d2b" stroke-width="1.4" stroke-linecap="butt"/>
<line x1="273.1" y1="453.5" x2="286.1" y2="453.5" stroke="#c21d2b" stroke-width="2.2" stroke-linecap="butt"/>
<line x1="273.1" y1="441.5" x2="286.1" y2="441.5" stroke="#c21d2b" stroke-width="2.2" stroke-linecap="butt"/>
<line x1="305.55" y1="442" x2="305.55" y2="447.3" stroke="#c21d2b" stroke-width="1.4" stroke-linecap="butt"/>
<line x1="305.55" y1="451.2" x2="305.55" y2="454" stroke="#c21d2b" stroke-width="1.4" stroke-linecap="butt"/>
<rect x="294.95" y="447.3" width="21.2" height="3.9" fill="#fff" stroke="#c21d2b" stroke-width="1.4"/>
<line x1="294.95" y1="449.2" x2="316.15" y2="449.2" stroke="#c21d2b" stroke-width="1.4" stroke-linecap="butt"/>
<line x1="299.05" y1="454" x2="312.05" y2="454" stroke="#c21d2b" stroke-width="2.2" stroke-linecap="butt"/>
<line x1="299.05" y1="442" x2="312.05" y2="442" stroke="#c21d2b" stroke-width="2.2" stroke-linecap="butt"/>
<polyline points="72,344.46 74.59,361.34 77.19,374.35 79.79,384.61 82.38,392.84 84.98,399.55 87.57,405.1 90.17,409.74 92.76,413.67 95.36,417.02 97.95,419.9 100.55,422.4 103.14,424.58 105.74,426.5 108.33,428.19 110.93,429.69 113.52,431.04 116.12,432.24 118.71,433.32 121.31,434.3 123.9,435.18 126.5,435.99 129.09,436.72 131.69,437.39 134.28,438.01 136.88,438.57 139.47,439.1 142.07,439.58 144.66,440.03 147.26,440.44 149.85,440.83 152.45,441.18 155.04,441.52 157.64,441.83 160.23,442.12 162.83,442.4 165.42,442.66 168.01,442.9 170.61,443.13 173.2,443.34 175.8,443.54 178.39,443.73 180.99,443.91 183.58,444.09 186.18,444.25 188.77,444.4 191.37,444.55 193.96,444.69 196.56,444.82 199.15,444.95 201.75,445.06 204.34,445.18 206.94,445.29 209.53,445.39 212.13,445.49 214.72,445.59 217.32,445.68 219.91,445.77 222.51,445.85 225.1,445.93 227.7,446.01 230.29,446.08 232.89,446.15 235.48,446.22 238.08,446.28 240.67,446.35 243.27,446.41 245.86,446.47 248.46,446.52 251.05,446.58 253.65,446.63 256.24,446.68 258.84,446.73 261.43,446.78 264.03,446.82 266.62,446.87 269.22,446.91 271.81,446.95 274.41,446.99 277,447.03 279.6,447.07 282.19,447.1 284.79,447.14 287.38,447.17 289.98,447.21 292.57,447.24 295.17,447.27 297.76,447.3 300.36,447.33 302.95,447.36 305.55,447.38" fill="none" stroke="#174a8b" stroke-width="1.6" stroke-linecap="butt" stroke-linejoin="round" stroke-dasharray="5.6,2.6"/>
<g opacity="0.550" filter="url(#soft)">
<circle cx="72.68" cy="347.37" r="5" fill="#f4a582"/>
<circle cx="71.04" cy="283.95" r="5" fill="#f4a582"/>
<circle cx="71.37" cy="360.19" r="5" fill="#f4a582"/>
<circle cx="72.37" cy="293.36" r="5" fill="#f4a582"/>
<circle cx="72.75" cy="336.42" r="5" fill="#f4a582"/>
<circle cx="72.62" cy="356.16" r="5" fill="#f4a582"/>
<circle cx="71.68" cy="367.82" r="5" fill="#f4a582"/>
<circle cx="72.75" cy="349.36" r="5" fill="#f4a582"/>
<circle cx="71.36" cy="368.49" r="5" fill="#f4a582"/>
<circle cx="71.79" cy="388.19" r="5" fill="#f4a582"/>
<circle cx="72.69" cy="336.93" r="5" fill="#f4a582"/>
<circle cx="72.22" cy="362.8" r="5" fill="#f4a582"/>
<circle cx="71.43" cy="343.12" r="5" fill="#f4a582"/>
<circle cx="71.09" cy="385.43" r="5" fill="#f4a582"/>
<circle cx="71.94" cy="344.27" r="5" fill="#f4a582"/>
<circle cx="71.71" cy="298.57" r="5" fill="#f4a582"/>
<circle cx="71.67" cy="352.17" r="5" fill="#f4a582"/>
<circle cx="72.97" cy="347.83" r="5" fill="#f4a582"/>
<circle cx="72.34" cy="336.48" r="5" fill="#f4a582"/>
<circle cx="72" cy="341.09" r="5" fill="#f4a582"/>
<circle cx="72.06" cy="351.8" r="5" fill="#f4a582"/>
<circle cx="71.07" cy="396.3" r="5" fill="#f4a582"/>
<circle cx="72.74" cy="318.99" r="5" fill="#f4a582"/>
<circle cx="72.27" cy="386.77" r="5" fill="#f4a582"/>
<circle cx="72.59" cy="341.39" r="5" fill="#f4a582"/>
<circle cx="72.36" cy="396.12" r="5" fill="#f4a582"/>
<circle cx="72.48" cy="358.83" r="5" fill="#f4a582"/>
<circle cx="71.7" cy="354.19" r="5" fill="#f4a582"/>
<circle cx="71.12" cy="299.54" r="5" fill="#f4a582"/>
<circle cx="72.98" cy="342.9" r="5" fill="#f4a582"/>
<circle cx="71.49" cy="344.5" r="5" fill="#f4a582"/>
<circle cx="71.27" cy="343.84" r="5" fill="#f4a582"/>
<circle cx="71.91" cy="362.73" r="5" fill="#f4a582"/>
<circle cx="71.6" cy="351.79" r="5" fill="#f4a582"/>
<circle cx="71.6" cy="333.6" r="5" fill="#f4a582"/>
<circle cx="72.1" cy="357.5" r="5" fill="#f4a582"/>
<circle cx="72.84" cy="377.82" r="5" fill="#f4a582"/>
<circle cx="71.36" cy="282.17" r="5" fill="#f4a582"/>
<circle cx="71.71" cy="330.53" r="5" fill="#f4a582"/>
<circle cx="72.74" cy="380.51" r="5" fill="#f4a582"/>
<circle cx="72.8" cy="348.74" r="5" fill="#f4a582"/>
<circle cx="71.05" cy="340.52" r="5" fill="#f4a582"/>
<circle cx="72.41" cy="340.9" r="5" fill="#f4a582"/>
<circle cx="71.4" cy="345.66" r="5" fill="#f4a582"/>
<circle cx="72.3" cy="323.96" r="5" fill="#f4a582"/>
<circle cx="72.93" cy="357.77" r="5" fill="#f4a582"/>
<circle cx="72.62" cy="282.13" r="5" fill="#f4a582"/>
<circle cx="71.27" cy="377.84" r="5" fill="#f4a582"/>
<circle cx="72.75" cy="350.64" r="5" fill="#f4a582"/>
<circle cx="71.42" cy="327.09" r="5" fill="#f4a582"/>
<circle cx="72.3" cy="358.33" r="5" fill="#f4a582"/>
<circle cx="71.68" cy="355.78" r="5" fill="#f4a582"/>
<circle cx="71.09" cy="346.2" r="5" fill="#f4a582"/>
<circle cx="71.99" cy="295.73" r="5" fill="#f4a582"/>
<circle cx="71.93" cy="291.6" r="5" fill="#f4a582"/>
<circle cx="72.13" cy="364.7" r="5" fill="#f4a582"/>
<circle cx="72.23" cy="272.16" r="5" fill="#f4a582"/>
<circle cx="71.19" cy="295.44" r="5" fill="#f4a582"/>
<circle cx="72.53" cy="336.36" r="5" fill="#f4a582"/>
<circle cx="71.85" cy="360.67" r="5" fill="#f4a582"/>
<circle cx="72.11" cy="352.5" r="5" fill="#f4a582"/>
<circle cx="71.66" cy="309.96" r="5" fill="#f4a582"/>
<circle cx="72.42" cy="291.64" r="5" fill="#f4a582"/>
<circle cx="71.62" cy="391.15" r="5" fill="#f4a582"/>
<circle cx="71.91" cy="396.3" r="5" fill="#f4a582"/>
<circle cx="72.88" cy="350.14" r="5" fill="#f4a582"/>
<circle cx="71.95" cy="331.53" r="5" fill="#f4a582"/>
<circle cx="71.72" cy="319.16" r="5" fill="#f4a582"/>
<circle cx="72.51" cy="295.71" r="5" fill="#f4a582"/>
<circle cx="71.27" cy="332.21" r="5" fill="#f4a582"/>
<circle cx="72.11" cy="349.37" r="5" fill="#f4a582"/>
<circle cx="71.73" cy="365.22" r="5" fill="#f4a582"/>
<circle cx="72.48" cy="337.62" r="5" fill="#f4a582"/>
<circle cx="71.06" cy="372.36" r="5" fill="#f4a582"/>
<circle cx="72.96" cy="374.82" r="5" fill="#f4a582"/>
<circle cx="71.69" cy="354.23" r="5" fill="#f4a582"/>
<circle cx="71.65" cy="381.48" r="5" fill="#f4a582"/>
<circle cx="72.47" cy="370.7" r="5" fill="#f4a582"/>
<circle cx="71.8" cy="354.57" r="5" fill="#f4a582"/>
<circle cx="72.13" cy="369.24" r="5" fill="#f4a582"/>
<circle cx="72.89" cy="364.47" r="5" fill="#f4a582"/>
<circle cx="71.5" cy="289.84" r="5" fill="#f4a582"/>
<circle cx="71.46" cy="346.9" r="5" fill="#f4a582"/>
<circle cx="72.29" cy="358.68" r="5" fill="#f4a582"/>
<circle cx="71.43" cy="367.19" r="5" fill="#f4a582"/>
<circle cx="72.73" cy="286.25" r="5" fill="#f4a582"/>
<circle cx="72.5" cy="375.58" r="5" fill="#f4a582"/>
<circle cx="71.66" cy="376.05" r="5" fill="#f4a582"/>
<circle cx="71.32" cy="363.45" r="5" fill="#f4a582"/>
<circle cx="71.91" cy="309.75" r="5" fill="#f4a582"/>
<circle cx="71.42" cy="324.96" r="5" fill="#f4a582"/>
<circle cx="72.56" cy="378.43" r="5" fill="#f4a582"/>
<circle cx="72.73" cy="372.98" r="5" fill="#f4a582"/>
<circle cx="71.05" cy="305.21" r="5" fill="#f4a582"/>
<circle cx="71.02" cy="366.47" r="5" fill="#f4a582"/>
<circle cx="72.47" cy="372.01" r="5" fill="#f4a582"/>
<circle cx="72.37" cy="337.31" r="5" fill="#f4a582"/>
<circle cx="72.84" cy="343.49" r="5" fill="#f4a582"/>
<circle cx="72.96" cy="324.91" r="5" fill="#f4a582"/>
<circle cx="72.58" cy="339.69" r="5" fill="#f4a582"/>
<circle cx="72.01" cy="279.92" r="5" fill="#f4a582"/>
<circle cx="71.21" cy="346.78" r="5" fill="#f4a582"/>
<circle cx="71.63" cy="367.07" r="5" fill="#f4a582"/>
<circle cx="71.97" cy="371.09" r="5" fill="#f4a582"/>
<circle cx="71.36" cy="346.71" r="5" fill="#f4a582"/>
<circle cx="72.48" cy="285.78" r="5" fill="#f4a582"/>
<circle cx="71.71" cy="335.27" r="5" fill="#f4a582"/>
<circle cx="71.7" cy="364.46" r="5" fill="#f4a582"/>
<circle cx="72.77" cy="366.22" r="5" fill="#f4a582"/>
<circle cx="71.35" cy="292.45" r="5" fill="#f4a582"/>
<circle cx="71.09" cy="333.69" r="5" fill="#f4a582"/>
<circle cx="72.11" cy="345.97" r="5" fill="#f4a582"/>
<circle cx="72.38" cy="331.58" r="5" fill="#f4a582"/>
<circle cx="72.1" cy="306.89" r="5" fill="#f4a582"/>
<circle cx="72.75" cy="330.26" r="5" fill="#f4a582"/>
<circle cx="71.64" cy="299.18" r="5" fill="#f4a582"/>
<circle cx="71.77" cy="366.42" r="5" fill="#f4a582"/>
<circle cx="71.29" cy="346.04" r="5" fill="#f4a582"/>
<circle cx="72.22" cy="269.5" r="5" fill="#f4a582"/>
<circle cx="72.22" cy="375.19" r="5" fill="#f4a582"/>
<circle cx="71.4" cy="339.92" r="5" fill="#f4a582"/>
<circle cx="72.57" cy="361.72" r="5" fill="#f4a582"/>
<circle cx="72.39" cy="368.92" r="5" fill="#f4a582"/>
<circle cx="72.1" cy="354.59" r="5" fill="#f4a582"/>
<circle cx="71" cy="366.37" r="5" fill="#f4a582"/>
<circle cx="72.02" cy="323.39" r="5" fill="#f4a582"/>
<circle cx="71.47" cy="330.92" r="5" fill="#f4a582"/>
<circle cx="71.76" cy="317.52" r="5" fill="#f4a582"/>
<circle cx="72.05" cy="298.87" r="5" fill="#f4a582"/>
<circle cx="71.64" cy="313.99" r="5" fill="#f4a582"/>
</g>
<g opacity="0.650" filter="url(#soft)">
<circle cx="72.68" cy="347.37" r="5" fill="#f4a582"/>
<circle cx="71.37" cy="360.19" r="5" fill="#f4a582"/>
<circle cx="72.75" cy="336.42" r="5" fill="#f4a582"/>
<circle cx="72.62" cy="356.16" r="5" fill="#f4a582"/>
<circle cx="71.68" cy="367.82" r="5" fill="#f4a582"/>
<circle cx="72.75" cy="349.36" r="5" fill="#f4a582"/>
<circle cx="71.36" cy="368.49" r="5" fill="#f4a582"/>
<circle cx="71.79" cy="388.19" r="5" fill="#f4a582"/>
<circle cx="72.69" cy="336.93" r="5" fill="#f4a582"/>
<circle cx="72.22" cy="362.8" r="5" fill="#f4a582"/>
<circle cx="71.43" cy="343.12" r="5" fill="#f4a582"/>
<circle cx="71.09" cy="385.43" r="5" fill="#f4a582"/>
<circle cx="71.94" cy="344.27" r="5" fill="#f4a582"/>
<circle cx="71.67" cy="352.17" r="5" fill="#f4a582"/>
<circle cx="72.97" cy="347.83" r="5" fill="#f4a582"/>
<circle cx="72.34" cy="336.48" r="5" fill="#f4a582"/>
<circle cx="72" cy="341.09" r="5" fill="#f4a582"/>
<circle cx="72.06" cy="351.8" r="5" fill="#f4a582"/>
<circle cx="71.07" cy="396.3" r="5" fill="#f4a582"/>
<circle cx="72.27" cy="386.77" r="5" fill="#f4a582"/>
<circle cx="72.59" cy="341.39" r="5" fill="#f4a582"/>
<circle cx="72.36" cy="396.12" r="5" fill="#f4a582"/>
<circle cx="72.48" cy="358.83" r="5" fill="#f4a582"/>
<circle cx="71.7" cy="354.19" r="5" fill="#f4a582"/>
<circle cx="72.98" cy="342.9" r="5" fill="#f4a582"/>
<circle cx="71.49" cy="344.5" r="5" fill="#f4a582"/>
<circle cx="71.27" cy="343.84" r="5" fill="#f4a582"/>
<circle cx="71.91" cy="362.73" r="5" fill="#f4a582"/>
<circle cx="71.6" cy="351.79" r="5" fill="#f4a582"/>
<circle cx="71.6" cy="333.6" r="5" fill="#f4a582"/>
<circle cx="72.1" cy="357.5" r="5" fill="#f4a582"/>
<circle cx="72.84" cy="377.82" r="5" fill="#f4a582"/>
<circle cx="71.71" cy="330.53" r="5" fill="#f4a582"/>
<circle cx="72.74" cy="380.51" r="5" fill="#f4a582"/>
<circle cx="72.8" cy="348.74" r="5" fill="#f4a582"/>
<circle cx="71.05" cy="340.52" r="5" fill="#f4a582"/>
<circle cx="72.41" cy="340.9" r="5" fill="#f4a582"/>
<circle cx="71.4" cy="345.66" r="5" fill="#f4a582"/>
<circle cx="72.93" cy="357.77" r="5" fill="#f4a582"/>
<circle cx="71.27" cy="377.84" r="5" fill="#f4a582"/>
<circle cx="72.75" cy="350.64" r="5" fill="#f4a582"/>
<circle cx="72.3" cy="358.33" r="5" fill="#f4a582"/>
<circle cx="71.68" cy="355.78" r="5" fill="#f4a582"/>
<circle cx="71.09" cy="346.2" r="5" fill="#f4a582"/>
<circle cx="72.13" cy="364.7" r="5" fill="#f4a582"/>
<circle cx="72.53" cy="336.36" r="5" fill="#f4a582"/>
<circle cx="71.85" cy="360.67" r="5" fill="#f4a582"/>
<circle cx="72.11" cy="352.5" r="5" fill="#f4a582"/>
<circle cx="71.62" cy="391.15" r="5" fill="#f4a582"/>
<circle cx="71.91" cy="396.3" r="5" fill="#f4a582"/>
<circle cx="72.88" cy="350.14" r="5" fill="#f4a582"/>
<circle cx="71.95" cy="331.53" r="5" fill="#f4a582"/>
<circle cx="71.27" cy="332.21" r="5" fill="#f4a582"/>
<circle cx="72.11" cy="349.37" r="5" fill="#f4a582"/>
<circle cx="71.73" cy="365.22" r="5" fill="#f4a582"/>
<circle cx="72.48" cy="337.62" r="5" fill="#f4a582"/>
<circle cx="71.06" cy="372.36" r="5" fill="#f4a582"/>
<circle cx="72.96" cy="374.82" r="5" fill="#f4a582"/>
<circle cx="71.69" cy="354.23" r="5" fill="#f4a582"/>
<circle cx="71.65" cy="381.48" r="5" fill="#f4a582"/>
<circle cx="72.47" cy="370.7" r="5" fill="#f4a582"/>
<circle cx="71.8" cy="354.57" r="5" fill="#f4a582"/>
<circle cx="72.13" cy="369.24" r="5" fill="#f4a582"/>
<circle cx="72.89" cy="364.47" r="5" fill="#f4a582"/>
<circle cx="71.46" cy="346.9" r="5" fill="#f4a582"/>
<circle cx="72.29" cy="358.68" r="5" fill="#f4a582"/>
<circle cx="71.43" cy="367.19" r="5" fill="#f4a582"/>
<circle cx="72.5" cy="375.58" r="5" fill="#f4a582"/>
<circle cx="71.66" cy="376.05" r="5" fill="#f4a582"/>
<circle cx="71.32" cy="363.45" r="5" fill="#f4a582"/>
<circle cx="72.56" cy="378.43" r="5" fill="#f4a582"/>
<circle cx="72.73" cy="372.98" r="5" fill="#f4a582"/>
<circle cx="71.02" cy="366.47" r="5" fill="#f4a582"/>
<circle cx="72.47" cy="372.01" r="5" fill="#f4a582"/>
<circle cx="72.37" cy="337.31" r="5" fill="#f4a582"/>
<circle cx="72.84" cy="343.49" r="5" fill="#f4a582"/>
<circle cx="72.58" cy="339.69" r="5" fill="#f4a582"/>
<circle cx="71.21" cy="346.78" r="5" fill="#f4a582"/>
<circle cx="71.63" cy="367.07" r="5" fill="#f4a582"/>
<circle cx="71.97" cy="371.09" r="5" fill="#f4a582"/>
<circle cx="71.36" cy="346.71" r="5" fill="#f4a582"/>
<circle cx="71.71" cy="335.27" r="5" fill="#f4a582"/>
<circle cx="71.7" cy="364.46" r="5" fill="#f4a582"/>
<circle cx="72.77" cy="366.22" r="5" fill="#f4a582"/>
<circle cx="71.09" cy="333.69" r="5" fill="#f4a582"/>
<circle cx="72.11" cy="345.97" r="5" fill="#f4a582"/>
<circle cx="72.38" cy="331.58" r="5" fill="#f4a582"/>
<circle cx="72.75" cy="330.26" r="5" fill="#f4a582"/>
<circle cx="71.77" cy="366.42" r="5" fill="#f4a582"/>
<circle cx="71.29" cy="346.04" r="5" fill="#f4a582"/>
<circle cx="72.22" cy="375.19" r="5" fill="#f4a582"/>
<circle cx="71.4" cy="339.92" r="5" fill="#f4a582"/>
<circle cx="72.57" cy="361.72" r="5" fill="#f4a582"/>
<circle cx="72.39" cy="368.92" r="5" fill="#f4a582"/>
<circle cx="72.1" cy="354.59" r="5" fill="#f4a582"/>
<circle cx="71" cy="366.37" r="5" fill="#f4a582"/>
<circle cx="71.47" cy="330.92" r="5" fill="#f4a582"/>
</g>
<g opacity="0.550" filter="url(#soft)">
<circle cx="97.29" cy="404.96" r="5.4" fill="#f4a582"/>
<circle cx="98.93" cy="399.09" r="5.4" fill="#f4a582"/>
<circle cx="98" cy="426" r="5.4" fill="#f4a582"/>
<circle cx="97.09" cy="418.1" r="5.4" fill="#f4a582"/>
<circle cx="98.01" cy="434.89" r="5.4" fill="#f4a582"/>
<circle cx="97.32" cy="427.45" r="5.4" fill="#f4a582"/>
<circle cx="97.85" cy="427.59" r="5.4" fill="#f4a582"/>
<circle cx="98.9" cy="410.96" r="5.4" fill="#f4a582"/>
<circle cx="97.67" cy="430.77" r="5.4" fill="#f4a582"/>
<circle cx="97.05" cy="435.9" r="5.4" fill="#f4a582"/>
<circle cx="97" cy="418.57" r="5.4" fill="#f4a582"/>
<circle cx="98" cy="427.29" r="5.4" fill="#f4a582"/>
<circle cx="97.7" cy="415.99" r="5.4" fill="#f4a582"/>
<circle cx="97.83" cy="425.81" r="5.4" fill="#f4a582"/>
<circle cx="98.57" cy="427.21" r="5.4" fill="#f4a582"/>
<circle cx="97.63" cy="425.35" r="5.4" fill="#f4a582"/>
<circle cx="97.64" cy="418.35" r="5.4" fill="#f4a582"/>
<circle cx="96.79" cy="420.62" r="5.4" fill="#f4a582"/>
<circle cx="96.89" cy="423.61" r="5.4" fill="#f4a582"/>
<circle cx="97.41" cy="425.95" r="5.4" fill="#f4a582"/>
<circle cx="98.75" cy="418.42" r="5.4" fill="#f4a582"/>
<circle cx="98.81" cy="424.65" r="5.4" fill="#f4a582"/>
<circle cx="98.65" cy="421.29" r="5.4" fill="#f4a582"/>
<circle cx="96.86" cy="401.34" r="5.4" fill="#f4a582"/>
<circle cx="98.46" cy="420.4" r="5.4" fill="#f4a582"/>
<circle cx="98.31" cy="421.05" r="5.4" fill="#f4a582"/>
<circle cx="97.67" cy="433.39" r="5.4" fill="#f4a582"/>
<circle cx="97.21" cy="413.01" r="5.4" fill="#f4a582"/>
<circle cx="97.64" cy="426.66" r="5.4" fill="#f4a582"/>
<circle cx="96.92" cy="400.45" r="5.4" fill="#f4a582"/>
<circle cx="98.01" cy="401.51" r="5.4" fill="#f4a582"/>
<circle cx="98.57" cy="428.84" r="5.4" fill="#f4a582"/>
<circle cx="97.86" cy="423.97" r="5.4" fill="#f4a582"/>
<circle cx="97.75" cy="427.87" r="5.4" fill="#f4a582"/>
<circle cx="97.81" cy="428.67" r="5.4" fill="#f4a582"/>
<circle cx="98.73" cy="422.69" r="5.4" fill="#f4a582"/>
<circle cx="97.71" cy="409.12" r="5.4" fill="#f4a582"/>
<circle cx="98.08" cy="425.34" r="5.4" fill="#f4a582"/>
<circle cx="97.03" cy="435.9" r="5.4" fill="#f4a582"/>
<circle cx="98.71" cy="415.82" r="5.4" fill="#f4a582"/>
<circle cx="98.56" cy="415.99" r="5.4" fill="#f4a582"/>
<circle cx="98.38" cy="395.9" r="5.4" fill="#f4a582"/>
<circle cx="96.88" cy="403.69" r="5.4" fill="#f4a582"/>
<circle cx="98.15" cy="402.32" r="5.4" fill="#f4a582"/>
<circle cx="98.84" cy="432" r="5.4" fill="#f4a582"/>
</g>
<g opacity="0.650" filter="url(#soft)">
<circle cx="98" cy="426" r="5.4" fill="#f4a582"/>
<circle cx="97.09" cy="418.1" r="5.4" fill="#f4a582"/>
<circle cx="97.32" cy="427.45" r="5.4" fill="#f4a582"/>
<circle cx="97.85" cy="427.59" r="5.4" fill="#f4a582"/>
<circle cx="97.67" cy="430.77" r="5.4" fill="#f4a582"/>
<circle cx="97" cy="418.57" r="5.4" fill="#f4a582"/>
<circle cx="98" cy="427.29" r="5.4" fill="#f4a582"/>
<circle cx="97.7" cy="415.99" r="5.4" fill="#f4a582"/>
<circle cx="97.83" cy="425.81" r="5.4" fill="#f4a582"/>
<circle cx="98.57" cy="427.21" r="5.4" fill="#f4a582"/>
<circle cx="97.63" cy="425.35" r="5.4" fill="#f4a582"/>
<circle cx="97.64" cy="418.35" r="5.4" fill="#f4a582"/>
<circle cx="96.79" cy="420.62" r="5.4" fill="#f4a582"/>
<circle cx="96.89" cy="423.61" r="5.4" fill="#f4a582"/>
<circle cx="97.41" cy="425.95" r="5.4" fill="#f4a582"/>
<circle cx="98.75" cy="418.42" r="5.4" fill="#f4a582"/>
<circle cx="98.81" cy="424.65" r="5.4" fill="#f4a582"/>
<circle cx="98.65" cy="421.29" r="5.4" fill="#f4a582"/>
<circle cx="98.46" cy="420.4" r="5.4" fill="#f4a582"/>
<circle cx="98.31" cy="421.05" r="5.4" fill="#f4a582"/>
<circle cx="97.67" cy="433.39" r="5.4" fill="#f4a582"/>
<circle cx="97.21" cy="413.01" r="5.4" fill="#f4a582"/>
<circle cx="97.64" cy="426.66" r="5.4" fill="#f4a582"/>
<circle cx="98.57" cy="428.84" r="5.4" fill="#f4a582"/>
<circle cx="97.86" cy="423.97" r="5.4" fill="#f4a582"/>
<circle cx="97.75" cy="427.87" r="5.4" fill="#f4a582"/>
<circle cx="97.81" cy="428.67" r="5.4" fill="#f4a582"/>
<circle cx="98.73" cy="422.69" r="5.4" fill="#f4a582"/>
<circle cx="98.08" cy="425.34" r="5.4" fill="#f4a582"/>
<circle cx="98.71" cy="415.82" r="5.4" fill="#f4a582"/>
<circle cx="98.56" cy="415.99" r="5.4" fill="#f4a582"/>
<circle cx="98.84" cy="432" r="5.4" fill="#f4a582"/>
</g>
<g opacity="0.550" filter="url(#soft)">
<circle cx="123.94" cy="434.04" r="5.4" fill="#f4a582"/>
<circle cx="123.36" cy="440.19" r="5.4" fill="#f4a582"/>
<circle cx="123.31" cy="433.84" r="5.4" fill="#f4a582"/>
<circle cx="123.93" cy="442.9" r="5.4" fill="#f4a582"/>
<circle cx="123.43" cy="431.38" r="5.4" fill="#f4a582"/>
<circle cx="124.76" cy="442.9" r="5.4" fill="#f4a582"/>
<circle cx="122.83" cy="432.8" r="5.4" fill="#f4a582"/>
<circle cx="123.81" cy="434.41" r="5.4" fill="#f4a582"/>
<circle cx="123.58" cy="436.39" r="5.4" fill="#f4a582"/>
<circle cx="124.91" cy="441.6" r="5.4" fill="#f4a582"/>
<circle cx="123.45" cy="420.4" r="5.4" fill="#f4a582"/>
<circle cx="124.06" cy="434.74" r="5.4" fill="#f4a582"/>
<circle cx="124.61" cy="433.47" r="5.4" fill="#f4a582"/>
<circle cx="124.63" cy="437.58" r="5.4" fill="#f4a582"/>
<circle cx="124.94" cy="423.86" r="5.4" fill="#f4a582"/>
<circle cx="122.84" cy="439.15" r="5.4" fill="#f4a582"/>
<circle cx="122.82" cy="436.91" r="5.4" fill="#f4a582"/>
<circle cx="124.13" cy="440.77" r="5.4" fill="#f4a582"/>
<circle cx="124.05" cy="439.57" r="5.4" fill="#f4a582"/>
<circle cx="124.32" cy="442.9" r="5.4" fill="#f4a582"/>
<circle cx="123.21" cy="421.8" r="5.4" fill="#f4a582"/>
<circle cx="124.9" cy="441.25" r="5.4" fill="#f4a582"/>
<circle cx="122.93" cy="431.85" r="5.4" fill="#f4a582"/>
<circle cx="123.7" cy="442.9" r="5.4" fill="#f4a582"/>
<circle cx="124.87" cy="421.32" r="5.4" fill="#f4a582"/>
<circle cx="122.84" cy="420.4" r="5.4" fill="#f4a582"/>
<circle cx="124.71" cy="420.4" r="5.4" fill="#f4a582"/>
<circle cx="124.1" cy="433.09" r="5.4" fill="#f4a582"/>
<circle cx="123.07" cy="436.17" r="5.4" fill="#f4a582"/>
<circle cx="124.72" cy="442.41" r="5.4" fill="#f4a582"/>
<circle cx="125.05" cy="438.41" r="5.4" fill="#f4a582"/>
<circle cx="123.61" cy="431.21" r="5.4" fill="#f4a582"/>
<circle cx="124.01" cy="420.88" r="5.4" fill="#f4a582"/>
<circle cx="124.45" cy="435.27" r="5.4" fill="#f4a582"/>
<circle cx="122.97" cy="437.28" r="5.4" fill="#f4a582"/>
<circle cx="124.92" cy="441.09" r="5.4" fill="#f4a582"/>
<circle cx="123.96" cy="442.9" r="5.4" fill="#f4a582"/>
<circle cx="124.5" cy="434.17" r="5.4" fill="#f4a582"/>
<circle cx="122.92" cy="439.64" r="5.4" fill="#f4a582"/>
<circle cx="124.13" cy="439.02" r="5.4" fill="#f4a582"/>
<circle cx="123.04" cy="431.73" r="5.4" fill="#f4a582"/>
<circle cx="124.73" cy="439.29" r="5.4" fill="#f4a582"/>
<circle cx="122.78" cy="439.59" r="5.4" fill="#f4a582"/>
<circle cx="123.53" cy="430.48" r="5.4" fill="#f4a582"/>
<circle cx="122.82" cy="442.9" r="5.4" fill="#f4a582"/>
</g>
<g opacity="0.650" filter="url(#soft)">
<circle cx="123.94" cy="434.04" r="5.4" fill="#f4a582"/>
<circle cx="123.36" cy="440.19" r="5.4" fill="#f4a582"/>
<circle cx="123.31" cy="433.84" r="5.4" fill="#f4a582"/>
<circle cx="123.93" cy="442.9" r="5.4" fill="#f4a582"/>
<circle cx="123.43" cy="431.38" r="5.4" fill="#f4a582"/>
<circle cx="124.76" cy="442.9" r="5.4" fill="#f4a582"/>
<circle cx="122.83" cy="432.8" r="5.4" fill="#f4a582"/>
<circle cx="123.81" cy="434.41" r="5.4" fill="#f4a582"/>
<circle cx="123.58" cy="436.39" r="5.4" fill="#f4a582"/>
<circle cx="124.91" cy="441.6" r="5.4" fill="#f4a582"/>
<circle cx="124.06" cy="434.74" r="5.4" fill="#f4a582"/>
<circle cx="124.61" cy="433.47" r="5.4" fill="#f4a582"/>
<circle cx="124.63" cy="437.58" r="5.4" fill="#f4a582"/>
<circle cx="122.84" cy="439.15" r="5.4" fill="#f4a582"/>
<circle cx="122.82" cy="436.91" r="5.4" fill="#f4a582"/>
<circle cx="124.13" cy="440.77" r="5.4" fill="#f4a582"/>
<circle cx="124.05" cy="439.57" r="5.4" fill="#f4a582"/>
<circle cx="124.32" cy="442.9" r="5.4" fill="#f4a582"/>
<circle cx="124.9" cy="441.25" r="5.4" fill="#f4a582"/>
<circle cx="122.93" cy="431.85" r="5.4" fill="#f4a582"/>
<circle cx="123.7" cy="442.9" r="5.4" fill="#f4a582"/>
<circle cx="124.1" cy="433.09" r="5.4" fill="#f4a582"/>
<circle cx="123.07" cy="436.17" r="5.4" fill="#f4a582"/>
<circle cx="124.72" cy="442.41" r="5.4" fill="#f4a582"/>
<circle cx="125.05" cy="438.41" r="5.4" fill="#f4a582"/>
<circle cx="123.61" cy="431.21" r="5.4" fill="#f4a582"/>
<circle cx="124.45" cy="435.27" r="5.4" fill="#f4a582"/>
<circle cx="122.97" cy="437.28" r="5.4" fill="#f4a582"/>
<circle cx="124.92" cy="441.09" r="5.4" fill="#f4a582"/>
<circle cx="123.96" cy="442.9" r="5.4" fill="#f4a582"/>
<circle cx="124.5" cy="434.17" r="5.4" fill="#f4a582"/>
<circle cx="122.92" cy="439.64" r="5.4" fill="#f4a582"/>
<circle cx="124.13" cy="439.02" r="5.4" fill="#f4a582"/>
<circle cx="123.04" cy="431.73" r="5.4" fill="#f4a582"/>
<circle cx="124.73" cy="439.29" r="5.4" fill="#f4a582"/>
<circle cx="122.78" cy="439.59" r="5.4" fill="#f4a582"/>
<circle cx="123.53" cy="430.48" r="5.4" fill="#f4a582"/>
<circle cx="122.82" cy="442.9" r="5.4" fill="#f4a582"/>
</g>
<g opacity="0.550" filter="url(#soft)">
<circle cx="149.24" cy="440.15" r="5.4" fill="#f4a582"/>
<circle cx="150.54" cy="430.1" r="5.4" fill="#f4a582"/>
<circle cx="149.99" cy="437.49" r="5.4" fill="#f4a582"/>
<circle cx="150.54" cy="440.86" r="5.4" fill="#f4a582"/>
<circle cx="148.73" cy="431.94" r="5.4" fill="#f4a582"/>
<circle cx="150.2" cy="437.68" r="5.4" fill="#f4a582"/>
<circle cx="149.5" cy="441.05" r="5.4" fill="#f4a582"/>
<circle cx="149.04" cy="441.64" r="5.4" fill="#f4a582"/>
<circle cx="149.45" cy="443.59" r="5.4" fill="#f4a582"/>
<circle cx="149.8" cy="445.6" r="5.4" fill="#f4a582"/>
<circle cx="150.76" cy="437.66" r="5.4" fill="#f4a582"/>
<circle cx="149.94" cy="440.47" r="5.4" fill="#f4a582"/>
<circle cx="149.04" cy="440.27" r="5.4" fill="#f4a582"/>
<circle cx="149.53" cy="440.55" r="5.4" fill="#f4a582"/>
<circle cx="149.14" cy="439.83" r="5.4" fill="#f4a582"/>
<circle cx="150.74" cy="438.68" r="5.4" fill="#f4a582"/>
<circle cx="148.69" cy="443.23" r="5.4" fill="#f4a582"/>
<circle cx="150.55" cy="445.6" r="5.4" fill="#f4a582"/>
<circle cx="149.2" cy="434.08" r="5.4" fill="#f4a582"/>
<circle cx="149.28" cy="430.1" r="5.4" fill="#f4a582"/>
<circle cx="149.89" cy="439.75" r="5.4" fill="#f4a582"/>
<circle cx="148.85" cy="443.23" r="5.4" fill="#f4a582"/>
<circle cx="150.08" cy="430.1" r="5.4" fill="#f4a582"/>
<circle cx="148.8" cy="445.6" r="5.4" fill="#f4a582"/>
<circle cx="151.01" cy="441.19" r="5.4" fill="#f4a582"/>
<circle cx="150.31" cy="441.33" r="5.4" fill="#f4a582"/>
<circle cx="150.6" cy="445.6" r="5.4" fill="#f4a582"/>
<circle cx="148.68" cy="443.45" r="5.4" fill="#f4a582"/>
<circle cx="149.63" cy="445.6" r="5.4" fill="#f4a582"/>
<circle cx="150.41" cy="438.71" r="5.4" fill="#f4a582"/>
<circle cx="149.48" cy="430.1" r="5.4" fill="#f4a582"/>
<circle cx="149.18" cy="438.39" r="5.4" fill="#f4a582"/>
<circle cx="151.04" cy="443.83" r="5.4" fill="#f4a582"/>
<circle cx="149.84" cy="445.6" r="5.4" fill="#f4a582"/>
<circle cx="150.45" cy="445.6" r="5.4" fill="#f4a582"/>
<circle cx="150.15" cy="430.1" r="5.4" fill="#f4a582"/>
<circle cx="148.87" cy="445.6" r="5.4" fill="#f4a582"/>
<circle cx="149.04" cy="430.88" r="5.4" fill="#f4a582"/>
<circle cx="150.44" cy="445.6" r="5.4" fill="#f4a582"/>
<circle cx="150.9" cy="442.8" r="5.4" fill="#f4a582"/>
<circle cx="150.65" cy="445.6" r="5.4" fill="#f4a582"/>
<circle cx="149.69" cy="445.6" r="5.4" fill="#f4a582"/>
<circle cx="150.74" cy="445.6" r="5.4" fill="#f4a582"/>
<circle cx="149.93" cy="443.73" r="5.4" fill="#f4a582"/>
<circle cx="150.97" cy="444.59" r="5.4" fill="#f4a582"/>
</g>
<g opacity="0.650" filter="url(#soft)">
<circle cx="149.24" cy="440.15" r="5.4" fill="#f4a582"/>
<circle cx="149.99" cy="437.49" r="5.4" fill="#f4a582"/>
<circle cx="150.54" cy="440.86" r="5.4" fill="#f4a582"/>
<circle cx="150.2" cy="437.68" r="5.4" fill="#f4a582"/>
<circle cx="149.5" cy="441.05" r="5.4" fill="#f4a582"/>
<circle cx="149.04" cy="441.64" r="5.4" fill="#f4a582"/>
<circle cx="149.45" cy="443.59" r="5.4" fill="#f4a582"/>
<circle cx="149.8" cy="445.6" r="5.4" fill="#f4a582"/>
<circle cx="150.76" cy="437.66" r="5.4" fill="#f4a582"/>
<circle cx="149.94" cy="440.47" r="5.4" fill="#f4a582"/>
<circle cx="149.04" cy="440.27" r="5.4" fill="#f4a582"/>
<circle cx="149.53" cy="440.55" r="5.4" fill="#f4a582"/>
<circle cx="149.14" cy="439.83" r="5.4" fill="#f4a582"/>
<circle cx="150.74" cy="438.68" r="5.4" fill="#f4a582"/>
<circle cx="148.69" cy="443.23" r="5.4" fill="#f4a582"/>
<circle cx="150.55" cy="445.6" r="5.4" fill="#f4a582"/>
<circle cx="149.2" cy="434.08" r="5.4" fill="#f4a582"/>
<circle cx="149.89" cy="439.75" r="5.4" fill="#f4a582"/>
<circle cx="148.85" cy="443.23" r="5.4" fill="#f4a582"/>
<circle cx="148.8" cy="445.6" r="5.4" fill="#f4a582"/>
<circle cx="151.01" cy="441.19" r="5.4" fill="#f4a582"/>
<circle cx="150.31" cy="441.33" r="5.4" fill="#f4a582"/>
<circle cx="150.6" cy="445.6" r="5.4" fill="#f4a582"/>
<circle cx="148.68" cy="443.45" r="5.4" fill="#f4a582"/>
<circle cx="149.63" cy="445.6" r="5.4" fill="#f4a582"/>
<circle cx="150.41" cy="438.71" r="5.4" fill="#f4a582"/>
<circle cx="149.18" cy="438.39" r="5.4" fill="#f4a582"/>
<circle cx="151.04" cy="443.83" r="5.4" fill="#f4a582"/>
<circle cx="149.84" cy="445.6" r="5.4" fill="#f4a582"/>
<circle cx="150.45" cy="445.6" r="5.4" fill="#f4a582"/>
<circle cx="148.87" cy="445.6" r="5.4" fill="#f4a582"/>
<circle cx="150.44" cy="445.6" r="5.4" fill="#f4a582"/>
<circle cx="150.9" cy="442.8" r="5.4" fill="#f4a582"/>
<circle cx="150.65" cy="445.6" r="5.4" fill="#f4a582"/>
<circle cx="149.69" cy="445.6" r="5.4" fill="#f4a582"/>
<circle cx="150.74" cy="445.6" r="5.4" fill="#f4a582"/>
<circle cx="149.93" cy="443.73" r="5.4" fill="#f4a582"/>
<circle cx="150.97" cy="444.59" r="5.4" fill="#f4a582"/>
</g>
<g opacity="0.550" filter="url(#soft)">
<circle cx="176.61" cy="446.04" r="5.4" fill="#f4a582"/>
<circle cx="175.7" cy="440.45" r="5.4" fill="#f4a582"/>
<circle cx="176.78" cy="442.01" r="5.4" fill="#f4a582"/>
<circle cx="175.54" cy="437.49" r="5.4" fill="#f4a582"/>
<circle cx="176.24" cy="446.4" r="5.4" fill="#f4a582"/>
<circle cx="175.57" cy="446.4" r="5.4" fill="#f4a582"/>
<circle cx="176.61" cy="442.86" r="5.4" fill="#f4a582"/>
<circle cx="176.61" cy="442.55" r="5.4" fill="#f4a582"/>
<circle cx="175.77" cy="444.72" r="5.4" fill="#f4a582"/>
<circle cx="176.55" cy="439.99" r="5.4" fill="#f4a582"/>
<circle cx="175.7" cy="442.61" r="5.4" fill="#f4a582"/>
<circle cx="175.45" cy="440.53" r="5.4" fill="#f4a582"/>
<circle cx="175.3" cy="446.4" r="5.4" fill="#f4a582"/>
<circle cx="176.28" cy="440.84" r="5.4" fill="#f4a582"/>
<circle cx="176.54" cy="442.9" r="5.4" fill="#f4a582"/>
<circle cx="174.7" cy="443.02" r="5.4" fill="#f4a582"/>
<circle cx="175.25" cy="445.68" r="5.4" fill="#f4a582"/>
<circle cx="175.14" cy="446.4" r="5.4" fill="#f4a582"/>
<circle cx="176.75" cy="446.4" r="5.4" fill="#f4a582"/>
<circle cx="176.89" cy="442.05" r="5.4" fill="#f4a582"/>
<circle cx="175.05" cy="444.64" r="5.4" fill="#f4a582"/>
<circle cx="175.87" cy="445.56" r="5.4" fill="#f4a582"/>
<circle cx="176.87" cy="440.33" r="5.4" fill="#f4a582"/>
<circle cx="175.2" cy="443.69" r="5.4" fill="#f4a582"/>
<circle cx="175.93" cy="439.93" r="5.4" fill="#f4a582"/>
<circle cx="175.5" cy="446.4" r="5.4" fill="#f4a582"/>
<circle cx="176.2" cy="446.4" r="5.4" fill="#f4a582"/>
<circle cx="175.67" cy="442.71" r="5.4" fill="#f4a582"/>
<circle cx="176.19" cy="446.4" r="5.4" fill="#f4a582"/>
<circle cx="175.85" cy="437.1" r="5.4" fill="#f4a582"/>
<circle cx="175.8" cy="438.79" r="5.4" fill="#f4a582"/>
<circle cx="174.74" cy="444.57" r="5.4" fill="#f4a582"/>
<circle cx="175.94" cy="446.4" r="5.4" fill="#f4a582"/>
<circle cx="176.74" cy="443.38" r="5.4" fill="#f4a582"/>
<circle cx="174.68" cy="437.75" r="5.4" fill="#f4a582"/>
<circle cx="176.89" cy="440.13" r="5.4" fill="#f4a582"/>
<circle cx="176.01" cy="445.47" r="5.4" fill="#f4a582"/>
<circle cx="175.54" cy="437.1" r="5.4" fill="#f4a582"/>
<circle cx="175.27" cy="437.1" r="5.4" fill="#f4a582"/>
<circle cx="175.91" cy="446.24" r="5.4" fill="#f4a582"/>
<circle cx="176.16" cy="444.58" r="5.4" fill="#f4a582"/>
<circle cx="175.51" cy="446.4" r="5.4" fill="#f4a582"/>
<circle cx="176.26" cy="446.4" r="5.4" fill="#f4a582"/>
<circle cx="175.98" cy="440.26" r="5.4" fill="#f4a582"/>
<circle cx="175.43" cy="446.4" r="5.4" fill="#f4a582"/>
</g>
<g opacity="0.650" filter="url(#soft)">
<circle cx="176.61" cy="446.04" r="5.4" fill="#f4a582"/>
<circle cx="175.7" cy="440.45" r="5.4" fill="#f4a582"/>
<circle cx="176.78" cy="442.01" r="5.4" fill="#f4a582"/>
<circle cx="175.54" cy="437.49" r="5.4" fill="#f4a582"/>
<circle cx="176.24" cy="446.4" r="5.4" fill="#f4a582"/>
<circle cx="175.57" cy="446.4" r="5.4" fill="#f4a582"/>
<circle cx="176.61" cy="442.86" r="5.4" fill="#f4a582"/>
<circle cx="176.61" cy="442.55" r="5.4" fill="#f4a582"/>
<circle cx="175.77" cy="444.72" r="5.4" fill="#f4a582"/>
<circle cx="176.55" cy="439.99" r="5.4" fill="#f4a582"/>
<circle cx="175.7" cy="442.61" r="5.4" fill="#f4a582"/>
<circle cx="175.45" cy="440.53" r="5.4" fill="#f4a582"/>
<circle cx="175.3" cy="446.4" r="5.4" fill="#f4a582"/>
<circle cx="176.28" cy="440.84" r="5.4" fill="#f4a582"/>
<circle cx="176.54" cy="442.9" r="5.4" fill="#f4a582"/>
<circle cx="174.7" cy="443.02" r="5.4" fill="#f4a582"/>
<circle cx="175.25" cy="445.68" r="5.4" fill="#f4a582"/>
<circle cx="175.14" cy="446.4" r="5.4" fill="#f4a582"/>
<circle cx="176.75" cy="446.4" r="5.4" fill="#f4a582"/>
<circle cx="176.89" cy="442.05" r="5.4" fill="#f4a582"/>
<circle cx="175.05" cy="444.64" r="5.4" fill="#f4a582"/>
<circle cx="175.87" cy="445.56" r="5.4" fill="#f4a582"/>
<circle cx="176.87" cy="440.33" r="5.4" fill="#f4a582"/>
<circle cx="175.2" cy="443.69" r="5.4" fill="#f4a582"/>
<circle cx="175.93" cy="439.93" r="5.4" fill="#f4a582"/>
<circle cx="175.5" cy="446.4" r="5.4" fill="#f4a582"/>
<circle cx="176.2" cy="446.4" r="5.4" fill="#f4a582"/>
<circle cx="175.67" cy="442.71" r="5.4" fill="#f4a582"/>
<circle cx="176.19" cy="446.4" r="5.4" fill="#f4a582"/>
<circle cx="175.85" cy="437.1" r="5.4" fill="#f4a582"/>
<circle cx="175.8" cy="438.79" r="5.4" fill="#f4a582"/>
<circle cx="174.74" cy="444.57" r="5.4" fill="#f4a582"/>
<circle cx="175.94" cy="446.4" r="5.4" fill="#f4a582"/>
<circle cx="176.74" cy="443.38" r="5.4" fill="#f4a582"/>
<circle cx="174.68" cy="437.75" r="5.4" fill="#f4a582"/>
<circle cx="176.89" cy="440.13" r="5.4" fill="#f4a582"/>
<circle cx="176.01" cy="445.47" r="5.4" fill="#f4a582"/>
<circle cx="175.54" cy="437.1" r="5.4" fill="#f4a582"/>
<circle cx="175.27" cy="437.1" r="5.4" fill="#f4a582"/>
<circle cx="175.91" cy="446.24" r="5.4" fill="#f4a582"/>
<circle cx="176.16" cy="444.58" r="5.4" fill="#f4a582"/>
<circle cx="175.51" cy="446.4" r="5.4" fill="#f4a582"/>
<circle cx="176.26" cy="446.4" r="5.4" fill="#f4a582"/>
<circle cx="175.98" cy="440.26" r="5.4" fill="#f4a582"/>
<circle cx="175.43" cy="446.4" r="5.4" fill="#f4a582"/>
</g>
<g opacity="0.550" filter="url(#soft)">
<circle cx="203.11" cy="444.06" r="6.2" fill="#f4a582"/>
<circle cx="200.56" cy="444.95" r="6.2" fill="#f4a582"/>
<circle cx="201.02" cy="442.21" r="6.2" fill="#f4a582"/>
<circle cx="203.41" cy="445.87" r="6.2" fill="#f4a582"/>
<circle cx="203.35" cy="443.24" r="6.2" fill="#f4a582"/>
<circle cx="201.53" cy="443.28" r="6.2" fill="#f4a582"/>
<circle cx="201.37" cy="443.04" r="6.2" fill="#f4a582"/>
<circle cx="200.91" cy="445.85" r="6.2" fill="#f4a582"/>
<circle cx="201.57" cy="445.64" r="6.2" fill="#f4a582"/>
<circle cx="202.75" cy="446.3" r="6.2" fill="#f4a582"/>
<circle cx="202.68" cy="442.61" r="6.2" fill="#f4a582"/>
<circle cx="202.36" cy="444.23" r="6.2" fill="#f4a582"/>
<circle cx="201.26" cy="441.7" r="6.2" fill="#f4a582"/>
<circle cx="200.99" cy="446.3" r="6.2" fill="#f4a582"/>
<circle cx="202.73" cy="441.7" r="6.2" fill="#f4a582"/>
<circle cx="201.99" cy="445.31" r="6.2" fill="#f4a582"/>
<circle cx="200.91" cy="445.76" r="6.2" fill="#f4a582"/>
<circle cx="201.92" cy="442.28" r="6.2" fill="#f4a582"/>
<circle cx="201.44" cy="441.7" r="6.2" fill="#f4a582"/>
<circle cx="201.06" cy="446.3" r="6.2" fill="#f4a582"/>
<circle cx="202.23" cy="441.79" r="6.2" fill="#f4a582"/>
<circle cx="201.37" cy="441.7" r="6.2" fill="#f4a582"/>
<circle cx="201.18" cy="446.3" r="6.2" fill="#f4a582"/>
<circle cx="201.21" cy="445.22" r="6.2" fill="#f4a582"/>
<circle cx="201.86" cy="445.49" r="6.2" fill="#f4a582"/>
<circle cx="203.2" cy="444.68" r="6.2" fill="#f4a582"/>
<circle cx="200.19" cy="443.35" r="6.2" fill="#f4a582"/>
<circle cx="203.02" cy="444.01" r="6.2" fill="#f4a582"/>
<circle cx="201.4" cy="441.7" r="6.2" fill="#f4a582"/>
<circle cx="202.99" cy="441.7" r="6.2" fill="#f4a582"/>
<circle cx="200.49" cy="446.3" r="6.2" fill="#f4a582"/>
<circle cx="201.75" cy="441.7" r="6.2" fill="#f4a582"/>
<circle cx="202.62" cy="446.3" r="6.2" fill="#f4a582"/>
<circle cx="203.11" cy="446.3" r="6.2" fill="#f4a582"/>
<circle cx="202.48" cy="444.82" r="6.2" fill="#f4a582"/>
<circle cx="200.19" cy="441.7" r="6.2" fill="#f4a582"/>
<circle cx="200.93" cy="441.7" r="6.2" fill="#f4a582"/>
<circle cx="200.29" cy="442.9" r="6.2" fill="#f4a582"/>
<circle cx="202.84" cy="441.84" r="6.2" fill="#f4a582"/>
<circle cx="200.21" cy="444.8" r="6.2" fill="#f4a582"/>
<circle cx="199.96" cy="446.3" r="6.2" fill="#f4a582"/>
<circle cx="200.94" cy="441.7" r="6.2" fill="#f4a582"/>
<circle cx="201.95" cy="443.78" r="6.2" fill="#f4a582"/>
<circle cx="202.93" cy="446.22" r="6.2" fill="#f4a582"/>
<circle cx="202.22" cy="442.9" r="6.2" fill="#f4a582"/>
</g>
<g opacity="0.650" filter="url(#soft)">
<circle cx="203.11" cy="444.06" r="6.2" fill="#f4a582"/>
<circle cx="200.56" cy="444.95" r="6.2" fill="#f4a582"/>
<circle cx="201.02" cy="442.21" r="6.2" fill="#f4a582"/>
<circle cx="203.41" cy="445.87" r="6.2" fill="#f4a582"/>
<circle cx="203.35" cy="443.24" r="6.2" fill="#f4a582"/>
<circle cx="201.53" cy="443.28" r="6.2" fill="#f4a582"/>
<circle cx="201.37" cy="443.04" r="6.2" fill="#f4a582"/>
<circle cx="200.91" cy="445.85" r="6.2" fill="#f4a582"/>
<circle cx="201.57" cy="445.64" r="6.2" fill="#f4a582"/>
<circle cx="202.75" cy="446.3" r="6.2" fill="#f4a582"/>
<circle cx="202.68" cy="442.61" r="6.2" fill="#f4a582"/>
<circle cx="202.36" cy="444.23" r="6.2" fill="#f4a582"/>
<circle cx="201.26" cy="441.7" r="6.2" fill="#f4a582"/>
<circle cx="200.99" cy="446.3" r="6.2" fill="#f4a582"/>
<circle cx="202.73" cy="441.7" r="6.2" fill="#f4a582"/>
<circle cx="201.99" cy="445.31" r="6.2" fill="#f4a582"/>
<circle cx="200.91" cy="445.76" r="6.2" fill="#f4a582"/>
<circle cx="201.92" cy="442.28" r="6.2" fill="#f4a582"/>
<circle cx="201.44" cy="441.7" r="6.2" fill="#f4a582"/>
<circle cx="201.06" cy="446.3" r="6.2" fill="#f4a582"/>
<circle cx="202.23" cy="441.79" r="6.2" fill="#f4a582"/>
<circle cx="201.37" cy="441.7" r="6.2" fill="#f4a582"/>
<circle cx="201.18" cy="446.3" r="6.2" fill="#f4a582"/>
<circle cx="201.21" cy="445.22" r="6.2" fill="#f4a582"/>
<circle cx="201.86" cy="445.49" r="6.2" fill="#f4a582"/>
<circle cx="203.2" cy="444.68" r="6.2" fill="#f4a582"/>
<circle cx="200.19" cy="443.35" r="6.2" fill="#f4a582"/>
<circle cx="203.02" cy="444.01" r="6.2" fill="#f4a582"/>
<circle cx="201.4" cy="441.7" r="6.2" fill="#f4a582"/>
<circle cx="202.99" cy="441.7" r="6.2" fill="#f4a582"/>
<circle cx="200.49" cy="446.3" r="6.2" fill="#f4a582"/>
<circle cx="201.75" cy="441.7" r="6.2" fill="#f4a582"/>
<circle cx="202.62" cy="446.3" r="6.2" fill="#f4a582"/>
<circle cx="203.11" cy="446.3" r="6.2" fill="#f4a582"/>
<circle cx="202.48" cy="444.82" r="6.2" fill="#f4a582"/>
<circle cx="200.19" cy="441.7" r="6.2" fill="#f4a582"/>
<circle cx="200.93" cy="441.7" r="6.2" fill="#f4a582"/>
<circle cx="200.29" cy="442.9" r="6.2" fill="#f4a582"/>
<circle cx="202.84" cy="441.84" r="6.2" fill="#f4a582"/>
<circle cx="200.21" cy="444.8" r="6.2" fill="#f4a582"/>
<circle cx="199.96" cy="446.3" r="6.2" fill="#f4a582"/>
<circle cx="200.94" cy="441.7" r="6.2" fill="#f4a582"/>
<circle cx="201.95" cy="443.78" r="6.2" fill="#f4a582"/>
<circle cx="202.93" cy="446.22" r="6.2" fill="#f4a582"/>
<circle cx="202.22" cy="442.9" r="6.2" fill="#f4a582"/>
</g>
<g opacity="0.550" filter="url(#soft)">
<circle cx="227.95" cy="445.59" r="6.2" fill="#f4a582"/>
<circle cx="226.65" cy="446.8" r="6.2" fill="#f4a582"/>
<circle cx="227.83" cy="446.8" r="6.2" fill="#f4a582"/>
<circle cx="226" cy="446.8" r="6.2" fill="#f4a582"/>
<circle cx="226.13" cy="446.01" r="6.2" fill="#f4a582"/>
<circle cx="228.01" cy="443.2" r="6.2" fill="#f4a582"/>
<circle cx="228.02" cy="446.4" r="6.2" fill="#f4a582"/>
<circle cx="229.48" cy="446.8" r="6.2" fill="#f4a582"/>
<circle cx="227.09" cy="446.8" r="6.2" fill="#f4a582"/>
<circle cx="227.62" cy="443.2" r="6.2" fill="#f4a582"/>
<circle cx="228.36" cy="446.14" r="6.2" fill="#f4a582"/>
<circle cx="227.13" cy="443.2" r="6.2" fill="#f4a582"/>
<circle cx="226.92" cy="445.91" r="6.2" fill="#f4a582"/>
<circle cx="227.76" cy="446.8" r="6.2" fill="#f4a582"/>
<circle cx="228.43" cy="444.99" r="6.2" fill="#f4a582"/>
<circle cx="227.92" cy="445.3" r="6.2" fill="#f4a582"/>
<circle cx="228.59" cy="443.94" r="6.2" fill="#f4a582"/>
<circle cx="228.5" cy="446.8" r="6.2" fill="#f4a582"/>
<circle cx="226.64" cy="443.2" r="6.2" fill="#f4a582"/>
<circle cx="228.5" cy="446.8" r="6.2" fill="#f4a582"/>
<circle cx="227.18" cy="443.2" r="6.2" fill="#f4a582"/>
<circle cx="229.47" cy="446.8" r="6.2" fill="#f4a582"/>
<circle cx="226.53" cy="444.3" r="6.2" fill="#f4a582"/>
<circle cx="228.8" cy="446.8" r="6.2" fill="#f4a582"/>
<circle cx="226.28" cy="444.56" r="6.2" fill="#f4a582"/>
<circle cx="227.6" cy="446.8" r="6.2" fill="#f4a582"/>
<circle cx="228.76" cy="446.8" r="6.2" fill="#f4a582"/>
<circle cx="226.36" cy="446.8" r="6.2" fill="#f4a582"/>
<circle cx="227.73" cy="446.64" r="6.2" fill="#f4a582"/>
<circle cx="225.98" cy="445.23" r="6.2" fill="#f4a582"/>
<circle cx="229.3" cy="446.8" r="6.2" fill="#f4a582"/>
<circle cx="228.54" cy="443.99" r="6.2" fill="#f4a582"/>
<circle cx="228.93" cy="446.8" r="6.2" fill="#f4a582"/>
<circle cx="226.67" cy="444.16" r="6.2" fill="#f4a582"/>
<circle cx="225.93" cy="443.2" r="6.2" fill="#f4a582"/>
<circle cx="227.57" cy="446.8" r="6.2" fill="#f4a582"/>
<circle cx="227.82" cy="446.8" r="6.2" fill="#f4a582"/>
<circle cx="228.15" cy="445.56" r="6.2" fill="#f4a582"/>
<circle cx="228.2" cy="446.8" r="6.2" fill="#f4a582"/>
<circle cx="229.16" cy="445.2" r="6.2" fill="#f4a582"/>
<circle cx="228.03" cy="444.57" r="6.2" fill="#f4a582"/>
<circle cx="227.54" cy="445" r="6.2" fill="#f4a582"/>
<circle cx="228.45" cy="443.2" r="6.2" fill="#f4a582"/>
<circle cx="228.51" cy="444.4" r="6.2" fill="#f4a582"/>
<circle cx="227.34" cy="446.22" r="6.2" fill="#f4a582"/>
</g>
<g opacity="0.650" filter="url(#soft)">
<circle cx="227.95" cy="445.59" r="6.2" fill="#f4a582"/>
<circle cx="226.65" cy="446.8" r="6.2" fill="#f4a582"/>
<circle cx="227.83" cy="446.8" r="6.2" fill="#f4a582"/>
<circle cx="226" cy="446.8" r="6.2" fill="#f4a582"/>
<circle cx="226.13" cy="446.01" r="6.2" fill="#f4a582"/>
<circle cx="228.01" cy="443.2" r="6.2" fill="#f4a582"/>
<circle cx="228.02" cy="446.4" r="6.2" fill="#f4a582"/>
<circle cx="229.48" cy="446.8" r="6.2" fill="#f4a582"/>
<circle cx="227.09" cy="446.8" r="6.2" fill="#f4a582"/>
<circle cx="227.62" cy="443.2" r="6.2" fill="#f4a582"/>
<circle cx="228.36" cy="446.14" r="6.2" fill="#f4a582"/>
<circle cx="227.13" cy="443.2" r="6.2" fill="#f4a582"/>
<circle cx="226.92" cy="445.91" r="6.2" fill="#f4a582"/>
<circle cx="227.76" cy="446.8" r="6.2" fill="#f4a582"/>
<circle cx="228.43" cy="444.99" r="6.2" fill="#f4a582"/>
<circle cx="227.92" cy="445.3" r="6.2" fill="#f4a582"/>
<circle cx="228.59" cy="443.94" r="6.2" fill="#f4a582"/>
<circle cx="228.5" cy="446.8" r="6.2" fill="#f4a582"/>
<circle cx="226.64" cy="443.2" r="6.2" fill="#f4a582"/>
<circle cx="228.5" cy="446.8" r="6.2" fill="#f4a582"/>
<circle cx="227.18" cy="443.2" r="6.2" fill="#f4a582"/>
<circle cx="229.47" cy="446.8" r="6.2" fill="#f4a582"/>
<circle cx="226.53" cy="444.3" r="6.2" fill="#f4a582"/>
<circle cx="228.8" cy="446.8" r="6.2" fill="#f4a582"/>
<circle cx="226.28" cy="444.56" r="6.2" fill="#f4a582"/>
<circle cx="227.6" cy="446.8" r="6.2" fill="#f4a582"/>
<circle cx="228.76" cy="446.8" r="6.2" fill="#f4a582"/>
<circle cx="226.36" cy="446.8" r="6.2" fill="#f4a582"/>
<circle cx="227.73" cy="446.64" r="6.2" fill="#f4a582"/>
<circle cx="225.98" cy="445.23" r="6.2" fill="#f4a582"/>
<circle cx="229.3" cy="446.8" r="6.2" fill="#f4a582"/>
<circle cx="228.54" cy="443.99" r="6.2" fill="#f4a582"/>
<circle cx="228.93" cy="446.8" r="6.2" fill="#f4a582"/>
<circle cx="226.67" cy="444.16" r="6.2" fill="#f4a582"/>
<circle cx="225.93" cy="443.2" r="6.2" fill="#f4a582"/>
<circle cx="227.57" cy="446.8" r="6.2" fill="#f4a582"/>
<circle cx="227.82" cy="446.8" r="6.2" fill="#f4a582"/>
<circle cx="228.15" cy="445.56" r="6.2" fill="#f4a582"/>
<circle cx="228.2" cy="446.8" r="6.2" fill="#f4a582"/>
<circle cx="229.16" cy="445.2" r="6.2" fill="#f4a582"/>
<circle cx="228.03" cy="444.57" r="6.2" fill="#f4a582"/>
<circle cx="227.54" cy="445" r="6.2" fill="#f4a582"/>
<circle cx="228.45" cy="443.2" r="6.2" fill="#f4a582"/>
<circle cx="228.51" cy="444.4" r="6.2" fill="#f4a582"/>
<circle cx="227.34" cy="446.22" r="6.2" fill="#f4a582"/>
</g>
<g opacity="0.550" filter="url(#soft)">
<circle cx="252.71" cy="446.2" r="6.2" fill="#f4a582"/>
<circle cx="253.55" cy="446.2" r="6.2" fill="#f4a582"/>
<circle cx="254.01" cy="447.8" r="6.2" fill="#f4a582"/>
<circle cx="255.4" cy="446.95" r="6.2" fill="#f4a582"/>
<circle cx="254.69" cy="447.57" r="6.2" fill="#f4a582"/>
<circle cx="254.52" cy="447.8" r="6.2" fill="#f4a582"/>
<circle cx="255.36" cy="446.38" r="6.2" fill="#f4a582"/>
<circle cx="252.03" cy="447.8" r="6.2" fill="#f4a582"/>
<circle cx="252.64" cy="447.8" r="6.2" fill="#f4a582"/>
<circle cx="254.15" cy="446.2" r="6.2" fill="#f4a582"/>
<circle cx="252.4" cy="447.8" r="6.2" fill="#f4a582"/>
<circle cx="252.22" cy="447.8" r="6.2" fill="#f4a582"/>
<circle cx="252.52" cy="447.8" r="6.2" fill="#f4a582"/>
<circle cx="253.69" cy="447.8" r="6.2" fill="#f4a582"/>
<circle cx="255.05" cy="447.8" r="6.2" fill="#f4a582"/>
<circle cx="254.92" cy="447.8" r="6.2" fill="#f4a582"/>
<circle cx="253.66" cy="446.2" r="6.2" fill="#f4a582"/>
<circle cx="254.73" cy="446.2" r="6.2" fill="#f4a582"/>
<circle cx="253.81" cy="446.22" r="6.2" fill="#f4a582"/>
<circle cx="251.88" cy="447.59" r="6.2" fill="#f4a582"/>
<circle cx="254.84" cy="446.2" r="6.2" fill="#f4a582"/>
<circle cx="252.29" cy="447.8" r="6.2" fill="#f4a582"/>
<circle cx="253.39" cy="446.2" r="6.2" fill="#f4a582"/>
<circle cx="253.82" cy="447.8" r="6.2" fill="#f4a582"/>
<circle cx="254.48" cy="446.38" r="6.2" fill="#f4a582"/>
<circle cx="252.22" cy="447.8" r="6.2" fill="#f4a582"/>
<circle cx="254.59" cy="447.21" r="6.2" fill="#f4a582"/>
<circle cx="255.37" cy="447.8" r="6.2" fill="#f4a582"/>
<circle cx="252.12" cy="447.8" r="6.2" fill="#f4a582"/>
<circle cx="254.01" cy="447.8" r="6.2" fill="#f4a582"/>
<circle cx="253.32" cy="447.8" r="6.2" fill="#f4a582"/>
<circle cx="255.15" cy="446.2" r="6.2" fill="#f4a582"/>
<circle cx="255.14" cy="446.2" r="6.2" fill="#f4a582"/>
<circle cx="251.96" cy="447.8" r="6.2" fill="#f4a582"/>
<circle cx="253.4" cy="446.2" r="6.2" fill="#f4a582"/>
<circle cx="255.24" cy="447.8" r="6.2" fill="#f4a582"/>
<circle cx="252.76" cy="447.8" r="6.2" fill="#f4a582"/>
<circle cx="253.02" cy="447.39" r="6.2" fill="#f4a582"/>
<circle cx="255.38" cy="447.77" r="6.2" fill="#f4a582"/>
<circle cx="254.59" cy="446.2" r="6.2" fill="#f4a582"/>
<circle cx="254.56" cy="447.8" r="6.2" fill="#f4a582"/>
<circle cx="253.33" cy="447" r="6.2" fill="#f4a582"/>
<circle cx="255.04" cy="446.92" r="6.2" fill="#f4a582"/>
<circle cx="254.62" cy="447.8" r="6.2" fill="#f4a582"/>
<circle cx="254.71" cy="447.8" r="6.2" fill="#f4a582"/>
</g>
<g opacity="0.650" filter="url(#soft)">
<circle cx="252.71" cy="446.2" r="6.2" fill="#f4a582"/>
<circle cx="253.55" cy="446.2" r="6.2" fill="#f4a582"/>
<circle cx="254.01" cy="447.8" r="6.2" fill="#f4a582"/>
<circle cx="255.4" cy="446.95" r="6.2" fill="#f4a582"/>
<circle cx="254.69" cy="447.57" r="6.2" fill="#f4a582"/>
<circle cx="254.52" cy="447.8" r="6.2" fill="#f4a582"/>
<circle cx="255.36" cy="446.38" r="6.2" fill="#f4a582"/>
<circle cx="252.03" cy="447.8" r="6.2" fill="#f4a582"/>
<circle cx="252.64" cy="447.8" r="6.2" fill="#f4a582"/>
<circle cx="254.15" cy="446.2" r="6.2" fill="#f4a582"/>
<circle cx="252.4" cy="447.8" r="6.2" fill="#f4a582"/>
<circle cx="252.22" cy="447.8" r="6.2" fill="#f4a582"/>
<circle cx="252.52" cy="447.8" r="6.2" fill="#f4a582"/>
<circle cx="253.69" cy="447.8" r="6.2" fill="#f4a582"/>
<circle cx="255.05" cy="447.8" r="6.2" fill="#f4a582"/>
<circle cx="254.92" cy="447.8" r="6.2" fill="#f4a582"/>
<circle cx="253.66" cy="446.2" r="6.2" fill="#f4a582"/>
<circle cx="254.73" cy="446.2" r="6.2" fill="#f4a582"/>
<circle cx="253.81" cy="446.22" r="6.2" fill="#f4a582"/>
<circle cx="251.88" cy="447.59" r="6.2" fill="#f4a582"/>
<circle cx="254.84" cy="446.2" r="6.2" fill="#f4a582"/>
<circle cx="252.29" cy="447.8" r="6.2" fill="#f4a582"/>
<circle cx="253.39" cy="446.2" r="6.2" fill="#f4a582"/>
<circle cx="253.82" cy="447.8" r="6.2" fill="#f4a582"/>
<circle cx="254.48" cy="446.38" r="6.2" fill="#f4a582"/>
<circle cx="252.22" cy="447.8" r="6.2" fill="#f4a582"/>
<circle cx="254.59" cy="447.21" r="6.2" fill="#f4a582"/>
<circle cx="255.37" cy="447.8" r="6.2" fill="#f4a582"/>
<circle cx="252.12" cy="447.8" r="6.2" fill="#f4a582"/>
<circle cx="254.01" cy="447.8" r="6.2" fill="#f4a582"/>
<circle cx="253.32" cy="447.8" r="6.2" fill="#f4a582"/>
<circle cx="255.15" cy="446.2" r="6.2" fill="#f4a582"/>
<circle cx="255.14" cy="446.2" r="6.2" fill="#f4a582"/>
<circle cx="251.96" cy="447.8" r="6.2" fill="#f4a582"/>
<circle cx="253.4" cy="446.2" r="6.2" fill="#f4a582"/>
<circle cx="255.24" cy="447.8" r="6.2" fill="#f4a582"/>
<circle cx="252.76" cy="447.8" r="6.2" fill="#f4a582"/>
<circle cx="253.02" cy="447.39" r="6.2" fill="#f4a582"/>
<circle cx="255.38" cy="447.77" r="6.2" fill="#f4a582"/>
<circle cx="254.59" cy="446.2" r="6.2" fill="#f4a582"/>
<circle cx="254.56" cy="447.8" r="6.2" fill="#f4a582"/>
<circle cx="253.33" cy="447" r="6.2" fill="#f4a582"/>
<circle cx="255.04" cy="446.92" r="6.2" fill="#f4a582"/>
<circle cx="254.62" cy="447.8" r="6.2" fill="#f4a582"/>
<circle cx="254.71" cy="447.8" r="6.2" fill="#f4a582"/>
</g>
<g opacity="0.550" filter="url(#soft)">
<circle cx="280.77" cy="447.2" r="6.2" fill="#f4a582"/>
<circle cx="279.12" cy="447.8" r="6.2" fill="#f4a582"/>
<circle cx="278.38" cy="447.8" r="6.2" fill="#f4a582"/>
<circle cx="279.74" cy="447.8" r="6.2" fill="#f4a582"/>
<circle cx="281.09" cy="447.8" r="6.2" fill="#f4a582"/>
<circle cx="278.12" cy="447.2" r="6.2" fill="#f4a582"/>
<circle cx="281.06" cy="447.8" r="6.2" fill="#f4a582"/>
<circle cx="280.38" cy="447.74" r="6.2" fill="#f4a582"/>
<circle cx="279.38" cy="447.2" r="6.2" fill="#f4a582"/>
<circle cx="280.49" cy="447.2" r="6.2" fill="#f4a582"/>
<circle cx="278.73" cy="447.2" r="6.2" fill="#f4a582"/>
<circle cx="278.55" cy="447.8" r="6.2" fill="#f4a582"/>
<circle cx="280.12" cy="447.8" r="6.2" fill="#f4a582"/>
<circle cx="279.95" cy="447.2" r="6.2" fill="#f4a582"/>
<circle cx="278.03" cy="447.2" r="6.2" fill="#f4a582"/>
<circle cx="279.1" cy="447.2" r="6.2" fill="#f4a582"/>
<circle cx="279.58" cy="447.21" r="6.2" fill="#f4a582"/>
<circle cx="278.78" cy="447.8" r="6.2" fill="#f4a582"/>
<circle cx="278.16" cy="447.8" r="6.2" fill="#f4a582"/>
<circle cx="280.28" cy="447.8" r="6.2" fill="#f4a582"/>
<circle cx="278.14" cy="447.8" r="6.2" fill="#f4a582"/>
<circle cx="280.8" cy="447.8" r="6.2" fill="#f4a582"/>
<circle cx="278.61" cy="447.8" r="6.2" fill="#f4a582"/>
<circle cx="280.21" cy="447.8" r="6.2" fill="#f4a582"/>
<circle cx="278.48" cy="447.2" r="6.2" fill="#f4a582"/>
<circle cx="280.17" cy="447.8" r="6.2" fill="#f4a582"/>
<circle cx="278.45" cy="447.2" r="6.2" fill="#f4a582"/>
<circle cx="281.34" cy="447.2" r="6.2" fill="#f4a582"/>
<circle cx="279.85" cy="447.8" r="6.2" fill="#f4a582"/>
<circle cx="277.85" cy="447.2" r="6.2" fill="#f4a582"/>
<circle cx="281.27" cy="447.8" r="6.2" fill="#f4a582"/>
<circle cx="278.3" cy="447.8" r="6.2" fill="#f4a582"/>
<circle cx="279.12" cy="447.8" r="6.2" fill="#f4a582"/>
<circle cx="278.69" cy="447.2" r="6.2" fill="#f4a582"/>
<circle cx="279.17" cy="447.8" r="6.2" fill="#f4a582"/>
<circle cx="278.5" cy="447.8" r="6.2" fill="#f4a582"/>
<circle cx="279.12" cy="447.8" r="6.2" fill="#f4a582"/>
<circle cx="280.93" cy="447.2" r="6.2" fill="#f4a582"/>
<circle cx="280.81" cy="447.8" r="6.2" fill="#f4a582"/>
<circle cx="279.38" cy="447.2" r="6.2" fill="#f4a582"/>
<circle cx="280.36" cy="447.8" r="6.2" fill="#f4a582"/>
<circle cx="279.53" cy="447.22" r="6.2" fill="#f4a582"/>
<circle cx="279.38" cy="447.63" r="6.2" fill="#f4a582"/>
<circle cx="279.1" cy="447.2" r="6.2" fill="#f4a582"/>
<circle cx="279.8" cy="447.8" r="6.2" fill="#f4a582"/>
</g>
<g opacity="0.650" filter="url(#soft)">
<circle cx="280.77" cy="447.2" r="6.2" fill="#f4a582"/>
<circle cx="279.12" cy="447.8" r="6.2" fill="#f4a582"/>
<circle cx="278.38" cy="447.8" r="6.2" fill="#f4a582"/>
<circle cx="279.74" cy="447.8" r="6.2" fill="#f4a582"/>
<circle cx="281.09" cy="447.8" r="6.2" fill="#f4a582"/>
<circle cx="278.12" cy="447.2" r="6.2" fill="#f4a582"/>
<circle cx="281.06" cy="447.8" r="6.2" fill="#f4a582"/>
<circle cx="280.38" cy="447.74" r="6.2" fill="#f4a582"/>
<circle cx="279.38" cy="447.2" r="6.2" fill="#f4a582"/>
<circle cx="280.49" cy="447.2" r="6.2" fill="#f4a582"/>
<circle cx="278.73" cy="447.2" r="6.2" fill="#f4a582"/>
<circle cx="278.55" cy="447.8" r="6.2" fill="#f4a582"/>
<circle cx="280.12" cy="447.8" r="6.2" fill="#f4a582"/>
<circle cx="279.95" cy="447.2" r="6.2" fill="#f4a582"/>
<circle cx="278.03" cy="447.2" r="6.2" fill="#f4a582"/>
<circle cx="279.1" cy="447.2" r="6.2" fill="#f4a582"/>
<circle cx="279.58" cy="447.21" r="6.2" fill="#f4a582"/>
<circle cx="278.78" cy="447.8" r="6.2" fill="#f4a582"/>
<circle cx="278.16" cy="447.8" r="6.2" fill="#f4a582"/>
<circle cx="280.28" cy="447.8" r="6.2" fill="#f4a582"/>
<circle cx="278.14" cy="447.8" r="6.2" fill="#f4a582"/>
<circle cx="280.8" cy="447.8" r="6.2" fill="#f4a582"/>
<circle cx="278.61" cy="447.8" r="6.2" fill="#f4a582"/>
<circle cx="280.21" cy="447.8" r="6.2" fill="#f4a582"/>
<circle cx="278.48" cy="447.2" r="6.2" fill="#f4a582"/>
<circle cx="280.17" cy="447.8" r="6.2" fill="#f4a582"/>
<circle cx="278.45" cy="447.2" r="6.2" fill="#f4a582"/>
<circle cx="281.34" cy="447.2" r="6.2" fill="#f4a582"/>
<circle cx="279.85" cy="447.8" r="6.2" fill="#f4a582"/>
<circle cx="277.85" cy="447.2" r="6.2" fill="#f4a582"/>
<circle cx="281.27" cy="447.8" r="6.2" fill="#f4a582"/>
<circle cx="278.3" cy="447.8" r="6.2" fill="#f4a582"/>
<circle cx="279.12" cy="447.8" r="6.2" fill="#f4a582"/>
<circle cx="278.69" cy="447.2" r="6.2" fill="#f4a582"/>
<circle cx="279.17" cy="447.8" r="6.2" fill="#f4a582"/>
<circle cx="278.5" cy="447.8" r="6.2" fill="#f4a582"/>
<circle cx="279.12" cy="447.8" r="6.2" fill="#f4a582"/>
<circle cx="280.93" cy="447.2" r="6.2" fill="#f4a582"/>
<circle cx="280.81" cy="447.8" r="6.2" fill="#f4a582"/>
<circle cx="279.38" cy="447.2" r="6.2" fill="#f4a582"/>
<circle cx="280.36" cy="447.8" r="6.2" fill="#f4a582"/>
<circle cx="279.53" cy="447.22" r="6.2" fill="#f4a582"/>
<circle cx="279.38" cy="447.63" r="6.2" fill="#f4a582"/>
<circle cx="279.1" cy="447.2" r="6.2" fill="#f4a582"/>
<circle cx="279.8" cy="447.8" r="6.2" fill="#f4a582"/>
</g>
<g opacity="0.550" filter="url(#soft)">
<circle cx="306.43" cy="447.8" r="6.2" fill="#f4a582"/>
<circle cx="307.21" cy="447.2" r="6.2" fill="#f4a582"/>
<circle cx="307.15" cy="447.8" r="6.2" fill="#f4a582"/>
<circle cx="304.36" cy="447.8" r="6.2" fill="#f4a582"/>
<circle cx="304.05" cy="447.8" r="6.2" fill="#f4a582"/>
<circle cx="305.41" cy="447.8" r="6.2" fill="#f4a582"/>
<circle cx="305.38" cy="447.2" r="6.2" fill="#f4a582"/>
<circle cx="306.14" cy="447.8" r="6.2" fill="#f4a582"/>
<circle cx="307.29" cy="447.77" r="6.2" fill="#f4a582"/>
<circle cx="303.79" cy="447.8" r="6.2" fill="#f4a582"/>
<circle cx="303.84" cy="447.2" r="6.2" fill="#f4a582"/>
<circle cx="305.68" cy="447.8" r="6.2" fill="#f4a582"/>
<circle cx="305.93" cy="447.8" r="6.2" fill="#f4a582"/>
<circle cx="306.64" cy="447.2" r="6.2" fill="#f4a582"/>
<circle cx="306.84" cy="447.8" r="6.2" fill="#f4a582"/>
<circle cx="304.4" cy="447.8" r="6.2" fill="#f4a582"/>
<circle cx="307" cy="447.8" r="6.2" fill="#f4a582"/>
<circle cx="303.88" cy="447.8" r="6.2" fill="#f4a582"/>
<circle cx="304.44" cy="447.8" r="6.2" fill="#f4a582"/>
<circle cx="307.13" cy="447.2" r="6.2" fill="#f4a582"/>
<circle cx="303.8" cy="447.8" r="6.2" fill="#f4a582"/>
<circle cx="305.47" cy="447.8" r="6.2" fill="#f4a582"/>
<circle cx="305.52" cy="447.8" r="6.2" fill="#f4a582"/>
<circle cx="304.53" cy="447.8" r="6.2" fill="#f4a582"/>
<circle cx="307.35" cy="447.8" r="6.2" fill="#f4a582"/>
<circle cx="307.21" cy="447.8" r="6.2" fill="#f4a582"/>
<circle cx="304.99" cy="447.8" r="6.2" fill="#f4a582"/>
<circle cx="305.1" cy="447.2" r="6.2" fill="#f4a582"/>
<circle cx="303.75" cy="447.8" r="6.2" fill="#f4a582"/>
<circle cx="305.38" cy="447.2" r="6.2" fill="#f4a582"/>
<circle cx="304.25" cy="447.2" r="6.2" fill="#f4a582"/>
<circle cx="307.21" cy="447.77" r="6.2" fill="#f4a582"/>
<circle cx="305.63" cy="447.8" r="6.2" fill="#f4a582"/>
<circle cx="303.95" cy="447.2" r="6.2" fill="#f4a582"/>
<circle cx="305.86" cy="447.8" r="6.2" fill="#f4a582"/>
<circle cx="306.95" cy="447.8" r="6.2" fill="#f4a582"/>
<circle cx="307.19" cy="447.2" r="6.2" fill="#f4a582"/>
<circle cx="305.22" cy="447.8" r="6.2" fill="#f4a582"/>
<circle cx="304.12" cy="447.8" r="6.2" fill="#f4a582"/>
<circle cx="304.79" cy="447.8" r="6.2" fill="#f4a582"/>
<circle cx="305.26" cy="447.8" r="6.2" fill="#f4a582"/>
<circle cx="306.66" cy="447.8" r="6.2" fill="#f4a582"/>
<circle cx="304.17" cy="447.2" r="6.2" fill="#f4a582"/>
<circle cx="305.86" cy="447.8" r="6.2" fill="#f4a582"/>
<circle cx="307.21" cy="447.8" r="6.2" fill="#f4a582"/>
</g>
<g opacity="0.650" filter="url(#soft)">
<circle cx="306.43" cy="447.8" r="6.2" fill="#f4a582"/>
<circle cx="307.21" cy="447.2" r="6.2" fill="#f4a582"/>
<circle cx="307.15" cy="447.8" r="6.2" fill="#f4a582"/>
<circle cx="304.36" cy="447.8" r="6.2" fill="#f4a582"/>
<circle cx="304.05" cy="447.8" r="6.2" fill="#f4a582"/>
<circle cx="305.41" cy="447.8" r="6.2" fill="#f4a582"/>
<circle cx="305.38" cy="447.2" r="6.2" fill="#f4a582"/>
<circle cx="306.14" cy="447.8" r="6.2" fill="#f4a582"/>
<circle cx="307.29" cy="447.77" r="6.2" fill="#f4a582"/>
<circle cx="303.79" cy="447.8" r="6.2" fill="#f4a582"/>
<circle cx="303.84" cy="447.2" r="6.2" fill="#f4a582"/>
<circle cx="305.68" cy="447.8" r="6.2" fill="#f4a582"/>
<circle cx="305.93" cy="447.8" r="6.2" fill="#f4a582"/>
<circle cx="306.64" cy="447.2" r="6.2" fill="#f4a582"/>
<circle cx="306.84" cy="447.8" r="6.2" fill="#f4a582"/>
<circle cx="304.4" cy="447.8" r="6.2" fill="#f4a582"/>
<circle cx="307" cy="447.8" r="6.2" fill="#f4a582"/>
<circle cx="303.88" cy="447.8" r="6.2" fill="#f4a582"/>
<circle cx="304.44" cy="447.8" r="6.2" fill="#f4a582"/>
<circle cx="307.13" cy="447.2" r="6.2" fill="#f4a582"/>
<circle cx="303.8" cy="447.8" r="6.2" fill="#f4a582"/>
<circle cx="305.47" cy="447.8" r="6.2" fill="#f4a582"/>
<circle cx="305.52" cy="447.8" r="6.2" fill="#f4a582"/>
<circle cx="304.53" cy="447.8" r="6.2" fill="#f4a582"/>
<circle cx="307.35" cy="447.8" r="6.2" fill="#f4a582"/>
<circle cx="307.21" cy="447.8" r="6.2" fill="#f4a582"/>
<circle cx="304.99" cy="447.8" r="6.2" fill="#f4a582"/>
<circle cx="305.1" cy="447.2" r="6.2" fill="#f4a582"/>
<circle cx="303.75" cy="447.8" r="6.2" fill="#f4a582"/>
<circle cx="305.38" cy="447.2" r="6.2" fill="#f4a582"/>
<circle cx="304.25" cy="447.2" r="6.2" fill="#f4a582"/>
<circle cx="307.21" cy="447.77" r="6.2" fill="#f4a582"/>
<circle cx="305.63" cy="447.8" r="6.2" fill="#f4a582"/>
<circle cx="303.95" cy="447.2" r="6.2" fill="#f4a582"/>
<circle cx="305.86" cy="447.8" r="6.2" fill="#f4a582"/>
<circle cx="306.95" cy="447.8" r="6.2" fill="#f4a582"/>
<circle cx="307.19" cy="447.2" r="6.2" fill="#f4a582"/>
<circle cx="305.22" cy="447.8" r="6.2" fill="#f4a582"/>
<circle cx="304.12" cy="447.8" r="6.2" fill="#f4a582"/>
<circle cx="304.79" cy="447.8" r="6.2" fill="#f4a582"/>
<circle cx="305.26" cy="447.8" r="6.2" fill="#f4a582"/>
<circle cx="306.66" cy="447.8" r="6.2" fill="#f4a582"/>
<circle cx="304.17" cy="447.2" r="6.2" fill="#f4a582"/>
<circle cx="305.86" cy="447.8" r="6.2" fill="#f4a582"/>
<circle cx="307.21" cy="447.8" r="6.2" fill="#f4a582"/>
</g>
<line x1="65.5" y1="277.9" x2="78.5" y2="277.9" stroke="#c21d2b" stroke-width="2.4" stroke-linecap="butt"/>
<line x1="65.5" y1="398" x2="78.5" y2="398" stroke="#c21d2b" stroke-width="2.4" stroke-linecap="butt"/>
<line x1="91.45" y1="393.5" x2="104.45" y2="393.5" stroke="#c21d2b" stroke-width="2.4" stroke-linecap="butt"/>
<line x1="117.4" y1="418" x2="130.4" y2="418" stroke="#c21d2b" stroke-width="2.4" stroke-linecap="butt"/>
<line x1="143.35" y1="427.6" x2="156.35" y2="427.6" stroke="#c21d2b" stroke-width="2.4" stroke-linecap="butt"/>
<line x1="72" y1="293.1" x2="72" y2="333.7" stroke="#6aaed6" stroke-width="1.5" stroke-linecap="butt"/>
<line x1="68.4" y1="293.1" x2="75.6" y2="293.1" stroke="#6aaed6" stroke-width="1.5" stroke-linecap="butt"/>
<line x1="68.4" y1="333.7" x2="75.6" y2="333.7" stroke="#6aaed6" stroke-width="1.5" stroke-linecap="butt"/>
<circle cx="72" cy="315.1" r="2.6" fill="#6aaed6"/>
<line x1="97.9" y1="394.2" x2="97.9" y2="407.8" stroke="#6aaed6" stroke-width="1.5" stroke-linecap="butt"/>
<line x1="94.3" y1="394.2" x2="101.5" y2="394.2" stroke="#6aaed6" stroke-width="1.5" stroke-linecap="butt"/>
<line x1="94.3" y1="407.8" x2="101.5" y2="407.8" stroke="#6aaed6" stroke-width="1.5" stroke-linecap="butt"/>
<circle cx="97.9" cy="402.6" r="2.6" fill="#6aaed6"/>
<line x1="123.9" y1="415.3" x2="123.9" y2="430" stroke="#6aaed6" stroke-width="1.5" stroke-linecap="butt"/>
<line x1="120.3" y1="415.3" x2="127.5" y2="415.3" stroke="#6aaed6" stroke-width="1.5" stroke-linecap="butt"/>
<line x1="120.3" y1="430" x2="127.5" y2="430" stroke="#6aaed6" stroke-width="1.5" stroke-linecap="butt"/>
<circle cx="123.9" cy="420.6" r="2.6" fill="#6aaed6"/>
<line x1="149.8" y1="422.3" x2="149.8" y2="438.6" stroke="#6aaed6" stroke-width="1.5" stroke-linecap="butt"/>
<line x1="146.2" y1="422.3" x2="153.4" y2="422.3" stroke="#6aaed6" stroke-width="1.5" stroke-linecap="butt"/>
<line x1="146.2" y1="438.6" x2="153.4" y2="438.6" stroke="#6aaed6" stroke-width="1.5" stroke-linecap="butt"/>
<circle cx="149.8" cy="428.6" r="2.6" fill="#6aaed6"/>
<line x1="164.5" y1="426.5" x2="164.5" y2="442" stroke="#6aaed6" stroke-width="1.5" stroke-linecap="butt"/>
<line x1="160.9" y1="426.5" x2="168.1" y2="426.5" stroke="#6aaed6" stroke-width="1.5" stroke-linecap="butt"/>
<line x1="160.9" y1="442" x2="168.1" y2="442" stroke="#6aaed6" stroke-width="1.5" stroke-linecap="butt"/>
<circle cx="164.5" cy="432.3" r="2.6" fill="#6aaed6"/>
<rect x="147.4" y="305.9" width="168" height="92" fill="#fff"/>
<svg x="147.4" y="305.9" width="168" height="92" overflow="hidden">
<g transform="translate(-147.4 -305.9)">
<line x1="164.3" y1="389.8" x2="164.3" y2="390.6" stroke="#c21d2b" stroke-width="1.4" stroke-linecap="butt"/>
<line x1="164.3" y1="392.8" x2="164.3" y2="393.6" stroke="#c21d2b" stroke-width="1.4" stroke-linecap="butt"/>
<rect x="150.2" y="390.6" width="28.2" height="2.2" fill="#fff" stroke="#c21d2b" stroke-width="1.4"/>
<line x1="150.2" y1="391.6" x2="178.4" y2="391.6" stroke="#c21d2b" stroke-width="1.4" stroke-linecap="butt"/>
<line x1="198.77" y1="367.6" x2="198.77" y2="378" stroke="#c21d2b" stroke-width="1.4" stroke-linecap="butt"/>
<line x1="198.77" y1="384.4" x2="198.77" y2="388.7" stroke="#c21d2b" stroke-width="1.4" stroke-linecap="butt"/>
<rect x="184.67" y="378" width="28.2" height="6.4" fill="#fff" stroke="#c21d2b" stroke-width="1.4"/>
<line x1="184.67" y1="381" x2="212.87" y2="381" stroke="#c21d2b" stroke-width="1.4" stroke-linecap="butt"/>
<line x1="233.24" y1="348.2" x2="233.24" y2="364.5" stroke="#c21d2b" stroke-width="1.4" stroke-linecap="butt"/>
<line x1="233.24" y1="377.4" x2="233.24" y2="383.8" stroke="#c21d2b" stroke-width="1.4" stroke-linecap="butt"/>
<rect x="219.14" y="364.5" width="28.2" height="12.9" fill="#fff" stroke="#c21d2b" stroke-width="1.4"/>
<line x1="219.14" y1="370.3" x2="247.34" y2="370.3" stroke="#c21d2b" stroke-width="1.4" stroke-linecap="butt"/>
<line x1="267.71" y1="332" x2="267.71" y2="354.4" stroke="#c21d2b" stroke-width="1.4" stroke-linecap="butt"/>
<line x1="267.71" y1="371.2" x2="267.71" y2="379.8" stroke="#c21d2b" stroke-width="1.4" stroke-linecap="butt"/>
<rect x="253.61" y="354.4" width="28.2" height="16.8" fill="#fff" stroke="#c21d2b" stroke-width="1.4"/>
<line x1="253.61" y1="362" x2="281.81" y2="362" stroke="#c21d2b" stroke-width="1.4" stroke-linecap="butt"/>
<line x1="302.18" y1="316.1" x2="302.18" y2="343.6" stroke="#c21d2b" stroke-width="1.4" stroke-linecap="butt"/>
<line x1="302.18" y1="364.5" x2="302.18" y2="375.2" stroke="#c21d2b" stroke-width="1.4" stroke-linecap="butt"/>
<rect x="288.08" y="343.6" width="28.2" height="20.9" fill="#fff" stroke="#c21d2b" stroke-width="1.4"/>
<line x1="288.08" y1="355.9" x2="316.28" y2="355.9" stroke="#c21d2b" stroke-width="1.4" stroke-linecap="butt"/>
<polyline points="164.3,392.63 167.75,390.3 171.19,388.66 174.64,387.2 178.09,385.85 181.54,384.58 184.98,383.37 188.43,382.2 191.88,381.07 195.32,379.97 198.77,378.9 202.22,377.86 205.66,376.83 209.11,375.83 212.56,374.84 216.01,373.87 219.45,372.91 222.9,371.97 226.35,371.04 229.79,370.12 233.24,369.22 236.69,368.32 240.13,367.43 243.58,366.56 247.03,365.69 250.48,364.83 253.92,363.97 257.37,363.13 260.82,362.29 264.26,361.46 267.71,360.63 271.16,359.82 274.6,359 278.05,358.2 281.5,357.4 284.95,356.6 288.39,355.81 291.84,355.03 295.29,354.25 298.73,353.47 302.18,352.7 305.63,351.93 309.07,351.17 312.52,350.41 315.97,349.66 319.41,348.91 322.86,348.16" fill="none" stroke="#174a8b" stroke-width="1.6" stroke-linecap="butt" stroke-linejoin="round" stroke-dasharray="5.6,2.6"/>
<g opacity="0.800" filter="url(#soft)">
<circle cx="166.13" cy="390.8" r="5.8" fill="#f4a582"/>
<circle cx="165.18" cy="390.8" r="5.8" fill="#f4a582"/>
<circle cx="163.68" cy="390.8" r="5.8" fill="#f4a582"/>
<circle cx="162.34" cy="391.5" r="5.8" fill="#f4a582"/>
<circle cx="164.17" cy="391.5" r="5.8" fill="#f4a582"/>
<circle cx="162.04" cy="391.5" r="5.8" fill="#f4a582"/>
<circle cx="165.26" cy="391.5" r="5.8" fill="#f4a582"/>
<circle cx="166.41" cy="390.8" r="5.8" fill="#f4a582"/>
<circle cx="163.98" cy="390.8" r="5.8" fill="#f4a582"/>
<circle cx="163.88" cy="390.8" r="5.8" fill="#f4a582"/>
<circle cx="163.07" cy="391.5" r="5.8" fill="#f4a582"/>
<circle cx="165.05" cy="391.17" r="5.8" fill="#f4a582"/>
<circle cx="163.02" cy="390.8" r="5.8" fill="#f4a582"/>
<circle cx="162.16" cy="390.81" r="5.8" fill="#f4a582"/>
<circle cx="163.94" cy="391.34" r="5.8" fill="#f4a582"/>
<circle cx="166.33" cy="391.5" r="5.8" fill="#f4a582"/>
<circle cx="165.24" cy="391.15" r="5.8" fill="#f4a582"/>
<circle cx="164.22" cy="390.8" r="5.8" fill="#f4a582"/>
<circle cx="162.74" cy="391.5" r="5.8" fill="#f4a582"/>
<circle cx="165.53" cy="391.5" r="5.8" fill="#f4a582"/>
<circle cx="164.92" cy="391.5" r="5.8" fill="#f4a582"/>
<circle cx="162.9" cy="391.5" r="5.8" fill="#f4a582"/>
<circle cx="163.18" cy="390.94" r="5.8" fill="#f4a582"/>
<circle cx="165.91" cy="391.5" r="5.8" fill="#f4a582"/>
<circle cx="162.91" cy="391.5" r="5.8" fill="#f4a582"/>
<circle cx="165.34" cy="391.5" r="5.8" fill="#f4a582"/>
<circle cx="162.02" cy="390.8" r="5.8" fill="#f4a582"/>
<circle cx="162.02" cy="391.5" r="5.8" fill="#f4a582"/>
<circle cx="165.27" cy="390.81" r="5.8" fill="#f4a582"/>
<circle cx="162.53" cy="390.8" r="5.8" fill="#f4a582"/>
</g>
<g opacity="0.800" filter="url(#soft)">
<circle cx="197.15" cy="385.2" r="5.8" fill="#f4a582"/>
<circle cx="197.94" cy="378.62" r="5.8" fill="#f4a582"/>
<circle cx="197.66" cy="377.7" r="5.8" fill="#f4a582"/>
<circle cx="197.22" cy="370.8" r="5.8" fill="#f4a582"/>
<circle cx="199.67" cy="380.77" r="5.8" fill="#f4a582"/>
<circle cx="199.82" cy="384.31" r="5.8" fill="#f4a582"/>
<circle cx="197.34" cy="377.98" r="5.8" fill="#f4a582"/>
<circle cx="196.71" cy="379.57" r="5.8" fill="#f4a582"/>
<circle cx="198.24" cy="382.21" r="5.8" fill="#f4a582"/>
<circle cx="200.14" cy="372.44" r="5.8" fill="#f4a582"/>
<circle cx="199.17" cy="370.8" r="5.8" fill="#f4a582"/>
<circle cx="200.17" cy="382.53" r="5.8" fill="#f4a582"/>
<circle cx="196.9" cy="372.48" r="5.8" fill="#f4a582"/>
<circle cx="197.11" cy="379.52" r="5.8" fill="#f4a582"/>
<circle cx="196.97" cy="379.89" r="5.8" fill="#f4a582"/>
<circle cx="197.66" cy="372.68" r="5.8" fill="#f4a582"/>
<circle cx="199.8" cy="378.85" r="5.8" fill="#f4a582"/>
<circle cx="197.49" cy="382.88" r="5.8" fill="#f4a582"/>
<circle cx="199.65" cy="381.1" r="5.8" fill="#f4a582"/>
<circle cx="197.41" cy="385.2" r="5.8" fill="#f4a582"/>
<circle cx="197.67" cy="381.58" r="5.8" fill="#f4a582"/>
<circle cx="200.02" cy="372.38" r="5.8" fill="#f4a582"/>
<circle cx="200.88" cy="382.71" r="5.8" fill="#f4a582"/>
<circle cx="197.92" cy="374.13" r="5.8" fill="#f4a582"/>
<circle cx="199.27" cy="370.8" r="5.8" fill="#f4a582"/>
<circle cx="198.83" cy="370.8" r="5.8" fill="#f4a582"/>
<circle cx="200.51" cy="385.2" r="5.8" fill="#f4a582"/>
<circle cx="197.02" cy="371.77" r="5.8" fill="#f4a582"/>
<circle cx="198.14" cy="378.6" r="5.8" fill="#f4a582"/>
<circle cx="200.04" cy="378.77" r="5.8" fill="#f4a582"/>
<circle cx="198.25" cy="370.8" r="5.8" fill="#f4a582"/>
<circle cx="199.55" cy="372.93" r="5.8" fill="#f4a582"/>
<circle cx="198.66" cy="374.31" r="5.8" fill="#f4a582"/>
<circle cx="198.18" cy="383.85" r="5.8" fill="#f4a582"/>
<circle cx="200.77" cy="385.2" r="5.8" fill="#f4a582"/>
<circle cx="198.57" cy="370.8" r="5.8" fill="#f4a582"/>
<circle cx="196.64" cy="373.48" r="5.8" fill="#f4a582"/>
<circle cx="197.06" cy="385.2" r="5.8" fill="#f4a582"/>
<circle cx="197.85" cy="380.67" r="5.8" fill="#f4a582"/>
<circle cx="200.02" cy="383.44" r="5.8" fill="#f4a582"/>
<circle cx="198.28" cy="370.8" r="5.8" fill="#f4a582"/>
<circle cx="196.71" cy="385.2" r="5.8" fill="#f4a582"/>
<circle cx="197.09" cy="383.8" r="5.8" fill="#f4a582"/>
<circle cx="197.22" cy="370.8" r="5.8" fill="#f4a582"/>
<circle cx="197.25" cy="385.18" r="5.8" fill="#f4a582"/>
<circle cx="198.43" cy="383.74" r="5.8" fill="#f4a582"/>
<circle cx="197.59" cy="370.8" r="5.8" fill="#f4a582"/>
<circle cx="197.66" cy="370.8" r="5.8" fill="#f4a582"/>
<circle cx="200.63" cy="385.2" r="5.8" fill="#f4a582"/>
<circle cx="199.25" cy="385.2" r="5.8" fill="#f4a582"/>
<circle cx="199.76" cy="377.42" r="5.8" fill="#f4a582"/>
<circle cx="197.36" cy="370.8" r="5.8" fill="#f4a582"/>
<circle cx="200.21" cy="370.8" r="5.8" fill="#f4a582"/>
<circle cx="197.64" cy="372.83" r="5.8" fill="#f4a582"/>
<circle cx="197.15" cy="385.2" r="5.8" fill="#f4a582"/>
<circle cx="197.26" cy="374.38" r="5.8" fill="#f4a582"/>
<circle cx="197.33" cy="374.81" r="5.8" fill="#f4a582"/>
<circle cx="200.44" cy="384.94" r="5.8" fill="#f4a582"/>
<circle cx="199.98" cy="370.8" r="5.8" fill="#f4a582"/>
<circle cx="200.85" cy="385.2" r="5.8" fill="#f4a582"/>
</g>
<g opacity="0.800" filter="url(#soft)">
<circle cx="234.71" cy="378.41" r="5.8" fill="#f4a582"/>
<circle cx="232.66" cy="361.22" r="5.8" fill="#f4a582"/>
<circle cx="231.45" cy="361.67" r="5.8" fill="#f4a582"/>
<circle cx="232.83" cy="380.58" r="5.8" fill="#f4a582"/>
<circle cx="234.42" cy="379.79" r="5.8" fill="#f4a582"/>
<circle cx="234.64" cy="380.7" r="5.8" fill="#f4a582"/>
<circle cx="234.41" cy="375.21" r="5.8" fill="#f4a582"/>
<circle cx="233.96" cy="357.21" r="5.8" fill="#f4a582"/>
<circle cx="231.55" cy="378.09" r="5.8" fill="#f4a582"/>
<circle cx="234.71" cy="360.18" r="5.8" fill="#f4a582"/>
<circle cx="234.84" cy="378.24" r="5.8" fill="#f4a582"/>
<circle cx="235.26" cy="353.15" r="5.8" fill="#f4a582"/>
<circle cx="233.94" cy="372.3" r="5.8" fill="#f4a582"/>
<circle cx="233.46" cy="379.18" r="5.8" fill="#f4a582"/>
<circle cx="234.54" cy="360.28" r="5.8" fill="#f4a582"/>
<circle cx="231.92" cy="379.17" r="5.8" fill="#f4a582"/>
<circle cx="231.4" cy="357.08" r="5.8" fill="#f4a582"/>
<circle cx="234.6" cy="350.8" r="5.8" fill="#f4a582"/>
<circle cx="231.25" cy="350.8" r="5.8" fill="#f4a582"/>
<circle cx="233.07" cy="355.26" r="5.8" fill="#f4a582"/>
<circle cx="235.33" cy="376.77" r="5.8" fill="#f4a582"/>
<circle cx="235.06" cy="370.71" r="5.8" fill="#f4a582"/>
<circle cx="234.32" cy="380.23" r="5.8" fill="#f4a582"/>
<circle cx="233.58" cy="379.31" r="5.8" fill="#f4a582"/>
<circle cx="234.75" cy="369.11" r="5.8" fill="#f4a582"/>
<circle cx="232.86" cy="365.43" r="5.8" fill="#f4a582"/>
<circle cx="231.9" cy="371.89" r="5.8" fill="#f4a582"/>
<circle cx="235.35" cy="361.13" r="5.8" fill="#f4a582"/>
<circle cx="235.15" cy="352.64" r="5.8" fill="#f4a582"/>
<circle cx="232.93" cy="369.24" r="5.8" fill="#f4a582"/>
<circle cx="231.36" cy="363.48" r="5.8" fill="#f4a582"/>
<circle cx="234.57" cy="377.41" r="5.8" fill="#f4a582"/>
<circle cx="234.37" cy="356.11" r="5.8" fill="#f4a582"/>
<circle cx="235" cy="356" r="5.8" fill="#f4a582"/>
<circle cx="232.69" cy="362.99" r="5.8" fill="#f4a582"/>
<circle cx="231.87" cy="380.7" r="5.8" fill="#f4a582"/>
<circle cx="234.31" cy="359.91" r="5.8" fill="#f4a582"/>
<circle cx="233.24" cy="367.67" r="5.8" fill="#f4a582"/>
<circle cx="235.34" cy="353.3" r="5.8" fill="#f4a582"/>
<circle cx="234.6" cy="368.29" r="5.8" fill="#f4a582"/>
<circle cx="233.48" cy="380.6" r="5.8" fill="#f4a582"/>
<circle cx="232.6" cy="379.12" r="5.8" fill="#f4a582"/>
<circle cx="231.05" cy="353.61" r="5.8" fill="#f4a582"/>
<circle cx="235.08" cy="380.19" r="5.8" fill="#f4a582"/>
<circle cx="235.23" cy="366.2" r="5.8" fill="#f4a582"/>
<circle cx="233.84" cy="353.32" r="5.8" fill="#f4a582"/>
<circle cx="233.71" cy="363.29" r="5.8" fill="#f4a582"/>
<circle cx="232.87" cy="358.03" r="5.8" fill="#f4a582"/>
<circle cx="231.36" cy="364.87" r="5.8" fill="#f4a582"/>
<circle cx="234.24" cy="360.31" r="5.8" fill="#f4a582"/>
<circle cx="232.12" cy="356.64" r="5.8" fill="#f4a582"/>
<circle cx="233.71" cy="354.45" r="5.8" fill="#f4a582"/>
<circle cx="233.63" cy="353.38" r="5.8" fill="#f4a582"/>
<circle cx="234.22" cy="374.87" r="5.8" fill="#f4a582"/>
<circle cx="234.8" cy="357.9" r="5.8" fill="#f4a582"/>
<circle cx="235.28" cy="350.8" r="5.8" fill="#f4a582"/>
<circle cx="231.26" cy="351.27" r="5.8" fill="#f4a582"/>
<circle cx="231.59" cy="372.32" r="5.8" fill="#f4a582"/>
<circle cx="235.53" cy="370.94" r="5.8" fill="#f4a582"/>
<circle cx="232.07" cy="375.49" r="5.8" fill="#f4a582"/>
</g>
<g opacity="0.800" filter="url(#soft)">
<circle cx="267.3" cy="339.71" r="5.8" fill="#f4a582"/>
<circle cx="266.15" cy="346.49" r="5.8" fill="#f4a582"/>
<circle cx="266.3" cy="336.06" r="5.8" fill="#f4a582"/>
<circle cx="266.25" cy="356.12" r="5.8" fill="#f4a582"/>
<circle cx="269.89" cy="353.02" r="5.8" fill="#f4a582"/>
<circle cx="267.58" cy="377.16" r="5.8" fill="#f4a582"/>
<circle cx="266.08" cy="360.3" r="5.8" fill="#f4a582"/>
<circle cx="268.64" cy="335.5" r="5.8" fill="#f4a582"/>
<circle cx="267.04" cy="350.99" r="5.8" fill="#f4a582"/>
<circle cx="268.59" cy="348.83" r="5.8" fill="#f4a582"/>
<circle cx="269.39" cy="339.28" r="5.8" fill="#f4a582"/>
<circle cx="269.32" cy="334.8" r="5.8" fill="#f4a582"/>
<circle cx="268.31" cy="348.94" r="5.8" fill="#f4a582"/>
<circle cx="267.4" cy="350.89" r="5.8" fill="#f4a582"/>
<circle cx="268.46" cy="358.49" r="5.8" fill="#f4a582"/>
<circle cx="266.08" cy="377.38" r="5.8" fill="#f4a582"/>
<circle cx="269.05" cy="372.71" r="5.8" fill="#f4a582"/>
<circle cx="266.97" cy="364.37" r="5.8" fill="#f4a582"/>
<circle cx="267.26" cy="358.94" r="5.8" fill="#f4a582"/>
<circle cx="269.54" cy="337.52" r="5.8" fill="#f4a582"/>
<circle cx="266.9" cy="334.8" r="5.8" fill="#f4a582"/>
<circle cx="267.08" cy="355.69" r="5.8" fill="#f4a582"/>
<circle cx="267.86" cy="348.72" r="5.8" fill="#f4a582"/>
<circle cx="267.6" cy="363.83" r="5.8" fill="#f4a582"/>
<circle cx="268.21" cy="350.5" r="5.8" fill="#f4a582"/>
<circle cx="267.11" cy="344.46" r="5.8" fill="#f4a582"/>
<circle cx="269.61" cy="349.34" r="5.8" fill="#f4a582"/>
<circle cx="266.94" cy="345.18" r="5.8" fill="#f4a582"/>
<circle cx="268.58" cy="339.66" r="5.8" fill="#f4a582"/>
<circle cx="265.68" cy="341.23" r="5.8" fill="#f4a582"/>
<circle cx="266.46" cy="339.02" r="5.8" fill="#f4a582"/>
<circle cx="268.78" cy="344.61" r="5.8" fill="#f4a582"/>
<circle cx="269.77" cy="375.51" r="5.8" fill="#f4a582"/>
<circle cx="265.82" cy="376.07" r="5.8" fill="#f4a582"/>
<circle cx="266.3" cy="352.65" r="5.8" fill="#f4a582"/>
<circle cx="267.18" cy="373.04" r="5.8" fill="#f4a582"/>
<circle cx="268.88" cy="373.73" r="5.8" fill="#f4a582"/>
<circle cx="265.59" cy="377.7" r="5.8" fill="#f4a582"/>
<circle cx="265.51" cy="337.94" r="5.8" fill="#f4a582"/>
<circle cx="265.93" cy="362.12" r="5.8" fill="#f4a582"/>
<circle cx="268.21" cy="340.65" r="5.8" fill="#f4a582"/>
<circle cx="267.07" cy="377.7" r="5.8" fill="#f4a582"/>
<circle cx="267.21" cy="352.68" r="5.8" fill="#f4a582"/>
<circle cx="269.89" cy="343.12" r="5.8" fill="#f4a582"/>
<circle cx="266.22" cy="367.47" r="5.8" fill="#f4a582"/>
<circle cx="267.02" cy="339.28" r="5.8" fill="#f4a582"/>
<circle cx="267.85" cy="334.82" r="5.8" fill="#f4a582"/>
<circle cx="267.43" cy="334.8" r="5.8" fill="#f4a582"/>
<circle cx="267.49" cy="359.52" r="5.8" fill="#f4a582"/>
<circle cx="266.96" cy="360.73" r="5.8" fill="#f4a582"/>
<circle cx="269.36" cy="377.09" r="5.8" fill="#f4a582"/>
<circle cx="266.07" cy="359.56" r="5.8" fill="#f4a582"/>
<circle cx="268.59" cy="350.32" r="5.8" fill="#f4a582"/>
<circle cx="269.03" cy="370.34" r="5.8" fill="#f4a582"/>
<circle cx="269.08" cy="334.8" r="5.8" fill="#f4a582"/>
<circle cx="268.03" cy="363.99" r="5.8" fill="#f4a582"/>
<circle cx="269.83" cy="351.54" r="5.8" fill="#f4a582"/>
<circle cx="268.24" cy="377.7" r="5.8" fill="#f4a582"/>
<circle cx="266.65" cy="350" r="5.8" fill="#f4a582"/>
<circle cx="269.04" cy="372.18" r="5.8" fill="#f4a582"/>
</g>
<g opacity="0.800" filter="url(#soft)">
<circle cx="303.04" cy="372.2" r="5.8" fill="#f4a582"/>
<circle cx="301.09" cy="360.87" r="5.8" fill="#f4a582"/>
<circle cx="303.83" cy="325.46" r="5.8" fill="#f4a582"/>
<circle cx="304.13" cy="332.36" r="5.8" fill="#f4a582"/>
<circle cx="303.36" cy="371.08" r="5.8" fill="#f4a582"/>
<circle cx="302.52" cy="361.08" r="5.8" fill="#f4a582"/>
<circle cx="301.85" cy="350.71" r="5.8" fill="#f4a582"/>
<circle cx="303.45" cy="317.8" r="5.8" fill="#f4a582"/>
<circle cx="300.4" cy="332.45" r="5.8" fill="#f4a582"/>
<circle cx="303.22" cy="342.21" r="5.8" fill="#f4a582"/>
<circle cx="302.86" cy="359.26" r="5.8" fill="#f4a582"/>
<circle cx="303.2" cy="345.29" r="5.8" fill="#f4a582"/>
<circle cx="301.16" cy="354.77" r="5.8" fill="#f4a582"/>
<circle cx="304.22" cy="370.47" r="5.8" fill="#f4a582"/>
<circle cx="302.51" cy="340.17" r="5.8" fill="#f4a582"/>
<circle cx="301.98" cy="360.93" r="5.8" fill="#f4a582"/>
<circle cx="304.25" cy="339.81" r="5.8" fill="#f4a582"/>
<circle cx="303.33" cy="323.11" r="5.8" fill="#f4a582"/>
<circle cx="300.13" cy="356.26" r="5.8" fill="#f4a582"/>
<circle cx="303.29" cy="347.7" r="5.8" fill="#f4a582"/>
<circle cx="301.61" cy="353.74" r="5.8" fill="#f4a582"/>
<circle cx="300.03" cy="364.26" r="5.8" fill="#f4a582"/>
<circle cx="303.8" cy="321.24" r="5.8" fill="#f4a582"/>
<circle cx="302.02" cy="318.13" r="5.8" fill="#f4a582"/>
<circle cx="303.23" cy="358.57" r="5.8" fill="#f4a582"/>
<circle cx="300.73" cy="371.23" r="5.8" fill="#f4a582"/>
<circle cx="300.43" cy="364.25" r="5.8" fill="#f4a582"/>
<circle cx="301.43" cy="345.66" r="5.8" fill="#f4a582"/>
<circle cx="302.06" cy="371.06" r="5.8" fill="#f4a582"/>
<circle cx="304.08" cy="330.89" r="5.8" fill="#f4a582"/>
<circle cx="302.7" cy="369.67" r="5.8" fill="#f4a582"/>
<circle cx="302.78" cy="362.9" r="5.8" fill="#f4a582"/>
<circle cx="301.92" cy="366.62" r="5.8" fill="#f4a582"/>
<circle cx="303.59" cy="370.1" r="5.8" fill="#f4a582"/>
<circle cx="300.95" cy="360.11" r="5.8" fill="#f4a582"/>
<circle cx="304.31" cy="364.73" r="5.8" fill="#f4a582"/>
<circle cx="303.03" cy="322.59" r="5.8" fill="#f4a582"/>
<circle cx="300.65" cy="340.04" r="5.8" fill="#f4a582"/>
<circle cx="302.15" cy="343.89" r="5.8" fill="#f4a582"/>
<circle cx="302.43" cy="337.83" r="5.8" fill="#f4a582"/>
<circle cx="300.63" cy="350.93" r="5.8" fill="#f4a582"/>
<circle cx="304.29" cy="337.83" r="5.8" fill="#f4a582"/>
<circle cx="302.56" cy="321.26" r="5.8" fill="#f4a582"/>
<circle cx="302.4" cy="337.41" r="5.8" fill="#f4a582"/>
<circle cx="300.82" cy="317.8" r="5.8" fill="#f4a582"/>
<circle cx="302.78" cy="332.9" r="5.8" fill="#f4a582"/>
<circle cx="303.03" cy="372.14" r="5.8" fill="#f4a582"/>
<circle cx="302.8" cy="372.2" r="5.8" fill="#f4a582"/>
<circle cx="302.96" cy="367.08" r="5.8" fill="#f4a582"/>
<circle cx="301.26" cy="351.84" r="5.8" fill="#f4a582"/>
<circle cx="304.36" cy="328.12" r="5.8" fill="#f4a582"/>
<circle cx="302.42" cy="317.8" r="5.8" fill="#f4a582"/>
<circle cx="300.42" cy="346.09" r="5.8" fill="#f4a582"/>
<circle cx="303.03" cy="355.64" r="5.8" fill="#f4a582"/>
<circle cx="303" cy="372.2" r="5.8" fill="#f4a582"/>
<circle cx="300.11" cy="317.8" r="5.8" fill="#f4a582"/>
<circle cx="301.32" cy="372.2" r="5.8" fill="#f4a582"/>
<circle cx="301.79" cy="317.8" r="5.8" fill="#f4a582"/>
<circle cx="303.67" cy="350.91" r="5.8" fill="#f4a582"/>
<circle cx="300.7" cy="328.08" r="5.8" fill="#f4a582"/>
</g>
<line x1="157.3" y1="389.8" x2="171.3" y2="389.8" stroke="#c21d2b" stroke-width="2.4" stroke-linecap="butt"/>
<line x1="157.3" y1="393.6" x2="171.3" y2="393.6" stroke="#c21d2b" stroke-width="2.4" stroke-linecap="butt"/>
<line x1="191.77" y1="367.6" x2="205.77" y2="367.6" stroke="#c21d2b" stroke-width="2.4" stroke-linecap="butt"/>
<line x1="191.77" y1="388.7" x2="205.77" y2="388.7" stroke="#c21d2b" stroke-width="2.4" stroke-linecap="butt"/>
<line x1="226.24" y1="348.2" x2="240.24" y2="348.2" stroke="#c21d2b" stroke-width="2.4" stroke-linecap="butt"/>
<line x1="226.24" y1="383.8" x2="240.24" y2="383.8" stroke="#c21d2b" stroke-width="2.4" stroke-linecap="butt"/>
<line x1="260.71" y1="332" x2="274.71" y2="332" stroke="#c21d2b" stroke-width="2.4" stroke-linecap="butt"/>
<line x1="260.71" y1="379.8" x2="274.71" y2="379.8" stroke="#c21d2b" stroke-width="2.4" stroke-linecap="butt"/>
<line x1="295.18" y1="316.1" x2="309.18" y2="316.1" stroke="#c21d2b" stroke-width="2.4" stroke-linecap="butt"/>
<line x1="295.18" y1="375.2" x2="309.18" y2="375.2" stroke="#c21d2b" stroke-width="2.4" stroke-linecap="butt"/>
<line x1="164.6" y1="391.8" x2="164.6" y2="394.2" stroke="#6aaed6" stroke-width="1.5" stroke-linecap="butt"/>
<line x1="161" y1="391.8" x2="168.2" y2="391.8" stroke="#6aaed6" stroke-width="1.5" stroke-linecap="butt"/>
<line x1="161" y1="394.2" x2="168.2" y2="394.2" stroke="#6aaed6" stroke-width="1.5" stroke-linecap="butt"/>
<circle cx="164.6" cy="393" r="2.6" fill="#6aaed6"/>
<line x1="198.9" y1="386" x2="198.9" y2="389" stroke="#6aaed6" stroke-width="1.5" stroke-linecap="butt"/>
<line x1="195.3" y1="386" x2="202.5" y2="386" stroke="#6aaed6" stroke-width="1.5" stroke-linecap="butt"/>
<line x1="195.3" y1="389" x2="202.5" y2="389" stroke="#6aaed6" stroke-width="1.5" stroke-linecap="butt"/>
<circle cx="198.9" cy="387.5" r="2.6" fill="#6aaed6"/>
<line x1="233.2" y1="377.4" x2="233.2" y2="384.4" stroke="#6aaed6" stroke-width="1.5" stroke-linecap="butt"/>
<line x1="229.6" y1="377.4" x2="236.8" y2="377.4" stroke="#6aaed6" stroke-width="1.5" stroke-linecap="butt"/>
<line x1="229.6" y1="384.4" x2="236.8" y2="384.4" stroke="#6aaed6" stroke-width="1.5" stroke-linecap="butt"/>
<circle cx="233.2" cy="382.6" r="2.6" fill="#6aaed6"/>
<line x1="267.6" y1="364.2" x2="267.6" y2="382.6" stroke="#6aaed6" stroke-width="1.5" stroke-linecap="butt"/>
<line x1="264" y1="364.2" x2="271.2" y2="364.2" stroke="#6aaed6" stroke-width="1.5" stroke-linecap="butt"/>
<line x1="264" y1="382.6" x2="271.2" y2="382.6" stroke="#6aaed6" stroke-width="1.5" stroke-linecap="butt"/>
<circle cx="267.6" cy="377.4" r="2.6" fill="#6aaed6"/>
<line x1="286.9" y1="353.5" x2="286.9" y2="379.8" stroke="#6aaed6" stroke-width="1.5" stroke-linecap="butt"/>
<line x1="283.3" y1="353.5" x2="290.5" y2="353.5" stroke="#6aaed6" stroke-width="1.5" stroke-linecap="butt"/>
<line x1="283.3" y1="379.8" x2="290.5" y2="379.8" stroke="#6aaed6" stroke-width="1.5" stroke-linecap="butt"/>
<circle cx="286.9" cy="372.2" r="2.6" fill="#6aaed6"/>
</g></svg>
<rect x="147.4" y="305.9" width="168" height="92" fill="none" stroke="#000" stroke-width="1.3"/>
<line x1="141.9" y1="396.4" x2="147.4" y2="396.4" stroke="#000" stroke-width="1.2" stroke-linecap="butt"/>
<text x="135" y="399.35" font-size="8.2" text-anchor="end" fill="#000" textLength="4.9" lengthAdjust="spacingAndGlyphs" stroke="#000" stroke-width="0.15">0</text>
<line x1="141.9" y1="374.25" x2="147.4" y2="374.25" stroke="#000" stroke-width="1.2" stroke-linecap="butt"/>
<text x="135" y="377.2" font-size="8.2" text-anchor="end" fill="#000" textLength="4.9" lengthAdjust="spacingAndGlyphs" stroke="#000" stroke-width="0.15">1</text>
<line x1="141.9" y1="352.1" x2="147.4" y2="352.1" stroke="#000" stroke-width="1.2" stroke-linecap="butt"/>
<text x="135" y="355.05" font-size="8.2" text-anchor="end" fill="#000" textLength="4.9" lengthAdjust="spacingAndGlyphs" stroke="#000" stroke-width="0.15">2</text>
<line x1="141.9" y1="329.95" x2="147.4" y2="329.95" stroke="#000" stroke-width="1.2" stroke-linecap="butt"/>
<text x="135" y="332.9" font-size="8.2" text-anchor="end" fill="#000" textLength="4.9" lengthAdjust="spacingAndGlyphs" stroke="#000" stroke-width="0.15">3</text>
<line x1="141.9" y1="307.8" x2="147.4" y2="307.8" stroke="#000" stroke-width="1.2" stroke-linecap="butt"/>
<text x="135" y="310.75" font-size="8.2" text-anchor="end" fill="#000" textLength="4.9" lengthAdjust="spacingAndGlyphs" stroke="#000" stroke-width="0.15">4</text>
<line x1="164.3" y1="397.9" x2="164.3" y2="403.9" stroke="#000" stroke-width="1.2" stroke-linecap="butt"/>
<text x="164.3" y="416.9" font-size="8.2" text-anchor="middle" fill="#000" textLength="4.9" lengthAdjust="spacingAndGlyphs" stroke="#000" stroke-width="0.15">1</text>
<line x1="198.77" y1="397.9" x2="198.77" y2="403.9" stroke="#000" stroke-width="1.2" stroke-linecap="butt"/>
<text x="198.77" y="416.9" font-size="8.2" text-anchor="middle" fill="#000" textLength="4.9" lengthAdjust="spacingAndGlyphs" stroke="#000" stroke-width="0.15">2</text>
<line x1="233.24" y1="397.9" x2="233.24" y2="403.9" stroke="#000" stroke-width="1.2" stroke-linecap="butt"/>
<text x="233.24" y="416.9" font-size="8.2" text-anchor="middle" fill="#000" textLength="4.9" lengthAdjust="spacingAndGlyphs" stroke="#000" stroke-width="0.15">3</text>
<line x1="267.71" y1="397.9" x2="267.71" y2="403.9" stroke="#000" stroke-width="1.2" stroke-linecap="butt"/>
<text x="267.71" y="416.9" font-size="8.2" text-anchor="middle" fill="#000" textLength="4.9" lengthAdjust="spacingAndGlyphs" stroke="#000" stroke-width="0.15">4</text>
<line x1="302.18" y1="397.9" x2="302.18" y2="403.9" stroke="#000" stroke-width="1.2" stroke-linecap="butt"/>
<text x="302.18" y="416.9" font-size="8.2" text-anchor="middle" fill="#000" textLength="4.9" lengthAdjust="spacingAndGlyphs" stroke="#000" stroke-width="0.15">5</text>
<text x="122.8" y="352.9" font-size="8.2" text-anchor="middle" fill="#000" textLength="107.01" lengthAdjust="spacingAndGlyphs" transform="rotate(-90 122.8 352.9)" stroke="#000" stroke-width="0.15">Predicted TCC (KW<tspan dy="-2.95" font-size="5.41">−1</tspan><tspan dy="2.95">cm</tspan><tspan dy="-2.95" font-size="5.41">−2</tspan><tspan dy="2.95">)</tspan></text>
<text x="231.6" y="431.2" font-size="8.25" text-anchor="middle" fill="#000" textLength="95.79" lengthAdjust="spacingAndGlyphs" stroke="#000" stroke-width="0.15">Contact Pressure (MPa)</text>
<rect x="213.8" y="263.3" width="111.3" height="39" fill="#fff" stroke="#d3d3d3" stroke-width="1" fill-opacity="0.85" rx="2.5"/>
<circle cx="225.6" cy="270.4" r="4.8" fill="#f4a582" fill-opacity="0.22"/>
<line x1="217.3" y1="282.4" x2="232.6" y2="282.4" stroke="#174a8b" stroke-width="1.7" stroke-linecap="butt" stroke-dasharray="6.2,2.9"/>
<line x1="225.6" y1="290.3" x2="225.6" y2="298.8" stroke="#6aaed6" stroke-width="1.5" stroke-linecap="butt"/>
<line x1="222" y1="290.3" x2="229.2" y2="290.3" stroke="#6aaed6" stroke-width="1.5" stroke-linecap="butt"/>
<line x1="222" y1="298.8" x2="229.2" y2="298.8" stroke="#6aaed6" stroke-width="1.5" stroke-linecap="butt"/>
<circle cx="225.6" cy="294.4" r="2.6" fill="#6aaed6"/>
<text x="240.8" y="273.1" font-size="8.25" text-anchor="start" fill="#000" textLength="64.01" lengthAdjust="spacingAndGlyphs" stroke="#000" stroke-width="0.15">Predicted Value</text>
<text x="240.8" y="285.2" font-size="8.25" text-anchor="start" fill="#000" textLength="64.94" lengthAdjust="spacingAndGlyphs" stroke="#000" stroke-width="0.15">Regression Line</text>
<text x="240.8" y="297.4" font-size="8.25" text-anchor="start" fill="#000" textLength="80.29" lengthAdjust="spacingAndGlyphs" stroke="#000" stroke-width="0.15">Experimental Value</text>
<rect x="48.8" y="258.9" width="280.7" height="202.4" fill="none" stroke="#000" stroke-width="1.3"/>
<line x1="43.3" y1="455" x2="48.8" y2="455" stroke="#000" stroke-width="1.2" stroke-linecap="butt"/>
<text x="36.4" y="457.95" font-size="8.2" text-anchor="end" fill="#000" textLength="4.9" lengthAdjust="spacingAndGlyphs" stroke="#000" stroke-width="0.15">0</text>
<line x1="43.3" y1="414.06" x2="48.8" y2="414.06" stroke="#000" stroke-width="1.2" stroke-linecap="butt"/>
<text x="36.4" y="417.01" font-size="8.2" text-anchor="end" fill="#000" textLength="14.7" lengthAdjust="spacingAndGlyphs" stroke="#000" stroke-width="0.15">200</text>
<line x1="43.3" y1="373.12" x2="48.8" y2="373.12" stroke="#000" stroke-width="1.2" stroke-linecap="butt"/>
<text x="36.4" y="376.07" font-size="8.2" text-anchor="end" fill="#000" textLength="14.7" lengthAdjust="spacingAndGlyphs" stroke="#000" stroke-width="0.15">400</text>
<line x1="43.3" y1="332.18" x2="48.8" y2="332.18" stroke="#000" stroke-width="1.2" stroke-linecap="butt"/>
<text x="36.4" y="335.13" font-size="8.2" text-anchor="end" fill="#000" textLength="14.7" lengthAdjust="spacingAndGlyphs" stroke="#000" stroke-width="0.15">600</text>
<line x1="43.3" y1="291.24" x2="48.8" y2="291.24" stroke="#000" stroke-width="1.2" stroke-linecap="butt"/>
<text x="36.4" y="294.19" font-size="8.2" text-anchor="end" fill="#000" textLength="14.7" lengthAdjust="spacingAndGlyphs" stroke="#000" stroke-width="0.15">800</text>
<line x1="72" y1="461.3" x2="72" y2="467.3" stroke="#000" stroke-width="1.2" stroke-linecap="butt"/>
<text x="72" y="479.5" font-size="8.2" text-anchor="middle" fill="#000" textLength="4.9" lengthAdjust="spacingAndGlyphs" stroke="#000" stroke-width="0.15">1</text>
<line x1="97.95" y1="461.3" x2="97.95" y2="467.3" stroke="#000" stroke-width="1.2" stroke-linecap="butt"/>
<text x="97.95" y="479.5" font-size="8.2" text-anchor="middle" fill="#000" textLength="4.9" lengthAdjust="spacingAndGlyphs" stroke="#000" stroke-width="0.15">2</text>
<line x1="123.9" y1="461.3" x2="123.9" y2="467.3" stroke="#000" stroke-width="1.2" stroke-linecap="butt"/>
<text x="123.9" y="479.5" font-size="8.2" text-anchor="middle" fill="#000" textLength="4.9" lengthAdjust="spacingAndGlyphs" stroke="#000" stroke-width="0.15">3</text>
<line x1="149.85" y1="461.3" x2="149.85" y2="467.3" stroke="#000" stroke-width="1.2" stroke-linecap="butt"/>
<text x="149.85" y="479.5" font-size="8.2" text-anchor="middle" fill="#000" textLength="4.9" lengthAdjust="spacingAndGlyphs" stroke="#000" stroke-width="0.15">4</text>
<line x1="175.8" y1="461.3" x2="175.8" y2="467.3" stroke="#000" stroke-width="1.2" stroke-linecap="butt"/>
<text x="175.8" y="479.5" font-size="8.2" text-anchor="middle" fill="#000" textLength="4.9" lengthAdjust="spacingAndGlyphs" stroke="#000" stroke-width="0.15">5</text>
<line x1="201.75" y1="461.3" x2="201.75" y2="467.3" stroke="#000" stroke-width="1.2" stroke-linecap="butt"/>
<text x="201.75" y="479.5" font-size="8.2" text-anchor="middle" fill="#000" textLength="4.9" lengthAdjust="spacingAndGlyphs" stroke="#000" stroke-width="0.15">6</text>
<line x1="227.7" y1="461.3" x2="227.7" y2="467.3" stroke="#000" stroke-width="1.2" stroke-linecap="butt"/>
<text x="227.7" y="479.5" font-size="8.2" text-anchor="middle" fill="#000" textLength="4.9" lengthAdjust="spacingAndGlyphs" stroke="#000" stroke-width="0.15">7</text>
<line x1="253.65" y1="461.3" x2="253.65" y2="467.3" stroke="#000" stroke-width="1.2" stroke-linecap="butt"/>
<text x="253.65" y="479.5" font-size="8.2" text-anchor="middle" fill="#000" textLength="4.9" lengthAdjust="spacingAndGlyphs" stroke="#000" stroke-width="0.15">8</text>
<line x1="279.6" y1="461.3" x2="279.6" y2="467.3" stroke="#000" stroke-width="1.2" stroke-linecap="butt"/>
<text x="279.6" y="479.5" font-size="8.2" text-anchor="middle" fill="#000" textLength="4.9" lengthAdjust="spacingAndGlyphs" stroke="#000" stroke-width="0.15">9</text>
<line x1="305.55" y1="461.3" x2="305.55" y2="467.3" stroke="#000" stroke-width="1.2" stroke-linecap="butt"/>
<text x="305.55" y="479.5" font-size="8.2" text-anchor="middle" fill="#000" textLength="9.8" lengthAdjust="spacingAndGlyphs" stroke="#000" stroke-width="0.15">10</text>
<text x="12.3" y="360.1" font-size="10" text-anchor="middle" fill="#000" textLength="129.78" lengthAdjust="spacingAndGlyphs" transform="rotate(-90 12.3 360.1)" stroke="#000" stroke-width="0.15">Predicted TCR (mm<tspan dy="-3.6" font-size="6.6">2</tspan><tspan dy="3.6">WK</tspan><tspan dy="-3.6" font-size="6.6">−1</tspan><tspan dy="3.6">)</tspan></text>
<text x="189.2" y="495.6" font-size="10" text-anchor="middle" fill="#000" textLength="116.11" lengthAdjust="spacingAndGlyphs" stroke="#000" stroke-width="0.15">Contact Pressure (MPa)</text>
<rect x="396.5" y="259.3" width="281.3" height="202" fill="#fff"/>
<circle cx="422.46" cy="326.61" r="5.5" fill="#f4a582" fill-opacity="0.100"/>
<circle cx="420.38" cy="324.7" r="5.5" fill="#f4a582" fill-opacity="0.100"/>
<circle cx="419.83" cy="325.56" r="5.5" fill="#f4a582" fill-opacity="0.100"/>
<circle cx="421.95" cy="301.7" r="5.5" fill="#f4a582" fill-opacity="0.100"/>
<circle cx="421.53" cy="301.7" r="5.5" fill="#f4a582" fill-opacity="0.100"/>
<circle cx="419.62" cy="317.38" r="5.5" fill="#f4a582" fill-opacity="0.100"/>
<circle cx="422.77" cy="315.17" r="5.5" fill="#f4a582" fill-opacity="0.100"/>
<circle cx="421.07" cy="321.57" r="5.5" fill="#f4a582" fill-opacity="0.100"/>
<circle cx="420.56" cy="323.16" r="5.5" fill="#f4a582" fill-opacity="0.100"/>
<circle cx="419.08" cy="324.9" r="5.5" fill="#f4a582" fill-opacity="0.100"/>
<circle cx="444.56" cy="383.41" r="5.5" fill="#f4a582" fill-opacity="0.100"/>
<circle cx="444.61" cy="380.93" r="5.5" fill="#f4a582" fill-opacity="0.100"/>
<circle cx="446.61" cy="386.32" r="5.5" fill="#f4a582" fill-opacity="0.100"/>
<circle cx="443.89" cy="386.11" r="5.5" fill="#f4a582" fill-opacity="0.100"/>
<circle cx="444.99" cy="385.26" r="5.5" fill="#f4a582" fill-opacity="0.100"/>
<circle cx="447.93" cy="377.07" r="5.5" fill="#f4a582" fill-opacity="0.100"/>
<circle cx="446.2" cy="382.95" r="5.5" fill="#f4a582" fill-opacity="0.100"/>
<circle cx="447.64" cy="384.65" r="5.5" fill="#f4a582" fill-opacity="0.100"/>
<circle cx="447.98" cy="386.99" r="5.5" fill="#f4a582" fill-opacity="0.100"/>
<circle cx="448.43" cy="385.82" r="5.5" fill="#f4a582" fill-opacity="0.100"/>
<circle cx="470.17" cy="400.7" r="5.5" fill="#f4a582" fill-opacity="0.100"/>
<circle cx="470.26" cy="409.89" r="5.5" fill="#f4a582" fill-opacity="0.100"/>
<circle cx="471.36" cy="402.59" r="5.5" fill="#f4a582" fill-opacity="0.100"/>
<circle cx="471.04" cy="414.79" r="5.5" fill="#f4a582" fill-opacity="0.100"/>
<circle cx="471.44" cy="409.67" r="5.5" fill="#f4a582" fill-opacity="0.100"/>
<circle cx="471.96" cy="416.8" r="5.5" fill="#f4a582" fill-opacity="0.100"/>
<circle cx="470.43" cy="407.57" r="5.5" fill="#f4a582" fill-opacity="0.100"/>
<circle cx="470.6" cy="416.8" r="5.5" fill="#f4a582" fill-opacity="0.100"/>
<circle cx="472.35" cy="400.7" r="5.5" fill="#f4a582" fill-opacity="0.100"/>
<circle cx="473.53" cy="408.03" r="5.5" fill="#f4a582" fill-opacity="0.100"/>
<circle cx="496.67" cy="414.68" r="5.5" fill="#f4a582" fill-opacity="0.100"/>
<circle cx="499.14" cy="414.11" r="5.5" fill="#f4a582" fill-opacity="0.100"/>
<circle cx="495.85" cy="425.7" r="5.5" fill="#f4a582" fill-opacity="0.100"/>
<circle cx="496.82" cy="421.57" r="5.5" fill="#f4a582" fill-opacity="0.100"/>
<circle cx="500.8" cy="423.94" r="5.5" fill="#f4a582" fill-opacity="0.100"/>
<circle cx="499.18" cy="420.48" r="5.5" fill="#f4a582" fill-opacity="0.100"/>
<circle cx="499.27" cy="421.59" r="5.5" fill="#f4a582" fill-opacity="0.100"/>
<circle cx="496.18" cy="419.58" r="5.5" fill="#f4a582" fill-opacity="0.100"/>
<circle cx="500.43" cy="426.42" r="5.5" fill="#f4a582" fill-opacity="0.100"/>
<circle cx="498.27" cy="422.42" r="5.5" fill="#f4a582" fill-opacity="0.100"/>
<circle cx="524.32" cy="429.02" r="5.5" fill="#f4a582" fill-opacity="0.100"/>
<circle cx="526.51" cy="432.23" r="5.5" fill="#f4a582" fill-opacity="0.100"/>
<circle cx="522.55" cy="432.5" r="5.5" fill="#f4a582" fill-opacity="0.100"/>
<circle cx="525.27" cy="424.95" r="5.5" fill="#f4a582" fill-opacity="0.100"/>
<circle cx="526.72" cy="421.09" r="5.5" fill="#f4a582" fill-opacity="0.100"/>
<circle cx="525.84" cy="429.36" r="5.5" fill="#f4a582" fill-opacity="0.100"/>
<circle cx="522.11" cy="426.42" r="5.5" fill="#f4a582" fill-opacity="0.100"/>
<circle cx="523.58" cy="422.09" r="5.5" fill="#f4a582" fill-opacity="0.100"/>
<circle cx="525.4" cy="419.63" r="5.5" fill="#f4a582" fill-opacity="0.100"/>
<circle cx="524.03" cy="431.34" r="5.5" fill="#f4a582" fill-opacity="0.100"/>
<circle cx="551.48" cy="430.19" r="5.5" fill="#f4a582" fill-opacity="0.100"/>
<circle cx="548.63" cy="436.9" r="5.5" fill="#f4a582" fill-opacity="0.100"/>
<circle cx="548.43" cy="436.9" r="5.5" fill="#f4a582" fill-opacity="0.100"/>
<circle cx="547.87" cy="433.9" r="5.5" fill="#f4a582" fill-opacity="0.100"/>
<circle cx="552.22" cy="431.86" r="5.5" fill="#f4a582" fill-opacity="0.100"/>
<circle cx="552.39" cy="426.18" r="5.5" fill="#f4a582" fill-opacity="0.100"/>
<circle cx="550.79" cy="436.9" r="5.5" fill="#f4a582" fill-opacity="0.100"/>
<circle cx="552.59" cy="436.9" r="5.5" fill="#f4a582" fill-opacity="0.100"/>
<circle cx="550.44" cy="424.1" r="5.5" fill="#f4a582" fill-opacity="0.100"/>
<circle cx="549.72" cy="431.76" r="5.5" fill="#f4a582" fill-opacity="0.100"/>
<circle cx="574.97" cy="437.11" r="5.5" fill="#f4a582" fill-opacity="0.100"/>
<circle cx="576.38" cy="436.62" r="5.5" fill="#f4a582" fill-opacity="0.100"/>
<circle cx="574.79" cy="437.55" r="5.5" fill="#f4a582" fill-opacity="0.100"/>
<circle cx="577.71" cy="435.3" r="5.5" fill="#f4a582" fill-opacity="0.100"/>
<circle cx="576.45" cy="432.3" r="5.5" fill="#f4a582" fill-opacity="0.100"/>
<circle cx="576.41" cy="439.07" r="5.5" fill="#f4a582" fill-opacity="0.100"/>
<circle cx="575.87" cy="435.38" r="5.5" fill="#f4a582" fill-opacity="0.100"/>
<circle cx="576.27" cy="432.54" r="5.5" fill="#f4a582" fill-opacity="0.100"/>
<circle cx="576.12" cy="428.8" r="5.5" fill="#f4a582" fill-opacity="0.100"/>
<circle cx="575.66" cy="435.48" r="5.5" fill="#f4a582" fill-opacity="0.100"/>
<circle cx="600.91" cy="435.21" r="5.5" fill="#f4a582" fill-opacity="0.100"/>
<circle cx="603.14" cy="441.62" r="5.5" fill="#f4a582" fill-opacity="0.100"/>
<circle cx="603.34" cy="434.7" r="5.5" fill="#f4a582" fill-opacity="0.100"/>
<circle cx="601.67" cy="436.99" r="5.5" fill="#f4a582" fill-opacity="0.100"/>
<circle cx="602.49" cy="442.76" r="5.5" fill="#f4a582" fill-opacity="0.100"/>
<circle cx="603.89" cy="436.43" r="5.5" fill="#f4a582" fill-opacity="0.100"/>
<circle cx="600.41" cy="438.76" r="5.5" fill="#f4a582" fill-opacity="0.100"/>
<circle cx="602.31" cy="444.1" r="5.5" fill="#f4a582" fill-opacity="0.100"/>
<circle cx="602.31" cy="438.33" r="5.5" fill="#f4a582" fill-opacity="0.100"/>
<circle cx="604.11" cy="436.06" r="5.5" fill="#f4a582" fill-opacity="0.100"/>
<circle cx="627.99" cy="446.4" r="5.5" fill="#f4a582" fill-opacity="0.100"/>
<circle cx="626.8" cy="445.44" r="5.5" fill="#f4a582" fill-opacity="0.100"/>
<circle cx="630.49" cy="441.14" r="5.5" fill="#f4a582" fill-opacity="0.100"/>
<circle cx="630.14" cy="446.36" r="5.5" fill="#f4a582" fill-opacity="0.100"/>
<circle cx="626.84" cy="446.4" r="5.5" fill="#f4a582" fill-opacity="0.100"/>
<circle cx="626.48" cy="446.4" r="5.5" fill="#f4a582" fill-opacity="0.100"/>
<circle cx="627.87" cy="446.4" r="5.5" fill="#f4a582" fill-opacity="0.100"/>
<circle cx="625.98" cy="436" r="5.5" fill="#f4a582" fill-opacity="0.100"/>
<circle cx="625.94" cy="441.75" r="5.5" fill="#f4a582" fill-opacity="0.100"/>
<circle cx="627.54" cy="444.12" r="5.5" fill="#f4a582" fill-opacity="0.100"/>
<circle cx="652.83" cy="439.91" r="5.5" fill="#f4a582" fill-opacity="0.100"/>
<circle cx="654.94" cy="445.44" r="5.5" fill="#f4a582" fill-opacity="0.100"/>
<circle cx="656.17" cy="442.74" r="5.5" fill="#f4a582" fill-opacity="0.100"/>
<circle cx="654.82" cy="447.93" r="5.5" fill="#f4a582" fill-opacity="0.100"/>
<circle cx="652.07" cy="438.6" r="5.5" fill="#f4a582" fill-opacity="0.100"/>
<circle cx="654.9" cy="445.27" r="5.5" fill="#f4a582" fill-opacity="0.100"/>
<circle cx="652.95" cy="442.3" r="5.5" fill="#f4a582" fill-opacity="0.100"/>
<circle cx="653.71" cy="443.97" r="5.5" fill="#f4a582" fill-opacity="0.100"/>
<circle cx="656.82" cy="447.61" r="5.5" fill="#f4a582" fill-opacity="0.100"/>
<circle cx="653.11" cy="446.48" r="5.5" fill="#f4a582" fill-opacity="0.100"/>
<line x1="420.3" y1="300.2" x2="420.3" y2="315.9" stroke="#c21d2b" stroke-width="2" stroke-linecap="butt"/>
<line x1="420.3" y1="325.9" x2="420.3" y2="332.9" stroke="#c21d2b" stroke-width="2" stroke-linecap="butt"/>
<line x1="414" y1="300.2" x2="426.6" y2="300.2" stroke="#c21d2b" stroke-width="2" stroke-linecap="butt"/>
<line x1="414" y1="332.9" x2="426.6" y2="332.9" stroke="#c21d2b" stroke-width="2" stroke-linecap="butt"/>
<rect x="409.8" y="315.9" width="21" height="10" fill="#fff" stroke="#c21d2b" stroke-width="2" fill-opacity="0.7"/>
<line x1="409.8" y1="320.5" x2="430.8" y2="320.5" stroke="#c21d2b" stroke-width="2" stroke-linecap="butt"/>
<line x1="446.31" y1="375.4" x2="446.31" y2="382.3" stroke="#c21d2b" stroke-width="2" stroke-linecap="butt"/>
<line x1="446.31" y1="389.3" x2="446.31" y2="393.5" stroke="#c21d2b" stroke-width="2" stroke-linecap="butt"/>
<line x1="440.01" y1="375.4" x2="452.61" y2="375.4" stroke="#c21d2b" stroke-width="2" stroke-linecap="butt"/>
<line x1="440.01" y1="393.5" x2="452.61" y2="393.5" stroke="#c21d2b" stroke-width="2" stroke-linecap="butt"/>
<rect x="435.81" y="382.3" width="21" height="7" fill="#fff" stroke="#c21d2b" stroke-width="2" fill-opacity="0.7"/>
<line x1="435.81" y1="384.8" x2="456.81" y2="384.8" stroke="#c21d2b" stroke-width="2" stroke-linecap="butt"/>
<line x1="472.32" y1="399.2" x2="472.32" y2="407.2" stroke="#c21d2b" stroke-width="2" stroke-linecap="butt"/>
<line x1="472.32" y1="415.3" x2="472.32" y2="418.3" stroke="#c21d2b" stroke-width="2" stroke-linecap="butt"/>
<line x1="466.02" y1="399.2" x2="478.62" y2="399.2" stroke="#c21d2b" stroke-width="2" stroke-linecap="butt"/>
<line x1="466.02" y1="418.3" x2="478.62" y2="418.3" stroke="#c21d2b" stroke-width="2" stroke-linecap="butt"/>
<rect x="461.82" y="407.2" width="21" height="8.1" fill="#fff" stroke="#c21d2b" stroke-width="2" fill-opacity="0.7"/>
<line x1="461.82" y1="410.9" x2="482.82" y2="410.9" stroke="#c21d2b" stroke-width="2" stroke-linecap="butt"/>
<line x1="498.33" y1="410.9" x2="498.33" y2="418.3" stroke="#c21d2b" stroke-width="2" stroke-linecap="butt"/>
<line x1="498.33" y1="426.5" x2="498.33" y2="428.3" stroke="#c21d2b" stroke-width="2" stroke-linecap="butt"/>
<line x1="492.03" y1="410.9" x2="504.63" y2="410.9" stroke="#c21d2b" stroke-width="2" stroke-linecap="butt"/>
<line x1="492.03" y1="428.3" x2="504.63" y2="428.3" stroke="#c21d2b" stroke-width="2" stroke-linecap="butt"/>
<rect x="487.83" y="418.3" width="21" height="8.2" fill="#fff" stroke="#c21d2b" stroke-width="2" fill-opacity="0.7"/>
<line x1="487.83" y1="422.4" x2="508.83" y2="422.4" stroke="#c21d2b" stroke-width="2" stroke-linecap="butt"/>
<line x1="524.34" y1="417.1" x2="524.34" y2="424" stroke="#c21d2b" stroke-width="2" stroke-linecap="butt"/>
<line x1="524.34" y1="431.5" x2="524.34" y2="434" stroke="#c21d2b" stroke-width="2" stroke-linecap="butt"/>
<line x1="518.04" y1="417.1" x2="530.64" y2="417.1" stroke="#c21d2b" stroke-width="2" stroke-linecap="butt"/>
<line x1="518.04" y1="434" x2="530.64" y2="434" stroke="#c21d2b" stroke-width="2" stroke-linecap="butt"/>
<rect x="513.84" y="424" width="21" height="7.5" fill="#fff" stroke="#c21d2b" stroke-width="2" fill-opacity="0.7"/>
<line x1="513.84" y1="427" x2="534.84" y2="427" stroke="#c21d2b" stroke-width="2" stroke-linecap="butt"/>
<line x1="550.35" y1="422.6" x2="550.35" y2="429.6" stroke="#c21d2b" stroke-width="2" stroke-linecap="butt"/>
<line x1="550.35" y1="436" x2="550.35" y2="438.4" stroke="#c21d2b" stroke-width="2" stroke-linecap="butt"/>
<line x1="544.05" y1="422.6" x2="556.65" y2="422.6" stroke="#c21d2b" stroke-width="2" stroke-linecap="butt"/>
<line x1="544.05" y1="438.4" x2="556.65" y2="438.4" stroke="#c21d2b" stroke-width="2" stroke-linecap="butt"/>
<rect x="539.85" y="429.6" width="21" height="6.4" fill="#fff" stroke="#c21d2b" stroke-width="2" fill-opacity="0.7"/>
<line x1="539.85" y1="432.5" x2="560.85" y2="432.5" stroke="#c21d2b" stroke-width="2" stroke-linecap="butt"/>
<line x1="576.36" y1="427.3" x2="576.36" y2="433.7" stroke="#c21d2b" stroke-width="2" stroke-linecap="butt"/>
<line x1="576.36" y1="439.5" x2="576.36" y2="442.1" stroke="#c21d2b" stroke-width="2" stroke-linecap="butt"/>
<line x1="570.06" y1="427.3" x2="582.66" y2="427.3" stroke="#c21d2b" stroke-width="2" stroke-linecap="butt"/>
<line x1="570.06" y1="442.1" x2="582.66" y2="442.1" stroke="#c21d2b" stroke-width="2" stroke-linecap="butt"/>
<rect x="565.86" y="433.7" width="21" height="5.8" fill="#fff" stroke="#c21d2b" stroke-width="2" fill-opacity="0.7"/>
<line x1="565.86" y1="436.3" x2="586.86" y2="436.3" stroke="#c21d2b" stroke-width="2" stroke-linecap="butt"/>
<line x1="602.37" y1="431.4" x2="602.37" y2="436.6" stroke="#c21d2b" stroke-width="2" stroke-linecap="butt"/>
<line x1="602.37" y1="443" x2="602.37" y2="445.6" stroke="#c21d2b" stroke-width="2" stroke-linecap="butt"/>
<line x1="596.07" y1="431.4" x2="608.67" y2="431.4" stroke="#c21d2b" stroke-width="2" stroke-linecap="butt"/>
<line x1="596.07" y1="445.6" x2="608.67" y2="445.6" stroke="#c21d2b" stroke-width="2" stroke-linecap="butt"/>
<rect x="591.87" y="436.6" width="21" height="6.4" fill="#fff" stroke="#c21d2b" stroke-width="2" fill-opacity="0.7"/>
<line x1="591.87" y1="439.5" x2="612.87" y2="439.5" stroke="#c21d2b" stroke-width="2" stroke-linecap="butt"/>
<line x1="628.38" y1="434.5" x2="628.38" y2="439.4" stroke="#c21d2b" stroke-width="2" stroke-linecap="butt"/>
<line x1="628.38" y1="445.6" x2="628.38" y2="447.9" stroke="#c21d2b" stroke-width="2" stroke-linecap="butt"/>
<line x1="622.08" y1="434.5" x2="634.68" y2="434.5" stroke="#c21d2b" stroke-width="2" stroke-linecap="butt"/>
<line x1="622.08" y1="447.9" x2="634.68" y2="447.9" stroke="#c21d2b" stroke-width="2" stroke-linecap="butt"/>
<rect x="617.88" y="439.4" width="21" height="6.2" fill="#fff" stroke="#c21d2b" stroke-width="2" fill-opacity="0.7"/>
<line x1="617.88" y1="442" x2="638.88" y2="442" stroke="#c21d2b" stroke-width="2" stroke-linecap="butt"/>
<line x1="654.39" y1="437.1" x2="654.39" y2="441.6" stroke="#c21d2b" stroke-width="2" stroke-linecap="butt"/>
<line x1="654.39" y1="447.3" x2="654.39" y2="450" stroke="#c21d2b" stroke-width="2" stroke-linecap="butt"/>
<line x1="648.09" y1="437.1" x2="660.69" y2="437.1" stroke="#c21d2b" stroke-width="2" stroke-linecap="butt"/>
<line x1="648.09" y1="450" x2="660.69" y2="450" stroke="#c21d2b" stroke-width="2" stroke-linecap="butt"/>
<rect x="643.89" y="441.6" width="21" height="5.7" fill="#fff" stroke="#c21d2b" stroke-width="2" fill-opacity="0.7"/>
<line x1="643.89" y1="443.8" x2="664.89" y2="443.8" stroke="#c21d2b" stroke-width="2" stroke-linecap="butt"/>
<circle cx="419.32" cy="318.54" r="4.5" fill="#f4a582" fill-opacity="0.16"/>
<circle cx="422.67" cy="317.01" r="4.5" fill="#f4a582" fill-opacity="0.16"/>
<circle cx="418.45" cy="319.17" r="4.5" fill="#f4a582" fill-opacity="0.16"/>
<circle cx="420.13" cy="319.07" r="4.5" fill="#f4a582" fill-opacity="0.16"/>
<circle cx="416.74" cy="319.66" r="4.5" fill="#f4a582" fill-opacity="0.16"/>
<circle cx="444.13" cy="383.97" r="4.5" fill="#f4a582" fill-opacity="0.16"/>
<circle cx="448.53" cy="384.39" r="4.5" fill="#f4a582" fill-opacity="0.16"/>
<circle cx="446.7" cy="384.77" r="4.5" fill="#f4a582" fill-opacity="0.16"/>
<circle cx="448.71" cy="383.98" r="4.5" fill="#f4a582" fill-opacity="0.16"/>
<circle cx="444.39" cy="383.48" r="4.5" fill="#f4a582" fill-opacity="0.16"/>
<circle cx="471.84" cy="409.97" r="4.5" fill="#f4a582" fill-opacity="0.16"/>
<circle cx="469.05" cy="410.53" r="4.5" fill="#f4a582" fill-opacity="0.16"/>
<circle cx="470.02" cy="409.29" r="4.5" fill="#f4a582" fill-opacity="0.16"/>
<circle cx="469.07" cy="408.21" r="4.5" fill="#f4a582" fill-opacity="0.16"/>
<circle cx="471.27" cy="408.41" r="4.5" fill="#f4a582" fill-opacity="0.16"/>
<circle cx="498.39" cy="420.4" r="4.5" fill="#f4a582" fill-opacity="0.16"/>
<circle cx="499.95" cy="420.04" r="4.5" fill="#f4a582" fill-opacity="0.16"/>
<circle cx="502.18" cy="420.62" r="4.5" fill="#f4a582" fill-opacity="0.16"/>
<circle cx="498.41" cy="419.73" r="4.5" fill="#f4a582" fill-opacity="0.16"/>
<circle cx="497.3" cy="420.56" r="4.5" fill="#f4a582" fill-opacity="0.16"/>
<circle cx="522.02" cy="426.72" r="4.5" fill="#f4a582" fill-opacity="0.16"/>
<circle cx="523.2" cy="426.76" r="4.5" fill="#f4a582" fill-opacity="0.16"/>
<circle cx="525.26" cy="425.67" r="4.5" fill="#f4a582" fill-opacity="0.16"/>
<circle cx="522.61" cy="426.13" r="4.5" fill="#f4a582" fill-opacity="0.16"/>
<circle cx="527.98" cy="425.17" r="4.5" fill="#f4a582" fill-opacity="0.16"/>
<circle cx="547.27" cy="431.32" r="4.5" fill="#f4a582" fill-opacity="0.16"/>
<circle cx="550.61" cy="431.88" r="4.5" fill="#f4a582" fill-opacity="0.16"/>
<circle cx="548.98" cy="431.24" r="4.5" fill="#f4a582" fill-opacity="0.16"/>
<circle cx="549.06" cy="432.25" r="4.5" fill="#f4a582" fill-opacity="0.16"/>
<circle cx="554.01" cy="431.41" r="4.5" fill="#f4a582" fill-opacity="0.16"/>
<circle cx="575.58" cy="435.35" r="4.5" fill="#f4a582" fill-opacity="0.16"/>
<circle cx="577.66" cy="434.99" r="4.5" fill="#f4a582" fill-opacity="0.16"/>
<circle cx="575.93" cy="435.9" r="4.5" fill="#f4a582" fill-opacity="0.16"/>
<circle cx="574.22" cy="435.43" r="4.5" fill="#f4a582" fill-opacity="0.16"/>
<circle cx="576.02" cy="436.12" r="4.5" fill="#f4a582" fill-opacity="0.16"/>
<circle cx="601.37" cy="439.22" r="4.5" fill="#f4a582" fill-opacity="0.16"/>
<circle cx="598.6" cy="439.03" r="4.5" fill="#f4a582" fill-opacity="0.16"/>
<circle cx="606.05" cy="438.03" r="4.5" fill="#f4a582" fill-opacity="0.16"/>
<circle cx="603.78" cy="438.93" r="4.5" fill="#f4a582" fill-opacity="0.16"/>
<circle cx="602.15" cy="438.57" r="4.5" fill="#f4a582" fill-opacity="0.16"/>
<circle cx="625.76" cy="440.76" r="4.5" fill="#f4a582" fill-opacity="0.16"/>
<circle cx="629.93" cy="441.56" r="4.5" fill="#f4a582" fill-opacity="0.16"/>
<circle cx="629.54" cy="440.87" r="4.5" fill="#f4a582" fill-opacity="0.16"/>
<circle cx="629.28" cy="440.65" r="4.5" fill="#f4a582" fill-opacity="0.16"/>
<circle cx="628.46" cy="440.71" r="4.5" fill="#f4a582" fill-opacity="0.16"/>
<circle cx="654.8" cy="443.1" r="4.5" fill="#f4a582" fill-opacity="0.16"/>
<circle cx="654.26" cy="442.81" r="4.5" fill="#f4a582" fill-opacity="0.16"/>
<circle cx="651.47" cy="443.59" r="4.5" fill="#f4a582" fill-opacity="0.16"/>
<circle cx="655.82" cy="443.09" r="4.5" fill="#f4a582" fill-opacity="0.16"/>
<circle cx="655.32" cy="443.47" r="4.5" fill="#f4a582" fill-opacity="0.16"/>
<polyline points="420.5,322.3 421.05,323.88 421.79,326.02 422.67,328.58 423.64,331.4 424.66,334.32 425.65,337.2 426.59,339.88 427.4,342.2 428.11,344.21 428.76,346.07 429.38,347.81 429.97,349.47 430.54,351.06 431.11,352.63 431.7,354.2 432.3,355.8 432.92,357.42 433.54,359.04 434.17,360.64 434.79,362.23 435.42,363.78 436.05,365.3 436.67,366.77 437.3,368.2 437.92,369.56 438.52,370.84 439.12,372.08 439.72,373.28 440.34,374.47 440.97,375.68 441.62,376.91 442.3,378.2 443.02,379.56 443.77,380.98 444.54,382.44 445.33,383.91 446.12,385.35 446.92,386.75 447.72,388.08 448.5,389.3 449.21,390.38 449.83,391.34 450.42,392.21 451.02,393.04 451.7,393.87 452.5,394.75 453.48,395.71 454.7,396.8 456.13,398.02 457.7,399.33 459.42,400.71 461.28,402.14 463.28,403.61 465.42,405.09 467.7,406.56 470.1,408 472.69,409.46 475.48,410.98 478.43,412.51 481.51,414.05 484.66,415.55 487.86,417 491.05,418.36 494.2,419.6 497.37,420.73 500.64,421.78 503.97,422.76 507.3,423.68 510.6,424.53 513.83,425.33 516.94,426.08 519.9,426.8 522.48,427.43 524.62,427.95 526.54,428.4 528.44,428.81 530.53,429.22 533.02,429.66 536.1,430.18 540,430.8 544.96,431.56 550.91,432.44 557.52,433.39 564.5,434.37 571.53,435.34 578.29,436.27 584.49,437.1 589.8,437.8 594.23,438.36 598.06,438.81 601.44,439.18 604.51,439.49 607.39,439.78 610.22,440.06 613.15,440.36 616.3,440.7 619.71,441.09 623.27,441.51 626.89,441.93 630.48,442.36 633.95,442.77 637.22,443.15 640.2,443.5 642.8,443.8 645.04,444.05 647.02,444.26 648.75,444.44 650.26,444.59 651.55,444.72 652.66,444.83 653.61,444.92 654.4,445" fill="none" stroke="#174a8b" stroke-width="1.6" stroke-linecap="butt" stroke-linejoin="round" stroke-dasharray="5.6,2.6"/>
<line x1="420.3" y1="305.6" x2="420.3" y2="325.2" stroke="#6aaed6" stroke-width="1.8" stroke-linecap="butt"/>
<line x1="416.7" y1="305.6" x2="423.9" y2="305.6" stroke="#6aaed6" stroke-width="1.8" stroke-linecap="butt"/>
<line x1="416.7" y1="325.2" x2="423.9" y2="325.2" stroke="#6aaed6" stroke-width="1.8" stroke-linecap="butt"/>
<circle cx="420.3" cy="314.9" r="2.8" fill="#6aaed6"/>
<line x1="446.3" y1="371.2" x2="446.3" y2="383.6" stroke="#6aaed6" stroke-width="1.8" stroke-linecap="butt"/>
<line x1="442.7" y1="371.2" x2="449.9" y2="371.2" stroke="#6aaed6" stroke-width="1.8" stroke-linecap="butt"/>
<line x1="442.7" y1="383.6" x2="449.9" y2="383.6" stroke="#6aaed6" stroke-width="1.8" stroke-linecap="butt"/>
<circle cx="446.3" cy="377.4" r="2.8" fill="#6aaed6"/>
<line x1="472.4" y1="398" x2="472.4" y2="406.7" stroke="#6aaed6" stroke-width="1.8" stroke-linecap="butt"/>
<line x1="468.8" y1="398" x2="476" y2="398" stroke="#6aaed6" stroke-width="1.8" stroke-linecap="butt"/>
<line x1="468.8" y1="406.7" x2="476" y2="406.7" stroke="#6aaed6" stroke-width="1.8" stroke-linecap="butt"/>
<circle cx="472.4" cy="402.9" r="2.8" fill="#6aaed6"/>
<line x1="498.5" y1="420.8" x2="498.5" y2="429" stroke="#6aaed6" stroke-width="1.8" stroke-linecap="butt"/>
<line x1="494.9" y1="420.8" x2="502.1" y2="420.8" stroke="#6aaed6" stroke-width="1.8" stroke-linecap="butt"/>
<line x1="494.9" y1="429" x2="502.1" y2="429" stroke="#6aaed6" stroke-width="1.8" stroke-linecap="butt"/>
<circle cx="498.5" cy="425" r="2.8" fill="#6aaed6"/>
<line x1="524.3" y1="430.7" x2="524.3" y2="437" stroke="#6aaed6" stroke-width="1.8" stroke-linecap="butt"/>
<line x1="520.7" y1="430.7" x2="527.9" y2="430.7" stroke="#6aaed6" stroke-width="1.8" stroke-linecap="butt"/>
<line x1="520.7" y1="437" x2="527.9" y2="437" stroke="#6aaed6" stroke-width="1.8" stroke-linecap="butt"/>
<circle cx="524.3" cy="433.7" r="2.8" fill="#6aaed6"/>
<rect x="521.2" y="305.2" width="150.4" height="79.3" fill="#fff"/>
<svg x="521.2" y="305.2" width="150.4" height="79.3" overflow="hidden">
<g transform="translate(-521.2 -305.2)">
<circle cx="535.01" cy="375.8" r="5.5" fill="#f4a582" fill-opacity="0.100"/>
<circle cx="536.73" cy="374.67" r="5.5" fill="#f4a582" fill-opacity="0.100"/>
<circle cx="536.14" cy="371.8" r="5.5" fill="#f4a582" fill-opacity="0.100"/>
<circle cx="537.16" cy="375.8" r="5.5" fill="#f4a582" fill-opacity="0.100"/>
<circle cx="534.07" cy="374" r="5.5" fill="#f4a582" fill-opacity="0.100"/>
<circle cx="537.54" cy="375.8" r="5.5" fill="#f4a582" fill-opacity="0.100"/>
<circle cx="534.79" cy="374.72" r="5.5" fill="#f4a582" fill-opacity="0.100"/>
<circle cx="533.98" cy="375.8" r="5.5" fill="#f4a582" fill-opacity="0.100"/>
<circle cx="568.75" cy="357.54" r="5.5" fill="#f4a582" fill-opacity="0.100"/>
<circle cx="568.91" cy="351.17" r="5.5" fill="#f4a582" fill-opacity="0.100"/>
<circle cx="566.29" cy="355.69" r="5.5" fill="#f4a582" fill-opacity="0.100"/>
<circle cx="564.93" cy="353.94" r="5.5" fill="#f4a582" fill-opacity="0.100"/>
<circle cx="565.2" cy="354.83" r="5.5" fill="#f4a582" fill-opacity="0.100"/>
<circle cx="565.99" cy="353.81" r="5.5" fill="#f4a582" fill-opacity="0.100"/>
<circle cx="568.95" cy="358" r="5.5" fill="#f4a582" fill-opacity="0.100"/>
<circle cx="568.58" cy="353.26" r="5.5" fill="#f4a582" fill-opacity="0.100"/>
<circle cx="599.35" cy="339.19" r="5.5" fill="#f4a582" fill-opacity="0.100"/>
<circle cx="595.76" cy="331.8" r="5.5" fill="#f4a582" fill-opacity="0.100"/>
<circle cx="598.36" cy="343.18" r="5.5" fill="#f4a582" fill-opacity="0.100"/>
<circle cx="598.8" cy="340.6" r="5.5" fill="#f4a582" fill-opacity="0.100"/>
<circle cx="597.58" cy="338.22" r="5.5" fill="#f4a582" fill-opacity="0.100"/>
<circle cx="596.71" cy="339.4" r="5.5" fill="#f4a582" fill-opacity="0.100"/>
<circle cx="596.54" cy="332.38" r="5.5" fill="#f4a582" fill-opacity="0.100"/>
<circle cx="596.42" cy="331.8" r="5.5" fill="#f4a582" fill-opacity="0.100"/>
<circle cx="627.84" cy="329.84" r="5.5" fill="#f4a582" fill-opacity="0.100"/>
<circle cx="626.13" cy="325.31" r="5.5" fill="#f4a582" fill-opacity="0.100"/>
<circle cx="630.38" cy="319.41" r="5.5" fill="#f4a582" fill-opacity="0.100"/>
<circle cx="627.74" cy="322.4" r="5.5" fill="#f4a582" fill-opacity="0.100"/>
<circle cx="628.03" cy="319.1" r="5.5" fill="#f4a582" fill-opacity="0.100"/>
<circle cx="630.59" cy="321.84" r="5.5" fill="#f4a582" fill-opacity="0.100"/>
<circle cx="629.93" cy="325.37" r="5.5" fill="#f4a582" fill-opacity="0.100"/>
<circle cx="627.77" cy="327.52" r="5.5" fill="#f4a582" fill-opacity="0.100"/>
<circle cx="658.08" cy="324.15" r="5.5" fill="#f4a582" fill-opacity="0.100"/>
<circle cx="658.58" cy="309.97" r="5.5" fill="#f4a582" fill-opacity="0.100"/>
<circle cx="658.89" cy="309.2" r="5.5" fill="#f4a582" fill-opacity="0.100"/>
<circle cx="657.97" cy="321.19" r="5.5" fill="#f4a582" fill-opacity="0.100"/>
<circle cx="659.71" cy="327.76" r="5.5" fill="#f4a582" fill-opacity="0.100"/>
<circle cx="660.59" cy="309.2" r="5.5" fill="#f4a582" fill-opacity="0.100"/>
<circle cx="660.63" cy="321.89" r="5.5" fill="#f4a582" fill-opacity="0.100"/>
<circle cx="658.88" cy="311.53" r="5.5" fill="#f4a582" fill-opacity="0.100"/>
<line x1="536.4" y1="370.3" x2="536.4" y2="372.1" stroke="#c21d2b" stroke-width="2" stroke-linecap="butt"/>
<line x1="536.4" y1="375.2" x2="536.4" y2="377.3" stroke="#c21d2b" stroke-width="2" stroke-linecap="butt"/>
<line x1="529.9" y1="370.3" x2="542.9" y2="370.3" stroke="#c21d2b" stroke-width="2" stroke-linecap="butt"/>
<line x1="529.9" y1="377.3" x2="542.9" y2="377.3" stroke="#c21d2b" stroke-width="2" stroke-linecap="butt"/>
<rect x="523.9" y="372.1" width="25" height="3.1" fill="#fff" stroke="#c21d2b" stroke-width="2" fill-opacity="0.7"/>
<line x1="523.9" y1="373.6" x2="548.9" y2="373.6" stroke="#c21d2b" stroke-width="2" stroke-linecap="butt"/>
<line x1="567.1" y1="349.2" x2="567.1" y2="352.9" stroke="#c21d2b" stroke-width="2" stroke-linecap="butt"/>
<line x1="567.1" y1="356" x2="567.1" y2="359.5" stroke="#c21d2b" stroke-width="2" stroke-linecap="butt"/>
<line x1="560.6" y1="349.2" x2="573.6" y2="349.2" stroke="#c21d2b" stroke-width="2" stroke-linecap="butt"/>
<line x1="560.6" y1="359.5" x2="573.6" y2="359.5" stroke="#c21d2b" stroke-width="2" stroke-linecap="butt"/>
<rect x="554.6" y="352.9" width="25" height="3.1" fill="#fff" stroke="#c21d2b" stroke-width="2" fill-opacity="0.7"/>
<line x1="554.6" y1="354.5" x2="579.6" y2="354.5" stroke="#c21d2b" stroke-width="2" stroke-linecap="butt"/>
<line x1="597.8" y1="330.3" x2="597.8" y2="332.8" stroke="#c21d2b" stroke-width="2" stroke-linecap="butt"/>
<line x1="597.8" y1="339.7" x2="597.8" y2="346" stroke="#c21d2b" stroke-width="2" stroke-linecap="butt"/>
<line x1="591.3" y1="330.3" x2="604.3" y2="330.3" stroke="#c21d2b" stroke-width="2" stroke-linecap="butt"/>
<line x1="591.3" y1="346" x2="604.3" y2="346" stroke="#c21d2b" stroke-width="2" stroke-linecap="butt"/>
<rect x="585.3" y="332.8" width="25" height="6.9" fill="#fff" stroke="#c21d2b" stroke-width="2" fill-opacity="0.7"/>
<line x1="585.3" y1="336" x2="610.3" y2="336" stroke="#c21d2b" stroke-width="2" stroke-linecap="butt"/>
<line x1="628.5" y1="316.8" x2="628.5" y2="320.3" stroke="#c21d2b" stroke-width="2" stroke-linecap="butt"/>
<line x1="628.5" y1="330.3" x2="628.5" y2="337.2" stroke="#c21d2b" stroke-width="2" stroke-linecap="butt"/>
<line x1="622" y1="316.8" x2="635" y2="316.8" stroke="#c21d2b" stroke-width="2" stroke-linecap="butt"/>
<line x1="622" y1="337.2" x2="635" y2="337.2" stroke="#c21d2b" stroke-width="2" stroke-linecap="butt"/>
<rect x="616" y="320.3" width="25" height="10" fill="#fff" stroke="#c21d2b" stroke-width="2" fill-opacity="0.7"/>
<line x1="616" y1="326.5" x2="641" y2="326.5" stroke="#c21d2b" stroke-width="2" stroke-linecap="butt"/>
<line x1="659.2" y1="307.7" x2="659.2" y2="312.4" stroke="#c21d2b" stroke-width="2" stroke-linecap="butt"/>
<line x1="659.2" y1="323.4" x2="659.2" y2="331.3" stroke="#c21d2b" stroke-width="2" stroke-linecap="butt"/>
<line x1="652.7" y1="307.7" x2="665.7" y2="307.7" stroke="#c21d2b" stroke-width="2" stroke-linecap="butt"/>
<line x1="652.7" y1="331.3" x2="665.7" y2="331.3" stroke="#c21d2b" stroke-width="2" stroke-linecap="butt"/>
<rect x="646.7" y="312.4" width="25" height="11" fill="#fff" stroke="#c21d2b" stroke-width="2" fill-opacity="0.7"/>
<line x1="646.7" y1="318" x2="671.7" y2="318" stroke="#c21d2b" stroke-width="2" stroke-linecap="butt"/>
<polyline points="536.4,369.71 544.07,366.16 551.75,362.66 559.42,359.19 567.1,355.78 574.77,352.41 582.45,349.08 590.12,345.8 597.8,342.56 605.48,339.36 613.15,336.22 620.82,333.11 628.5,330.05 636.17,327.04 643.85,324.07 651.52,321.14 659.2,318.26 666.88,315.43 674.55,312.63" fill="none" stroke="#174a8b" stroke-width="1.6" stroke-linecap="butt" stroke-linejoin="round" stroke-dasharray="6.2,2.7"/>
<line x1="536.4" y1="371.7" x2="536.4" y2="375.5" stroke="#6aaed6" stroke-width="1.8" stroke-linecap="butt"/>
<line x1="532.8" y1="371.7" x2="540" y2="371.7" stroke="#6aaed6" stroke-width="1.8" stroke-linecap="butt"/>
<line x1="532.8" y1="375.5" x2="540" y2="375.5" stroke="#6aaed6" stroke-width="1.8" stroke-linecap="butt"/>
<circle cx="536.4" cy="373.6" r="2.8" fill="#6aaed6"/>
<line x1="567" y1="353.5" x2="567" y2="359.5" stroke="#6aaed6" stroke-width="1.8" stroke-linecap="butt"/>
<line x1="563.4" y1="353.5" x2="570.6" y2="353.5" stroke="#6aaed6" stroke-width="1.8" stroke-linecap="butt"/>
<line x1="563.4" y1="359.5" x2="570.6" y2="359.5" stroke="#6aaed6" stroke-width="1.8" stroke-linecap="butt"/>
<circle cx="567" cy="357" r="2.8" fill="#6aaed6"/>
<line x1="597.8" y1="339.5" x2="597.8" y2="346.5" stroke="#6aaed6" stroke-width="1.8" stroke-linecap="butt"/>
<line x1="594.2" y1="339.5" x2="601.4" y2="339.5" stroke="#6aaed6" stroke-width="1.8" stroke-linecap="butt"/>
<line x1="594.2" y1="346.5" x2="601.4" y2="346.5" stroke="#6aaed6" stroke-width="1.8" stroke-linecap="butt"/>
<circle cx="597.8" cy="344.5" r="2.8" fill="#6aaed6"/>
<line x1="628.4" y1="316.5" x2="628.4" y2="326.5" stroke="#6aaed6" stroke-width="1.8" stroke-linecap="butt"/>
<line x1="624.8" y1="316.5" x2="632" y2="316.5" stroke="#6aaed6" stroke-width="1.8" stroke-linecap="butt"/>
<line x1="624.8" y1="326.5" x2="632" y2="326.5" stroke="#6aaed6" stroke-width="1.8" stroke-linecap="butt"/>
<circle cx="628.4" cy="321.5" r="2.8" fill="#6aaed6"/>
<line x1="659.2" y1="305.5" x2="659.2" y2="311.5" stroke="#6aaed6" stroke-width="1.8" stroke-linecap="butt"/>
<line x1="655.6" y1="305.5" x2="662.8" y2="305.5" stroke="#6aaed6" stroke-width="1.8" stroke-linecap="butt"/>
<line x1="655.6" y1="311.5" x2="662.8" y2="311.5" stroke="#6aaed6" stroke-width="1.8" stroke-linecap="butt"/>
<circle cx="659.2" cy="309" r="2.8" fill="#6aaed6"/>
</g></svg>
<rect x="521.2" y="305.2" width="150.4" height="79.3" fill="none" stroke="#000" stroke-width="1.3"/>
<line x1="515.7" y1="384.6" x2="521.2" y2="384.6" stroke="#000" stroke-width="1.2" stroke-linecap="butt"/>
<text x="508.8" y="387.55" font-size="8.2" text-anchor="end" fill="#000" textLength="12.25" lengthAdjust="spacingAndGlyphs" stroke="#000" stroke-width="0.15">0.1</text>
<line x1="515.7" y1="364.75" x2="521.2" y2="364.75" stroke="#000" stroke-width="1.2" stroke-linecap="butt"/>
<text x="508.8" y="367.7" font-size="8.2" text-anchor="end" fill="#000" textLength="12.25" lengthAdjust="spacingAndGlyphs" stroke="#000" stroke-width="0.15">0.2</text>
<line x1="515.7" y1="344.9" x2="521.2" y2="344.9" stroke="#000" stroke-width="1.2" stroke-linecap="butt"/>
<text x="508.8" y="347.85" font-size="8.2" text-anchor="end" fill="#000" textLength="12.25" lengthAdjust="spacingAndGlyphs" stroke="#000" stroke-width="0.15">0.3</text>
<line x1="515.7" y1="325.05" x2="521.2" y2="325.05" stroke="#000" stroke-width="1.2" stroke-linecap="butt"/>
<text x="508.8" y="328" font-size="8.2" text-anchor="end" fill="#000" textLength="12.25" lengthAdjust="spacingAndGlyphs" stroke="#000" stroke-width="0.15">0.4</text>
<line x1="515.7" y1="305.2" x2="521.2" y2="305.2" stroke="#000" stroke-width="1.2" stroke-linecap="butt"/>
<text x="508.8" y="308.15" font-size="8.2" text-anchor="end" fill="#000" textLength="12.25" lengthAdjust="spacingAndGlyphs" stroke="#000" stroke-width="0.15">0.5</text>
<line x1="536.4" y1="384.5" x2="536.4" y2="390.5" stroke="#000" stroke-width="1.2" stroke-linecap="butt"/>
<text x="536.4" y="403.3" font-size="8.2" text-anchor="middle" fill="#000" textLength="4.9" lengthAdjust="spacingAndGlyphs" stroke="#000" stroke-width="0.15">1</text>
<line x1="567.1" y1="384.5" x2="567.1" y2="390.5" stroke="#000" stroke-width="1.2" stroke-linecap="butt"/>
<text x="567.1" y="403.3" font-size="8.2" text-anchor="middle" fill="#000" textLength="4.9" lengthAdjust="spacingAndGlyphs" stroke="#000" stroke-width="0.15">2</text>
<line x1="597.8" y1="384.5" x2="597.8" y2="390.5" stroke="#000" stroke-width="1.2" stroke-linecap="butt"/>
<text x="597.8" y="403.3" font-size="8.2" text-anchor="middle" fill="#000" textLength="4.9" lengthAdjust="spacingAndGlyphs" stroke="#000" stroke-width="0.15">3</text>
<line x1="628.5" y1="384.5" x2="628.5" y2="390.5" stroke="#000" stroke-width="1.2" stroke-linecap="butt"/>
<text x="628.5" y="403.3" font-size="8.2" text-anchor="middle" fill="#000" textLength="4.9" lengthAdjust="spacingAndGlyphs" stroke="#000" stroke-width="0.15">4</text>
<line x1="659.2" y1="384.5" x2="659.2" y2="390.5" stroke="#000" stroke-width="1.2" stroke-linecap="butt"/>
<text x="659.2" y="403.3" font-size="8.2" text-anchor="middle" fill="#000" textLength="4.9" lengthAdjust="spacingAndGlyphs" stroke="#000" stroke-width="0.15">5</text>
<text x="489.3" y="344.85" font-size="8.2" text-anchor="middle" fill="#000" textLength="107.01" lengthAdjust="spacingAndGlyphs" transform="rotate(-90 489.3 344.85)" stroke="#000" stroke-width="0.15">Predicted TCC (KW<tspan dy="-2.95" font-size="5.41">−1</tspan><tspan dy="2.95">cm</tspan><tspan dy="-2.95" font-size="5.41">−2</tspan><tspan dy="2.95">)</tspan></text>
<text x="596.5" y="418" font-size="8.25" text-anchor="middle" fill="#000" textLength="95.79" lengthAdjust="spacingAndGlyphs" stroke="#000" stroke-width="0.15">Contact Pressure (MPa)</text>
<rect x="562" y="262.8" width="111.4" height="39.3" fill="#fff" stroke="#d3d3d3" stroke-width="1" fill-opacity="0.85" rx="2.5"/>
<circle cx="573.6" cy="270" r="4.8" fill="#f4a582" fill-opacity="0.22"/>
<line x1="565.7" y1="282" x2="581" y2="282" stroke="#174a8b" stroke-width="1.7" stroke-linecap="butt" stroke-dasharray="6.2,2.9"/>
<line x1="573.6" y1="289.9" x2="573.6" y2="298.4" stroke="#6aaed6" stroke-width="1.5" stroke-linecap="butt"/>
<line x1="570" y1="289.9" x2="577.2" y2="289.9" stroke="#6aaed6" stroke-width="1.5" stroke-linecap="butt"/>
<line x1="570" y1="298.4" x2="577.2" y2="298.4" stroke="#6aaed6" stroke-width="1.5" stroke-linecap="butt"/>
<circle cx="573.6" cy="294" r="2.6" fill="#6aaed6"/>
<text x="589.3" y="272.7" font-size="8.25" text-anchor="start" fill="#000" textLength="64.01" lengthAdjust="spacingAndGlyphs" stroke="#000" stroke-width="0.15">Predicted Value</text>
<text x="589.3" y="284.8" font-size="8.25" text-anchor="start" fill="#000" textLength="64.94" lengthAdjust="spacingAndGlyphs" stroke="#000" stroke-width="0.15">Regression Line</text>
<text x="589.3" y="297" font-size="8.25" text-anchor="start" fill="#000" textLength="80.29" lengthAdjust="spacingAndGlyphs" stroke="#000" stroke-width="0.15">Experimental Value</text>
<rect x="396.5" y="259.3" width="281.3" height="202" fill="none" stroke="#000" stroke-width="1.3"/>
<line x1="391" y1="461.06" x2="396.5" y2="461.06" stroke="#000" stroke-width="1.2" stroke-linecap="butt"/>
<text x="384.1" y="464.01" font-size="8.2" text-anchor="end" fill="#000" textLength="14.7" lengthAdjust="spacingAndGlyphs" stroke="#000" stroke-width="0.15">100</text>
<line x1="391" y1="435.18" x2="396.5" y2="435.18" stroke="#000" stroke-width="1.2" stroke-linecap="butt"/>
<text x="384.1" y="438.13" font-size="8.2" text-anchor="end" fill="#000" textLength="14.7" lengthAdjust="spacingAndGlyphs" stroke="#000" stroke-width="0.15">200</text>
<line x1="391" y1="409.3" x2="396.5" y2="409.3" stroke="#000" stroke-width="1.2" stroke-linecap="butt"/>
<text x="384.1" y="412.25" font-size="8.2" text-anchor="end" fill="#000" textLength="14.7" lengthAdjust="spacingAndGlyphs" stroke="#000" stroke-width="0.15">300</text>
<line x1="391" y1="383.42" x2="396.5" y2="383.42" stroke="#000" stroke-width="1.2" stroke-linecap="butt"/>
<text x="384.1" y="386.37" font-size="8.2" text-anchor="end" fill="#000" textLength="14.7" lengthAdjust="spacingAndGlyphs" stroke="#000" stroke-width="0.15">400</text>
<line x1="391" y1="357.54" x2="396.5" y2="357.54" stroke="#000" stroke-width="1.2" stroke-linecap="butt"/>
<text x="384.1" y="360.49" font-size="8.2" text-anchor="end" fill="#000" textLength="14.7" lengthAdjust="spacingAndGlyphs" stroke="#000" stroke-width="0.15">500</text>
<line x1="391" y1="331.66" x2="396.5" y2="331.66" stroke="#000" stroke-width="1.2" stroke-linecap="butt"/>
<text x="384.1" y="334.61" font-size="8.2" text-anchor="end" fill="#000" textLength="14.7" lengthAdjust="spacingAndGlyphs" stroke="#000" stroke-width="0.15">600</text>
<line x1="391" y1="305.78" x2="396.5" y2="305.78" stroke="#000" stroke-width="1.2" stroke-linecap="butt"/>
<text x="384.1" y="308.73" font-size="8.2" text-anchor="end" fill="#000" textLength="14.7" lengthAdjust="spacingAndGlyphs" stroke="#000" stroke-width="0.15">700</text>
<line x1="391" y1="279.9" x2="396.5" y2="279.9" stroke="#000" stroke-width="1.2" stroke-linecap="butt"/>
<text x="384.1" y="282.85" font-size="8.2" text-anchor="end" fill="#000" textLength="14.7" lengthAdjust="spacingAndGlyphs" stroke="#000" stroke-width="0.15">800</text>
<line x1="420.3" y1="461.3" x2="420.3" y2="467.3" stroke="#000" stroke-width="1.2" stroke-linecap="butt"/>
<text x="420.3" y="479.5" font-size="8.2" text-anchor="middle" fill="#000" textLength="4.9" lengthAdjust="spacingAndGlyphs" stroke="#000" stroke-width="0.15">1</text>
<line x1="446.31" y1="461.3" x2="446.31" y2="467.3" stroke="#000" stroke-width="1.2" stroke-linecap="butt"/>
<text x="446.31" y="479.5" font-size="8.2" text-anchor="middle" fill="#000" textLength="4.9" lengthAdjust="spacingAndGlyphs" stroke="#000" stroke-width="0.15">2</text>
<line x1="472.32" y1="461.3" x2="472.32" y2="467.3" stroke="#000" stroke-width="1.2" stroke-linecap="butt"/>
<text x="472.32" y="479.5" font-size="8.2" text-anchor="middle" fill="#000" textLength="4.9" lengthAdjust="spacingAndGlyphs" stroke="#000" stroke-width="0.15">3</text>
<line x1="498.33" y1="461.3" x2="498.33" y2="467.3" stroke="#000" stroke-width="1.2" stroke-linecap="butt"/>
<text x="498.33" y="479.5" font-size="8.2" text-anchor="middle" fill="#000" textLength="4.9" lengthAdjust="spacingAndGlyphs" stroke="#000" stroke-width="0.15">4</text>
<line x1="524.34" y1="461.3" x2="524.34" y2="467.3" stroke="#000" stroke-width="1.2" stroke-linecap="butt"/>
<text x="524.34" y="479.5" font-size="8.2" text-anchor="middle" fill="#000" textLength="4.9" lengthAdjust="spacingAndGlyphs" stroke="#000" stroke-width="0.15">5</text>
<line x1="550.35" y1="461.3" x2="550.35" y2="467.3" stroke="#000" stroke-width="1.2" stroke-linecap="butt"/>
<text x="550.35" y="479.5" font-size="8.2" text-anchor="middle" fill="#000" textLength="4.9" lengthAdjust="spacingAndGlyphs" stroke="#000" stroke-width="0.15">6</text>
<line x1="576.36" y1="461.3" x2="576.36" y2="467.3" stroke="#000" stroke-width="1.2" stroke-linecap="butt"/>
<text x="576.36" y="479.5" font-size="8.2" text-anchor="middle" fill="#000" textLength="4.9" lengthAdjust="spacingAndGlyphs" stroke="#000" stroke-width="0.15">7</text>
<line x1="602.37" y1="461.3" x2="602.37" y2="467.3" stroke="#000" stroke-width="1.2" stroke-linecap="butt"/>
<text x="602.37" y="479.5" font-size="8.2" text-anchor="middle" fill="#000" textLength="4.9" lengthAdjust="spacingAndGlyphs" stroke="#000" stroke-width="0.15">8</text>
<line x1="628.38" y1="461.3" x2="628.38" y2="467.3" stroke="#000" stroke-width="1.2" stroke-linecap="butt"/>
<text x="628.38" y="479.5" font-size="8.2" text-anchor="middle" fill="#000" textLength="4.9" lengthAdjust="spacingAndGlyphs" stroke="#000" stroke-width="0.15">9</text>
<line x1="654.39" y1="461.3" x2="654.39" y2="467.3" stroke="#000" stroke-width="1.2" stroke-linecap="butt"/>
<text x="654.39" y="479.5" font-size="8.2" text-anchor="middle" fill="#000" textLength="9.8" lengthAdjust="spacingAndGlyphs" stroke="#000" stroke-width="0.15">10</text>
<text x="361.3" y="360.3" font-size="10" text-anchor="middle" fill="#000" textLength="129.78" lengthAdjust="spacingAndGlyphs" transform="rotate(-90 361.3 360.3)" stroke="#000" stroke-width="0.15">Predicted TCR (mm<tspan dy="-3.6" font-size="6.6">2</tspan><tspan dy="3.6">WK</tspan><tspan dy="-3.6" font-size="6.6">−1</tspan><tspan dy="3.6">)</tspan></text>
<text x="537.1" y="495.6" font-size="10" text-anchor="middle" fill="#000" textLength="116.11" lengthAdjust="spacingAndGlyphs" stroke="#000" stroke-width="0.15">Contact Pressure (MPa)</text>
<rect x="47.3" y="555.3" width="282.1" height="216.7" fill="#fff"/>
<line x1="70.7" y1="560" x2="70.7" y2="590.4" stroke="#c21d2b" stroke-width="2.1" stroke-linecap="butt"/>
<line x1="70.7" y1="611.4" x2="70.7" y2="627.8" stroke="#c21d2b" stroke-width="2.1" stroke-linecap="butt"/>
<line x1="64.1" y1="560" x2="77.3" y2="560" stroke="#c21d2b" stroke-width="2.1" stroke-linecap="butt"/>
<line x1="64.1" y1="627.8" x2="77.3" y2="627.8" stroke="#c21d2b" stroke-width="2.1" stroke-linecap="butt"/>
<rect x="60.1" y="590.4" width="21.2" height="21" fill="#fff" stroke="#c21d2b" stroke-width="2.1"/>
<line x1="60.1" y1="601.4" x2="81.3" y2="601.4" stroke="#c21d2b" stroke-width="2.1" stroke-linecap="butt"/>
<line x1="96.82" y1="625.5" x2="96.82" y2="637.6" stroke="#c21d2b" stroke-width="2.1" stroke-linecap="butt"/>
<line x1="96.82" y1="646.2" x2="96.82" y2="651.1" stroke="#c21d2b" stroke-width="2.1" stroke-linecap="butt"/>
<line x1="90.22" y1="625.5" x2="103.42" y2="625.5" stroke="#c21d2b" stroke-width="2.1" stroke-linecap="butt"/>
<line x1="90.22" y1="651.1" x2="103.42" y2="651.1" stroke="#c21d2b" stroke-width="2.1" stroke-linecap="butt"/>
<rect x="86.22" y="637.6" width="21.2" height="8.6" fill="#fff" stroke="#c21d2b" stroke-width="2.1"/>
<line x1="86.22" y1="641.8" x2="107.42" y2="641.8" stroke="#c21d2b" stroke-width="2.1" stroke-linecap="butt"/>
<line x1="122.94" y1="641.1" x2="122.94" y2="646.5" stroke="#c21d2b" stroke-width="2.1" stroke-linecap="butt"/>
<line x1="122.94" y1="652.3" x2="122.94" y2="655.1" stroke="#c21d2b" stroke-width="2.1" stroke-linecap="butt"/>
<line x1="116.34" y1="641.1" x2="129.54" y2="641.1" stroke="#c21d2b" stroke-width="2.1" stroke-linecap="butt"/>
<line x1="116.34" y1="655.1" x2="129.54" y2="655.1" stroke="#c21d2b" stroke-width="2.1" stroke-linecap="butt"/>
<rect x="112.34" y="646.5" width="21.2" height="5.8" fill="#fff" stroke="#c21d2b" stroke-width="2.1"/>
<line x1="112.34" y1="649.3" x2="133.54" y2="649.3" stroke="#c21d2b" stroke-width="2.1" stroke-linecap="butt"/>
<line x1="149.06" y1="644.6" x2="149.06" y2="650" stroke="#c21d2b" stroke-width="2.1" stroke-linecap="butt"/>
<line x1="149.06" y1="654.4" x2="149.06" y2="657" stroke="#c21d2b" stroke-width="2.1" stroke-linecap="butt"/>
<line x1="142.46" y1="644.6" x2="155.66" y2="644.6" stroke="#c21d2b" stroke-width="2.1" stroke-linecap="butt"/>
<line x1="142.46" y1="657" x2="155.66" y2="657" stroke="#c21d2b" stroke-width="2.1" stroke-linecap="butt"/>
<rect x="138.46" y="650" width="21.2" height="4.4" fill="#fff" stroke="#c21d2b" stroke-width="2.1"/>
<line x1="138.46" y1="652.2" x2="159.66" y2="652.2" stroke="#c21d2b" stroke-width="2.1" stroke-linecap="butt"/>
<line x1="175.18" y1="648.1" x2="175.18" y2="652" stroke="#c21d2b" stroke-width="2.1" stroke-linecap="butt"/>
<line x1="175.18" y1="655.6" x2="175.18" y2="657.5" stroke="#c21d2b" stroke-width="2.1" stroke-linecap="butt"/>
<line x1="168.58" y1="648.1" x2="181.78" y2="648.1" stroke="#c21d2b" stroke-width="2.1" stroke-linecap="butt"/>
<line x1="168.58" y1="657.5" x2="181.78" y2="657.5" stroke="#c21d2b" stroke-width="2.1" stroke-linecap="butt"/>
<rect x="164.58" y="652" width="21.2" height="3.6" fill="#fff" stroke="#c21d2b" stroke-width="2.1"/>
<line x1="164.58" y1="653.8" x2="185.78" y2="653.8" stroke="#c21d2b" stroke-width="2.1" stroke-linecap="butt"/>
<line x1="201.3" y1="649.5" x2="201.3" y2="652.8" stroke="#c21d2b" stroke-width="2.1" stroke-linecap="butt"/>
<line x1="201.3" y1="656.5" x2="201.3" y2="658.2" stroke="#c21d2b" stroke-width="2.1" stroke-linecap="butt"/>
<line x1="194.7" y1="649.5" x2="207.9" y2="649.5" stroke="#c21d2b" stroke-width="2.1" stroke-linecap="butt"/>
<line x1="194.7" y1="658.2" x2="207.9" y2="658.2" stroke="#c21d2b" stroke-width="2.1" stroke-linecap="butt"/>
<rect x="190.7" y="652.8" width="21.2" height="3.7" fill="#fff" stroke="#c21d2b" stroke-width="2.1"/>
<line x1="190.7" y1="654.6" x2="211.9" y2="654.6" stroke="#c21d2b" stroke-width="2.1" stroke-linecap="butt"/>
<line x1="227.42" y1="650.5" x2="227.42" y2="653.5" stroke="#c21d2b" stroke-width="2.1" stroke-linecap="butt"/>
<line x1="227.42" y1="657" x2="227.42" y2="658.6" stroke="#c21d2b" stroke-width="2.1" stroke-linecap="butt"/>
<line x1="220.82" y1="650.5" x2="234.02" y2="650.5" stroke="#c21d2b" stroke-width="2.1" stroke-linecap="butt"/>
<line x1="220.82" y1="658.6" x2="234.02" y2="658.6" stroke="#c21d2b" stroke-width="2.1" stroke-linecap="butt"/>
<rect x="216.82" y="653.5" width="21.2" height="3.5" fill="#fff" stroke="#c21d2b" stroke-width="2.1"/>
<line x1="216.82" y1="655.2" x2="238.02" y2="655.2" stroke="#c21d2b" stroke-width="2.1" stroke-linecap="butt"/>
<line x1="253.54" y1="651" x2="253.54" y2="654" stroke="#c21d2b" stroke-width="2.1" stroke-linecap="butt"/>
<line x1="253.54" y1="657.3" x2="253.54" y2="658.8" stroke="#c21d2b" stroke-width="2.1" stroke-linecap="butt"/>
<line x1="246.94" y1="651" x2="260.14" y2="651" stroke="#c21d2b" stroke-width="2.1" stroke-linecap="butt"/>
<line x1="246.94" y1="658.8" x2="260.14" y2="658.8" stroke="#c21d2b" stroke-width="2.1" stroke-linecap="butt"/>
<rect x="242.94" y="654" width="21.2" height="3.3" fill="#fff" stroke="#c21d2b" stroke-width="2.1"/>
<line x1="242.94" y1="655.6" x2="264.14" y2="655.6" stroke="#c21d2b" stroke-width="2.1" stroke-linecap="butt"/>
<line x1="279.66" y1="651.5" x2="279.66" y2="654.3" stroke="#c21d2b" stroke-width="2.1" stroke-linecap="butt"/>
<line x1="279.66" y1="657.5" x2="279.66" y2="659" stroke="#c21d2b" stroke-width="2.1" stroke-linecap="butt"/>
<line x1="273.06" y1="651.5" x2="286.26" y2="651.5" stroke="#c21d2b" stroke-width="2.1" stroke-linecap="butt"/>
<line x1="273.06" y1="659" x2="286.26" y2="659" stroke="#c21d2b" stroke-width="2.1" stroke-linecap="butt"/>
<rect x="269.06" y="654.3" width="21.2" height="3.2" fill="#fff" stroke="#c21d2b" stroke-width="2.1"/>
<line x1="269.06" y1="655.9" x2="290.26" y2="655.9" stroke="#c21d2b" stroke-width="2.1" stroke-linecap="butt"/>
<line x1="305.78" y1="652" x2="305.78" y2="654.6" stroke="#c21d2b" stroke-width="2.1" stroke-linecap="butt"/>
<line x1="305.78" y1="657.8" x2="305.78" y2="659.2" stroke="#c21d2b" stroke-width="2.1" stroke-linecap="butt"/>
<line x1="299.18" y1="652" x2="312.38" y2="652" stroke="#c21d2b" stroke-width="2.1" stroke-linecap="butt"/>
<line x1="299.18" y1="659.2" x2="312.38" y2="659.2" stroke="#c21d2b" stroke-width="2.1" stroke-linecap="butt"/>
<rect x="295.18" y="654.6" width="21.2" height="3.2" fill="#fff" stroke="#c21d2b" stroke-width="2.1"/>
<line x1="295.18" y1="656.2" x2="316.38" y2="656.2" stroke="#c21d2b" stroke-width="2.1" stroke-linecap="butt"/>
<line x1="70.7" y1="764.6" x2="70.7" y2="765" stroke="#c21d2b" stroke-width="1.8" stroke-linecap="butt"/>
<line x1="70.7" y1="765.9" x2="70.7" y2="766.3" stroke="#c21d2b" stroke-width="1.8" stroke-linecap="butt"/>
<line x1="64.1" y1="764.6" x2="77.3" y2="764.6" stroke="#c21d2b" stroke-width="1.8" stroke-linecap="butt"/>
<line x1="64.1" y1="766.3" x2="77.3" y2="766.3" stroke="#c21d2b" stroke-width="1.8" stroke-linecap="butt"/>
<rect x="60.1" y="765" width="21.2" height="0.9" fill="#fff" stroke="#c21d2b" stroke-width="1.8"/>
<line x1="60.1" y1="765.4" x2="81.3" y2="765.4" stroke="#c21d2b" stroke-width="1.8" stroke-linecap="butt"/>
<line x1="96.82" y1="750.7" x2="96.82" y2="756.8" stroke="#c21d2b" stroke-width="1.8" stroke-linecap="butt"/>
<line x1="96.82" y1="761.3" x2="96.82" y2="764" stroke="#c21d2b" stroke-width="1.8" stroke-linecap="butt"/>
<line x1="90.22" y1="750.7" x2="103.42" y2="750.7" stroke="#c21d2b" stroke-width="1.8" stroke-linecap="butt"/>
<line x1="90.22" y1="764" x2="103.42" y2="764" stroke="#c21d2b" stroke-width="1.8" stroke-linecap="butt"/>
<rect x="86.22" y="756.8" width="21.2" height="4.5" fill="#fff" stroke="#c21d2b" stroke-width="1.8"/>
<line x1="86.22" y1="759.3" x2="107.42" y2="759.3" stroke="#c21d2b" stroke-width="1.8" stroke-linecap="butt"/>
<line x1="122.94" y1="738.4" x2="122.94" y2="749" stroke="#c21d2b" stroke-width="1.8" stroke-linecap="butt"/>
<line x1="122.94" y1="756.8" x2="122.94" y2="760.5" stroke="#c21d2b" stroke-width="1.8" stroke-linecap="butt"/>
<line x1="116.34" y1="738.4" x2="129.54" y2="738.4" stroke="#c21d2b" stroke-width="1.8" stroke-linecap="butt"/>
<line x1="116.34" y1="760.5" x2="129.54" y2="760.5" stroke="#c21d2b" stroke-width="1.8" stroke-linecap="butt"/>
<rect x="112.34" y="749" width="21.2" height="7.8" fill="#fff" stroke="#c21d2b" stroke-width="1.8"/>
<line x1="112.34" y1="754.2" x2="133.54" y2="754.2" stroke="#c21d2b" stroke-width="1.8" stroke-linecap="butt"/>
<line x1="149.06" y1="728.2" x2="149.06" y2="742.5" stroke="#c21d2b" stroke-width="1.8" stroke-linecap="butt"/>
<line x1="149.06" y1="752.7" x2="149.06" y2="757.5" stroke="#c21d2b" stroke-width="1.8" stroke-linecap="butt"/>
<line x1="142.46" y1="728.2" x2="155.66" y2="728.2" stroke="#c21d2b" stroke-width="1.8" stroke-linecap="butt"/>
<line x1="142.46" y1="757.5" x2="155.66" y2="757.5" stroke="#c21d2b" stroke-width="1.8" stroke-linecap="butt"/>
<rect x="138.46" y="742.5" width="21.2" height="10.2" fill="#fff" stroke="#c21d2b" stroke-width="1.8"/>
<line x1="138.46" y1="749.5" x2="159.66" y2="749.5" stroke="#c21d2b" stroke-width="1.8" stroke-linecap="butt"/>
<line x1="175.18" y1="717.8" x2="175.18" y2="735.9" stroke="#c21d2b" stroke-width="1.8" stroke-linecap="butt"/>
<line x1="175.18" y1="749" x2="175.18" y2="754.9" stroke="#c21d2b" stroke-width="1.8" stroke-linecap="butt"/>
<line x1="168.58" y1="717.8" x2="181.78" y2="717.8" stroke="#c21d2b" stroke-width="1.8" stroke-linecap="butt"/>
<line x1="168.58" y1="754.9" x2="181.78" y2="754.9" stroke="#c21d2b" stroke-width="1.8" stroke-linecap="butt"/>
<rect x="164.58" y="735.9" width="21.2" height="13.1" fill="#fff" stroke="#c21d2b" stroke-width="1.8"/>
<line x1="164.58" y1="744.7" x2="185.78" y2="744.7" stroke="#c21d2b" stroke-width="1.8" stroke-linecap="butt"/>
<line x1="201.3" y1="707.3" x2="201.3" y2="728.6" stroke="#c21d2b" stroke-width="1.8" stroke-linecap="butt"/>
<line x1="201.3" y1="744.7" x2="201.3" y2="753.4" stroke="#c21d2b" stroke-width="1.8" stroke-linecap="butt"/>
<line x1="194.7" y1="707.3" x2="207.9" y2="707.3" stroke="#c21d2b" stroke-width="1.8" stroke-linecap="butt"/>
<line x1="194.7" y1="753.4" x2="207.9" y2="753.4" stroke="#c21d2b" stroke-width="1.8" stroke-linecap="butt"/>
<rect x="190.7" y="728.6" width="21.2" height="16.1" fill="#fff" stroke="#c21d2b" stroke-width="1.8"/>
<line x1="190.7" y1="738.8" x2="211.9" y2="738.8" stroke="#c21d2b" stroke-width="1.8" stroke-linecap="butt"/>
<line x1="227.42" y1="698" x2="227.42" y2="721.9" stroke="#c21d2b" stroke-width="1.8" stroke-linecap="butt"/>
<line x1="227.42" y1="739.7" x2="227.42" y2="749.9" stroke="#c21d2b" stroke-width="1.8" stroke-linecap="butt"/>
<line x1="220.82" y1="698" x2="234.02" y2="698" stroke="#c21d2b" stroke-width="1.8" stroke-linecap="butt"/>
<line x1="220.82" y1="749.9" x2="234.02" y2="749.9" stroke="#c21d2b" stroke-width="1.8" stroke-linecap="butt"/>
<rect x="216.82" y="721.9" width="21.2" height="17.8" fill="#fff" stroke="#c21d2b" stroke-width="1.8"/>
<line x1="216.82" y1="733.9" x2="238.02" y2="733.9" stroke="#c21d2b" stroke-width="1.8" stroke-linecap="butt"/>
<line x1="253.54" y1="689.2" x2="253.54" y2="715.5" stroke="#c21d2b" stroke-width="1.8" stroke-linecap="butt"/>
<line x1="253.54" y1="735.9" x2="253.54" y2="747" stroke="#c21d2b" stroke-width="1.8" stroke-linecap="butt"/>
<line x1="246.94" y1="689.2" x2="260.14" y2="689.2" stroke="#c21d2b" stroke-width="1.8" stroke-linecap="butt"/>
<line x1="246.94" y1="747" x2="260.14" y2="747" stroke="#c21d2b" stroke-width="1.8" stroke-linecap="butt"/>
<rect x="242.94" y="715.5" width="21.2" height="20.4" fill="#fff" stroke="#c21d2b" stroke-width="1.8"/>
<line x1="242.94" y1="729.2" x2="264.14" y2="729.2" stroke="#c21d2b" stroke-width="1.8" stroke-linecap="butt"/>
<line x1="279.66" y1="680.4" x2="279.66" y2="710.2" stroke="#c21d2b" stroke-width="1.8" stroke-linecap="butt"/>
<line x1="279.66" y1="732.1" x2="279.66" y2="744.7" stroke="#c21d2b" stroke-width="1.8" stroke-linecap="butt"/>
<line x1="273.06" y1="680.4" x2="286.26" y2="680.4" stroke="#c21d2b" stroke-width="1.8" stroke-linecap="butt"/>
<line x1="273.06" y1="744.7" x2="286.26" y2="744.7" stroke="#c21d2b" stroke-width="1.8" stroke-linecap="butt"/>
<rect x="269.06" y="710.2" width="21.2" height="21.9" fill="#fff" stroke="#c21d2b" stroke-width="1.8"/>
<line x1="269.06" y1="724.8" x2="290.26" y2="724.8" stroke="#c21d2b" stroke-width="1.8" stroke-linecap="butt"/>
<line x1="305.78" y1="668.8" x2="305.78" y2="703.8" stroke="#c21d2b" stroke-width="1.8" stroke-linecap="butt"/>
<line x1="305.78" y1="729.2" x2="305.78" y2="742.3" stroke="#c21d2b" stroke-width="1.8" stroke-linecap="butt"/>
<line x1="299.18" y1="668.8" x2="312.38" y2="668.8" stroke="#c21d2b" stroke-width="1.8" stroke-linecap="butt"/>
<line x1="299.18" y1="742.3" x2="312.38" y2="742.3" stroke="#c21d2b" stroke-width="1.8" stroke-linecap="butt"/>
<rect x="295.18" y="703.8" width="21.2" height="25.4" fill="#fff" stroke="#c21d2b" stroke-width="1.8"/>
<line x1="295.18" y1="719.9" x2="316.38" y2="719.9" stroke="#c21d2b" stroke-width="1.8" stroke-linecap="butt"/>
<svg x="47.3" y="555.3" width="282.1" height="108.4" overflow="hidden"><g transform="translate(-47.3 -555.3)">
<polyline points="70.7,578 96.82,617.5 122.94,630.6 149.06,638.8 175.18,641.5 201.3,644.6 227.42,645.8 253.54,647.6 279.66,649.3 305.78,650.4" fill="none" stroke="#6b0320" stroke-width="2.6" stroke-linecap="butt" stroke-linejoin="round" stroke-dasharray="2.4,2.3"/>
<path d="M66.1 574.09L75.3 574.09L70.7 582.37Z" fill="#6b0320"/>
<path d="M92.22 613.59L101.42 613.59L96.82 621.87Z" fill="#6b0320"/>
<path d="M118.34 626.69L127.54 626.69L122.94 634.97Z" fill="#6b0320"/>
<path d="M144.46 634.89L153.66 634.89L149.06 643.17Z" fill="#6b0320"/>
<path d="M170.58 637.59L179.78 637.59L175.18 645.87Z" fill="#6b0320"/>
<path d="M196.7 640.69L205.9 640.69L201.3 648.97Z" fill="#6b0320"/>
<path d="M222.82 641.89L232.02 641.89L227.42 650.17Z" fill="#6b0320"/>
<path d="M248.94 643.69L258.14 643.69L253.54 651.97Z" fill="#6b0320"/>
<path d="M275.06 645.39L284.26 645.39L279.66 653.67Z" fill="#6b0320"/>
<path d="M301.18 646.49L310.38 646.49L305.78 654.77Z" fill="#6b0320"/>
<polyline points="70.7,607.2 96.82,616.6 122.94,627.1 149.06,634.1 163.43,634.1 175.18,635.3 201.3,635.5 227.42,635.5 253.54,636 279.66,636.4 305.78,636.9" fill="none" stroke="#3377b8" stroke-width="2.6" stroke-linecap="butt" stroke-linejoin="round" stroke-dasharray="8,3"/>
<path d="M70.7 601.9L76 607.2L70.7 612.5L65.4 607.2Z" fill="#3377b8"/>
<path d="M96.82 611.3L102.12 616.6L96.82 621.9L91.52 616.6Z" fill="#3377b8"/>
<path d="M122.94 621.8L128.24 627.1L122.94 632.4L117.64 627.1Z" fill="#3377b8"/>
<path d="M149.06 628.8L154.36 634.1L149.06 639.4L143.76 634.1Z" fill="#3377b8"/>
<path d="M163.43 628.8L168.73 634.1L163.43 639.4L158.13 634.1Z" fill="#3377b8"/>
<path d="M175.18 630L180.48 635.3L175.18 640.6L169.88 635.3Z" fill="#3377b8"/>
<path d="M201.3 630.2L206.6 635.5L201.3 640.8L196 635.5Z" fill="#3377b8"/>
<path d="M227.42 630.2L232.72 635.5L227.42 640.8L222.12 635.5Z" fill="#3377b8"/>
<path d="M253.54 630.7L258.84 636L253.54 641.3L248.24 636Z" fill="#3377b8"/>
<path d="M279.66 631.1L284.96 636.4L279.66 641.7L274.36 636.4Z" fill="#3377b8"/>
<path d="M305.78 631.6L311.08 636.9L305.78 642.2L300.48 636.9Z" fill="#3377b8"/>
<polyline points="70.7,624.3 96.82,635.3 122.94,640 149.06,643 175.18,644.6 201.3,645.8 227.42,646.8 253.54,647.6 279.66,648.4 305.78,649.3" fill="none" stroke="#dd6a55" stroke-width="2.2" stroke-linecap="butt" stroke-linejoin="round"/>
<circle cx="70.7" cy="624.3" r="2.8" fill="#dd6a55"/>
<circle cx="96.82" cy="635.3" r="2.8" fill="#dd6a55"/>
<circle cx="122.94" cy="640" r="2.8" fill="#dd6a55"/>
<circle cx="149.06" cy="643" r="2.8" fill="#dd6a55"/>
<circle cx="175.18" cy="644.6" r="2.8" fill="#dd6a55"/>
<circle cx="201.3" cy="645.8" r="2.8" fill="#dd6a55"/>
<circle cx="227.42" cy="646.8" r="2.8" fill="#dd6a55"/>
<circle cx="253.54" cy="647.6" r="2.8" fill="#dd6a55"/>
<circle cx="279.66" cy="648.4" r="2.8" fill="#dd6a55"/>
<circle cx="305.78" cy="649.3" r="2.8" fill="#dd6a55"/>
<line x1="70.7" y1="569" x2="70.7" y2="591.6" stroke="#6aaed6" stroke-width="1.8" stroke-linecap="butt"/>
<line x1="67.1" y1="569" x2="74.3" y2="569" stroke="#6aaed6" stroke-width="1.8" stroke-linecap="butt"/>
<line x1="67.1" y1="591.6" x2="74.3" y2="591.6" stroke="#6aaed6" stroke-width="1.8" stroke-linecap="butt"/>
<circle cx="70.7" cy="581.4" r="2.8" fill="#6aaed6"/>
<line x1="96.82" y1="625.4" x2="96.82" y2="634.4" stroke="#6aaed6" stroke-width="1.8" stroke-linecap="butt"/>
<line x1="93.22" y1="625.4" x2="100.42" y2="625.4" stroke="#6aaed6" stroke-width="1.8" stroke-linecap="butt"/>
<line x1="93.22" y1="634.4" x2="100.42" y2="634.4" stroke="#6aaed6" stroke-width="1.8" stroke-linecap="butt"/>
<circle cx="96.82" cy="630.5" r="2.8" fill="#6aaed6"/>
<line x1="122.94" y1="637.7" x2="122.94" y2="646" stroke="#6aaed6" stroke-width="1.8" stroke-linecap="butt"/>
<line x1="119.34" y1="637.7" x2="126.54" y2="637.7" stroke="#6aaed6" stroke-width="1.8" stroke-linecap="butt"/>
<line x1="119.34" y1="646" x2="126.54" y2="646" stroke="#6aaed6" stroke-width="1.8" stroke-linecap="butt"/>
<circle cx="122.94" cy="640.7" r="2.8" fill="#6aaed6"/>
<line x1="149.06" y1="641.6" x2="149.06" y2="650.8" stroke="#6aaed6" stroke-width="1.8" stroke-linecap="butt"/>
<line x1="145.46" y1="641.6" x2="152.66" y2="641.6" stroke="#6aaed6" stroke-width="1.8" stroke-linecap="butt"/>
<line x1="145.46" y1="650.8" x2="152.66" y2="650.8" stroke="#6aaed6" stroke-width="1.8" stroke-linecap="butt"/>
<circle cx="149.06" cy="645.2" r="2.8" fill="#6aaed6"/>
<line x1="163.43" y1="644" x2="163.43" y2="652.8" stroke="#6aaed6" stroke-width="1.8" stroke-linecap="butt"/>
<line x1="159.83" y1="644" x2="167.03" y2="644" stroke="#6aaed6" stroke-width="1.8" stroke-linecap="butt"/>
<line x1="159.83" y1="652.8" x2="167.03" y2="652.8" stroke="#6aaed6" stroke-width="1.8" stroke-linecap="butt"/>
<circle cx="163.43" cy="647.3" r="2.8" fill="#6aaed6"/>
</g></svg>
<svg x="47.3" y="663.7" width="282.1" height="108.3" overflow="hidden"><g transform="translate(-47.3 -663.7)">
<polyline points="70.7,766.5 96.82,764 122.94,762 149.06,760 175.18,757.8 201.3,754.9 227.42,754.9 253.54,752.8 279.66,752 305.78,749.9" fill="none" stroke="#6b0320" stroke-width="2.6" stroke-linecap="butt" stroke-linejoin="round" stroke-dasharray="2.4,2.3"/>
<path d="M66.1 762.59L75.3 762.59L70.7 770.87Z" fill="#6b0320"/>
<path d="M92.22 760.09L101.42 760.09L96.82 768.37Z" fill="#6b0320"/>
<path d="M118.34 758.09L127.54 758.09L122.94 766.37Z" fill="#6b0320"/>
<path d="M144.46 756.09L153.66 756.09L149.06 764.37Z" fill="#6b0320"/>
<path d="M170.58 753.89L179.78 753.89L175.18 762.17Z" fill="#6b0320"/>
<path d="M196.7 750.99L205.9 750.99L201.3 759.27Z" fill="#6b0320"/>
<path d="M222.82 750.99L232.02 750.99L227.42 759.27Z" fill="#6b0320"/>
<path d="M248.94 748.89L258.14 748.89L253.54 757.17Z" fill="#6b0320"/>
<path d="M275.06 748.09L284.26 748.09L279.66 756.37Z" fill="#6b0320"/>
<path d="M301.18 745.99L310.38 745.99L305.78 754.27Z" fill="#6b0320"/>
<polyline points="70.7,764.2 96.82,765 122.94,763.7 149.06,762.3 163.43,761.8 175.18,762.5 201.3,762.2 227.42,762.2 253.54,762.2 279.66,762.2 305.78,762.2" fill="none" stroke="#3377b8" stroke-width="2.6" stroke-linecap="butt" stroke-linejoin="round" stroke-dasharray="8,3"/>
<path d="M70.7 758.9L76 764.2L70.7 769.5L65.4 764.2Z" fill="#3377b8"/>
<path d="M96.82 759.7L102.12 765L96.82 770.3L91.52 765Z" fill="#3377b8"/>
<path d="M122.94 758.4L128.24 763.7L122.94 769L117.64 763.7Z" fill="#3377b8"/>
<path d="M149.06 757L154.36 762.3L149.06 767.6L143.76 762.3Z" fill="#3377b8"/>
<path d="M163.43 756.5L168.73 761.8L163.43 767.1L158.13 761.8Z" fill="#3377b8"/>
<path d="M175.18 757.2L180.48 762.5L175.18 767.8L169.88 762.5Z" fill="#3377b8"/>
<path d="M201.3 756.9L206.6 762.2L201.3 767.5L196 762.2Z" fill="#3377b8"/>
<path d="M227.42 756.9L232.72 762.2L227.42 767.5L222.12 762.2Z" fill="#3377b8"/>
<path d="M253.54 756.9L258.84 762.2L253.54 767.5L248.24 762.2Z" fill="#3377b8"/>
<path d="M279.66 756.9L284.96 762.2L279.66 767.5L274.36 762.2Z" fill="#3377b8"/>
<path d="M305.78 756.9L311.08 762.2L305.78 767.5L300.48 762.2Z" fill="#3377b8"/>
<polyline points="70.7,765 96.82,762.5 122.94,760.5 149.06,759 175.18,758 201.3,757 227.42,756 253.54,755 279.66,754 305.78,752.8" fill="none" stroke="#dd6a55" stroke-width="2.2" stroke-linecap="butt" stroke-linejoin="round"/>
<circle cx="70.7" cy="765" r="2.8" fill="#dd6a55"/>
<circle cx="96.82" cy="762.5" r="2.8" fill="#dd6a55"/>
<circle cx="122.94" cy="760.5" r="2.8" fill="#dd6a55"/>
<circle cx="149.06" cy="759" r="2.8" fill="#dd6a55"/>
<circle cx="175.18" cy="758" r="2.8" fill="#dd6a55"/>
<circle cx="201.3" cy="757" r="2.8" fill="#dd6a55"/>
<circle cx="227.42" cy="756" r="2.8" fill="#dd6a55"/>
<circle cx="253.54" cy="755" r="2.8" fill="#dd6a55"/>
<circle cx="279.66" cy="754" r="2.8" fill="#dd6a55"/>
<circle cx="305.78" cy="752.8" r="2.8" fill="#dd6a55"/>
<line x1="70.7" y1="765.2" x2="70.7" y2="767.6" stroke="#6aaed6" stroke-width="1.8" stroke-linecap="butt"/>
<line x1="67.1" y1="765.2" x2="74.3" y2="765.2" stroke="#6aaed6" stroke-width="1.8" stroke-linecap="butt"/>
<line x1="67.1" y1="767.6" x2="74.3" y2="767.6" stroke="#6aaed6" stroke-width="1.8" stroke-linecap="butt"/>
<circle cx="70.7" cy="766.4" r="2.8" fill="#6aaed6"/>
<line x1="96.82" y1="760.5" x2="96.82" y2="764" stroke="#6aaed6" stroke-width="1.8" stroke-linecap="butt"/>
<line x1="93.22" y1="760.5" x2="100.42" y2="760.5" stroke="#6aaed6" stroke-width="1.8" stroke-linecap="butt"/>
<line x1="93.22" y1="764" x2="100.42" y2="764" stroke="#6aaed6" stroke-width="1.8" stroke-linecap="butt"/>
<circle cx="96.82" cy="762.3" r="2.8" fill="#6aaed6"/>
<line x1="122.94" y1="756.2" x2="122.94" y2="761.3" stroke="#6aaed6" stroke-width="1.8" stroke-linecap="butt"/>
<line x1="119.34" y1="756.2" x2="126.54" y2="756.2" stroke="#6aaed6" stroke-width="1.8" stroke-linecap="butt"/>
<line x1="119.34" y1="761.3" x2="126.54" y2="761.3" stroke="#6aaed6" stroke-width="1.8" stroke-linecap="butt"/>
<circle cx="122.94" cy="759.3" r="2.8" fill="#6aaed6"/>
<line x1="149.06" y1="749" x2="149.06" y2="761.3" stroke="#6aaed6" stroke-width="1.8" stroke-linecap="butt"/>
<line x1="145.46" y1="749" x2="152.66" y2="749" stroke="#6aaed6" stroke-width="1.8" stroke-linecap="butt"/>
<line x1="145.46" y1="761.3" x2="152.66" y2="761.3" stroke="#6aaed6" stroke-width="1.8" stroke-linecap="butt"/>
<circle cx="149.06" cy="756.2" r="2.8" fill="#6aaed6"/>
<line x1="163.43" y1="741.9" x2="163.43" y2="761.3" stroke="#6aaed6" stroke-width="1.8" stroke-linecap="butt"/>
<line x1="159.83" y1="741.9" x2="167.03" y2="741.9" stroke="#6aaed6" stroke-width="1.8" stroke-linecap="butt"/>
<line x1="159.83" y1="761.3" x2="167.03" y2="761.3" stroke="#6aaed6" stroke-width="1.8" stroke-linecap="butt"/>
<circle cx="163.43" cy="753.5" r="2.8" fill="#6aaed6"/>
</g></svg>
<rect x="47.3" y="555.3" width="282.1" height="216.7" fill="none" stroke="#000" stroke-width="1.3"/>
<line x1="47.3" y1="663.7" x2="329.4" y2="663.7" stroke="#000" stroke-width="1.3" stroke-linecap="butt"/>
<line x1="41.3" y1="660.1" x2="47.3" y2="660.1" stroke="#000" stroke-width="1.2" stroke-linecap="butt"/>
<text x="35.1" y="663.23" font-size="8.7" text-anchor="end" fill="#000" textLength="5.22" lengthAdjust="spacingAndGlyphs" stroke="#000" stroke-width="0.15">0</text>
<line x1="41.3" y1="636.96" x2="47.3" y2="636.96" stroke="#000" stroke-width="1.2" stroke-linecap="butt"/>
<text x="35.1" y="640.09" font-size="8.7" text-anchor="end" fill="#000" textLength="15.65" lengthAdjust="spacingAndGlyphs" stroke="#000" stroke-width="0.15">200</text>
<line x1="41.3" y1="613.82" x2="47.3" y2="613.82" stroke="#000" stroke-width="1.2" stroke-linecap="butt"/>
<text x="35.1" y="616.95" font-size="8.7" text-anchor="end" fill="#000" textLength="15.65" lengthAdjust="spacingAndGlyphs" stroke="#000" stroke-width="0.15">400</text>
<line x1="41.3" y1="590.68" x2="47.3" y2="590.68" stroke="#000" stroke-width="1.2" stroke-linecap="butt"/>
<text x="35.1" y="593.81" font-size="8.7" text-anchor="end" fill="#000" textLength="15.65" lengthAdjust="spacingAndGlyphs" stroke="#000" stroke-width="0.15">600</text>
<line x1="41.3" y1="567.54" x2="47.3" y2="567.54" stroke="#000" stroke-width="1.2" stroke-linecap="butt"/>
<text x="35.1" y="570.67" font-size="8.7" text-anchor="end" fill="#000" textLength="15.65" lengthAdjust="spacingAndGlyphs" stroke="#000" stroke-width="0.15">800</text>
<line x1="41.3" y1="768.5" x2="47.3" y2="768.5" stroke="#000" stroke-width="1.2" stroke-linecap="butt"/>
<text x="35.1" y="771.63" font-size="8.7" text-anchor="end" fill="#000" textLength="5.22" lengthAdjust="spacingAndGlyphs" stroke="#000" stroke-width="0.15">0</text>
<line x1="41.3" y1="740.58" x2="47.3" y2="740.58" stroke="#000" stroke-width="1.2" stroke-linecap="butt"/>
<text x="35.1" y="743.71" font-size="8.7" text-anchor="end" fill="#000" textLength="15.65" lengthAdjust="spacingAndGlyphs" stroke="#000" stroke-width="0.15">200</text>
<line x1="41.3" y1="712.66" x2="47.3" y2="712.66" stroke="#000" stroke-width="1.2" stroke-linecap="butt"/>
<text x="35.1" y="715.79" font-size="8.7" text-anchor="end" fill="#000" textLength="15.65" lengthAdjust="spacingAndGlyphs" stroke="#000" stroke-width="0.15">400</text>
<line x1="41.3" y1="684.74" x2="47.3" y2="684.74" stroke="#000" stroke-width="1.2" stroke-linecap="butt"/>
<text x="35.1" y="687.87" font-size="8.7" text-anchor="end" fill="#000" textLength="15.65" lengthAdjust="spacingAndGlyphs" stroke="#000" stroke-width="0.15">600</text>
<line x1="70.7" y1="772" x2="70.7" y2="778" stroke="#000" stroke-width="1.2" stroke-linecap="butt"/>
<text x="70.7" y="789.6" font-size="8.7" text-anchor="middle" fill="#000" textLength="5.22" lengthAdjust="spacingAndGlyphs" stroke="#000" stroke-width="0.15">1</text>
<line x1="96.82" y1="772" x2="96.82" y2="778" stroke="#000" stroke-width="1.2" stroke-linecap="butt"/>
<text x="96.82" y="789.6" font-size="8.7" text-anchor="middle" fill="#000" textLength="5.22" lengthAdjust="spacingAndGlyphs" stroke="#000" stroke-width="0.15">2</text>
<line x1="122.94" y1="772" x2="122.94" y2="778" stroke="#000" stroke-width="1.2" stroke-linecap="butt"/>
<text x="122.94" y="789.6" font-size="8.7" text-anchor="middle" fill="#000" textLength="5.22" lengthAdjust="spacingAndGlyphs" stroke="#000" stroke-width="0.15">3</text>
<line x1="149.06" y1="772" x2="149.06" y2="778" stroke="#000" stroke-width="1.2" stroke-linecap="butt"/>
<text x="149.06" y="789.6" font-size="8.7" text-anchor="middle" fill="#000" textLength="5.22" lengthAdjust="spacingAndGlyphs" stroke="#000" stroke-width="0.15">4</text>
<line x1="175.18" y1="772" x2="175.18" y2="778" stroke="#000" stroke-width="1.2" stroke-linecap="butt"/>
<text x="175.18" y="789.6" font-size="8.7" text-anchor="middle" fill="#000" textLength="5.22" lengthAdjust="spacingAndGlyphs" stroke="#000" stroke-width="0.15">5</text>
<line x1="201.3" y1="772" x2="201.3" y2="778" stroke="#000" stroke-width="1.2" stroke-linecap="butt"/>
<text x="201.3" y="789.6" font-size="8.7" text-anchor="middle" fill="#000" textLength="5.22" lengthAdjust="spacingAndGlyphs" stroke="#000" stroke-width="0.15">6</text>
<line x1="227.42" y1="772" x2="227.42" y2="778" stroke="#000" stroke-width="1.2" stroke-linecap="butt"/>
<text x="227.42" y="789.6" font-size="8.7" text-anchor="middle" fill="#000" textLength="5.22" lengthAdjust="spacingAndGlyphs" stroke="#000" stroke-width="0.15">7</text>
<line x1="253.54" y1="772" x2="253.54" y2="778" stroke="#000" stroke-width="1.2" stroke-linecap="butt"/>
<text x="253.54" y="789.6" font-size="8.7" text-anchor="middle" fill="#000" textLength="5.22" lengthAdjust="spacingAndGlyphs" stroke="#000" stroke-width="0.15">8</text>
<line x1="279.66" y1="772" x2="279.66" y2="778" stroke="#000" stroke-width="1.2" stroke-linecap="butt"/>
<text x="279.66" y="789.6" font-size="8.7" text-anchor="middle" fill="#000" textLength="5.22" lengthAdjust="spacingAndGlyphs" stroke="#000" stroke-width="0.15">9</text>
<line x1="305.78" y1="772" x2="305.78" y2="778" stroke="#000" stroke-width="1.2" stroke-linecap="butt"/>
<text x="305.78" y="789.6" font-size="8.7" text-anchor="middle" fill="#000" textLength="10.43" lengthAdjust="spacingAndGlyphs" stroke="#000" stroke-width="0.15">10</text>
<text x="11.6" y="609.6" font-size="8.3" text-anchor="middle" fill="#000" textLength="66.12" lengthAdjust="spacingAndGlyphs" transform="rotate(-90 11.6 609.6)" stroke="#000" stroke-width="0.15">TCR (mm<tspan dy="-2.99" font-size="5.48">2</tspan><tspan dy="2.99">WK</tspan><tspan dy="-2.99" font-size="5.48">−1</tspan><tspan dy="2.99">)</tspan></text>
<text x="11.8" y="717.5" font-size="8.25" text-anchor="middle" fill="#000" textLength="103.12" lengthAdjust="spacingAndGlyphs" transform="rotate(-90 11.8 717.5)" stroke="#000" stroke-width="0.15">Predicted TCC (KW<tspan dy="-2.97" font-size="5.45">−1</tspan><tspan dy="2.97">m</tspan><tspan dy="-2.97" font-size="5.45">−2</tspan><tspan dy="2.97">)</tspan></text>
<text x="188.4" y="804.6" font-size="8.3" text-anchor="middle" fill="#000" textLength="96.37" lengthAdjust="spacingAndGlyphs" stroke="#000" stroke-width="0.15">Contact Pressure (MPa)</text>
<rect x="395.6" y="555.3" width="281.6" height="216.5" fill="#fff"/>
<line x1="419" y1="560.01" x2="419" y2="569.34" stroke="#c21d2b" stroke-width="1.8" stroke-linecap="butt"/>
<line x1="419" y1="575.28" x2="419" y2="579.44" stroke="#c21d2b" stroke-width="1.8" stroke-linecap="butt"/>
<line x1="412.4" y1="560.01" x2="425.6" y2="560.01" stroke="#c21d2b" stroke-width="1.8" stroke-linecap="butt"/>
<line x1="412.4" y1="579.44" x2="425.6" y2="579.44" stroke="#c21d2b" stroke-width="1.8" stroke-linecap="butt"/>
<rect x="408.4" y="569.34" width="21.2" height="5.94" fill="#fff" stroke="#c21d2b" stroke-width="1.8"/>
<line x1="408.4" y1="572.07" x2="429.6" y2="572.07" stroke="#c21d2b" stroke-width="1.8" stroke-linecap="butt"/>
<line x1="445.07" y1="604.69" x2="445.07" y2="608.78" stroke="#c21d2b" stroke-width="1.8" stroke-linecap="butt"/>
<line x1="445.07" y1="612.94" x2="445.07" y2="615.44" stroke="#c21d2b" stroke-width="1.8" stroke-linecap="butt"/>
<line x1="438.47" y1="604.69" x2="451.67" y2="604.69" stroke="#c21d2b" stroke-width="1.8" stroke-linecap="butt"/>
<line x1="438.47" y1="615.44" x2="451.67" y2="615.44" stroke="#c21d2b" stroke-width="1.8" stroke-linecap="butt"/>
<rect x="434.47" y="608.78" width="21.2" height="4.16" fill="#fff" stroke="#c21d2b" stroke-width="1.8"/>
<line x1="434.47" y1="610.27" x2="455.67" y2="610.27" stroke="#c21d2b" stroke-width="1.8" stroke-linecap="butt"/>
<line x1="471.14" y1="618.82" x2="471.14" y2="623.58" stroke="#c21d2b" stroke-width="1.8" stroke-linecap="butt"/>
<line x1="471.14" y1="628.39" x2="471.14" y2="630.17" stroke="#c21d2b" stroke-width="1.8" stroke-linecap="butt"/>
<line x1="464.54" y1="618.82" x2="477.74" y2="618.82" stroke="#c21d2b" stroke-width="1.8" stroke-linecap="butt"/>
<line x1="464.54" y1="630.17" x2="477.74" y2="630.17" stroke="#c21d2b" stroke-width="1.8" stroke-linecap="butt"/>
<rect x="460.54" y="623.58" width="21.2" height="4.81" fill="#fff" stroke="#c21d2b" stroke-width="1.8"/>
<line x1="460.54" y1="625.78" x2="481.74" y2="625.78" stroke="#c21d2b" stroke-width="1.8" stroke-linecap="butt"/>
<line x1="497.21" y1="625.78" x2="497.21" y2="630.17" stroke="#c21d2b" stroke-width="1.8" stroke-linecap="butt"/>
<line x1="497.21" y1="635.04" x2="497.21" y2="636.11" stroke="#c21d2b" stroke-width="1.8" stroke-linecap="butt"/>
<line x1="490.61" y1="625.78" x2="503.81" y2="625.78" stroke="#c21d2b" stroke-width="1.8" stroke-linecap="butt"/>
<line x1="490.61" y1="636.11" x2="503.81" y2="636.11" stroke="#c21d2b" stroke-width="1.8" stroke-linecap="butt"/>
<rect x="486.61" y="630.17" width="21.2" height="4.87" fill="#fff" stroke="#c21d2b" stroke-width="1.8"/>
<line x1="486.61" y1="632.61" x2="507.81" y2="632.61" stroke="#c21d2b" stroke-width="1.8" stroke-linecap="butt"/>
<line x1="523.28" y1="629.46" x2="523.28" y2="633.56" stroke="#c21d2b" stroke-width="1.8" stroke-linecap="butt"/>
<line x1="523.28" y1="638.01" x2="523.28" y2="639.5" stroke="#c21d2b" stroke-width="1.8" stroke-linecap="butt"/>
<line x1="516.68" y1="629.46" x2="529.88" y2="629.46" stroke="#c21d2b" stroke-width="1.8" stroke-linecap="butt"/>
<line x1="516.68" y1="639.5" x2="529.88" y2="639.5" stroke="#c21d2b" stroke-width="1.8" stroke-linecap="butt"/>
<rect x="512.68" y="633.56" width="21.2" height="4.46" fill="#fff" stroke="#c21d2b" stroke-width="1.8"/>
<line x1="512.68" y1="635.34" x2="533.88" y2="635.34" stroke="#c21d2b" stroke-width="1.8" stroke-linecap="butt"/>
<line x1="549.35" y1="632.9" x2="549.35" y2="636.77" stroke="#c21d2b" stroke-width="1.8" stroke-linecap="butt"/>
<line x1="549.35" y1="640.63" x2="549.35" y2="643.18" stroke="#c21d2b" stroke-width="1.8" stroke-linecap="butt"/>
<line x1="542.75" y1="632.9" x2="555.95" y2="632.9" stroke="#c21d2b" stroke-width="1.8" stroke-linecap="butt"/>
<line x1="542.75" y1="643.18" x2="555.95" y2="643.18" stroke="#c21d2b" stroke-width="1.8" stroke-linecap="butt"/>
<rect x="538.75" y="636.77" width="21.2" height="3.86" fill="#fff" stroke="#c21d2b" stroke-width="1.8"/>
<line x1="538.75" y1="639.2" x2="559.95" y2="639.2" stroke="#c21d2b" stroke-width="1.8" stroke-linecap="butt"/>
<line x1="575.42" y1="635.34" x2="575.42" y2="639.2" stroke="#c21d2b" stroke-width="1.8" stroke-linecap="butt"/>
<line x1="575.42" y1="643.9" x2="575.42" y2="645.74" stroke="#c21d2b" stroke-width="1.8" stroke-linecap="butt"/>
<line x1="568.82" y1="635.34" x2="582.02" y2="635.34" stroke="#c21d2b" stroke-width="1.8" stroke-linecap="butt"/>
<line x1="568.82" y1="645.74" x2="582.02" y2="645.74" stroke="#c21d2b" stroke-width="1.8" stroke-linecap="butt"/>
<rect x="564.82" y="639.2" width="21.2" height="4.69" fill="#fff" stroke="#c21d2b" stroke-width="1.8"/>
<line x1="564.82" y1="641.76" x2="586.02" y2="641.76" stroke="#c21d2b" stroke-width="1.8" stroke-linecap="butt"/>
<line x1="601.49" y1="637.78" x2="601.49" y2="641.34" stroke="#c21d2b" stroke-width="1.8" stroke-linecap="butt"/>
<line x1="601.49" y1="644.91" x2="601.49" y2="646.75" stroke="#c21d2b" stroke-width="1.8" stroke-linecap="butt"/>
<line x1="594.89" y1="637.78" x2="608.09" y2="637.78" stroke="#c21d2b" stroke-width="1.8" stroke-linecap="butt"/>
<line x1="594.89" y1="646.75" x2="608.09" y2="646.75" stroke="#c21d2b" stroke-width="1.8" stroke-linecap="butt"/>
<rect x="590.89" y="641.34" width="21.2" height="3.56" fill="#fff" stroke="#c21d2b" stroke-width="1.8"/>
<line x1="590.89" y1="643.12" x2="612.09" y2="643.12" stroke="#c21d2b" stroke-width="1.8" stroke-linecap="butt"/>
<line x1="627.56" y1="640.03" x2="627.56" y2="642.89" stroke="#c21d2b" stroke-width="1.8" stroke-linecap="butt"/>
<line x1="627.56" y1="646.51" x2="627.56" y2="647.94" stroke="#c21d2b" stroke-width="1.8" stroke-linecap="butt"/>
<line x1="620.96" y1="640.03" x2="634.16" y2="640.03" stroke="#c21d2b" stroke-width="1.8" stroke-linecap="butt"/>
<line x1="620.96" y1="647.94" x2="634.16" y2="647.94" stroke="#c21d2b" stroke-width="1.8" stroke-linecap="butt"/>
<rect x="616.96" y="642.89" width="21.2" height="3.62" fill="#fff" stroke="#c21d2b" stroke-width="1.8"/>
<line x1="616.96" y1="644.67" x2="638.16" y2="644.67" stroke="#c21d2b" stroke-width="1.8" stroke-linecap="butt"/>
<line x1="653.63" y1="641.46" x2="653.63" y2="644.31" stroke="#c21d2b" stroke-width="1.8" stroke-linecap="butt"/>
<line x1="653.63" y1="647.46" x2="653.63" y2="649.18" stroke="#c21d2b" stroke-width="1.8" stroke-linecap="butt"/>
<line x1="647.03" y1="641.46" x2="660.23" y2="641.46" stroke="#c21d2b" stroke-width="1.8" stroke-linecap="butt"/>
<line x1="647.03" y1="649.18" x2="660.23" y2="649.18" stroke="#c21d2b" stroke-width="1.8" stroke-linecap="butt"/>
<rect x="643.03" y="644.31" width="21.2" height="3.15" fill="#fff" stroke="#c21d2b" stroke-width="1.8"/>
<line x1="643.03" y1="645.74" x2="664.23" y2="645.74" stroke="#c21d2b" stroke-width="1.8" stroke-linecap="butt"/>
<line x1="419" y1="764.5" x2="419" y2="765" stroke="#c21d2b" stroke-width="1.8" stroke-linecap="butt"/>
<line x1="419" y1="766" x2="419" y2="766.5" stroke="#c21d2b" stroke-width="1.8" stroke-linecap="butt"/>
<line x1="412.4" y1="764.5" x2="425.6" y2="764.5" stroke="#c21d2b" stroke-width="1.8" stroke-linecap="butt"/>
<line x1="412.4" y1="766.5" x2="425.6" y2="766.5" stroke="#c21d2b" stroke-width="1.8" stroke-linecap="butt"/>
<rect x="408.4" y="765" width="21.2" height="1" fill="#fff" stroke="#c21d2b" stroke-width="1.8"/>
<line x1="408.4" y1="765.5" x2="429.6" y2="765.5" stroke="#c21d2b" stroke-width="1.8" stroke-linecap="butt"/>
<line x1="445.07" y1="751" x2="445.07" y2="753" stroke="#c21d2b" stroke-width="1.8" stroke-linecap="butt"/>
<line x1="445.07" y1="756.6" x2="445.07" y2="758.5" stroke="#c21d2b" stroke-width="1.8" stroke-linecap="butt"/>
<line x1="438.47" y1="751" x2="451.67" y2="751" stroke="#c21d2b" stroke-width="1.8" stroke-linecap="butt"/>
<line x1="438.47" y1="758.5" x2="451.67" y2="758.5" stroke="#c21d2b" stroke-width="1.8" stroke-linecap="butt"/>
<rect x="434.47" y="753" width="21.2" height="3.6" fill="#fff" stroke="#c21d2b" stroke-width="1.8"/>
<line x1="434.47" y1="754.8" x2="455.67" y2="754.8" stroke="#c21d2b" stroke-width="1.8" stroke-linecap="butt"/>
<line x1="471.14" y1="745.5" x2="471.14" y2="748.4" stroke="#c21d2b" stroke-width="1.8" stroke-linecap="butt"/>
<line x1="471.14" y1="751.2" x2="471.14" y2="753.5" stroke="#c21d2b" stroke-width="1.8" stroke-linecap="butt"/>
<line x1="464.54" y1="745.5" x2="477.74" y2="745.5" stroke="#c21d2b" stroke-width="1.8" stroke-linecap="butt"/>
<line x1="464.54" y1="753.5" x2="477.74" y2="753.5" stroke="#c21d2b" stroke-width="1.8" stroke-linecap="butt"/>
<rect x="460.54" y="748.4" width="21.2" height="2.8" fill="#fff" stroke="#c21d2b" stroke-width="1.8"/>
<line x1="460.54" y1="749.8" x2="481.74" y2="749.8" stroke="#c21d2b" stroke-width="1.8" stroke-linecap="butt"/>
<line x1="497.21" y1="739" x2="497.21" y2="741.8" stroke="#c21d2b" stroke-width="1.8" stroke-linecap="butt"/>
<line x1="497.21" y1="745.7" x2="497.21" y2="748" stroke="#c21d2b" stroke-width="1.8" stroke-linecap="butt"/>
<line x1="490.61" y1="739" x2="503.81" y2="739" stroke="#c21d2b" stroke-width="1.8" stroke-linecap="butt"/>
<line x1="490.61" y1="748" x2="503.81" y2="748" stroke="#c21d2b" stroke-width="1.8" stroke-linecap="butt"/>
<rect x="486.61" y="741.8" width="21.2" height="3.9" fill="#fff" stroke="#c21d2b" stroke-width="1.8"/>
<line x1="486.61" y1="743.8" x2="507.81" y2="743.8" stroke="#c21d2b" stroke-width="1.8" stroke-linecap="butt"/>
<line x1="523.28" y1="735.2" x2="523.28" y2="738.8" stroke="#c21d2b" stroke-width="1.8" stroke-linecap="butt"/>
<line x1="523.28" y1="743.3" x2="523.28" y2="746" stroke="#c21d2b" stroke-width="1.8" stroke-linecap="butt"/>
<line x1="516.68" y1="735.2" x2="529.88" y2="735.2" stroke="#c21d2b" stroke-width="1.8" stroke-linecap="butt"/>
<line x1="516.68" y1="746" x2="529.88" y2="746" stroke="#c21d2b" stroke-width="1.8" stroke-linecap="butt"/>
<rect x="512.68" y="738.8" width="21.2" height="4.5" fill="#fff" stroke="#c21d2b" stroke-width="1.8"/>
<line x1="512.68" y1="741" x2="533.88" y2="741" stroke="#c21d2b" stroke-width="1.8" stroke-linecap="butt"/>
<line x1="549.35" y1="732.2" x2="549.35" y2="734.3" stroke="#c21d2b" stroke-width="1.8" stroke-linecap="butt"/>
<line x1="549.35" y1="739.7" x2="549.35" y2="742.5" stroke="#c21d2b" stroke-width="1.8" stroke-linecap="butt"/>
<line x1="542.75" y1="732.2" x2="555.95" y2="732.2" stroke="#c21d2b" stroke-width="1.8" stroke-linecap="butt"/>
<line x1="542.75" y1="742.5" x2="555.95" y2="742.5" stroke="#c21d2b" stroke-width="1.8" stroke-linecap="butt"/>
<rect x="538.75" y="734.3" width="21.2" height="5.4" fill="#fff" stroke="#c21d2b" stroke-width="1.8"/>
<line x1="538.75" y1="737" x2="559.95" y2="737" stroke="#c21d2b" stroke-width="1.8" stroke-linecap="butt"/>
<line x1="575.42" y1="728.3" x2="575.42" y2="731.3" stroke="#c21d2b" stroke-width="1.8" stroke-linecap="butt"/>
<line x1="575.42" y1="736.7" x2="575.42" y2="739.5" stroke="#c21d2b" stroke-width="1.8" stroke-linecap="butt"/>
<line x1="568.82" y1="728.3" x2="582.02" y2="728.3" stroke="#c21d2b" stroke-width="1.8" stroke-linecap="butt"/>
<line x1="568.82" y1="739.5" x2="582.02" y2="739.5" stroke="#c21d2b" stroke-width="1.8" stroke-linecap="butt"/>
<rect x="564.82" y="731.3" width="21.2" height="5.4" fill="#fff" stroke="#c21d2b" stroke-width="1.8"/>
<line x1="564.82" y1="734" x2="586.02" y2="734" stroke="#c21d2b" stroke-width="1.8" stroke-linecap="butt"/>
<line x1="601.49" y1="724.4" x2="601.49" y2="727.7" stroke="#c21d2b" stroke-width="1.8" stroke-linecap="butt"/>
<line x1="601.49" y1="733.7" x2="601.49" y2="736.5" stroke="#c21d2b" stroke-width="1.8" stroke-linecap="butt"/>
<line x1="594.89" y1="724.4" x2="608.09" y2="724.4" stroke="#c21d2b" stroke-width="1.8" stroke-linecap="butt"/>
<line x1="594.89" y1="736.5" x2="608.09" y2="736.5" stroke="#c21d2b" stroke-width="1.8" stroke-linecap="butt"/>
<rect x="590.89" y="727.7" width="21.2" height="6" fill="#fff" stroke="#c21d2b" stroke-width="1.8"/>
<line x1="590.89" y1="730.7" x2="612.09" y2="730.7" stroke="#c21d2b" stroke-width="1.8" stroke-linecap="butt"/>
<line x1="627.56" y1="720.8" x2="627.56" y2="724.4" stroke="#c21d2b" stroke-width="1.8" stroke-linecap="butt"/>
<line x1="627.56" y1="731.3" x2="627.56" y2="734.5" stroke="#c21d2b" stroke-width="1.8" stroke-linecap="butt"/>
<line x1="620.96" y1="720.8" x2="634.16" y2="720.8" stroke="#c21d2b" stroke-width="1.8" stroke-linecap="butt"/>
<line x1="620.96" y1="734.5" x2="634.16" y2="734.5" stroke="#c21d2b" stroke-width="1.8" stroke-linecap="butt"/>
<rect x="616.96" y="724.4" width="21.2" height="6.9" fill="#fff" stroke="#c21d2b" stroke-width="1.8"/>
<line x1="616.96" y1="728" x2="638.16" y2="728" stroke="#c21d2b" stroke-width="1.8" stroke-linecap="butt"/>
<line x1="653.63" y1="717.9" x2="653.63" y2="721.4" stroke="#c21d2b" stroke-width="1.8" stroke-linecap="butt"/>
<line x1="653.63" y1="728.3" x2="653.63" y2="731.3" stroke="#c21d2b" stroke-width="1.8" stroke-linecap="butt"/>
<line x1="647.03" y1="717.9" x2="660.23" y2="717.9" stroke="#c21d2b" stroke-width="1.8" stroke-linecap="butt"/>
<line x1="647.03" y1="731.3" x2="660.23" y2="731.3" stroke="#c21d2b" stroke-width="1.8" stroke-linecap="butt"/>
<rect x="643.03" y="721.4" width="21.2" height="6.9" fill="#fff" stroke="#c21d2b" stroke-width="1.8"/>
<line x1="643.03" y1="725" x2="664.23" y2="725" stroke="#c21d2b" stroke-width="1.8" stroke-linecap="butt"/>
<svg x="395.6" y="555.3" width="281.6" height="108.4" overflow="hidden"><g transform="translate(-395.6 -555.3)">
<polyline points="419,561.7 445.07,614.2 471.14,632.2 497.21,642.3 523.28,648.2 549.35,650.2 575.42,653.9 601.49,655.9 627.56,657.6 653.63,658.2" fill="none" stroke="#6b0320" stroke-width="2.6" stroke-linecap="butt" stroke-linejoin="round" stroke-dasharray="2.4,2.3"/>
<path d="M414.4 557.79L423.6 557.79L419 566.07Z" fill="#6b0320"/>
<path d="M440.47 610.29L449.67 610.29L445.07 618.57Z" fill="#6b0320"/>
<path d="M466.54 628.29L475.74 628.29L471.14 636.57Z" fill="#6b0320"/>
<path d="M492.61 638.39L501.81 638.39L497.21 646.67Z" fill="#6b0320"/>
<path d="M518.68 644.29L527.88 644.29L523.28 652.57Z" fill="#6b0320"/>
<path d="M544.75 646.29L553.95 646.29L549.35 654.57Z" fill="#6b0320"/>
<path d="M570.82 649.99L580.02 649.99L575.42 658.27Z" fill="#6b0320"/>
<path d="M596.89 651.99L606.09 651.99L601.49 660.27Z" fill="#6b0320"/>
<path d="M622.96 653.69L632.16 653.69L627.56 661.97Z" fill="#6b0320"/>
<path d="M649.03 654.29L658.23 654.29L653.63 662.57Z" fill="#6b0320"/>
<polyline points="419,600.9 445.07,612.6 471.14,628.3 497.21,636.4 523.28,638.2 549.35,638.2 575.42,637.5 601.49,637.8 627.56,638.2 653.63,638.8" fill="none" stroke="#3377b8" stroke-width="2.6" stroke-linecap="butt" stroke-linejoin="round" stroke-dasharray="8,3"/>
<path d="M419 595.6L424.3 600.9L419 606.2L413.7 600.9Z" fill="#3377b8"/>
<path d="M445.07 607.3L450.37 612.6L445.07 617.9L439.77 612.6Z" fill="#3377b8"/>
<path d="M471.14 623L476.44 628.3L471.14 633.6L465.84 628.3Z" fill="#3377b8"/>
<path d="M497.21 631.1L502.51 636.4L497.21 641.7L491.91 636.4Z" fill="#3377b8"/>
<path d="M523.28 632.9L528.58 638.2L523.28 643.5L517.98 638.2Z" fill="#3377b8"/>
<path d="M549.35 632.9L554.65 638.2L549.35 643.5L544.05 638.2Z" fill="#3377b8"/>
<path d="M575.42 632.2L580.72 637.5L575.42 642.8L570.12 637.5Z" fill="#3377b8"/>
<path d="M601.49 632.5L606.79 637.8L601.49 643.1L596.19 637.8Z" fill="#3377b8"/>
<path d="M627.56 632.9L632.86 638.2L627.56 643.5L622.26 638.2Z" fill="#3377b8"/>
<path d="M653.63 633.5L658.93 638.8L653.63 644.1L648.33 638.8Z" fill="#3377b8"/>
<polyline points="419,573.4 421.01,575.91 423.68,579.39 426.87,583.56 430.41,588.1 434.15,592.73 437.94,597.16 441.63,601.08 445.07,604.2 448.33,606.56 451.59,608.45 454.85,609.98 458.11,611.23 461.36,612.3 464.62,613.28 467.88,614.29 471.14,615.4 474.4,616.57 477.66,617.7 480.92,618.77 484.18,619.79 487.43,620.77 490.69,621.69 493.95,622.57 497.21,623.4 500.47,624.17 503.73,624.86 506.99,625.5 510.24,626.09 513.5,626.65 516.76,627.2 520.02,627.74 523.28,628.3 526.54,628.87 529.8,629.43 533.06,629.98 536.32,630.52 539.57,631.05 542.83,631.56 546.09,632.04 549.35,632.5 552.61,632.93 555.87,633.32 559.13,633.69 562.38,634.04 565.64,634.38 568.9,634.71 572.16,635.05 575.42,635.4 578.68,635.76 581.94,636.12 585.2,636.48 588.46,636.84 591.71,637.19 594.97,637.54 598.23,637.87 601.49,638.2 604.75,638.52 608.01,638.84 611.27,639.15 614.52,639.45 617.78,639.74 621.04,640.01 624.3,640.27 627.56,640.5 631,640.71 634.69,640.91 638.48,641.08 642.22,641.24 645.76,641.39 648.95,641.51 651.62,641.61 653.63,641.7" fill="none" stroke="#dd6a55" stroke-width="2.2" stroke-linecap="butt" stroke-linejoin="round"/>
<circle cx="419" cy="573.4" r="2.8" fill="#dd6a55"/>
<circle cx="445.07" cy="604.2" r="2.8" fill="#dd6a55"/>
<circle cx="471.14" cy="615.4" r="2.8" fill="#dd6a55"/>
<circle cx="497.21" cy="623.4" r="2.8" fill="#dd6a55"/>
<circle cx="523.28" cy="628.3" r="2.8" fill="#dd6a55"/>
<circle cx="549.35" cy="632.5" r="2.8" fill="#dd6a55"/>
<circle cx="575.42" cy="635.4" r="2.8" fill="#dd6a55"/>
<circle cx="601.49" cy="638.2" r="2.8" fill="#dd6a55"/>
<circle cx="627.56" cy="640.5" r="2.8" fill="#dd6a55"/>
<circle cx="653.63" cy="641.7" r="2.8" fill="#dd6a55"/>
<line x1="419" y1="563.22" x2="419" y2="574.86" stroke="#6aaed6" stroke-width="1.8" stroke-linecap="butt"/>
<line x1="415.4" y1="563.22" x2="422.6" y2="563.22" stroke="#6aaed6" stroke-width="1.8" stroke-linecap="butt"/>
<line x1="415.4" y1="574.86" x2="422.6" y2="574.86" stroke="#6aaed6" stroke-width="1.8" stroke-linecap="butt"/>
<circle cx="419" cy="568.74" r="2.8" fill="#6aaed6"/>
<line x1="445.07" y1="602.19" x2="445.07" y2="609.56" stroke="#6aaed6" stroke-width="1.8" stroke-linecap="butt"/>
<line x1="441.47" y1="602.19" x2="448.67" y2="602.19" stroke="#6aaed6" stroke-width="1.8" stroke-linecap="butt"/>
<line x1="441.47" y1="609.56" x2="448.67" y2="609.56" stroke="#6aaed6" stroke-width="1.8" stroke-linecap="butt"/>
<circle cx="445.07" cy="605.87" r="2.8" fill="#6aaed6"/>
<line x1="471.14" y1="618.11" x2="471.14" y2="623.28" stroke="#6aaed6" stroke-width="1.8" stroke-linecap="butt"/>
<line x1="467.54" y1="618.11" x2="474.74" y2="618.11" stroke="#6aaed6" stroke-width="1.8" stroke-linecap="butt"/>
<line x1="467.54" y1="623.28" x2="474.74" y2="623.28" stroke="#6aaed6" stroke-width="1.8" stroke-linecap="butt"/>
<circle cx="471.14" cy="621.02" r="2.8" fill="#6aaed6"/>
<line x1="497.21" y1="631.66" x2="497.21" y2="636.53" stroke="#6aaed6" stroke-width="1.8" stroke-linecap="butt"/>
<line x1="493.61" y1="631.66" x2="500.81" y2="631.66" stroke="#6aaed6" stroke-width="1.8" stroke-linecap="butt"/>
<line x1="493.61" y1="636.53" x2="500.81" y2="636.53" stroke="#6aaed6" stroke-width="1.8" stroke-linecap="butt"/>
<circle cx="497.21" cy="634.15" r="2.8" fill="#6aaed6"/>
<line x1="523.28" y1="637.54" x2="523.28" y2="641.28" stroke="#6aaed6" stroke-width="1.8" stroke-linecap="butt"/>
<line x1="519.68" y1="637.54" x2="526.88" y2="637.54" stroke="#6aaed6" stroke-width="1.8" stroke-linecap="butt"/>
<line x1="519.68" y1="641.28" x2="526.88" y2="641.28" stroke="#6aaed6" stroke-width="1.8" stroke-linecap="butt"/>
<circle cx="523.28" cy="639.32" r="2.8" fill="#6aaed6"/>
</g></svg>
<svg x="395.6" y="663.7" width="281.6" height="108.1" overflow="hidden"><g transform="translate(-395.6 -663.7)">
<polyline points="419,768 445.07,753 471.14,742.6 497.21,732.2 523.28,721.4 549.35,710.4 575.42,699.9 601.49,689.4 627.56,678.9 653.63,668.5" fill="none" stroke="#6b0320" stroke-width="2.6" stroke-linecap="butt" stroke-linejoin="round" stroke-dasharray="2.4,2.3"/>
<path d="M414.4 764.09L423.6 764.09L419 772.37Z" fill="#6b0320"/>
<path d="M440.47 749.09L449.67 749.09L445.07 757.37Z" fill="#6b0320"/>
<path d="M466.54 738.69L475.74 738.69L471.14 746.97Z" fill="#6b0320"/>
<path d="M492.61 728.29L501.81 728.29L497.21 736.57Z" fill="#6b0320"/>
<path d="M518.68 717.49L527.88 717.49L523.28 725.77Z" fill="#6b0320"/>
<path d="M544.75 706.49L553.95 706.49L549.35 714.77Z" fill="#6b0320"/>
<path d="M570.82 695.99L580.02 695.99L575.42 704.27Z" fill="#6b0320"/>
<path d="M596.89 685.49L606.09 685.49L601.49 693.77Z" fill="#6b0320"/>
<path d="M622.96 674.99L632.16 674.99L627.56 683.27Z" fill="#6b0320"/>
<path d="M649.03 664.59L658.23 664.59L653.63 672.87Z" fill="#6b0320"/>
<polyline points="419,759.6 445.07,754.3 471.14,747.3 497.21,738.8 523.28,737.3 549.35,735.8 575.42,737.3 601.49,737.3 627.56,737.3 653.63,735.8" fill="none" stroke="#3377b8" stroke-width="2.6" stroke-linecap="butt" stroke-linejoin="round" stroke-dasharray="8,3"/>
<path d="M419 754.3L424.3 759.6L419 764.9L413.7 759.6Z" fill="#3377b8"/>
<path d="M445.07 749L450.37 754.3L445.07 759.6L439.77 754.3Z" fill="#3377b8"/>
<path d="M471.14 742L476.44 747.3L471.14 752.6L465.84 747.3Z" fill="#3377b8"/>
<path d="M497.21 733.5L502.51 738.8L497.21 744.1L491.91 738.8Z" fill="#3377b8"/>
<path d="M523.28 732L528.58 737.3L523.28 742.6L517.98 737.3Z" fill="#3377b8"/>
<path d="M549.35 730.5L554.65 735.8L549.35 741.1L544.05 735.8Z" fill="#3377b8"/>
<path d="M575.42 732L580.72 737.3L575.42 742.6L570.12 737.3Z" fill="#3377b8"/>
<path d="M601.49 732L606.79 737.3L601.49 742.6L596.19 737.3Z" fill="#3377b8"/>
<path d="M627.56 732L632.86 737.3L627.56 742.6L622.26 737.3Z" fill="#3377b8"/>
<path d="M653.63 730.5L658.93 735.8L653.63 741.1L648.33 735.8Z" fill="#3377b8"/>
<polyline points="419,766 421.01,765.34 423.68,764.44 426.87,763.35 430.41,762.17 434.15,760.95 437.94,759.77 441.63,758.69 445.07,757.8 448.33,757.07 451.59,756.43 454.85,755.86 458.11,755.34 461.36,754.87 464.62,754.41 467.88,753.96 471.14,753.5 474.4,753.04 477.66,752.62 480.92,752.22 484.18,751.83 487.43,751.44 490.69,751.04 493.95,750.63 497.21,750.2 500.47,749.74 503.73,749.25 506.99,748.74 510.24,748.23 513.5,747.72 516.76,747.23 520.02,746.75 523.28,746.3 526.54,745.88 529.8,745.49 533.06,745.11 536.32,744.74 539.57,744.39 542.83,744.03 546.09,743.67 549.35,743.3 552.61,742.92 555.87,742.55 559.13,742.17 562.38,741.8 565.64,741.42 568.9,741.05 572.16,740.67 575.42,740.3 578.68,739.92 581.94,739.53 585.2,739.14 588.46,738.74 591.71,738.36 594.97,737.99 598.23,737.63 601.49,737.3 604.75,737 608.01,736.73 611.27,736.49 614.52,736.25 617.78,736.01 621.04,735.77 624.3,735.5 627.56,735.2 631,734.85 634.69,734.44 638.48,734.01 642.22,733.57 645.76,733.14 648.95,732.76 651.62,732.44 653.63,732.2" fill="none" stroke="#dd6a55" stroke-width="2.2" stroke-linecap="butt" stroke-linejoin="round"/>
<circle cx="419" cy="766" r="2.8" fill="#dd6a55"/>
<circle cx="445.07" cy="757.8" r="2.8" fill="#dd6a55"/>
<circle cx="471.14" cy="753.5" r="2.8" fill="#dd6a55"/>
<circle cx="497.21" cy="750.2" r="2.8" fill="#dd6a55"/>
<circle cx="523.28" cy="746.3" r="2.8" fill="#dd6a55"/>
<circle cx="549.35" cy="743.3" r="2.8" fill="#dd6a55"/>
<circle cx="575.42" cy="740.3" r="2.8" fill="#dd6a55"/>
<circle cx="601.49" cy="737.3" r="2.8" fill="#dd6a55"/>
<circle cx="627.56" cy="735.2" r="2.8" fill="#dd6a55"/>
<circle cx="653.63" cy="732.2" r="2.8" fill="#dd6a55"/>
<line x1="419" y1="764.1" x2="419" y2="766.5" stroke="#6aaed6" stroke-width="1.8" stroke-linecap="butt"/>
<line x1="415.4" y1="764.1" x2="422.6" y2="764.1" stroke="#6aaed6" stroke-width="1.8" stroke-linecap="butt"/>
<line x1="415.4" y1="766.5" x2="422.6" y2="766.5" stroke="#6aaed6" stroke-width="1.8" stroke-linecap="butt"/>
<circle cx="419" cy="765.3" r="2.8" fill="#6aaed6"/>
<line x1="445.07" y1="756.6" x2="445.07" y2="759" stroke="#6aaed6" stroke-width="1.8" stroke-linecap="butt"/>
<line x1="441.47" y1="756.6" x2="448.67" y2="756.6" stroke="#6aaed6" stroke-width="1.8" stroke-linecap="butt"/>
<line x1="441.47" y1="759" x2="448.67" y2="759" stroke="#6aaed6" stroke-width="1.8" stroke-linecap="butt"/>
<circle cx="445.07" cy="757.8" r="2.8" fill="#6aaed6"/>
<line x1="471.14" y1="750.5" x2="471.14" y2="753.5" stroke="#6aaed6" stroke-width="1.8" stroke-linecap="butt"/>
<line x1="467.54" y1="750.5" x2="474.74" y2="750.5" stroke="#6aaed6" stroke-width="1.8" stroke-linecap="butt"/>
<line x1="467.54" y1="753.5" x2="474.74" y2="753.5" stroke="#6aaed6" stroke-width="1.8" stroke-linecap="butt"/>
<circle cx="471.14" cy="752" r="2.8" fill="#6aaed6"/>
<line x1="497.21" y1="740.5" x2="497.21" y2="744.5" stroke="#6aaed6" stroke-width="1.8" stroke-linecap="butt"/>
<line x1="493.61" y1="740.5" x2="500.81" y2="740.5" stroke="#6aaed6" stroke-width="1.8" stroke-linecap="butt"/>
<line x1="493.61" y1="744.5" x2="500.81" y2="744.5" stroke="#6aaed6" stroke-width="1.8" stroke-linecap="butt"/>
<circle cx="497.21" cy="742.5" r="2.8" fill="#6aaed6"/>
<line x1="523.28" y1="735" x2="523.28" y2="738" stroke="#6aaed6" stroke-width="1.8" stroke-linecap="butt"/>
<line x1="519.68" y1="735" x2="526.88" y2="735" stroke="#6aaed6" stroke-width="1.8" stroke-linecap="butt"/>
<line x1="519.68" y1="738" x2="526.88" y2="738" stroke="#6aaed6" stroke-width="1.8" stroke-linecap="butt"/>
<circle cx="523.28" cy="736.5" r="2.8" fill="#6aaed6"/>
</g></svg>
<rect x="395.6" y="555.3" width="281.6" height="216.5" fill="none" stroke="#000" stroke-width="1.3"/>
<line x1="395.6" y1="663.7" x2="677.2" y2="663.7" stroke="#000" stroke-width="1.3" stroke-linecap="butt"/>
<line x1="389.6" y1="640.2" x2="395.6" y2="640.2" stroke="#000" stroke-width="1.2" stroke-linecap="butt"/>
<text x="383.4" y="643.33" font-size="8.7" text-anchor="end" fill="#000" textLength="15.65" lengthAdjust="spacingAndGlyphs" stroke="#000" stroke-width="0.15">200</text>
<line x1="389.6" y1="609.45" x2="395.6" y2="609.45" stroke="#000" stroke-width="1.2" stroke-linecap="butt"/>
<text x="383.4" y="612.58" font-size="8.7" text-anchor="end" fill="#000" textLength="15.65" lengthAdjust="spacingAndGlyphs" stroke="#000" stroke-width="0.15">400</text>
<line x1="389.6" y1="578.7" x2="395.6" y2="578.7" stroke="#000" stroke-width="1.2" stroke-linecap="butt"/>
<text x="383.4" y="581.83" font-size="8.7" text-anchor="end" fill="#000" textLength="15.65" lengthAdjust="spacingAndGlyphs" stroke="#000" stroke-width="0.15">600</text>
<line x1="389.6" y1="757.1" x2="395.6" y2="757.1" stroke="#000" stroke-width="1.2" stroke-linecap="butt"/>
<text x="383.4" y="760.23" font-size="8.7" text-anchor="end" fill="#000" textLength="10.43" lengthAdjust="spacingAndGlyphs" stroke="#000" stroke-width="0.15">25</text>
<line x1="389.6" y1="735.05" x2="395.6" y2="735.05" stroke="#000" stroke-width="1.2" stroke-linecap="butt"/>
<text x="383.4" y="738.18" font-size="8.7" text-anchor="end" fill="#000" textLength="10.43" lengthAdjust="spacingAndGlyphs" stroke="#000" stroke-width="0.15">50</text>
<line x1="389.6" y1="713" x2="395.6" y2="713" stroke="#000" stroke-width="1.2" stroke-linecap="butt"/>
<text x="383.4" y="716.13" font-size="8.7" text-anchor="end" fill="#000" textLength="10.43" lengthAdjust="spacingAndGlyphs" stroke="#000" stroke-width="0.15">75</text>
<line x1="389.6" y1="690.95" x2="395.6" y2="690.95" stroke="#000" stroke-width="1.2" stroke-linecap="butt"/>
<text x="383.4" y="694.08" font-size="8.7" text-anchor="end" fill="#000" textLength="15.65" lengthAdjust="spacingAndGlyphs" stroke="#000" stroke-width="0.15">100</text>
<line x1="389.6" y1="668.9" x2="395.6" y2="668.9" stroke="#000" stroke-width="1.2" stroke-linecap="butt"/>
<text x="383.4" y="672.03" font-size="8.7" text-anchor="end" fill="#000" textLength="15.65" lengthAdjust="spacingAndGlyphs" stroke="#000" stroke-width="0.15">125</text>
<line x1="419" y1="771.8" x2="419" y2="777.8" stroke="#000" stroke-width="1.2" stroke-linecap="butt"/>
<text x="419" y="789.6" font-size="8.7" text-anchor="middle" fill="#000" textLength="5.22" lengthAdjust="spacingAndGlyphs" stroke="#000" stroke-width="0.15">1</text>
<line x1="445.07" y1="771.8" x2="445.07" y2="777.8" stroke="#000" stroke-width="1.2" stroke-linecap="butt"/>
<text x="445.07" y="789.6" font-size="8.7" text-anchor="middle" fill="#000" textLength="5.22" lengthAdjust="spacingAndGlyphs" stroke="#000" stroke-width="0.15">2</text>
<line x1="471.14" y1="771.8" x2="471.14" y2="777.8" stroke="#000" stroke-width="1.2" stroke-linecap="butt"/>
<text x="471.14" y="789.6" font-size="8.7" text-anchor="middle" fill="#000" textLength="5.22" lengthAdjust="spacingAndGlyphs" stroke="#000" stroke-width="0.15">3</text>
<line x1="497.21" y1="771.8" x2="497.21" y2="777.8" stroke="#000" stroke-width="1.2" stroke-linecap="butt"/>
<text x="497.21" y="789.6" font-size="8.7" text-anchor="middle" fill="#000" textLength="5.22" lengthAdjust="spacingAndGlyphs" stroke="#000" stroke-width="0.15">4</text>
<line x1="523.28" y1="771.8" x2="523.28" y2="777.8" stroke="#000" stroke-width="1.2" stroke-linecap="butt"/>
<text x="523.28" y="789.6" font-size="8.7" text-anchor="middle" fill="#000" textLength="5.22" lengthAdjust="spacingAndGlyphs" stroke="#000" stroke-width="0.15">5</text>
<line x1="549.35" y1="771.8" x2="549.35" y2="777.8" stroke="#000" stroke-width="1.2" stroke-linecap="butt"/>
<text x="549.35" y="789.6" font-size="8.7" text-anchor="middle" fill="#000" textLength="5.22" lengthAdjust="spacingAndGlyphs" stroke="#000" stroke-width="0.15">6</text>
<line x1="575.42" y1="771.8" x2="575.42" y2="777.8" stroke="#000" stroke-width="1.2" stroke-linecap="butt"/>
<text x="575.42" y="789.6" font-size="8.7" text-anchor="middle" fill="#000" textLength="5.22" lengthAdjust="spacingAndGlyphs" stroke="#000" stroke-width="0.15">7</text>
<line x1="601.49" y1="771.8" x2="601.49" y2="777.8" stroke="#000" stroke-width="1.2" stroke-linecap="butt"/>
<text x="601.49" y="789.6" font-size="8.7" text-anchor="middle" fill="#000" textLength="5.22" lengthAdjust="spacingAndGlyphs" stroke="#000" stroke-width="0.15">8</text>
<line x1="627.56" y1="771.8" x2="627.56" y2="777.8" stroke="#000" stroke-width="1.2" stroke-linecap="butt"/>
<text x="627.56" y="789.6" font-size="8.7" text-anchor="middle" fill="#000" textLength="5.22" lengthAdjust="spacingAndGlyphs" stroke="#000" stroke-width="0.15">9</text>
<line x1="653.63" y1="771.8" x2="653.63" y2="777.8" stroke="#000" stroke-width="1.2" stroke-linecap="butt"/>
<text x="653.63" y="789.6" font-size="8.7" text-anchor="middle" fill="#000" textLength="10.43" lengthAdjust="spacingAndGlyphs" stroke="#000" stroke-width="0.15">10</text>
<text x="360.6" y="609.3" font-size="8.3" text-anchor="middle" fill="#000" textLength="66.12" lengthAdjust="spacingAndGlyphs" transform="rotate(-90 360.6 609.3)" stroke="#000" stroke-width="0.15">TCR (mm<tspan dy="-2.99" font-size="5.48">2</tspan><tspan dy="2.99">WK</tspan><tspan dy="-2.99" font-size="5.48">−1</tspan><tspan dy="2.99">)</tspan></text>
<text x="359.5" y="717.5" font-size="8.25" text-anchor="middle" fill="#000" textLength="103.12" lengthAdjust="spacingAndGlyphs" transform="rotate(-90 359.5 717.5)" stroke="#000" stroke-width="0.15">Predicted TCC (KW<tspan dy="-2.97" font-size="5.45">−1</tspan><tspan dy="2.97">m</tspan><tspan dy="-2.97" font-size="5.45">−2</tspan><tspan dy="2.97">)</tspan></text>
<text x="536.4" y="804.6" font-size="8.3" text-anchor="middle" fill="#000" textLength="96.37" lengthAdjust="spacingAndGlyphs" stroke="#000" stroke-width="0.15">Contact Pressure (MPa)</text>
<rect x="0.9" y="503.6" width="683.2" height="40.6" fill="#fff" stroke="#d3d3d3" stroke-width="1" fill-opacity="0.85" rx="2.2"/>
<line x1="5.3" y1="513.5" x2="66.2" y2="513.5" stroke="#c21d2b" stroke-width="1.6" stroke-linecap="butt"/>
<text x="76.6" y="517.9" font-size="12" text-anchor="start" fill="#000" textLength="58.72" lengthAdjust="spacingAndGlyphs" stroke="#000" stroke-width="0.15">This Work</text>
<line x1="5.3" y1="532.1" x2="66.2" y2="532.1" stroke="#6b0320" stroke-width="2.6" stroke-linecap="butt" stroke-dasharray="2.4,2.1"/>
<path d="M31.9 528.9L39.9 528.9L35.9 536.1Z" fill="#6b0320"/>
<text x="76.6" y="536.3" font-size="12" text-anchor="start" fill="#000" textLength="103.79" lengthAdjust="spacingAndGlyphs" stroke="#000" stroke-width="0.15">CMY (Xian et. al.)</text>
<line x1="205.3" y1="513.4" x2="266.6" y2="513.4" stroke="#3377b8" stroke-width="2.6" stroke-linecap="butt" stroke-dasharray="7.9,3.2"/>
<path d="M235.8 508.6L240.8 513.6L235.8 518.6L230.8 513.6Z" fill="#3377b8"/>
<text x="276.7" y="518.4" font-size="12" text-anchor="start" fill="#000" textLength="188.13" lengthAdjust="spacingAndGlyphs" stroke="#000" stroke-width="0.15">Machine Learning (Zhou et. al.)</text>
<line x1="204.6" y1="532.4" x2="266.6" y2="532.4" stroke="#dd6a55" stroke-width="2.6" stroke-linecap="butt"/>
<line x1="235.8" y1="526.5" x2="235.8" y2="538.6" stroke="#dd6a55" stroke-width="1.6" stroke-linecap="butt"/>
<line x1="232.7" y1="526.5" x2="238.9" y2="526.5" stroke="#dd6a55" stroke-width="1.6" stroke-linecap="butt"/>
<line x1="232.7" y1="538.6" x2="238.9" y2="538.6" stroke="#dd6a55" stroke-width="1.6" stroke-linecap="butt"/>
<circle cx="235.8" cy="532.4" r="2.8" fill="#dd6a55"/>
<text x="276.7" y="536" font-size="12" text-anchor="start" fill="#000" textLength="156.67" lengthAdjust="spacingAndGlyphs" stroke="#000" stroke-width="0.15">Fraction Model (Ma et. al.)</text>
<line x1="521.4" y1="507.7" x2="521.4" y2="520.1" stroke="#6aaed6" stroke-width="1.5" stroke-linecap="butt"/>
<line x1="518.4" y1="507.7" x2="524.4" y2="507.7" stroke="#6aaed6" stroke-width="1.5" stroke-linecap="butt"/>
<line x1="518.4" y1="520.1" x2="524.4" y2="520.1" stroke="#6aaed6" stroke-width="1.5" stroke-linecap="butt"/>
<circle cx="521.4" cy="513.9" r="2.2" fill="#6aaed6"/>
<text x="562" y="518.4" font-size="12" text-anchor="start" fill="#000" textLength="116.79" lengthAdjust="spacingAndGlyphs" stroke="#000" stroke-width="0.15">Experimental Value</text>
</svg>
</body></html>
